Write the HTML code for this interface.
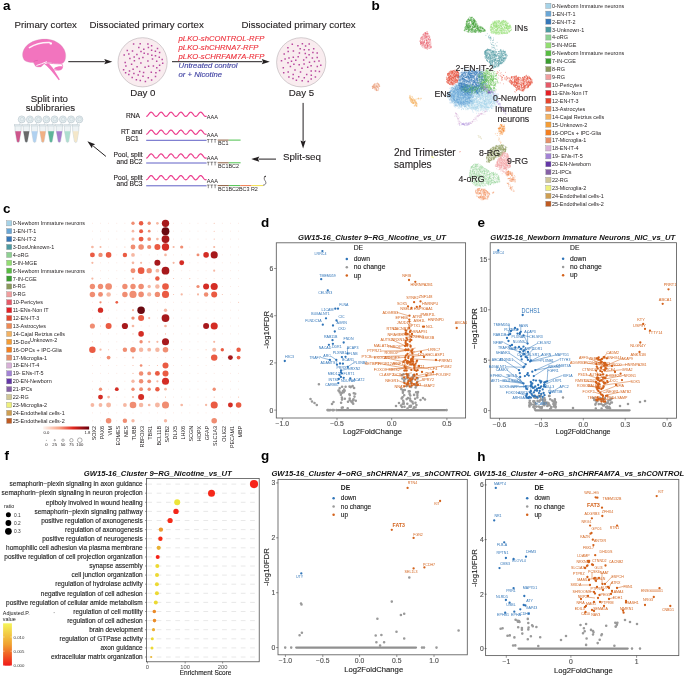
<!DOCTYPE html>
<html><head><meta charset="utf-8"><style>
html,body{margin:0;padding:0;background:#fff;}
svg{display:block;font-family:"Liberation Sans", sans-serif;will-change:transform;}
</style></head><body>
<svg width="685" height="677" viewBox="0 0 685 677" fill="#231f20">
<text x="3.1" y="10.3" font-size="13.5" font-weight="bold" fill="#000">a</text>
<text x="371.4" y="10.4" font-size="13.5" font-weight="bold" fill="#000">b</text>
<text x="3.0" y="212.5" font-size="13.5" font-weight="bold" fill="#000">c</text>
<text x="261.0" y="226.8" font-size="13.5" font-weight="bold" fill="#000">d</text>
<text x="477.6" y="226.8" font-size="13.5" font-weight="bold" fill="#000">e</text>
<text x="4.5" y="460.4" font-size="13.5" font-weight="bold" fill="#000">f</text>
<text x="261.1" y="459.9" font-size="13.5" font-weight="bold" fill="#000">g</text>
<text x="477.3" y="460.7" font-size="13.5" font-weight="bold" fill="#000">h</text>
<text x="14.5" y="28.4" font-size="9.7" stroke="#231f20" stroke-width="0.12">Primary cortex</text>
<text x="89.6" y="28.2" font-size="9.7" stroke="#231f20" stroke-width="0.12">Dissociated primary cortex</text>
<text x="241.5" y="28.2" font-size="9.7" stroke="#231f20" stroke-width="0.12">Dissociated primary cortex</text>
<path d="M24.1 60 C21.6 56 22 50.5 26.8 45.6 C31 41.4 38 39.1 44.6 39.1 C51.2 39.1 58 41.4 62.4 46.8 C65.8 51 66.6 56.5 64.8 60.8 C63.6 63 61.8 64 60 64.1 L47.2 62.3 C44.2 63.2 42.4 66 40.8 66.9 C38.6 67.3 36.2 66.9 35.3 65.9 C34.6 64.7 34.1 63.4 33.2 62.6 C29.6 62.6 26.2 61.9 24.1 60 Z" fill="#f274be" stroke="#c9a0b8" stroke-width="0.3"/>
<path d="M46.9 62.9 C51 63.5 56 63.9 61.6 63.8 C63.2 65.5 62.9 68 61 69.6 C58 70.6 54 70.1 51 69 C49 68 47.5 66 46.9 62.9Z" fill="#fff" stroke="#f274be" stroke-width="0.8"/>
<path d="M54 68.2 C56.5 66.6 59.5 66 62.4 66.4 C62.6 68 62 69.2 61 69.8 C58.6 70.6 56 70.2 54 68.2Z" fill="#f274be"/>
<path d="M44.4 64.3 C46.8 65.8 49 68 51 70.5 C53.5 73.6 56.4 77 58.8 80.2 L59.8 79.6 C58 76.4 55.8 72.6 53.8 69.6 C52.4 67.2 50.4 65.2 48.6 63.6 Z" fill="#f274be"/>
<path d="M36.4 65.5 C39.5 64.6 43.5 63 46.9 61.6" stroke="#fff" stroke-width="0.9" fill="none"/>
<path d="M29.4 47.6 C35 44.2 42 42.4 49.6 42.6" stroke="#fff" stroke-width="1.5" fill="none" stroke-linecap="round" stroke-opacity="0.9"/>
<circle cx="50.8" cy="43.4" r="1.2" fill="#fff"/>
<path d="M33.6 61.5 C34.8 60.7 36.4 60.4 37.8 60.4" stroke="#d0559c" stroke-width="0.5" fill="none"/>
<line x1="68.3" y1="61.7" x2="104.8" y2="61.7" stroke="#231f20" stroke-width="1.0"/>
<path d="M112.3 61.7L104.3 64.3L105.5 61.7L104.3 59.1Z" fill="#231f20"/>
<circle cx="142.6" cy="62.3" r="24.6" fill="#f9ecef" stroke="#a8a0a4" stroke-width="0.5"/>
<path d="M131.6 64.2h0M137.1 66.7h0M147.9 44.1h0M132.5 51.1h0M156.7 61.3h0M148.4 47.6h0M148.3 77.8h0M143.6 72.4h0M153.4 66.1h0M151.6 80.0h0M138.2 74.9h0M140.3 80.6h0M127.3 50.4h0M162.2 59.6h0M147.9 53.9h0M142.9 57.5h0M159.6 65.2h0M151.6 50.2h0M133.6 44.0h0M138.8 47.6h0M133.9 73.6h0M151.8 55.2h0M129.9 58.4h0M159.3 57.2h0M140.9 63.1h0M148.6 66.3h0M145.1 67.3h0M139.7 71.6h0M162.7 63.2h0M147.9 60.9h0M151.3 72.3h0M136.9 54.4h0M134.2 57.1h0M155.4 51.3h0M157.5 48.4h0M143.8 49.3h0M155.5 76.5h0M155.5 55.8h0M139.2 58.5h0M159.6 70.4h0M128.8 53.9h0M132.2 77.5h0M128.8 74.6h0M125.2 62.4h0M141.0 51.6h0M125.9 66.0h0M151.6 45.8h0M124.2 54.9h0M125.6 72.7h0M129.5 70.9h0M133.1 69.2h0M155.9 72.7h0M145.4 81.6h0M134.4 60.8h0M152.5 59.1h0M143.0 76.2h0M156.8 67.8h0M136.4 79.7h0M144.2 53.3h0M140.2 43.7h0M123.6 69.7h0M159.6 52.5h0" stroke="#b8479e" stroke-width="1.5" stroke-linecap="square" fill="none"/>
<circle cx="301.2" cy="62.3" r="24.6" fill="#f9ecef" stroke="#a8a0a4" stroke-width="0.5"/>
<path d="M299.2 64.8h0M319.0 60.9h0M288.0 62.8h0M306.7 74.6h0M284.2 54.0h0M307.7 67.2h0M302.4 43.8h0M288.2 51.5h0M281.5 60.8h0M298.7 76.7h0M302.0 68.2h0M299.4 53.0h0M315.5 71.0h0M293.4 50.9h0M292.3 44.2h0M312.4 58.1h0M283.3 67.7h0M312.9 52.6h0M313.7 48.8h0M303.7 60.1h0M288.2 72.0h0M285.1 59.0h0M293.0 78.5h0M289.0 57.9h0M290.4 66.6h0M295.8 60.3h0M304.3 77.7h0M287.9 47.8h0M317.3 66.6h0M297.9 45.7h0M305.3 53.6h0M300.5 72.0h0M311.2 79.1h0M311.2 70.9h0M295.0 70.1h0M306.4 57.4h0M311.1 65.7h0M283.7 72.8h0M309.5 62.2h0M317.2 57.4h0M315.4 76.9h0M293.2 74.5h0M308.9 49.7h0M300.2 48.8h0M319.4 71.6h0M293.3 57.3h0M288.9 77.0h0M304.3 49.7h0M309.2 44.1h0M291.5 61.2h0M309.1 54.8h0M311.3 75.3h0M320.8 65.2h0M302.2 80.7h0M305.6 46.1h0M293.9 64.3h0M298.2 56.8h0M317.2 53.1h0M314.5 61.4h0M296.4 80.3h0M304.1 64.1h0M308.2 81.4h0" stroke="#b8479e" stroke-width="1.5" stroke-linecap="square" fill="none"/>
<text x="130.2" y="96.3" font-size="9.7" stroke="#231f20" stroke-width="0.12">Day 0</text>
<text x="288.8" y="96.3" font-size="9.7" stroke="#231f20" stroke-width="0.12">Day 5</text>
<line x1="172.0" y1="61.7" x2="262.3" y2="61.7" stroke="#231f20" stroke-width="1.0"/>
<path d="M269.8 61.7L261.8 64.3L263.0 61.7L261.8 59.1Z" fill="#231f20"/>
<text x="178.6" y="40.5" font-size="7.7" font-style="italic" fill="#ed2f3a" stroke="#ed2f3a" stroke-width="0.12">pLKO-shCONTROL-RFP</text>
<text x="178.6" y="49.6" font-size="7.7" font-style="italic" fill="#ed2f3a" stroke="#ed2f3a" stroke-width="0.12">pLKO-shCHRNA7-RFP</text>
<text x="178.6" y="58.7" font-size="7.7" font-style="italic" fill="#ed2f3a" stroke="#ed2f3a" stroke-width="0.12">pLKO-sCHRFAM7A-RFP</text>
<text x="178.6" y="68.2" font-size="7.7" font-style="italic" fill="#3b3da0" stroke="#3b3da0" stroke-width="0.12">Untreated control</text>
<text x="178.6" y="77.2" font-size="7.7" font-style="italic" fill="#3b3da0" stroke="#3b3da0" stroke-width="0.12">or + Nicotine</text>
<line x1="303.1" y1="102.9" x2="303.1" y2="140.9" stroke="#231f20" stroke-width="1.0"/>
<path d="M303.1 148.4L300.5 140.4L303.1 141.6L305.7 140.4Z" fill="#231f20"/>
<text x="282.9" y="160.2" font-size="9.8" stroke="#231f20" stroke-width="0.12">Split-seq</text>
<line x1="276.0" y1="159.1" x2="258.8" y2="159.1" stroke="#231f20" stroke-width="1.0"/>
<path d="M251.3 159.1L259.3 156.5L258.1 159.1L259.3 161.7Z" fill="#231f20"/>
<line x1="105.9" y1="156.4" x2="93.2" y2="146.0" stroke="#231f20" stroke-width="1.0"/>
<path d="M87.4 141.2L95.2 144.3L92.7 145.5L91.9 148.3Z" fill="#231f20"/>
<text x="49.4" y="102.1" font-size="9.7" text-anchor="middle" stroke="#231f20" stroke-width="0.12">Split into</text>
<text x="50.4" y="111.0" font-size="9.7" text-anchor="middle" stroke="#231f20" stroke-width="0.12">sublibraries</text>
<circle cx="21.7" cy="119.4" r="3.5" fill="#e6eef1" stroke="#a4b4bb" stroke-width="0.45"/>
<circle cx="22.0" cy="119.2" r="1.8" fill="none" stroke="#b4c4cb" stroke-width="0.4"/>
<path d="M20.3 122.6 L19.3 125" stroke="#a4b4bb" stroke-width="0.4"/>
<path d="M14.9 125.2 L21.3 125.2 L21.1 131 L19.3 141.8 Q18.1 143.4 16.9 141.8 L15.1 131Z" fill="#eef3f5" stroke="#a9b8bf" stroke-width="0.4"/>
<path d="M15.2 131.2 L21.1 131.2 L19.2 141.6 Q18.1 143 17.0 141.6Z" fill="#c9457f" fill-opacity="0.9"/>
<rect x="14.5" y="124.6" width="7.2" height="1.4" fill="#e4ecef" stroke="#a9b8bf" stroke-width="0.3"/>
<circle cx="29.9" cy="119.4" r="3.5" fill="#e6eef1" stroke="#a4b4bb" stroke-width="0.45"/>
<circle cx="30.2" cy="119.2" r="1.8" fill="none" stroke="#b4c4cb" stroke-width="0.4"/>
<path d="M28.5 122.6 L27.5 125" stroke="#a4b4bb" stroke-width="0.4"/>
<path d="M23.1 125.2 L29.5 125.2 L29.3 131 L27.5 141.8 Q26.3 143.4 25.1 141.8 L23.3 131Z" fill="#eef3f5" stroke="#a9b8bf" stroke-width="0.4"/>
<path d="M23.4 131.2 L29.3 131.2 L27.4 141.6 Q26.3 143 25.2 141.6Z" fill="#5a5a5a" fill-opacity="0.9"/>
<rect x="22.7" y="124.6" width="7.2" height="1.4" fill="#e4ecef" stroke="#a9b8bf" stroke-width="0.3"/>
<circle cx="38.2" cy="119.4" r="3.5" fill="#e6eef1" stroke="#a4b4bb" stroke-width="0.45"/>
<circle cx="38.5" cy="119.2" r="1.8" fill="none" stroke="#b4c4cb" stroke-width="0.4"/>
<path d="M36.8 122.6 L35.8 125" stroke="#a4b4bb" stroke-width="0.4"/>
<path d="M31.4 125.2 L37.8 125.2 L37.6 131 L35.8 141.8 Q34.6 143.4 33.4 141.8 L31.6 131Z" fill="#eef3f5" stroke="#a9b8bf" stroke-width="0.4"/>
<path d="M31.6 131.2 L37.5 131.2 L35.7 141.6 Q34.6 143 33.5 141.6Z" fill="#a9cdef" fill-opacity="0.9"/>
<rect x="31.0" y="124.6" width="7.2" height="1.4" fill="#e4ecef" stroke="#a9b8bf" stroke-width="0.3"/>
<circle cx="46.4" cy="119.4" r="3.5" fill="#e6eef1" stroke="#a4b4bb" stroke-width="0.45"/>
<circle cx="46.7" cy="119.2" r="1.8" fill="none" stroke="#b4c4cb" stroke-width="0.4"/>
<path d="M45.0 122.6 L44.0 125" stroke="#a4b4bb" stroke-width="0.4"/>
<path d="M39.6 125.2 L46.0 125.2 L45.8 131 L44.0 141.8 Q42.8 143.4 41.6 141.8 L39.8 131Z" fill="#eef3f5" stroke="#a9b8bf" stroke-width="0.4"/>
<path d="M39.8 131.2 L45.7 131.2 L43.9 141.6 Q42.8 143 41.7 141.6Z" fill="#f0a878" fill-opacity="0.9"/>
<rect x="39.2" y="124.6" width="7.2" height="1.4" fill="#e4ecef" stroke="#a9b8bf" stroke-width="0.3"/>
<circle cx="54.6" cy="119.4" r="3.5" fill="#e6eef1" stroke="#a4b4bb" stroke-width="0.45"/>
<circle cx="54.9" cy="119.2" r="1.8" fill="none" stroke="#b4c4cb" stroke-width="0.4"/>
<path d="M53.2 122.6 L52.2 125" stroke="#a4b4bb" stroke-width="0.4"/>
<path d="M47.8 125.2 L54.2 125.2 L54.0 131 L52.2 141.8 Q51.0 143.4 49.8 141.8 L48.0 131Z" fill="#eef3f5" stroke="#a9b8bf" stroke-width="0.4"/>
<path d="M48.1 131.2 L54.0 131.2 L52.1 141.6 Q51.0 143 49.9 141.6Z" fill="#4fae8f" fill-opacity="0.9"/>
<rect x="47.4" y="124.6" width="7.2" height="1.4" fill="#e4ecef" stroke="#a9b8bf" stroke-width="0.3"/>
<circle cx="62.9" cy="119.4" r="3.5" fill="#e6eef1" stroke="#a4b4bb" stroke-width="0.45"/>
<circle cx="63.2" cy="119.2" r="1.8" fill="none" stroke="#b4c4cb" stroke-width="0.4"/>
<path d="M61.5 122.6 L60.5 125" stroke="#a4b4bb" stroke-width="0.4"/>
<path d="M56.1 125.2 L62.5 125.2 L62.3 131 L60.5 141.8 Q59.3 143.4 58.1 141.8 L56.3 131Z" fill="#eef3f5" stroke="#a9b8bf" stroke-width="0.4"/>
<path d="M56.3 131.2 L62.2 131.2 L60.4 141.6 Q59.3 143 58.2 141.6Z" fill="#a070c8" fill-opacity="0.9"/>
<rect x="55.7" y="124.6" width="7.2" height="1.4" fill="#e4ecef" stroke="#a9b8bf" stroke-width="0.3"/>
<circle cx="71.1" cy="119.4" r="3.5" fill="#e6eef1" stroke="#a4b4bb" stroke-width="0.45"/>
<circle cx="71.4" cy="119.2" r="1.8" fill="none" stroke="#b4c4cb" stroke-width="0.4"/>
<path d="M69.7 122.6 L68.7 125" stroke="#a4b4bb" stroke-width="0.4"/>
<path d="M64.3 125.2 L70.7 125.2 L70.5 131 L68.7 141.8 Q67.5 143.4 66.3 141.8 L64.5 131Z" fill="#eef3f5" stroke="#a9b8bf" stroke-width="0.4"/>
<path d="M64.5 131.2 L70.4 131.2 L68.6 141.6 Q67.5 143 66.4 141.6Z" fill="#a6dccb" fill-opacity="0.9"/>
<rect x="63.9" y="124.6" width="7.2" height="1.4" fill="#e4ecef" stroke="#a9b8bf" stroke-width="0.3"/>
<circle cx="79.3" cy="119.4" r="3.5" fill="#e6eef1" stroke="#a4b4bb" stroke-width="0.45"/>
<circle cx="79.6" cy="119.2" r="1.8" fill="none" stroke="#b4c4cb" stroke-width="0.4"/>
<path d="M77.9 122.6 L76.9 125" stroke="#a4b4bb" stroke-width="0.4"/>
<path d="M72.5 125.2 L78.9 125.2 L78.7 131 L76.9 141.8 Q75.7 143.4 74.5 141.8 L72.7 131Z" fill="#eef3f5" stroke="#a9b8bf" stroke-width="0.4"/>
<path d="M72.8 131.2 L78.7 131.2 L76.8 141.6 Q75.7 143 74.6 141.6Z" fill="#f4e6c4" fill-opacity="0.9"/>
<rect x="72.1" y="124.6" width="7.2" height="1.4" fill="#e4ecef" stroke="#a9b8bf" stroke-width="0.3"/>
<path d="M146.2 116.4L146.45 116.37L146.70 116.29L146.95 116.17L147.20 115.99L147.45 115.77L147.70 115.51L147.95 115.23L148.20 114.92L148.46 114.59L148.71 114.26L148.96 113.93L149.21 113.60L149.46 113.30L149.71 113.02L149.96 112.77L150.21 112.56L150.46 112.40L150.71 112.28L150.96 112.21L151.21 112.20L151.46 112.24L151.71 112.33L151.96 112.47L152.21 112.66L152.47 112.89L152.72 113.15L152.97 113.45L153.22 113.76L153.47 114.09L153.72 114.42L153.97 114.76L154.22 115.07L154.47 115.37L154.72 115.65L154.97 115.88L155.22 116.08L155.47 116.24L155.72 116.34L155.97 116.39L156.22 116.39L156.48 116.34L156.73 116.24L156.98 116.08L157.23 115.88L157.48 115.65L157.73 115.37L157.98 115.08L158.23 114.76L158.48 114.43L158.73 114.09L158.98 113.76L159.23 113.45L159.48 113.16L159.73 112.89L159.98 112.66L160.23 112.47L160.49 112.33L160.74 112.24L160.99 112.20L161.24 112.21L161.49 112.28L161.74 112.40L161.99 112.56L162.24 112.77L162.49 113.02L162.74 113.30L162.99 113.60L163.24 113.93L163.49 114.26L163.74 114.59L163.99 114.92L164.24 115.23L164.50 115.51L164.75 115.77L165.00 115.99L165.25 116.16L165.50 116.29L165.75 116.37L166.00 116.40L166.25 116.37L166.50 116.29L166.75 116.17L167.00 115.99L167.25 115.77L167.50 115.51L167.75 115.23L168.00 114.92L168.25 114.59L168.51 114.26L168.76 113.93L169.01 113.60L169.26 113.30L169.51 113.02L169.76 112.77L170.01 112.56L170.26 112.40L170.51 112.28L170.76 112.22L171.01 112.20L171.26 112.24L171.51 112.33L171.76 112.47L172.01 112.66L172.26 112.89L172.52 113.15L172.77 113.45L173.02 113.76L173.27 114.09L173.52 114.42L173.77 114.75L174.02 115.07L174.27 115.37L174.52 115.65L174.77 115.88L175.02 116.08L175.27 116.24L175.52 116.34L175.77 116.39L176.02 116.39L176.27 116.34L176.53 116.24L176.78 116.08L177.03 115.89L177.28 115.65L177.53 115.38L177.78 115.08L178.03 114.76L178.28 114.43L178.53 114.09L178.78 113.76L179.03 113.45L179.28 113.16L179.53 112.89L179.78 112.66L180.03 112.48L180.28 112.33L180.54 112.24L180.79 112.20L181.04 112.21L181.29 112.28L181.54 112.40L181.79 112.56L182.04 112.77L182.29 113.02L182.54 113.30L182.79 113.60L183.04 113.92L183.29 114.26L183.54 114.59L183.79 114.92L184.04 115.23L184.29 115.51L184.55 115.77L184.80 115.99L185.05 116.16L185.30 116.29L185.55 116.37L185.80 116.40L186.05 116.37L186.30 116.30L186.55 116.17L186.80 115.99L187.05 115.77L187.30 115.52L187.55 115.23L187.80 114.92L188.05 114.59L188.30 114.26L188.56 113.93L188.81 113.61L189.06 113.30L189.31 113.02L189.56 112.77L189.81 112.56L190.06 112.40L190.31 112.28L190.56 112.22L190.81 112.20L191.06 112.24L191.31 112.33L191.56 112.47L191.81 112.66L192.06 112.89L192.31 113.15L192.57 113.45L192.82 113.76L193.07 114.09L193.32 114.42L193.57 114.75L193.82 115.07L194.07 115.37L194.32 115.64L194.57 115.88L194.82 116.08L195.07 116.24L195.32 116.34L195.57 116.39L195.82 116.39L196.07 116.34L196.32 116.24L196.58 116.08L196.83 115.89L197.08 115.65L197.33 115.38L197.58 115.08L197.83 114.76L198.08 114.43L198.33 114.09L198.58 113.77L198.83 113.45L199.08 113.16L199.33 112.89L199.58 112.66L199.83 112.48L200.08 112.33L200.33 112.24L200.59 112.20L200.84 112.21L201.09 112.28L201.34 112.40L201.59 112.56L201.84 112.77L202.09 113.02L202.34 113.30L202.59 113.60L202.84 113.92L203.09 114.26L203.34 114.59L203.59 114.91L203.84 115.22L204.09 115.51L204.34 115.77L204.60 115.99L204.85 116.16L205.10 116.29L205.35 116.37L205.60 116.40L205.85 116.37L206.10 116.30L206.35 116.17L206.60 115.99" stroke="#ec3d8d" stroke-width="1.2" fill="none"/>
<text x="140.0" y="117.9" font-size="6.7" text-anchor="end" stroke="#231f20" stroke-width="0.12">RNA</text>
<text x="206.8" y="118.9" font-size="5.6">AAA</text>
<path d="M146.2 134.3L146.45 134.27L146.70 134.19L146.95 134.07L147.20 133.89L147.45 133.67L147.70 133.41L147.95 133.13L148.20 132.82L148.46 132.49L148.71 132.16L148.96 131.83L149.21 131.50L149.46 131.20L149.71 130.92L149.96 130.67L150.21 130.46L150.46 130.30L150.71 130.18L150.96 130.11L151.21 130.10L151.46 130.14L151.71 130.23L151.96 130.37L152.21 130.56L152.47 130.79L152.72 131.05L152.97 131.35L153.22 131.66L153.47 131.99L153.72 132.32L153.97 132.66L154.22 132.97L154.47 133.27L154.72 133.55L154.97 133.78L155.22 133.98L155.47 134.14L155.72 134.24L155.97 134.29L156.22 134.29L156.48 134.24L156.73 134.14L156.98 133.98L157.23 133.78L157.48 133.55L157.73 133.27L157.98 132.98L158.23 132.66L158.48 132.33L158.73 131.99L158.98 131.66L159.23 131.35L159.48 131.06L159.73 130.79L159.98 130.56L160.23 130.37L160.49 130.23L160.74 130.14L160.99 130.10L161.24 130.11L161.49 130.18L161.74 130.30L161.99 130.46L162.24 130.67L162.49 130.92L162.74 131.20L162.99 131.50L163.24 131.83L163.49 132.16L163.74 132.49L163.99 132.82L164.24 133.13L164.50 133.41L164.75 133.67L165.00 133.89L165.25 134.06L165.50 134.19L165.75 134.27L166.00 134.30L166.25 134.27L166.50 134.19L166.75 134.07L167.00 133.89L167.25 133.67L167.50 133.41L167.75 133.13L168.00 132.82L168.25 132.49L168.51 132.16L168.76 131.83L169.01 131.50L169.26 131.20L169.51 130.92L169.76 130.67L170.01 130.46L170.26 130.30L170.51 130.18L170.76 130.12L171.01 130.10L171.26 130.14L171.51 130.23L171.76 130.37L172.01 130.56L172.26 130.79L172.52 131.05L172.77 131.35L173.02 131.66L173.27 131.99L173.52 132.32L173.77 132.65L174.02 132.97L174.27 133.27L174.52 133.55L174.77 133.78L175.02 133.98L175.27 134.14L175.52 134.24L175.77 134.29L176.02 134.29L176.27 134.24L176.53 134.14L176.78 133.98L177.03 133.79L177.28 133.55L177.53 133.28L177.78 132.98L178.03 132.66L178.28 132.33L178.53 131.99L178.78 131.66L179.03 131.35L179.28 131.06L179.53 130.79L179.78 130.56L180.03 130.38L180.28 130.23L180.54 130.14L180.79 130.10L181.04 130.11L181.29 130.18L181.54 130.30L181.79 130.46L182.04 130.67L182.29 130.92L182.54 131.20L182.79 131.50L183.04 131.82L183.29 132.16L183.54 132.49L183.79 132.82L184.04 133.13L184.29 133.41L184.55 133.67L184.80 133.89L185.05 134.06L185.30 134.19L185.55 134.27L185.80 134.30L186.05 134.27L186.30 134.20L186.55 134.07L186.80 133.89L187.05 133.67L187.30 133.42L187.55 133.13L187.80 132.82L188.05 132.49L188.30 132.16L188.56 131.83L188.81 131.51L189.06 131.20L189.31 130.92L189.56 130.67L189.81 130.46L190.06 130.30L190.31 130.18L190.56 130.12L190.81 130.10L191.06 130.14L191.31 130.23L191.56 130.37L191.81 130.56L192.06 130.79L192.31 131.05L192.57 131.35L192.82 131.66L193.07 131.99L193.32 132.32L193.57 132.65L193.82 132.97L194.07 133.27L194.32 133.54L194.57 133.78L194.82 133.98L195.07 134.14L195.32 134.24L195.57 134.29L195.82 134.29L196.07 134.24L196.32 134.14L196.58 133.98L196.83 133.79L197.08 133.55L197.33 133.28L197.58 132.98L197.83 132.66L198.08 132.33L198.33 131.99L198.58 131.67L198.83 131.35L199.08 131.06L199.33 130.79L199.58 130.56L199.83 130.38L200.08 130.23L200.33 130.14L200.59 130.10L200.84 130.11L201.09 130.18L201.34 130.30L201.59 130.46L201.84 130.67L202.09 130.92L202.34 131.20L202.59 131.50L202.84 131.82L203.09 132.16L203.34 132.49L203.59 132.81L203.84 133.12L204.09 133.41L204.34 133.67L204.60 133.89L204.85 134.06L205.10 134.19L205.35 134.27L205.60 134.30L205.85 134.27L206.10 134.20L206.35 134.07L206.60 133.89" stroke="#ec3d8d" stroke-width="1.2" fill="none"/>
<text x="142.6" y="134.3" font-size="6.7" text-anchor="end" stroke="#231f20" stroke-width="0.12">RT and</text>
<text x="138.8" y="141.2" font-size="6.7" text-anchor="end" stroke="#231f20" stroke-width="0.12">BC1</text>
<line x1="146.2" y1="140.3" x2="206.6" y2="140.3" stroke="#4f4fc0" stroke-width="0.9"/>
<text x="206.8" y="137.0" font-size="5.6">AAA</text>
<path d="M207.0 139.5h2.6M208.3 139.5v3.2" stroke="#231f20" stroke-width="0.5"/>
<path d="M210.4 139.5h2.6M211.7 139.5v3.2" stroke="#231f20" stroke-width="0.5"/>
<path d="M213.8 139.5h2.6M215.1 139.5v3.2" stroke="#231f20" stroke-width="0.5"/>
<line x1="217.7" y1="140.1" x2="228.7" y2="140.1" stroke="#8b5a3c" stroke-width="1.0"/>
<line x1="228.7" y1="140.1" x2="240.6" y2="140.1" stroke="#4cc04c" stroke-width="1.0"/>
<text x="218.0" y="145.3" font-size="5.4">BC1</text>
<path d="M146.2 158.1L146.45 158.07L146.70 157.99L146.95 157.87L147.20 157.69L147.45 157.47L147.70 157.21L147.95 156.93L148.20 156.62L148.46 156.29L148.71 155.96L148.96 155.63L149.21 155.30L149.46 155.00L149.71 154.72L149.96 154.47L150.21 154.26L150.46 154.10L150.71 153.98L150.96 153.91L151.21 153.90L151.46 153.94L151.71 154.03L151.96 154.17L152.21 154.36L152.47 154.59L152.72 154.85L152.97 155.15L153.22 155.46L153.47 155.79L153.72 156.12L153.97 156.46L154.22 156.77L154.47 157.07L154.72 157.35L154.97 157.58L155.22 157.78L155.47 157.94L155.72 158.04L155.97 158.09L156.22 158.09L156.48 158.04L156.73 157.94L156.98 157.78L157.23 157.58L157.48 157.35L157.73 157.07L157.98 156.78L158.23 156.46L158.48 156.13L158.73 155.79L158.98 155.46L159.23 155.15L159.48 154.86L159.73 154.59L159.98 154.36L160.23 154.17L160.49 154.03L160.74 153.94L160.99 153.90L161.24 153.91L161.49 153.98L161.74 154.10L161.99 154.26L162.24 154.47L162.49 154.72L162.74 155.00L162.99 155.30L163.24 155.63L163.49 155.96L163.74 156.29L163.99 156.62L164.24 156.93L164.50 157.21L164.75 157.47L165.00 157.69L165.25 157.86L165.50 157.99L165.75 158.07L166.00 158.10L166.25 158.07L166.50 157.99L166.75 157.87L167.00 157.69L167.25 157.47L167.50 157.21L167.75 156.93L168.00 156.62L168.25 156.29L168.51 155.96L168.76 155.63L169.01 155.30L169.26 155.00L169.51 154.72L169.76 154.47L170.01 154.26L170.26 154.10L170.51 153.98L170.76 153.92L171.01 153.90L171.26 153.94L171.51 154.03L171.76 154.17L172.01 154.36L172.26 154.59L172.52 154.85L172.77 155.15L173.02 155.46L173.27 155.79L173.52 156.12L173.77 156.45L174.02 156.77L174.27 157.07L174.52 157.35L174.77 157.58L175.02 157.78L175.27 157.94L175.52 158.04L175.77 158.09L176.02 158.09L176.27 158.04L176.53 157.94L176.78 157.78L177.03 157.59L177.28 157.35L177.53 157.08L177.78 156.78L178.03 156.46L178.28 156.13L178.53 155.79L178.78 155.46L179.03 155.15L179.28 154.86L179.53 154.59L179.78 154.36L180.03 154.18L180.28 154.03L180.54 153.94L180.79 153.90L181.04 153.91L181.29 153.98L181.54 154.10L181.79 154.26L182.04 154.47L182.29 154.72L182.54 155.00L182.79 155.30L183.04 155.62L183.29 155.96L183.54 156.29L183.79 156.62L184.04 156.93L184.29 157.21L184.55 157.47L184.80 157.69L185.05 157.86L185.30 157.99L185.55 158.07L185.80 158.10L186.05 158.07L186.30 158.00L186.55 157.87L186.80 157.69L187.05 157.47L187.30 157.22L187.55 156.93L187.80 156.62L188.05 156.29L188.30 155.96L188.56 155.63L188.81 155.31L189.06 155.00L189.31 154.72L189.56 154.47L189.81 154.26L190.06 154.10L190.31 153.98L190.56 153.92L190.81 153.90L191.06 153.94L191.31 154.03L191.56 154.17L191.81 154.36L192.06 154.59L192.31 154.85L192.57 155.15L192.82 155.46L193.07 155.79L193.32 156.12L193.57 156.45L193.82 156.77L194.07 157.07L194.32 157.34L194.57 157.58L194.82 157.78L195.07 157.94L195.32 158.04L195.57 158.09L195.82 158.09L196.07 158.04L196.32 157.94L196.58 157.78L196.83 157.59L197.08 157.35L197.33 157.08L197.58 156.78L197.83 156.46L198.08 156.13L198.33 155.79L198.58 155.47L198.83 155.15L199.08 154.86L199.33 154.59L199.58 154.36L199.83 154.18L200.08 154.03L200.33 153.94L200.59 153.90L200.84 153.91L201.09 153.98L201.34 154.10L201.59 154.26L201.84 154.47L202.09 154.72L202.34 155.00L202.59 155.30L202.84 155.62L203.09 155.96L203.34 156.29L203.59 156.61L203.84 156.92L204.09 157.21L204.34 157.47L204.60 157.69L204.85 157.86L205.10 157.99L205.35 158.07L205.60 158.10L205.85 158.07L206.10 158.00L206.35 157.87L206.60 157.69" stroke="#ec3d8d" stroke-width="1.2" fill="none"/>
<text x="142.6" y="157.4" font-size="6.7" text-anchor="end" stroke="#231f20" stroke-width="0.12">Pool, split</text>
<text x="142.6" y="164.3" font-size="6.7" text-anchor="end" stroke="#231f20" stroke-width="0.12">and BC2</text>
<line x1="146.2" y1="163.0" x2="206.6" y2="163.0" stroke="#4f4fc0" stroke-width="0.9"/>
<text x="206.8" y="159.7" font-size="5.6">AAA</text>
<path d="M207.0 162.2h2.6M208.3 162.2v3.2" stroke="#231f20" stroke-width="0.5"/>
<path d="M210.4 162.2h2.6M211.7 162.2v3.2" stroke="#231f20" stroke-width="0.5"/>
<path d="M213.8 162.2h2.6M215.1 162.2v3.2" stroke="#231f20" stroke-width="0.5"/>
<line x1="217.7" y1="162.8" x2="228.7" y2="162.8" stroke="#8b5a3c" stroke-width="1.0"/>
<line x1="228.7" y1="162.8" x2="240.6" y2="162.8" stroke="#4cc04c" stroke-width="1.0"/>
<text x="218.0" y="168.0" font-size="5.4">BC1BC2</text>
<path d="M146.2 179.8L146.45 179.77L146.70 179.69L146.95 179.57L147.20 179.39L147.45 179.17L147.70 178.91L147.95 178.63L148.20 178.32L148.46 177.99L148.71 177.66L148.96 177.33L149.21 177.00L149.46 176.70L149.71 176.42L149.96 176.17L150.21 175.96L150.46 175.80L150.71 175.68L150.96 175.61L151.21 175.60L151.46 175.64L151.71 175.73L151.96 175.87L152.21 176.06L152.47 176.29L152.72 176.55L152.97 176.85L153.22 177.16L153.47 177.49L153.72 177.82L153.97 178.16L154.22 178.47L154.47 178.77L154.72 179.05L154.97 179.28L155.22 179.48L155.47 179.64L155.72 179.74L155.97 179.79L156.22 179.79L156.48 179.74L156.73 179.64L156.98 179.48L157.23 179.28L157.48 179.05L157.73 178.77L157.98 178.48L158.23 178.16L158.48 177.83L158.73 177.49L158.98 177.16L159.23 176.85L159.48 176.56L159.73 176.29L159.98 176.06L160.23 175.87L160.49 175.73L160.74 175.64L160.99 175.60L161.24 175.61L161.49 175.68L161.74 175.80L161.99 175.96L162.24 176.17L162.49 176.42L162.74 176.70L162.99 177.00L163.24 177.33L163.49 177.66L163.74 177.99L163.99 178.32L164.24 178.63L164.50 178.91L164.75 179.17L165.00 179.39L165.25 179.56L165.50 179.69L165.75 179.77L166.00 179.80L166.25 179.77L166.50 179.69L166.75 179.57L167.00 179.39L167.25 179.17L167.50 178.91L167.75 178.63L168.00 178.32L168.25 177.99L168.51 177.66L168.76 177.33L169.01 177.00L169.26 176.70L169.51 176.42L169.76 176.17L170.01 175.96L170.26 175.80L170.51 175.68L170.76 175.62L171.01 175.60L171.26 175.64L171.51 175.73L171.76 175.87L172.01 176.06L172.26 176.29L172.52 176.55L172.77 176.85L173.02 177.16L173.27 177.49L173.52 177.82L173.77 178.15L174.02 178.47L174.27 178.77L174.52 179.05L174.77 179.28L175.02 179.48L175.27 179.64L175.52 179.74L175.77 179.79L176.02 179.79L176.27 179.74L176.53 179.64L176.78 179.48L177.03 179.29L177.28 179.05L177.53 178.78L177.78 178.48L178.03 178.16L178.28 177.83L178.53 177.49L178.78 177.16L179.03 176.85L179.28 176.56L179.53 176.29L179.78 176.06L180.03 175.88L180.28 175.73L180.54 175.64L180.79 175.60L181.04 175.61L181.29 175.68L181.54 175.80L181.79 175.96L182.04 176.17L182.29 176.42L182.54 176.70L182.79 177.00L183.04 177.32L183.29 177.66L183.54 177.99L183.79 178.32L184.04 178.63L184.29 178.91L184.55 179.17L184.80 179.39L185.05 179.56L185.30 179.69L185.55 179.77L185.80 179.80L186.05 179.77L186.30 179.70L186.55 179.57L186.80 179.39L187.05 179.17L187.30 178.92L187.55 178.63L187.80 178.32L188.05 177.99L188.30 177.66L188.56 177.33L188.81 177.01L189.06 176.70L189.31 176.42L189.56 176.17L189.81 175.96L190.06 175.80L190.31 175.68L190.56 175.62L190.81 175.60L191.06 175.64L191.31 175.73L191.56 175.87L191.81 176.06L192.06 176.29L192.31 176.55L192.57 176.85L192.82 177.16L193.07 177.49L193.32 177.82L193.57 178.15L193.82 178.47L194.07 178.77L194.32 179.04L194.57 179.28L194.82 179.48L195.07 179.64L195.32 179.74L195.57 179.79L195.82 179.79L196.07 179.74L196.32 179.64L196.58 179.48L196.83 179.29L197.08 179.05L197.33 178.78L197.58 178.48L197.83 178.16L198.08 177.83L198.33 177.49L198.58 177.17L198.83 176.85L199.08 176.56L199.33 176.29L199.58 176.06L199.83 175.88L200.08 175.73L200.33 175.64L200.59 175.60L200.84 175.61L201.09 175.68L201.34 175.80L201.59 175.96L201.84 176.17L202.09 176.42L202.34 176.70L202.59 177.00L202.84 177.32L203.09 177.66L203.34 177.99L203.59 178.31L203.84 178.62L204.09 178.91L204.34 179.17L204.60 179.39L204.85 179.56L205.10 179.69L205.35 179.77L205.60 179.80L205.85 179.77L206.10 179.70L206.35 179.57L206.60 179.39" stroke="#ec3d8d" stroke-width="1.2" fill="none"/>
<text x="142.6" y="179.5" font-size="6.7" text-anchor="end" stroke="#231f20" stroke-width="0.12">Pool, split</text>
<text x="142.6" y="186.4" font-size="6.7" text-anchor="end" stroke="#231f20" stroke-width="0.12">and BC3</text>
<line x1="146.2" y1="185.8" x2="206.6" y2="185.8" stroke="#4f4fc0" stroke-width="0.9"/>
<text x="206.8" y="182.5" font-size="5.6">AAA</text>
<path d="M207.0 185.0h2.6M208.3 185.0v3.2" stroke="#231f20" stroke-width="0.5"/>
<path d="M210.4 185.0h2.6M211.7 185.0v3.2" stroke="#231f20" stroke-width="0.5"/>
<path d="M213.8 185.0h2.6M215.1 185.0v3.2" stroke="#231f20" stroke-width="0.5"/>
<line x1="217.7" y1="185.6" x2="228.9" y2="185.6" stroke="#8b5a3c" stroke-width="1.0"/>
<line x1="228.9" y1="185.6" x2="240.2" y2="185.6" stroke="#4cc04c" stroke-width="1.0"/>
<line x1="240.2" y1="185.6" x2="251.5" y2="185.6" stroke="#f07a4a" stroke-width="1.0"/>
<line x1="251.5" y1="185.6" x2="263" y2="185.6" stroke="#f2e04a" stroke-width="1.0"/>
<text x="218.0" y="190.8" font-size="5.4">BC1BC2BC3 R2</text>
<path d="M263 185.2 C266 185 266.6 182.6 265 180.6 C263.6 178.8 264.2 177 265.2 176" stroke="#231f20" stroke-width="0.6" fill="none"/>
<path d="M264.2 176.6 L265.6 175.4 L266 177.2Z" fill="#231f20"/>
<path d="M482.4 28.3h0M477.3 26.2h0M473.5 22.8h0M479.9 32.4h0M473.8 20.8h0M474.2 21.6h0M472.4 30.8h0M475.6 25.5h0M471.2 18.7h0M475.2 32.5h0M483.7 29.2h0M480.2 31.0h0M480.8 29.1h0M471.8 32.2h0M480.6 27.9h0M474.2 25.0h0M474.8 31.3h0M475.0 29.8h0M471.8 30.6h0M476.5 31.2h0M468.9 21.7h0M475.1 24.8h0M478.3 25.9h0M470.9 19.8h0M475.3 31.4h0M482.0 28.1h0M469.0 30.5h0M466.3 24.9h0M468.6 30.6h0M473.3 28.0h0M467.8 27.3h0M468.0 27.6h0M472.5 17.2h0M477.5 28.4h0M466.5 21.9h0M480.9 28.3h0M483.8 28.6h0M483.0 27.8h0M474.4 20.1h0M466.2 23.7h0M466.1 26.7h0M475.2 32.2h0M469.1 23.6h0M469.5 26.0h0M477.7 29.3h0M473.3 24.9h0M473.0 18.3h0M469.1 20.0h0M475.5 23.9h0M470.8 26.8h0M468.7 31.0h0M473.5 24.7h0M473.2 24.9h0M475.4 31.2h0M482.5 27.3h0M473.0 24.3h0M468.6 25.9h0M472.2 31.5h0M465.7 28.6h0M468.2 25.6h0M472.6 23.9h0M465.8 30.1h0M478.1 31.9h0M478.5 28.9h0M471.9 23.8h0M475.6 24.1h0M484.5 29.9h0M470.5 20.2h0M474.8 20.7h0M473.4 27.4h0M471.8 32.5h0M467.2 23.2h0M470.5 20.2h0M478.8 27.4h0M473.7 24.9h0M466.5 25.2h0M466.1 24.8h0M477.1 30.6h0M468.0 24.7h0M474.6 23.0h0M479.6 31.5h0M480.4 27.0h0M480.8 30.1h0M468.9 26.4h0M472.9 27.2h0M479.7 30.6h0M478.3 29.6h0M480.0 26.2h0M483.9 30.7h0M466.2 29.5h0M468.2 29.4h0M467.0 26.3h0M473.6 20.6h0M476.5 24.0h0M468.5 32.0h0M474.7 29.9h0M478.5 28.6h0M474.7 27.3h0M471.4 20.8h0M465.8 28.6h0M467.8 28.5h0M478.8 29.1h0M467.6 22.6h0M474.2 21.2h0M475.8 22.6h0M473.7 30.4h0M470.8 26.9h0M474.6 25.1h0M478.2 29.2h0M475.7 30.1h0M470.8 20.2h0M474.1 20.2h0M470.1 31.8h0M466.5 29.6h0M472.3 22.3h0M471.0 17.7h0M474.1 19.2h0M473.7 21.2h0M483.7 31.2h0M473.7 26.7h0M468.2 27.4h0M472.2 22.2h0M472.8 29.7h0M471.5 30.6h0M479.2 31.7h0M480.3 28.5h0M483.1 31.5h0M480.6 32.2h0M470.4 26.5h0M472.7 19.3h0M474.5 30.8h0M468.1 31.9h0M471.7 22.2h0M484.2 30.6h0M470.3 26.7h0M467.3 21.6h0M469.5 23.2h0M469.5 22.0h0M469.4 20.3h0M472.2 28.8h0M475.5 30.0h0M471.4 28.8h0M474.4 26.4h0M471.0 29.9h0M477.1 25.9h0M475.8 32.3h0M474.0 23.1h0M466.8 31.5h0M479.0 31.1h0M466.3 22.1h0M465.1 30.9h0M469.3 24.2h0M468.4 31.2h0M479.0 30.5h0M467.1 24.4h0M472.3 26.5h0M482.9 31.0h0M466.3 29.6h0M472.3 21.3h0M473.5 23.3h0M472.8 29.3h0M474.4 21.1h0M480.8 32.3h0M469.0 27.7h0M479.4 27.0h0M468.4 19.6h0M476.8 26.8h0M477.8 28.4h0M465.1 28.9h0M482.1 29.9h0M468.3 18.2h0M478.0 25.2h0M468.1 31.8h0M485.5 30.9h0M474.2 21.2h0M468.6 29.7h0M473.1 23.1h0M471.3 25.1h0M472.6 24.9h0M481.0 27.6h0M474.0 22.0h0M474.4 20.6h0M468.2 24.1h0M468.2 24.0h0M467.7 26.2h0M477.5 27.0h0M470.8 19.8h0M464.3 30.4h0M468.4 21.5h0M471.0 20.6h0M473.7 23.2h0M467.3 26.2h0M472.3 17.5h0M476.9 31.1h0M481.6 31.2h0M467.3 21.3h0M468.5 27.8h0M469.2 19.9h0M465.4 27.2h0M467.0 26.4h0M472.6 23.5h0M474.4 22.6h0M468.7 20.1h0M475.7 29.6h0M475.2 24.8h0M479.5 28.3h0M467.1 21.6h0M475.8 26.4h0M478.2 31.6h0M466.2 25.4h0M465.9 27.2h0M473.6 18.7h0M470.8 27.1h0M474.4 31.6h0M471.8 21.9h0M466.4 29.0h0M472.0 31.7h0M478.0 29.4h0M471.5 29.9h0M475.9 26.3h0M473.6 23.2h0M469.4 29.1h0M469.1 19.5h0M475.0 21.0h0M475.4 24.9h0M472.9 31.1h0M466.8 23.3h0M474.1 22.5h0M475.4 23.5h0M473.6 31.7h0M481.6 26.9h0M467.6 26.0h0M466.8 22.1h0M473.7 23.9h0M473.3 20.8h0M468.8 28.5h0M485.0 29.6h0M470.6 29.9h0M476.5 27.5h0M469.4 27.9h0M472.0 30.1h0M474.2 27.1h0M476.2 25.1h0M474.1 31.7h0M475.1 30.9h0M480.4 26.9h0M477.2 26.5h0M474.0 31.9h0M477.6 28.8h0M467.2 27.1h0M475.0 32.3h0M472.9 26.8h0M481.2 30.8h0M478.7 27.2h0M477.3 28.2h0M467.9 29.8h0M471.2 17.8h0M471.3 24.2h0M470.7 29.8h0M476.5 28.1h0M474.2 21.0h0M475.1 25.7h0M469.3 30.0h0M469.3 29.5h0M472.9 24.1h0M472.0 19.4h0M468.4 27.7h0M484.3 30.0h0M477.5 29.2h0M465.8 29.0h0M468.3 19.5h0M472.7 29.9h0M464.2 30.5h0M470.7 25.6h0M481.7 30.6h0M474.0 31.9h0M464.6 30.7h0M468.6 23.2h0M466.8 25.9h0M474.2 19.7h0M469.0 26.4h0M478.0 29.4h0M478.2 30.1h0M467.4 31.3h0M466.3 28.9h0M475.1 31.2h0M468.3 25.4h0M478.1 28.0h0M482.9 28.6h0M467.0 28.3h0M474.6 21.2h0M465.4 26.5h0M482.1 30.9h0M471.7 30.0h0M467.4 21.3h0M476.5 30.6h0M471.4 17.9h0M468.1 23.5h0M473.0 27.0h0M471.6 19.5h0M464.9 27.5h0M472.3 23.2h0M469.9 25.1h0M482.3 28.0h0M467.9 27.1h0M477.7 27.9h0M475.8 21.5h0M475.1 20.3h0M474.0 23.0h0M471.6 22.8h0M476.4 28.4h0M469.7 25.4h0M471.4 20.1h0M484.5 29.8h0M473.3 27.5h0M472.4 21.5h0M467.4 20.8h0M469.9 20.6h0M469.1 24.8h0M473.2 24.2h0M482.5 28.8h0M476.7 24.9h0M484.4 30.7h0M474.3 26.7h0M467.5 20.0h0M481.9 28.3h0M485.4 30.7h0M475.2 30.8h0M475.3 28.3h0M476.4 30.9h0M481.4 30.8h0M469.6 21.0h0M469.8 16.9h0M471.1 21.2h0M474.3 19.4h0M478.9 30.6h0M473.2 20.1h0M472.4 27.4h0M467.0 27.6h0M470.5 27.0h0M467.8 29.1h0M473.2 29.8h0M484.7 31.0h0M477.5 25.9h0M468.5 28.0h0M482.6 28.8h0M484.5 30.9h0M466.3 27.1h0M478.8 27.0h0M473.1 20.3h0M483.5 31.0h0M469.3 20.4h0M468.8 27.2h0M479.2 30.5h0M468.5 18.6h0M466.3 24.4h0M468.1 19.9h0M470.2 17.9h0M481.1 31.9h0M470.8 17.9h0M474.4 27.0h0M475.8 26.8h0M469.1 26.5h0M466.9 23.9h0M477.4 24.2h0M472.2 26.9h0M473.5 19.7h0M471.4 21.4h0M467.0 25.9h0M474.4 21.7h0M470.5 29.1h0M468.5 29.9h0M466.5 25.5h0M477.1 26.5h0M484.0 31.2h0M481.0 29.4h0M478.4 32.2h0M474.3 26.8h0M476.9 30.0h0M471.3 17.7h0M480.7 30.3h0M467.7 19.6h0M473.3 30.0h0M470.0 26.5h0M474.7 27.0h0M471.0 29.5h0M474.1 23.4h0M480.0 27.2h0M479.6 30.5h0M478.2 30.3h0M465.2 27.0h0M475.6 23.0h0M466.6 21.1h0M480.5 30.6h0M483.4 29.7h0M467.6 27.5h0M483.1 28.5h0M470.1 27.7h0M472.6 23.4h0M480.1 27.3h0M467.0 26.8h0M482.1 31.1h0M469.6 28.7h0M468.0 24.5h0M471.7 17.8h0M473.5 25.3h0M468.6 20.8h0M482.0 31.5h0M468.7 24.2h0M475.5 24.4h0M475.6 26.9h0M475.7 29.6h0M466.2 23.9h0M467.8 26.4h0M467.2 25.2h0M471.4 29.0h0M477.4 26.2h0M469.5 25.9h0M465.2 29.4h0M468.7 26.0h0M477.3 27.8h0M471.1 25.0h0M469.4 20.7h0M479.9 27.4h0M474.2 29.1h0M482.7 28.5h0M480.2 31.2h0M473.0 23.3h0M477.5 30.5h0M470.2 28.6h0M466.4 27.3h0M470.6 31.5h0M474.8 25.3h0M476.5 24.8h0M476.9 25.4h0M473.5 22.7h0M472.7 32.4h0M472.7 28.8h0M473.1 23.7h0M484.2 29.5h0M475.7 26.6h0M464.6 29.5h0M469.5 27.1h0M472.3 20.8h0M469.8 30.4h0M468.0 29.1h0M476.5 28.6h0M479.3 30.7h0M466.3 23.1h0M466.6 21.5h0M470.0 32.2h0M473.3 23.1h0M467.2 25.0h0M479.5 29.5h0M469.2 30.7h0M475.0 20.9h0M479.0 30.3h0M469.8 20.5h0M470.6 20.0h0M468.1 32.0h0M471.5 29.4h0M468.9 19.6h0M475.0 25.0h0M471.4 28.6h0M470.6 24.3h0M474.6 26.6h0M475.4 21.1h0M466.9 20.9h0M478.1 27.4h0M481.1 27.6h0M476.8 23.4h0M475.9 29.3h0M478.9 28.9h0M470.8 26.1h0M469.2 25.7h0M480.0 31.1h0M474.7 30.5h0M476.2 22.0h0M472.7 26.1h0M480.6 30.3h0M471.1 25.8h0M477.9 27.5h0M476.8 23.9h0M468.0 27.2h0M474.0 22.0h0M469.9 18.0h0M472.4 23.2h0M479.5 29.6h0M467.0 25.5h0M472.1 28.1h0M468.8 27.5h0M471.9 21.0h0M468.0 28.6h0M475.1 25.2h0M476.0 21.8h0M469.4 29.8h0M469.3 23.1h0M473.5 18.7h0M475.0 26.5h0M471.3 31.9h0M475.7 27.4h0M473.0 24.4h0M472.5 28.7h0M474.2 27.6h0M481.3 27.1h0M472.7 29.9h0M477.5 26.1h0M477.1 28.5h0M480.3 31.1h0M473.2 22.9h0M472.3 28.8h0M467.3 28.8h0M470.6 18.8h0M464.9 28.2h0M471.3 17.1h0M476.1 32.3h0M469.3 27.5h0M473.6 25.0h0M472.9 27.7h0M471.7 24.2h0" stroke="#3b9e31" stroke-width="0.90" stroke-linecap="round" fill="none" stroke-opacity="0.5"/>
<path d="M494.9 27.9h0M497.8 28.8h0M503.6 21.0h0M495.3 23.4h0M508.3 26.9h0M503.9 22.2h0M503.8 32.6h0M501.3 30.7h0M504.6 20.9h0M506.6 28.6h0M509.0 26.9h0M505.7 32.7h0M505.6 33.4h0M498.4 31.6h0M499.5 33.6h0M492.6 23.1h0M503.6 24.4h0M500.9 25.6h0M497.4 28.5h0M502.6 33.1h0M504.8 33.5h0M504.6 22.4h0M509.9 28.3h0M505.6 23.1h0M508.2 28.3h0M495.9 20.9h0M491.5 31.6h0M498.7 22.2h0M496.1 31.1h0M503.3 20.7h0M505.7 24.8h0M496.5 21.1h0M503.0 20.5h0M493.9 25.9h0M503.2 22.3h0M496.6 33.9h0M509.7 25.5h0M499.9 27.5h0M504.0 28.6h0M502.1 29.0h0M510.7 27.4h0M499.2 30.4h0M494.8 24.4h0M498.8 28.4h0M490.0 28.9h0M503.7 20.9h0M503.6 26.8h0M504.8 25.1h0M505.4 30.7h0M495.2 26.6h0M502.8 24.6h0M497.7 24.5h0M497.8 28.6h0M496.3 25.5h0M502.3 30.7h0M496.5 23.2h0M507.6 23.5h0M493.7 26.3h0M505.2 21.5h0M496.7 24.8h0M508.3 26.4h0M497.1 29.4h0M509.4 26.5h0M494.6 21.8h0M501.4 22.8h0M507.7 32.2h0M493.6 24.0h0M507.7 29.3h0M507.6 25.0h0M492.4 24.2h0M507.4 23.9h0M497.3 26.0h0M498.9 25.9h0M499.3 33.8h0M506.3 32.1h0M504.4 27.5h0M496.0 24.9h0M502.7 24.2h0M509.8 30.1h0M509.7 28.4h0M493.4 24.3h0M504.4 27.6h0M498.8 33.6h0M503.3 24.9h0M495.2 32.5h0M500.2 31.3h0M497.4 22.9h0M501.5 31.8h0M493.4 31.5h0M503.6 32.5h0M495.5 27.6h0M499.0 26.9h0M491.4 27.3h0M496.6 24.6h0M497.4 29.4h0M502.7 25.2h0M493.8 24.8h0M492.3 28.1h0M505.6 25.5h0M497.9 28.8h0M507.1 25.5h0M507.5 29.0h0M499.2 25.4h0M500.7 30.2h0M499.0 30.1h0M499.9 23.6h0M501.6 30.1h0M491.1 26.2h0M499.1 32.8h0M509.7 31.5h0M495.4 26.7h0M492.3 31.8h0M504.4 32.9h0M507.3 29.7h0M506.0 28.2h0M491.8 28.5h0M492.2 32.2h0M504.7 32.1h0M510.9 28.4h0M506.8 27.4h0M505.6 21.5h0M506.4 33.6h0M490.9 24.7h0M502.2 32.0h0M494.9 22.6h0M495.1 28.9h0M506.5 25.7h0M497.8 25.8h0M497.4 26.1h0M491.4 27.3h0M506.3 22.3h0M505.0 31.0h0M504.7 27.5h0M500.4 29.3h0M491.7 30.8h0M510.1 27.5h0M499.5 30.4h0M493.7 23.9h0M494.0 28.5h0M496.6 23.4h0M496.2 30.2h0M498.8 32.4h0M502.7 23.9h0M500.3 25.5h0M493.4 25.2h0M496.7 31.2h0M500.3 28.7h0M500.0 32.1h0M508.0 28.1h0M500.3 30.5h0M508.8 25.8h0M500.0 23.3h0M494.8 30.4h0M508.7 23.5h0M493.8 23.8h0M493.7 30.2h0M495.2 32.5h0M496.6 26.1h0M505.9 21.2h0M491.6 32.1h0M496.1 25.2h0M502.6 29.8h0M499.3 27.0h0M494.2 28.5h0M501.7 21.7h0M495.7 29.6h0M492.0 32.9h0M506.9 31.0h0M496.1 29.8h0M504.2 31.7h0M495.5 30.9h0M511.1 29.8h0M501.6 21.6h0M500.6 25.1h0M505.7 29.8h0M502.2 22.6h0M504.0 29.1h0M493.5 32.9h0M504.2 21.8h0M497.0 30.4h0M502.9 28.0h0M504.1 26.6h0M496.5 22.6h0M491.0 30.4h0M506.5 27.9h0M506.1 25.2h0M495.5 25.6h0M500.9 23.6h0M506.8 25.1h0M497.0 25.8h0M501.7 31.2h0M497.4 32.3h0M492.0 23.9h0M507.0 30.5h0M493.7 22.7h0M498.9 30.8h0M507.9 30.9h0M502.8 22.1h0M498.5 22.8h0M501.4 28.2h0M494.0 23.6h0M507.6 32.9h0M501.9 28.5h0M504.9 24.3h0M508.9 27.0h0M503.0 30.5h0M504.4 27.1h0M501.3 26.7h0M493.9 27.7h0M490.3 27.3h0M504.0 26.4h0M502.2 33.9h0M507.3 29.0h0M494.8 21.1h0M501.6 33.5h0M496.8 32.6h0M505.1 21.9h0M508.8 28.7h0M510.4 30.4h0M506.1 25.0h0M507.7 33.5h0M508.9 26.3h0M506.5 27.0h0M493.1 27.2h0M505.2 27.8h0M499.0 29.4h0M496.4 26.7h0M506.5 25.8h0M493.6 33.0h0M505.7 25.3h0M497.8 27.7h0M502.9 23.2h0M507.1 22.1h0M499.8 22.8h0M494.2 22.5h0M498.6 22.4h0M493.3 27.1h0M499.6 25.9h0M505.3 20.7h0M498.6 25.8h0M494.4 21.4h0M500.2 22.4h0M503.5 25.0h0M505.9 24.0h0M507.2 26.7h0M495.1 23.9h0M507.8 29.1h0M497.3 21.4h0M490.7 29.5h0M507.6 33.3h0M496.4 28.8h0M496.1 32.3h0M492.1 25.7h0M497.0 29.9h0M506.1 30.6h0M508.3 28.0h0M510.3 25.3h0M498.8 23.3h0M507.0 27.0h0M495.6 22.5h0M505.7 28.8h0M505.5 25.6h0M500.5 22.2h0M500.0 31.0h0M504.7 21.4h0M494.8 32.2h0M504.0 32.7h0M509.1 26.5h0M509.7 30.6h0M497.0 25.4h0M491.1 25.8h0M502.3 21.6h0M491.3 29.4h0M492.9 29.3h0M494.5 28.2h0M498.9 31.3h0M503.1 31.4h0M501.5 22.7h0M494.0 33.0h0M491.4 26.7h0M494.5 32.0h0M503.3 29.3h0M506.6 32.6h0M497.3 28.7h0M499.5 21.6h0M508.3 28.6h0M507.8 23.0h0M501.6 26.7h0M505.9 21.1h0M497.3 27.0h0M491.1 28.0h0M506.0 26.1h0M504.1 28.8h0M494.3 25.1h0M499.2 21.2h0M494.4 22.4h0M510.4 30.5h0M503.3 33.5h0M501.6 26.1h0M510.9 27.0h0M506.9 25.9h0M496.1 33.5h0M505.8 24.3h0M501.2 29.3h0M490.4 30.8h0M495.7 26.3h0M497.3 30.8h0M506.3 24.2h0M491.8 24.3h0M498.7 21.1h0M492.9 31.1h0M497.9 22.3h0M496.5 26.7h0M501.3 27.9h0M497.6 32.4h0M495.9 26.7h0M509.5 31.7h0M496.2 23.5h0M492.5 27.7h0M501.6 22.4h0M506.8 26.8h0M499.2 24.9h0M490.7 27.9h0M491.6 24.5h0M495.1 31.6h0M498.9 23.8h0M490.5 26.2h0M503.6 29.8h0M495.1 22.0h0M506.6 31.4h0M500.9 32.0h0M501.9 24.1h0M504.0 33.0h0M509.9 26.8h0M504.5 33.5h0M507.8 28.7h0M498.8 27.5h0M493.3 22.7h0M501.8 25.9h0M497.4 26.6h0M507.6 26.6h0M496.6 27.6h0M498.8 32.3h0M503.3 20.4h0M502.4 28.0h0M500.5 24.1h0M505.5 33.2h0M491.8 29.7h0M497.9 27.5h0M504.0 22.8h0M498.1 32.0h0M496.6 23.9h0M496.6 25.7h0M495.8 21.9h0M501.3 30.8h0M508.4 29.2h0M495.8 33.9h0M500.4 23.9h0M501.8 20.7h0M492.7 33.1h0M504.7 29.4h0M506.6 22.6h0M493.8 31.9h0M511.1 27.8h0M498.1 21.6h0M498.3 34.3h0M495.8 21.9h0M492.8 21.8h0M497.4 33.3h0M497.5 33.8h0M500.4 30.2h0M497.3 30.8h0M507.1 28.2h0M499.9 27.8h0M499.5 27.7h0M508.2 22.9h0M502.9 33.5h0M493.3 23.9h0M504.9 27.6h0M501.7 26.4h0M492.8 28.7h0M496.8 27.3h0M497.9 24.6h0M497.6 28.7h0M508.9 32.1h0M495.6 21.8h0M500.8 30.6h0M497.2 29.4h0M495.9 34.0h0M499.7 26.9h0M501.5 32.7h0M499.4 29.0h0M491.1 26.2h0M508.6 31.3h0M490.8 32.4h0M498.1 34.2h0M497.7 23.1h0M501.8 32.8h0M499.2 32.6h0M505.5 25.2h0M496.3 27.3h0M498.5 25.4h0M504.2 32.7h0M502.6 22.1h0M494.4 25.4h0M503.3 22.0h0M491.3 24.6h0M501.6 33.4h0M501.5 30.7h0M508.1 32.1h0M510.0 26.4h0M504.9 21.8h0M509.3 25.5h0M500.2 32.9h0M496.0 22.8h0M508.0 28.7h0M495.7 25.6h0M501.0 26.3h0M503.6 29.6h0M499.3 21.4h0M511.5 30.0h0M491.4 26.4h0M500.3 26.1h0M509.6 32.0h0M497.0 26.1h0M502.6 32.8h0M494.0 25.7h0M491.5 29.3h0M501.3 28.3h0M500.0 32.4h0M501.6 24.1h0M511.6 29.6h0M501.4 22.9h0M496.2 33.0h0M492.5 27.7h0M503.4 25.1h0M506.8 33.2h0M508.8 30.7h0M499.2 24.5h0M493.9 32.6h0M494.4 31.9h0M510.1 25.8h0M494.3 22.7h0M490.3 27.2h0M498.1 32.3h0M498.5 25.6h0M493.5 23.6h0M495.4 30.1h0M497.2 21.6h0M494.5 26.4h0M502.2 23.6h0M505.2 23.1h0M504.6 28.8h0M493.5 30.9h0M498.4 27.8h0M502.9 29.1h0M499.5 20.8h0M507.2 32.5h0M500.5 28.4h0M495.5 33.0h0M504.9 23.2h0M500.4 22.6h0M505.6 24.9h0M506.0 28.5h0M491.9 27.7h0M508.6 26.9h0M501.6 32.5h0M499.5 27.1h0M502.6 31.9h0M494.1 21.4h0M506.6 28.0h0M496.3 32.9h0M509.4 27.9h0M506.3 24.2h0M506.0 25.1h0M500.3 28.2h0M495.1 30.1h0M502.2 25.6h0M492.0 28.0h0M496.7 30.5h0M493.4 25.7h0M493.9 25.9h0M502.5 21.6h0M490.7 27.0h0M494.0 27.3h0M501.6 33.4h0M509.0 27.5h0M498.4 21.0h0M495.7 24.6h0M510.8 26.9h0M499.3 23.8h0M502.4 27.4h0M494.0 23.2h0M506.0 33.1h0M491.7 30.2h0M506.4 23.3h0M499.8 34.1h0M496.9 31.1h0M493.2 29.7h0M495.6 27.4h0M497.9 32.6h0M506.3 27.3h0M505.0 26.2h0M507.6 23.7h0M501.7 28.5h0M498.2 20.7h0M493.3 29.3h0M494.3 31.0h0M500.9 33.8h0M508.6 30.5h0M497.9 20.6h0M502.0 30.8h0M506.1 27.0h0M506.1 22.2h0M501.7 29.7h0M503.1 22.3h0M492.6 29.1h0M507.2 25.7h0M503.3 23.8h0M495.8 30.1h0M501.2 24.8h0M507.5 25.6h0M507.6 26.5h0M504.5 24.7h0M494.6 26.6h0M507.5 25.0h0M494.7 26.0h0M491.7 24.6h0M502.4 27.9h0M502.9 24.2h0M497.1 22.8h0M502.3 23.8h0M506.6 28.7h0M504.4 30.7h0M501.2 26.2h0M496.4 20.9h0M507.4 27.3h0M502.6 29.0h0M499.4 21.8h0M492.2 27.2h0M500.3 23.6h0M510.3 26.0h0M490.6 29.8h0M496.4 26.9h0M496.3 24.4h0M492.5 29.1h0M506.3 27.7h0M506.8 27.4h0M503.7 21.2h0M504.7 27.4h0M491.0 29.8h0M510.3 26.1h0M505.5 28.1h0M498.3 26.7h0M503.0 20.4h0M496.4 30.7h0M495.3 26.9h0M495.3 25.2h0M504.1 30.8h0M494.1 24.9h0M502.7 28.9h0M494.9 22.6h0M500.8 23.7h0M509.4 28.2h0M497.2 26.3h0M490.4 30.6h0M506.4 25.3h0M505.8 24.0h0M494.4 23.3h0M493.9 28.8h0M503.9 30.6h0M491.8 31.1h0M500.3 25.5h0M500.8 26.3h0M494.0 25.7h0M504.0 30.4h0M509.5 31.6h0M492.6 31.3h0M502.9 33.7h0M496.1 32.4h0M509.9 26.3h0M492.8 23.1h0M508.2 26.1h0M496.6 26.4h0M496.6 25.6h0M491.4 32.9h0M495.0 23.2h0M509.8 24.8h0M496.3 23.1h0M501.7 28.1h0M498.5 27.4h0M496.2 32.1h0M510.5 30.9h0M495.1 23.0h0M502.1 21.7h0M499.1 20.8h0M496.0 33.7h0M494.0 33.4h0M496.5 29.6h0M491.9 33.0h0" stroke="#93de72" stroke-width="0.90" stroke-linecap="round" fill="none" stroke-opacity="0.5"/>
<path d="M491.3 38.9h0M490.9 37.2h0M496.3 45.8h0M488.4 37.2h0M490.4 37.5h0M497.0 46.0h0M494.9 48.3h0M492.6 40.5h0M497.1 49.4h0M492.2 44.7h0M495.3 43.8h0M493.5 47.4h0M491.9 46.9h0M492.9 47.5h0M491.8 44.0h0M490.6 38.4h0M487.3 33.7h0M490.7 42.9h0M496.6 51.7h0M488.6 36.2h0M490.8 38.1h0M493.2 42.5h0M488.9 38.0h0M493.1 45.5h0M488.9 37.0h0M497.1 42.4h0M494.2 45.7h0M493.4 38.0h0M493.6 39.7h0M494.2 48.2h0M492.7 42.4h0M495.6 49.6h0M489.9 37.5h0M490.7 40.6h0M494.8 50.3h0M489.5 35.3h0M493.7 45.2h0M492.0 48.1h0M485.9 35.4h0M493.3 40.4h0M489.5 38.1h0M491.4 44.5h0M494.2 47.3h0M490.1 39.3h0M490.5 37.0h0" stroke="#4d9aa1" stroke-width="0.90" stroke-linecap="round" fill="none" stroke-opacity="0.5"/>
<path d="M498.6 63.5h0M505.2 51.2h0M495.0 53.8h0M496.8 60.2h0M484.3 53.2h0M502.0 52.1h0M502.7 51.7h0M498.5 51.5h0M488.9 53.2h0M496.7 62.2h0M505.0 54.8h0M492.5 52.2h0M487.4 50.3h0M491.1 60.8h0M491.9 55.0h0M503.2 58.4h0M491.4 58.4h0M500.6 50.1h0M492.6 60.3h0M492.1 55.9h0M496.3 64.1h0M486.1 55.6h0M492.0 67.0h0M496.8 55.1h0M491.4 52.5h0M485.8 51.9h0M487.8 49.9h0M493.5 53.6h0M498.0 65.1h0M494.7 57.2h0M503.7 51.5h0M498.8 64.4h0M486.5 57.5h0M490.9 57.8h0M495.5 63.2h0M495.3 54.7h0M493.5 51.9h0M492.9 68.3h0M495.7 55.6h0M486.1 54.3h0M492.5 64.3h0M502.2 62.5h0M499.6 63.8h0M492.5 62.7h0M490.6 58.5h0M502.1 62.5h0M499.3 60.3h0M489.9 62.1h0M494.9 64.9h0M499.2 64.6h0M492.2 61.6h0M492.2 65.4h0M496.2 59.3h0M506.0 58.3h0M500.2 63.0h0M501.2 52.4h0M502.3 60.3h0M499.6 57.2h0M498.7 64.1h0M499.0 63.0h0M484.6 52.1h0M494.4 61.7h0M489.1 62.4h0M495.1 53.4h0M485.3 51.6h0M491.5 52.5h0M488.5 49.7h0M494.9 56.4h0M498.4 60.5h0M490.5 57.0h0M496.8 55.6h0M503.2 57.2h0M503.1 61.5h0M492.7 51.8h0M498.0 60.0h0M498.3 55.8h0M486.5 60.0h0M498.5 51.7h0M492.8 57.4h0M489.3 54.7h0M506.9 56.4h0M498.0 54.1h0M493.8 55.2h0M490.7 58.3h0M494.4 54.7h0M502.4 53.8h0M490.3 52.0h0M498.3 58.3h0M499.2 60.8h0M501.5 51.3h0M501.9 54.9h0M496.5 55.6h0M491.0 59.3h0M494.9 56.0h0M501.5 60.5h0M484.9 53.9h0M494.7 66.9h0M504.9 59.6h0M494.1 60.2h0M500.6 61.3h0M495.3 66.8h0M493.1 56.6h0M504.0 52.8h0M491.0 65.2h0M500.3 57.4h0M490.7 64.2h0M505.4 51.8h0M495.2 59.7h0M495.7 55.4h0M487.6 60.4h0M503.1 50.3h0M502.6 61.9h0M500.5 50.0h0M503.8 53.3h0M500.7 51.6h0M487.5 60.9h0M493.7 52.1h0M486.5 56.4h0M497.5 63.5h0M504.6 51.6h0M494.1 55.1h0M498.1 58.5h0M506.1 56.3h0M487.6 61.3h0M495.9 66.8h0M497.0 61.1h0M490.2 59.8h0M490.0 63.6h0M496.1 51.6h0M489.5 56.2h0M501.3 52.5h0M500.8 61.8h0M486.1 51.4h0M498.0 53.7h0M504.6 58.4h0M491.6 64.5h0M485.3 51.9h0M489.2 51.3h0M503.3 51.7h0M498.7 55.9h0M489.5 55.5h0M498.4 55.8h0M493.1 51.7h0M503.5 61.6h0M502.9 57.5h0M504.0 59.1h0M497.9 60.2h0M501.4 56.7h0M488.8 49.8h0M504.9 58.4h0M495.0 66.4h0M498.6 57.4h0M487.6 52.1h0M492.8 56.5h0M504.7 52.0h0M490.0 54.4h0M487.8 54.6h0M489.5 58.4h0M492.7 67.3h0M500.2 62.1h0M495.1 67.4h0M490.8 62.2h0M501.1 52.2h0M488.7 49.5h0M489.4 50.5h0M493.4 68.0h0M492.6 55.1h0M495.0 54.5h0M501.2 63.0h0M487.8 53.7h0M499.2 57.4h0M496.2 55.8h0M486.2 50.4h0M505.1 58.6h0M489.7 50.0h0M493.3 50.2h0M490.0 56.9h0M491.2 50.0h0M488.2 58.9h0M493.5 59.4h0M486.0 55.1h0M486.5 59.6h0M504.1 53.2h0M495.4 60.1h0M492.9 61.2h0M491.2 57.8h0M503.4 53.4h0M486.7 55.1h0M503.3 55.1h0M487.1 50.6h0M489.8 50.6h0M494.1 60.3h0M489.8 50.2h0M500.5 49.9h0M488.7 54.6h0M492.8 50.9h0M493.9 55.1h0M501.7 59.8h0M501.9 60.2h0M494.4 64.9h0M501.1 62.7h0M490.3 64.8h0M493.0 51.5h0M485.5 52.3h0M490.2 62.2h0M490.7 50.2h0M501.9 59.9h0M487.1 56.0h0M498.4 53.5h0M494.1 56.1h0M497.7 65.1h0M501.1 50.9h0M496.5 52.3h0M500.7 57.7h0M486.8 55.2h0M505.5 58.0h0M494.2 57.6h0M503.1 57.2h0M495.3 66.2h0M493.2 53.2h0M490.5 52.9h0M497.2 56.0h0M501.7 53.7h0M492.3 53.8h0M504.0 61.1h0M493.4 51.8h0M503.5 58.6h0M484.9 52.3h0M505.2 52.9h0M502.7 55.3h0M498.6 64.6h0M496.0 60.4h0M488.3 56.6h0M491.3 56.5h0M495.2 62.7h0M493.4 68.2h0M500.3 62.1h0M496.6 64.6h0M492.5 60.6h0M500.0 59.2h0M490.7 50.5h0M486.1 55.9h0M497.6 63.8h0M500.8 55.0h0M505.8 54.4h0M500.8 50.4h0M501.7 62.1h0M501.4 60.9h0M488.9 59.1h0M505.1 53.7h0M493.2 52.5h0M493.1 51.1h0M500.2 59.8h0M500.8 56.3h0M504.8 53.1h0M491.2 54.2h0M487.9 61.3h0M502.0 53.4h0M501.1 57.1h0M494.0 59.3h0M505.3 54.9h0M490.6 60.8h0M497.2 60.8h0M488.3 52.7h0M498.0 61.6h0M500.2 63.2h0M485.4 58.5h0M491.5 65.6h0M489.4 62.6h0M503.8 58.3h0M486.4 52.8h0M487.7 50.8h0M487.6 61.0h0M502.9 62.9h0M486.4 51.0h0M485.5 53.0h0M492.8 57.9h0M500.0 63.5h0M486.0 56.9h0M496.8 56.3h0M486.8 60.6h0M492.8 62.3h0M501.9 63.1h0M491.0 51.3h0M495.3 55.9h0M493.0 54.7h0M495.7 62.6h0M502.5 60.2h0M491.0 55.6h0M503.9 59.1h0M485.2 57.2h0M489.6 62.0h0M485.7 54.3h0M486.3 58.3h0M493.1 67.2h0M486.2 55.9h0M502.0 56.0h0M484.4 53.9h0M494.8 56.5h0M494.4 58.2h0M486.0 54.4h0M493.2 64.2h0M494.2 60.6h0M493.7 66.0h0M493.9 68.0h0M493.9 54.3h0M495.0 54.6h0M499.7 51.4h0M488.0 57.9h0M485.7 56.4h0M488.6 49.4h0M498.1 51.7h0M488.3 57.4h0M490.3 63.7h0M492.8 64.1h0M487.6 59.1h0M486.1 51.2h0M499.1 56.3h0M492.7 58.3h0M489.7 60.1h0M490.2 59.6h0M501.2 51.6h0M495.3 62.8h0M493.8 58.8h0M498.3 64.5h0M484.9 56.5h0M491.0 57.8h0M492.7 59.3h0M491.1 52.2h0M494.5 63.4h0M496.4 56.6h0M505.7 54.8h0M497.0 65.2h0M487.2 55.8h0M495.6 60.0h0M488.9 57.9h0M485.4 50.7h0M492.0 51.8h0M506.7 54.1h0M490.5 64.3h0M501.4 54.1h0M503.5 61.2h0M493.1 61.3h0M489.8 54.1h0M504.6 57.6h0M505.1 52.5h0M487.2 50.0h0M501.4 59.9h0M503.4 58.6h0M500.9 60.9h0M498.4 53.3h0M486.2 50.3h0M494.8 61.7h0M503.8 51.4h0M501.7 54.0h0M501.8 59.1h0M505.2 58.1h0M487.7 53.2h0M488.8 50.7h0M492.3 50.5h0M494.0 61.1h0M499.3 52.4h0M487.3 58.6h0M500.1 57.7h0M497.5 66.8h0M487.4 54.2h0M495.6 59.5h0M505.2 59.8h0M499.6 57.2h0M490.9 51.1h0M490.1 56.0h0M504.9 54.2h0M498.8 61.5h0M502.1 55.6h0M503.8 60.4h0M493.0 61.4h0M501.0 54.1h0M493.6 55.4h0M486.3 50.3h0M500.8 57.0h0M491.1 52.5h0M505.1 58.9h0M486.4 57.1h0M489.3 49.5h0M497.3 54.7h0M486.5 59.0h0M495.0 51.0h0M502.1 51.2h0M494.3 54.3h0M494.1 53.1h0M496.1 66.9h0M493.0 61.4h0M505.6 55.4h0M503.1 59.3h0M487.3 50.0h0M506.1 58.1h0M494.4 66.9h0M497.5 58.8h0M490.7 63.5h0M490.0 58.2h0M501.8 60.8h0M487.2 53.0h0M500.3 63.2h0M487.1 52.3h0M486.1 57.7h0M498.6 65.7h0M489.9 55.9h0M491.9 60.5h0M499.0 58.5h0M490.6 55.5h0M504.6 51.6h0M493.9 57.1h0M499.4 63.8h0M506.2 55.1h0M504.0 61.9h0M493.9 65.3h0M499.9 55.6h0M501.2 58.9h0M500.7 61.0h0M502.7 52.1h0M496.6 58.3h0M486.8 53.0h0M499.3 56.5h0M499.2 53.5h0M499.4 60.3h0M501.5 58.8h0M494.2 55.0h0M501.3 56.3h0M498.0 63.8h0M494.4 62.4h0M485.4 54.1h0M503.8 51.9h0M502.0 51.1h0M494.8 57.5h0M502.9 58.3h0M498.7 65.3h0M498.4 63.0h0M504.0 61.0h0M485.6 55.6h0M486.4 56.2h0M486.1 53.3h0M491.1 63.2h0M493.1 52.2h0M500.2 53.2h0M493.5 57.8h0M494.7 64.0h0M500.0 63.9h0M502.6 57.1h0M499.5 61.8h0M494.4 52.7h0M491.7 53.9h0M500.0 64.0h0M488.5 59.4h0M503.7 56.1h0M492.5 51.8h0M487.5 57.3h0M503.6 55.4h0M487.5 49.1h0M501.8 58.3h0M502.9 57.8h0M496.6 52.3h0M494.0 57.6h0M503.3 53.5h0M490.9 64.9h0M489.2 62.0h0M501.2 56.9h0M491.5 65.7h0M502.3 55.0h0M499.9 51.4h0M496.1 58.2h0M494.4 51.9h0M490.5 57.8h0M489.7 54.7h0M486.1 54.9h0M505.9 54.7h0M486.3 55.7h0M492.0 53.1h0M500.0 58.0h0M491.7 62.4h0M494.6 66.0h0M485.4 53.4h0M490.7 54.2h0M503.3 58.8h0M492.1 58.9h0M503.9 60.1h0M494.6 61.8h0M498.5 56.9h0M494.0 51.6h0M494.3 66.1h0M491.2 56.1h0M498.2 60.5h0M488.1 57.7h0M501.2 49.8h0M490.7 61.8h0M487.8 55.5h0M500.3 58.9h0M498.6 65.5h0M488.2 58.3h0M491.5 61.2h0M492.7 64.3h0M493.2 65.7h0M501.6 63.2h0M494.8 54.4h0M488.1 57.0h0M505.9 56.8h0M490.0 61.1h0M494.3 61.0h0M494.7 54.6h0M499.5 53.8h0M495.7 60.3h0M495.8 66.6h0M502.3 55.0h0M492.0 60.9h0M490.4 59.3h0M485.1 53.4h0M489.2 57.9h0M484.8 51.4h0M491.3 53.8h0M485.5 51.1h0M502.4 54.0h0M488.0 54.3h0M485.5 52.4h0M500.9 58.6h0M501.1 63.3h0M493.0 60.2h0M490.6 49.7h0M490.1 57.9h0M486.8 50.6h0M489.8 56.2h0M497.9 55.3h0M493.2 55.2h0M498.9 65.7h0M502.6 54.8h0M487.5 49.2h0M497.7 53.4h0M489.4 53.0h0M499.6 60.4h0M490.6 63.2h0M486.8 60.5h0M500.6 63.3h0M495.4 66.0h0M498.8 62.5h0M485.9 52.6h0M494.9 59.6h0M492.1 58.3h0M496.3 65.4h0M491.1 59.9h0M498.2 61.8h0M491.3 54.4h0M495.1 60.7h0M499.1 51.6h0M494.5 59.9h0M488.6 51.0h0M495.7 54.7h0M484.7 54.3h0M487.8 56.8h0M492.3 62.6h0M489.4 54.5h0M505.0 57.6h0M490.1 58.4h0M495.4 51.9h0M499.7 63.1h0M495.2 59.5h0M495.9 61.9h0M491.8 62.3h0M492.6 61.0h0M498.4 62.1h0M500.7 62.7h0M489.4 61.0h0M501.7 53.4h0M495.6 59.2h0M501.0 63.9h0M495.0 67.3h0M494.4 60.0h0M499.3 59.5h0M487.4 58.5h0M498.5 62.6h0M503.5 50.3h0M494.0 66.8h0M491.8 64.0h0M496.5 62.0h0M499.0 65.9h0M495.6 58.6h0M499.4 60.0h0M491.5 58.7h0M485.0 52.7h0M505.8 54.4h0M491.0 64.8h0M489.7 62.0h0M497.4 66.5h0M495.2 55.4h0M490.1 56.1h0M487.5 55.1h0M492.3 53.9h0M490.9 61.3h0M495.2 51.3h0M496.3 54.2h0M486.5 57.6h0M502.0 59.6h0M504.5 55.2h0M505.0 57.3h0M494.9 66.7h0M505.3 51.9h0M491.2 50.6h0M494.0 59.2h0M494.7 55.1h0M491.2 64.2h0M489.7 57.2h0M486.4 53.6h0M496.3 62.1h0M499.8 59.2h0M492.6 51.9h0M484.7 51.4h0M499.9 55.6h0M489.5 55.1h0M495.6 53.1h0M504.0 58.4h0M485.6 50.7h0M504.9 60.3h0M490.8 62.9h0M485.2 57.3h0M503.7 60.6h0M488.9 53.6h0M488.3 57.7h0M495.6 64.3h0M504.3 58.4h0M504.8 54.8h0M507.0 55.3h0M485.7 54.5h0M492.2 55.7h0M488.0 53.4h0M496.1 56.3h0M490.3 57.0h0M486.2 52.8h0M501.4 63.7h0M498.4 58.3h0M501.0 57.3h0M488.6 53.3h0M486.6 49.7h0M492.2 57.0h0M490.6 64.2h0M495.6 52.3h0M485.1 58.0h0M489.2 61.5h0M492.4 54.8h0M491.1 60.8h0M495.8 58.5h0M500.0 58.2h0M506.3 57.6h0M498.6 60.5h0M502.6 62.9h0M488.5 57.1h0M487.7 49.4h0M500.2 55.4h0M490.0 49.5h0M492.4 57.5h0M500.5 53.3h0M497.6 61.6h0M498.3 62.8h0M490.8 61.1h0M501.3 55.3h0M490.2 55.4h0M495.1 60.0h0M499.4 54.1h0M485.8 51.1h0M497.7 60.7h0M495.7 57.2h0M495.1 56.2h0M501.9 60.2h0M496.4 63.6h0M496.9 60.5h0M492.2 51.5h0M502.0 56.5h0M489.1 62.0h0M500.4 54.3h0M502.6 60.5h0M501.2 57.5h0M497.6 54.9h0M489.4 59.7h0M498.3 66.7h0M498.2 58.7h0M499.3 61.2h0M493.6 54.2h0M500.0 56.5h0M484.9 52.3h0M492.4 62.4h0M499.4 58.6h0M503.2 55.4h0M492.2 63.6h0M500.0 57.3h0M496.6 65.7h0M504.7 52.8h0M503.0 59.4h0M506.0 55.4h0M499.6 61.5h0M507.3 55.6h0M493.2 51.4h0M500.1 50.4h0M504.0 51.8h0M495.7 63.7h0" stroke="#4d9aa1" stroke-width="0.90" stroke-linecap="round" fill="none" stroke-opacity="0.5"/>
<path d="M429.0 46.3h0M425.3 36.2h0M425.1 45.2h0M424.0 45.4h0M422.8 45.9h0M428.3 39.0h0M426.0 43.8h0M421.8 41.5h0M429.2 36.3h0M429.1 43.8h0M429.6 37.5h0M429.2 39.5h0M427.1 36.7h0M430.9 42.1h0M421.9 43.3h0M430.4 40.8h0M427.2 44.1h0M426.7 37.0h0M426.6 33.1h0M430.1 41.0h0M420.9 43.4h0M423.2 35.0h0M425.3 34.0h0M426.9 37.0h0M424.0 38.5h0M428.5 38.7h0M431.3 47.6h0M427.5 47.5h0M424.9 46.5h0M429.1 40.8h0M425.2 44.2h0M424.4 33.0h0M428.5 36.3h0M425.4 45.6h0M421.0 42.1h0M423.8 36.1h0M424.9 48.2h0M422.6 38.9h0M430.1 42.5h0M422.7 40.0h0M425.2 34.1h0M424.0 37.0h0M429.2 37.3h0M427.4 49.0h0M426.7 37.3h0M424.3 40.3h0M429.0 48.4h0M420.8 44.4h0M426.9 39.1h0M428.9 46.1h0M425.4 39.9h0M420.7 38.0h0M421.2 42.8h0M426.8 34.1h0M427.0 33.3h0M420.8 43.1h0M425.1 47.7h0M427.1 44.1h0M420.5 42.6h0M430.4 47.8h0M430.2 39.6h0M427.8 45.7h0M430.4 39.4h0M428.8 39.5h0M422.8 44.3h0M429.8 36.5h0M427.2 41.1h0M430.9 44.1h0M428.3 33.6h0M426.1 39.9h0M425.4 32.9h0M420.4 40.9h0M419.9 41.0h0M421.3 41.7h0M424.2 35.5h0M422.2 41.7h0M430.4 39.0h0M421.5 37.2h0M422.4 41.8h0M428.9 41.7h0M421.8 37.4h0M424.1 39.4h0M426.1 43.4h0M428.1 43.1h0M429.2 38.2h0M427.5 49.0h0M421.5 42.8h0M420.9 44.3h0M420.7 38.1h0M419.9 41.3h0M428.9 35.6h0M426.3 48.1h0M423.0 40.0h0M428.2 47.1h0M421.5 43.4h0M430.5 45.0h0M427.6 44.6h0M427.3 36.7h0M424.8 35.1h0M429.8 45.5h0M429.0 35.4h0M426.6 36.1h0M429.0 44.9h0M427.7 45.5h0M420.6 42.2h0M426.6 36.4h0M421.1 39.0h0M424.1 42.2h0M426.3 42.8h0M425.3 36.4h0M421.8 39.6h0M429.2 41.9h0M430.9 46.1h0M425.7 33.7h0M426.6 40.0h0M429.8 41.1h0M427.8 46.1h0M425.1 46.7h0M430.5 47.2h0M429.8 37.6h0M424.0 46.9h0M427.0 45.3h0M424.1 33.8h0M430.4 46.6h0M425.7 45.5h0M425.4 38.1h0M426.6 47.1h0M427.3 45.9h0M420.8 42.4h0M428.1 34.3h0M425.6 33.5h0M427.8 45.5h0M427.5 33.7h0M423.7 34.3h0M428.2 48.0h0M427.0 47.0h0M428.4 39.7h0M420.8 42.6h0M425.0 46.0h0M426.4 44.7h0M425.0 32.6h0M422.8 44.5h0M424.1 42.7h0M424.0 46.5h0M421.3 43.5h0M425.1 38.8h0M427.6 40.1h0M428.0 45.8h0M431.4 47.0h0M424.8 36.1h0M426.0 37.7h0M426.0 47.4h0M428.5 43.4h0M427.0 31.6h0M430.0 40.4h0M425.9 34.6h0M422.0 37.0h0M428.2 44.1h0M428.2 42.2h0M423.8 34.8h0M422.1 38.4h0M426.1 38.0h0M427.4 33.1h0M424.7 42.0h0M426.9 42.5h0M422.7 43.0h0M427.2 46.6h0M422.5 36.3h0M424.6 38.2h0M422.8 43.2h0M423.3 43.4h0M425.6 32.9h0M420.8 39.4h0M425.9 34.7h0M422.7 37.1h0M424.2 42.2h0M429.7 44.4h0M428.4 36.6h0M425.4 44.6h0M425.7 47.2h0M421.3 45.6h0M427.2 47.0h0M420.9 38.7h0M425.4 32.8h0M422.8 34.7h0M423.4 39.1h0M427.8 42.5h0M425.4 37.3h0M426.9 35.0h0M427.5 34.0h0M422.2 37.8h0M426.3 43.2h0M426.6 42.2h0M428.3 38.8h0M424.3 41.9h0M420.9 43.1h0M425.5 36.1h0M423.8 44.3h0M424.0 47.8h0M424.4 42.1h0M423.2 42.1h0M425.2 33.4h0M426.4 43.7h0M425.1 37.4h0M426.8 40.2h0M427.2 43.0h0M425.7 37.8h0M425.3 32.8h0M426.5 33.6h0M423.7 43.2h0M426.9 41.2h0M429.5 42.5h0M431.1 46.1h0M422.7 45.6h0M426.9 39.0h0M427.2 41.6h0M425.3 48.3h0M425.1 35.2h0M423.8 38.2h0M423.9 45.1h0M427.2 36.5h0M421.8 46.2h0M426.2 40.5h0M425.8 48.0h0M427.6 43.0h0M420.5 43.7h0M427.5 35.0h0M426.3 40.2h0M423.5 43.5h0M424.8 45.3h0M423.4 41.3h0M423.1 42.3h0M425.6 35.4h0M422.0 38.9h0M426.6 43.3h0M426.7 40.5h0M424.7 47.1h0M429.9 47.7h0M430.8 43.6h0M421.9 44.1h0M422.9 36.9h0M424.8 35.0h0M422.3 39.3h0M428.6 43.2h0M423.3 44.5h0M424.4 37.9h0M424.4 36.6h0M426.7 43.3h0M426.8 40.5h0M427.1 31.6h0M420.3 41.1h0M422.0 37.0h0M431.1 46.6h0M423.7 34.0h0M427.1 33.1h0M427.2 42.3h0M427.0 35.3h0M423.3 35.1h0M429.8 45.1h0M424.1 41.6h0M427.4 46.8h0M426.8 40.9h0M421.6 37.9h0M422.9 45.5h0M429.1 39.6h0M424.4 40.8h0M426.5 37.4h0M427.2 38.4h0M426.2 42.2h0M422.5 47.2h0M424.6 40.7h0M420.8 40.7h0M423.5 42.5h0M427.7 33.3h0M422.0 43.7h0M428.3 45.6h0M427.8 44.2h0M428.7 42.5h0M427.1 45.3h0M424.3 44.9h0M426.3 36.4h0M426.0 33.4h0M422.6 42.9h0M423.9 37.0h0M424.3 43.0h0M421.9 42.0h0M422.3 40.7h0M429.7 46.8h0M429.8 44.3h0M429.7 48.5h0M422.1 43.0h0M427.8 37.3h0M427.4 46.7h0M430.9 47.8h0M426.3 48.0h0M428.9 39.9h0M427.2 45.4h0M426.6 48.8h0M429.1 38.2h0M420.9 44.5h0" stroke="#e65a68" stroke-width="0.90" stroke-linecap="round" fill="none" stroke-opacity="0.5"/>
<path d="M374.6 83.9h0M377.2 83.2h0M376.3 85.8h0M372.5 87.1h0M372.3 86.4h0M375.4 89.9h0M376.6 86.1h0M378.9 85.1h0M373.4 87.7h0M377.1 85.9h0M377.4 86.3h0M374.5 87.8h0M375.6 85.2h0M378.4 88.8h0M374.0 87.7h0M376.2 90.4h0M377.8 85.1h0M375.3 89.3h0M373.2 86.9h0M378.1 87.7h0M379.0 85.3h0M377.6 87.8h0M376.6 86.6h0M375.8 88.5h0M378.6 85.1h0M375.1 88.5h0M372.2 86.7h0M372.6 86.5h0M376.4 90.5h0M374.2 86.2h0M373.9 86.9h0M376.7 84.9h0M375.0 87.6h0M376.1 88.1h0M377.4 83.0h0M375.1 86.1h0M372.8 88.2h0M372.8 85.8h0M376.9 83.8h0M374.0 85.6h0M374.9 83.6h0M375.7 86.9h0M374.7 84.9h0M378.6 84.0h0M376.2 83.8h0M378.9 88.8h0M374.1 85.8h0M376.3 89.5h0M374.6 84.5h0M378.5 89.2h0M373.8 87.2h0M374.1 88.7h0M379.7 86.5h0M379.6 85.8h0M373.8 84.5h0M377.0 90.6h0M378.7 86.8h0M377.2 89.7h0M372.7 88.4h0M378.0 86.8h0M374.7 89.7h0M379.8 86.1h0M377.8 84.0h0M374.8 87.4h0M378.6 84.4h0M374.0 85.1h0M373.9 87.8h0M374.1 86.3h0M374.8 86.6h0M376.7 90.6h0M376.0 87.3h0M375.5 84.1h0M373.4 86.8h0M377.8 87.5h0M374.6 87.2h0M376.4 89.6h0M372.8 87.5h0M374.0 85.0h0M378.2 87.1h0M376.5 89.3h0M379.3 86.5h0M376.9 87.0h0M376.1 88.7h0M375.6 87.3h0M377.6 90.4h0M379.5 84.8h0M378.7 83.7h0M373.0 86.5h0M372.6 88.5h0M378.3 90.6h0M377.3 83.8h0M375.2 86.9h0M373.3 86.4h0M376.1 85.6h0M373.6 85.4h0M376.4 86.5h0M377.0 87.1h0M378.6 84.8h0M376.6 88.8h0M377.5 86.3h0" stroke="#e69068" stroke-width="0.90" stroke-linecap="round" fill="none" stroke-opacity="0.5"/>
<path d="M409.3 97.8h0M414.3 100.3h0M412.6 100.7h0M409.3 97.7h0M411.9 96.3h0M411.9 102.6h0M413.0 102.5h0M409.8 95.7h0M413.7 103.4h0M414.8 105.9h0M410.3 96.7h0M413.3 100.9h0M413.1 103.1h0M410.5 97.8h0M410.9 99.9h0M412.1 96.9h0M410.0 100.0h0M410.6 99.7h0M412.5 99.8h0M409.4 96.0h0M413.0 103.1h0M412.0 101.6h0M413.9 100.7h0M412.5 103.3h0M414.9 100.4h0M412.0 99.1h0M410.5 97.3h0M415.0 103.1h0M411.8 100.0h0M415.3 100.8h0M410.6 101.0h0M415.2 102.4h0M416.7 103.5h0M416.8 106.3h0M410.5 98.4h0M414.1 106.0h0M411.1 102.0h0M416.1 102.9h0M416.9 103.4h0M415.9 102.0h0M411.8 99.9h0M412.9 101.1h0M410.9 99.8h0M411.0 98.4h0M412.2 99.2h0M417.2 104.1h0M415.8 101.9h0M415.5 104.1h0M412.0 102.5h0M416.8 104.0h0M416.6 105.6h0M416.3 102.5h0M416.8 104.9h0M416.0 104.4h0M415.0 101.9h0M411.4 98.4h0M411.7 98.8h0M409.9 97.9h0M412.0 100.0h0M410.5 98.4h0M413.5 103.5h0M415.9 101.4h0M415.1 100.5h0M409.7 98.8h0M412.2 96.9h0M414.0 99.8h0M416.6 105.6h0M412.9 99.2h0M410.5 101.1h0M415.4 104.5h0M412.3 102.2h0M413.9 102.5h0M410.6 99.2h0M411.6 99.3h0M411.7 99.2h0M413.6 98.5h0M414.3 104.0h0M415.5 103.5h0M414.2 100.7h0M413.7 103.5h0M411.8 101.9h0M412.6 100.4h0M412.0 101.3h0M415.1 103.5h0M413.7 102.4h0M409.8 96.7h0M414.9 105.9h0M413.9 102.6h0M410.3 95.3h0M412.1 103.0h0M410.9 101.0h0M413.9 99.7h0M415.8 102.5h0M416.3 104.0h0M412.9 103.2h0M411.3 102.5h0M414.7 105.5h0M416.3 106.2h0M414.1 102.1h0M412.7 97.5h0M415.7 102.0h0M410.0 97.8h0M414.7 101.5h0M410.9 100.1h0M416.1 105.6h0M416.2 102.6h0M412.5 101.9h0M412.9 101.3h0M416.5 106.2h0M413.0 99.3h0M412.9 101.7h0M411.5 99.4h0M411.3 100.6h0M415.7 102.2h0M417.2 105.9h0M412.8 100.4h0M415.4 105.1h0M413.4 102.7h0M414.7 100.9h0M413.1 99.6h0M412.5 100.5h0M413.1 103.0h0M416.7 103.5h0M414.1 100.1h0M410.1 96.8h0M415.6 105.3h0M411.7 101.1h0M414.6 102.0h0M413.5 103.2h0M414.7 100.0h0" stroke="#f3b262" stroke-width="0.90" stroke-linecap="round" fill="none" stroke-opacity="0.5"/>
<path d="M416.9 98.8h0M421.0 98.2h0M421.2 98.6h0M419.1 98.6h0M417.7 98.7h0M415.1 99.2h0M418.5 98.0h0M418.4 99.1h0M414.4 100.1h0M418.8 98.4h0M416.0 99.4h0M420.2 99.8h0M420.9 98.4h0M418.3 98.6h0" stroke="#f3b262" stroke-width="0.90" stroke-linecap="round" fill="none" stroke-opacity="0.5"/>
<path d="M475.5 94.9h0M487.5 105.0h0M474.0 96.6h0M489.3 100.9h0M480.5 93.9h0M465.8 109.7h0M467.3 84.2h0M456.1 90.2h0M471.8 104.0h0M475.6 93.5h0M493.5 96.1h0M462.5 101.1h0M469.1 86.0h0M485.3 98.1h0M466.4 93.3h0M478.6 92.6h0M462.2 96.9h0M471.1 97.2h0M476.1 98.3h0M456.1 95.9h0M469.3 95.6h0M483.3 106.2h0M480.8 109.1h0M477.4 100.5h0M490.3 92.9h0M469.2 103.5h0M487.1 109.3h0M478.2 85.7h0M459.1 93.8h0M462.3 86.5h0M470.6 101.9h0M468.1 101.2h0M465.7 99.8h0M479.9 105.5h0M452.8 95.5h0M461.4 93.9h0M460.7 102.3h0M460.3 97.9h0M470.4 96.1h0M482.6 101.5h0M499.5 104.3h0M464.6 90.3h0M462.9 89.6h0M487.4 111.4h0M479.6 95.1h0M486.8 98.8h0M485.4 109.7h0M474.4 108.1h0M454.7 86.2h0M492.3 98.9h0M478.7 95.8h0M482.1 95.6h0M486.8 92.5h0M460.5 98.5h0M454.1 99.0h0M486.7 93.9h0M452.0 92.1h0M456.8 101.6h0M477.1 96.2h0M456.8 93.0h0M487.8 110.2h0M473.6 94.9h0M468.6 86.3h0M461.9 89.0h0M464.0 106.5h0M456.3 101.3h0M478.1 95.8h0M460.5 93.2h0M493.0 99.4h0M480.6 90.2h0M456.5 92.3h0M459.3 89.1h0M469.3 98.6h0M456.7 94.4h0M482.4 99.4h0M450.1 94.3h0M472.1 103.3h0M460.8 88.9h0M453.2 98.5h0M455.8 100.0h0M476.7 99.1h0M472.0 101.3h0M480.3 99.5h0M483.2 93.9h0M480.2 90.0h0M459.6 101.0h0M471.9 105.4h0M466.3 103.3h0M467.5 97.5h0M470.3 99.8h0M474.8 86.9h0M472.9 101.5h0M468.1 101.1h0M487.3 87.2h0M471.7 98.4h0M450.9 94.1h0M483.0 105.7h0M458.2 90.3h0M478.4 100.7h0M476.0 102.2h0M452.2 102.3h0M456.8 89.3h0M466.1 101.1h0M481.9 94.1h0M473.3 109.2h0M466.4 87.2h0M452.7 94.1h0M485.6 97.1h0M485.8 105.1h0M478.9 101.6h0M480.8 97.8h0M471.4 88.5h0M475.7 99.5h0M461.7 96.3h0M465.5 104.7h0M468.7 94.5h0M463.7 88.7h0M476.7 89.9h0M470.5 105.9h0M485.3 101.7h0M451.5 95.3h0M485.8 97.4h0M476.8 96.9h0M479.6 103.9h0M455.5 97.8h0M489.9 88.3h0M469.2 106.1h0M487.2 101.4h0M461.5 102.6h0M481.7 89.6h0M468.0 87.2h0M472.2 100.0h0M487.3 98.8h0M475.1 107.5h0M476.8 96.1h0M489.5 100.4h0M466.3 105.4h0M486.0 91.6h0M469.7 98.0h0M483.3 93.6h0M485.9 96.8h0M493.4 98.5h0M482.7 106.7h0M454.4 94.5h0M477.0 94.9h0M462.3 87.7h0M484.6 104.4h0M452.7 94.4h0M473.4 103.0h0M477.1 96.8h0M463.8 93.1h0M459.5 94.3h0M461.3 87.7h0M486.3 92.9h0M492.0 101.6h0M483.6 88.0h0M454.3 90.5h0M486.0 104.4h0M459.9 102.8h0M463.6 102.4h0M480.1 92.7h0M466.0 95.3h0M495.3 92.6h0M472.9 86.3h0M467.4 94.0h0M469.5 87.8h0M475.0 101.8h0M491.8 98.8h0M458.4 83.4h0M472.7 108.0h0M480.4 104.9h0M476.0 107.2h0M468.7 98.8h0M491.7 108.5h0M459.7 88.9h0M467.6 95.1h0M477.1 106.8h0M455.7 90.1h0M473.3 102.1h0M479.4 101.8h0M475.3 99.2h0M486.7 100.3h0M471.9 106.0h0M451.5 93.7h0M491.9 98.0h0M488.5 88.8h0M470.3 84.7h0M487.6 92.6h0M478.3 93.4h0M461.1 83.7h0M490.3 102.1h0M490.9 97.2h0M464.0 89.7h0M483.9 112.2h0M477.7 107.5h0M471.5 99.2h0M464.4 100.6h0M469.2 106.3h0M491.9 105.5h0M464.6 91.8h0M498.4 94.3h0M459.2 97.0h0M477.8 95.7h0M469.5 106.0h0M467.8 90.2h0M491.7 102.4h0M490.3 90.9h0M490.4 87.0h0M485.6 94.6h0M478.1 93.7h0M454.6 102.7h0M468.6 96.0h0M482.8 106.7h0M489.3 90.1h0M480.9 97.4h0M484.1 92.6h0M488.4 86.6h0M450.4 93.1h0M457.2 89.3h0M468.0 90.3h0M493.5 101.0h0M478.2 110.3h0M459.3 102.4h0M481.5 97.4h0M459.7 96.3h0M489.1 107.6h0M473.7 87.5h0M461.2 97.6h0M482.0 103.0h0M484.3 96.9h0M486.7 101.0h0M470.4 85.7h0M485.5 101.2h0M481.0 102.8h0M471.9 87.1h0M484.3 107.8h0M495.1 96.3h0M451.9 84.2h0M483.7 109.3h0M459.1 98.0h0M469.1 96.0h0M452.6 101.1h0M461.5 109.5h0M488.1 95.5h0M482.5 102.3h0M469.2 100.4h0M462.9 92.4h0M462.8 95.6h0M495.3 97.8h0M488.2 103.2h0M490.7 92.2h0M485.1 104.9h0M488.7 95.3h0M470.9 98.6h0M455.2 107.5h0M490.4 98.8h0M470.3 96.4h0M477.2 87.4h0M489.0 99.4h0M470.9 91.4h0M455.9 91.8h0M477.6 104.4h0M482.3 96.2h0M488.2 107.4h0M459.5 105.7h0M470.8 92.8h0M484.5 89.4h0M488.5 100.3h0M465.9 101.3h0M479.8 94.7h0M451.9 94.1h0M480.5 98.2h0M487.7 99.3h0M477.6 96.8h0M468.9 87.6h0M483.7 102.4h0M473.7 102.8h0M490.0 103.3h0M475.7 89.1h0M499.8 99.4h0M450.5 94.4h0M487.9 93.9h0M465.0 102.6h0M469.7 94.5h0M470.3 91.1h0M462.4 86.7h0M465.2 93.9h0M486.4 107.2h0M480.7 90.9h0M487.4 100.3h0M496.3 95.4h0M469.2 95.6h0M468.2 102.3h0M486.5 96.1h0M466.1 94.5h0M468.9 98.4h0M463.5 89.4h0M459.0 102.8h0M487.0 91.2h0M485.5 108.6h0M495.9 98.8h0M468.2 88.0h0M483.9 94.9h0M478.8 111.7h0M471.0 104.3h0M484.3 100.5h0M489.8 95.2h0M465.2 106.4h0M459.0 108.2h0M484.5 104.0h0M477.0 96.9h0M472.2 91.2h0M488.1 86.5h0M475.9 90.0h0M486.1 99.4h0M485.3 99.9h0M488.7 90.7h0M488.2 106.1h0M462.1 90.7h0M453.8 96.6h0M474.4 86.6h0M458.1 106.2h0M489.1 91.4h0M469.3 90.8h0M489.6 108.1h0M492.7 99.0h0M491.1 102.6h0M471.6 89.3h0M466.7 93.9h0M476.0 96.8h0M475.0 101.7h0M487.9 93.6h0M473.5 103.3h0M458.9 91.9h0M469.6 104.3h0M464.4 93.4h0M459.6 90.1h0M462.1 83.0h0M466.0 92.2h0M463.1 96.0h0M478.0 103.2h0M480.3 104.6h0M494.6 99.6h0M486.8 93.9h0M466.4 96.0h0M485.8 90.7h0M467.9 109.8h0M496.8 105.3h0M458.0 99.9h0M478.2 106.1h0M465.3 96.6h0M489.3 98.7h0M465.2 104.9h0M470.0 103.2h0M488.0 100.0h0M471.4 105.7h0M456.5 95.8h0M476.0 85.9h0M463.9 83.6h0M468.5 97.3h0M492.4 93.3h0M455.9 95.9h0M459.7 102.9h0M478.1 110.8h0M476.2 98.6h0M486.6 99.9h0M468.0 101.6h0M486.6 98.9h0M494.8 94.6h0M481.2 88.0h0M468.8 87.9h0M456.1 96.8h0M478.8 105.5h0M456.7 92.2h0M464.2 96.0h0M485.5 89.9h0M480.5 91.0h0M471.8 104.5h0M466.9 91.0h0M471.1 107.6h0M458.6 94.8h0M487.7 89.2h0M474.3 108.0h0M485.2 95.5h0M458.0 90.2h0M486.2 99.9h0M465.5 94.3h0M480.9 102.5h0M487.9 97.3h0M450.6 98.1h0M496.2 95.5h0M460.7 82.3h0M464.4 107.7h0M461.1 83.4h0M453.8 89.6h0M471.6 107.6h0M475.2 109.6h0M478.2 95.2h0M467.6 101.8h0M481.7 87.5h0M458.5 105.9h0M469.7 93.7h0M469.5 108.2h0M473.2 90.2h0M492.4 101.1h0M473.7 101.0h0M478.9 86.0h0M457.9 95.5h0M479.9 87.8h0M495.2 105.6h0M455.9 98.6h0M466.5 92.1h0M464.5 90.5h0M465.0 103.1h0M470.9 107.3h0M492.6 97.1h0M472.1 99.1h0M450.3 91.0h0M481.8 109.1h0M479.5 95.1h0M491.5 101.7h0M485.6 106.1h0M471.9 97.4h0M461.1 101.8h0M467.7 98.5h0M468.0 98.4h0M456.8 86.3h0M474.0 106.9h0M471.5 96.8h0M479.7 94.3h0M457.6 91.4h0M461.1 100.4h0M455.7 97.2h0M462.9 99.5h0M464.7 99.8h0M480.6 107.5h0M479.7 102.6h0M491.6 104.8h0M477.5 88.0h0M464.6 87.4h0M462.1 91.9h0M483.9 98.9h0M492.2 104.5h0M466.1 90.3h0M497.3 96.1h0M457.7 93.8h0M494.7 95.3h0M477.8 93.6h0M486.2 105.5h0M494.1 99.5h0M454.9 92.0h0M492.6 105.6h0M474.9 91.5h0M464.5 103.5h0M468.1 95.0h0M481.9 99.1h0M466.1 99.2h0M483.8 92.1h0M456.0 96.3h0M472.0 107.4h0M454.8 88.1h0M478.9 104.5h0M492.9 99.5h0M461.4 95.6h0M483.3 107.4h0M462.4 98.7h0M481.9 105.8h0M477.6 101.3h0M451.9 97.9h0M459.8 104.2h0M476.6 93.4h0M471.5 85.7h0M472.1 90.2h0M490.0 97.7h0M459.8 87.2h0M489.1 93.9h0M473.6 107.3h0M460.5 96.5h0M469.1 96.6h0M497.5 102.2h0M462.7 88.3h0M467.7 93.6h0M486.2 96.5h0M477.1 88.2h0M460.4 90.1h0M455.1 91.5h0M472.9 103.0h0M463.5 90.0h0M458.9 103.9h0M457.4 101.0h0M467.5 100.2h0M464.7 100.6h0M467.6 86.8h0M458.1 88.1h0M461.8 94.1h0M478.8 105.0h0M479.2 102.2h0M456.6 96.0h0M477.7 92.1h0M475.2 91.7h0M457.4 101.9h0M497.2 97.4h0M465.4 94.9h0M468.5 106.3h0M481.6 103.1h0M487.9 109.3h0M467.4 100.9h0M481.2 107.7h0M488.6 91.7h0M488.5 107.6h0M487.3 104.4h0M448.7 96.6h0M478.1 91.8h0M498.6 96.9h0M468.0 97.7h0M476.6 106.7h0M471.2 88.5h0M464.1 96.8h0M470.3 93.6h0M492.3 91.5h0M475.8 105.1h0M455.5 93.7h0M489.2 102.8h0M455.1 103.1h0M478.1 92.8h0M494.6 104.3h0M476.4 109.2h0M484.3 104.1h0M477.9 91.0h0M471.0 96.2h0M461.4 102.1h0M469.9 93.2h0M455.8 96.6h0M478.6 94.0h0M466.6 94.4h0M472.2 97.8h0M457.4 94.4h0M488.6 101.9h0M459.5 92.5h0M486.9 102.7h0M468.3 105.0h0M475.4 92.8h0M457.1 86.1h0M453.6 101.9h0M469.6 99.0h0M461.0 100.5h0M463.3 95.1h0M454.5 105.7h0M493.1 97.5h0M467.1 88.0h0M460.5 91.0h0M465.4 101.2h0M463.8 97.1h0M477.1 98.5h0M484.3 107.4h0M459.1 92.9h0M471.3 88.2h0M467.2 86.5h0M478.2 95.3h0M452.5 94.1h0M471.2 100.9h0M474.6 104.7h0M469.6 96.9h0M464.2 87.6h0M489.3 100.1h0M473.6 96.2h0M463.3 91.6h0M487.9 97.1h0M483.9 103.5h0M495.3 102.4h0M484.8 101.1h0M470.8 100.2h0M495.2 100.9h0M475.1 104.6h0M455.7 98.5h0M484.3 100.3h0M482.5 95.2h0M468.3 87.1h0M481.8 89.8h0M451.1 93.0h0M459.1 95.0h0M480.2 98.0h0M451.0 99.8h0M477.5 90.8h0M477.0 97.6h0M485.4 98.1h0M476.2 88.8h0M481.2 94.1h0M490.9 99.5h0M494.6 103.0h0M457.2 91.6h0M465.7 83.0h0M470.9 108.4h0M460.3 103.0h0M476.9 106.7h0M482.1 88.5h0M490.0 103.3h0M489.8 93.6h0M460.3 100.8h0M464.3 91.3h0M453.8 88.7h0M481.6 106.5h0M463.2 99.6h0M487.0 87.6h0M484.9 111.5h0M469.5 93.3h0M458.1 91.7h0M486.3 93.0h0M494.4 98.6h0M475.6 91.2h0M470.2 100.8h0M470.4 102.4h0M461.3 98.8h0M462.9 86.1h0M481.7 105.9h0M495.7 91.1h0M464.1 103.1h0M473.5 90.7h0M465.5 99.3h0M464.8 107.0h0M493.7 101.3h0M462.0 94.0h0M482.4 97.9h0M470.5 95.2h0M480.0 91.6h0M475.7 96.1h0M486.5 100.0h0M459.8 87.7h0M468.1 96.9h0M481.0 90.0h0M484.9 97.3h0M465.1 88.6h0M482.9 103.3h0M460.7 85.7h0M487.3 87.9h0M476.8 94.8h0M476.2 98.9h0M472.1 92.9h0M476.3 96.3h0M459.3 105.2h0M492.0 95.1h0M454.8 93.4h0M482.4 94.4h0M482.9 108.7h0M463.4 82.2h0M475.6 108.0h0M483.4 103.6h0M464.0 92.5h0M469.0 93.2h0M494.0 99.6h0M474.6 90.5h0M462.7 86.9h0M485.3 106.1h0M467.3 108.5h0M463.4 89.2h0M494.0 103.9h0M452.6 98.6h0M477.1 90.4h0M466.5 107.5h0M475.8 110.7h0M470.3 93.7h0M457.8 102.8h0M491.6 107.4h0M484.5 102.8h0M466.3 102.0h0M471.9 90.3h0M477.4 94.2h0M472.7 91.3h0M486.0 90.2h0M490.5 92.0h0M451.4 98.0h0M461.8 88.7h0M456.0 87.5h0M483.4 96.2h0M489.7 91.8h0M470.4 106.6h0M479.8 96.0h0M466.6 95.2h0M466.1 93.0h0M451.4 90.9h0M494.1 98.9h0M470.7 97.3h0M466.5 92.0h0M468.2 102.3h0M478.6 97.5h0M486.0 87.9h0M458.8 104.8h0M488.4 100.0h0M481.4 93.1h0M466.4 98.0h0M468.0 96.6h0M464.9 100.7h0M458.9 95.7h0M461.4 87.0h0M455.0 93.0h0M453.2 101.9h0M459.5 94.4h0M477.3 96.5h0M479.0 93.1h0M482.2 89.2h0M481.5 109.2h0M448.9 94.2h0M477.6 91.5h0M462.8 108.1h0M489.1 104.8h0M491.5 98.9h0M454.6 100.3h0M468.1 99.4h0M472.0 102.7h0M459.7 99.8h0M482.7 95.2h0M463.3 101.5h0M462.3 90.9h0M472.8 98.7h0M479.0 90.4h0M473.0 100.1h0M461.6 84.4h0M477.4 88.4h0M490.4 96.8h0M479.5 97.4h0M465.6 96.7h0M465.4 100.2h0M458.3 92.5h0M457.2 94.0h0M481.3 103.1h0M493.3 97.0h0M463.5 88.8h0M472.2 103.9h0M493.9 96.9h0M480.7 88.6h0M471.1 96.9h0M457.5 105.7h0M493.1 90.7h0M480.2 104.3h0M474.1 87.3h0M482.9 87.0h0M478.4 93.8h0M467.6 92.3h0M480.9 91.1h0M486.6 101.7h0M484.1 91.8h0M485.6 99.4h0M470.0 87.0h0M477.5 93.7h0M474.5 100.2h0M486.8 105.4h0M483.9 100.6h0M455.9 106.1h0M471.7 105.5h0M494.1 106.5h0M491.5 89.6h0M462.5 94.5h0M473.8 93.2h0M461.2 88.4h0M456.6 96.5h0M453.5 91.6h0M484.4 101.2h0M462.6 85.1h0M480.1 98.1h0M452.9 89.5h0M491.9 92.5h0M489.8 107.0h0M486.1 106.4h0M493.0 95.3h0M474.7 106.6h0M476.3 102.2h0M475.4 96.1h0M469.1 94.4h0M470.4 103.3h0M455.1 87.5h0M490.8 101.7h0M490.6 98.2h0M481.9 100.6h0M471.6 92.9h0M461.9 93.6h0M457.2 86.2h0M484.2 89.9h0M471.5 91.6h0M477.7 88.1h0M475.2 88.8h0M486.0 104.7h0M449.7 92.5h0M490.9 101.4h0M491.2 102.6h0M455.3 97.3h0M470.8 91.3h0M482.3 90.5h0M455.9 88.8h0M483.6 99.2h0M468.7 91.5h0M493.7 102.3h0M471.8 103.3h0M474.0 92.9h0M465.4 92.6h0M492.8 92.9h0M463.0 94.9h0M454.4 91.8h0M463.8 86.7h0M460.6 89.0h0M458.9 89.6h0M485.0 102.1h0M454.3 89.6h0M468.6 93.4h0M473.8 98.5h0M463.6 90.7h0M463.3 89.5h0M461.7 87.4h0M464.9 104.2h0M464.7 86.2h0M492.2 94.6h0M461.5 98.8h0M460.6 84.8h0M486.1 86.7h0M478.7 99.5h0M469.1 90.3h0M478.7 90.2h0M462.8 96.2h0M478.1 108.0h0M483.1 99.7h0M485.6 108.2h0M467.6 89.7h0M467.2 103.0h0M462.2 82.3h0M487.7 94.9h0M473.8 99.8h0M479.2 95.1h0M462.8 88.0h0M466.3 85.9h0M456.3 86.8h0M477.3 87.0h0M476.2 104.7h0M479.8 99.2h0M466.4 95.2h0M471.3 86.0h0M460.8 96.8h0M484.3 104.2h0M455.3 97.9h0M479.8 96.4h0M480.3 90.4h0M459.7 107.1h0M458.6 93.4h0M459.2 101.0h0M487.1 97.0h0M467.6 103.2h0M454.4 98.1h0M458.4 96.4h0M469.6 100.8h0M485.8 103.2h0M464.9 101.8h0M485.7 92.2h0M487.6 103.5h0M465.9 102.9h0M482.3 107.0h0M453.7 91.5h0M478.5 108.6h0M476.3 102.2h0M472.1 95.8h0M482.2 102.8h0M472.1 94.8h0M488.0 95.0h0M469.2 107.6h0M470.3 97.7h0M465.8 95.6h0M459.9 106.0h0M452.5 87.1h0M491.2 101.8h0M486.3 108.7h0M473.4 112.2h0M469.0 106.1h0M474.0 102.1h0M464.8 88.1h0M476.1 101.1h0M474.5 98.0h0M462.0 87.3h0M482.1 95.9h0M475.4 108.3h0M475.1 95.9h0M477.1 109.8h0M485.6 93.3h0M467.8 104.5h0M492.1 97.0h0M482.5 97.5h0M471.6 89.7h0M461.7 109.7h0M490.8 88.7h0M452.9 92.3h0M454.4 100.5h0M458.4 98.5h0M459.3 90.7h0M459.4 98.4h0M463.1 94.1h0M496.2 96.7h0M463.0 97.5h0M458.7 94.8h0M484.1 89.1h0M495.1 97.8h0M481.5 93.6h0M490.3 92.8h0M476.4 108.6h0M465.6 89.0h0M451.5 93.5h0M482.2 106.0h0M450.3 103.0h0M464.7 90.9h0M465.3 89.2h0M475.1 109.3h0M457.6 87.3h0M479.4 103.6h0M472.2 97.5h0M477.8 101.4h0M494.6 96.2h0M458.0 87.7h0M461.5 100.0h0M458.0 98.3h0M454.6 97.2h0M463.9 97.0h0M463.8 83.3h0M460.7 103.6h0M466.0 90.6h0M456.1 103.1h0M491.4 95.3h0M472.8 97.2h0M476.9 106.6h0M469.4 106.3h0M453.8 92.4h0M488.7 101.1h0M460.1 100.2h0M472.3 106.9h0M454.9 90.5h0M461.0 90.6h0M481.9 105.0h0M465.5 89.4h0M483.6 96.6h0M469.5 102.9h0M467.5 102.8h0M459.4 91.1h0M459.1 96.8h0M491.9 94.6h0M456.0 101.1h0M486.7 93.3h0M470.3 102.1h0M474.8 96.6h0M461.0 94.1h0M472.2 103.4h0M476.1 104.4h0M467.1 95.4h0M477.5 101.0h0M457.9 92.1h0M459.3 93.2h0M489.9 89.1h0M478.8 105.7h0M472.1 89.2h0M463.8 96.2h0M487.2 90.2h0M470.7 91.5h0M455.5 93.9h0M488.7 86.1h0M457.2 95.2h0M476.0 107.4h0M471.1 92.8h0M474.2 102.4h0M478.8 106.1h0M484.7 94.1h0M482.2 96.2h0M457.3 96.6h0M472.5 106.0h0M477.5 104.5h0M459.4 89.0h0M483.7 96.7h0M462.6 103.2h0M490.2 93.7h0M485.7 90.5h0M493.9 95.9h0M473.2 106.2h0M454.3 102.4h0M457.1 94.1h0M471.5 91.2h0M479.0 100.4h0M490.4 102.9h0M475.9 99.9h0M486.3 96.0h0M471.2 95.3h0M465.7 106.3h0M493.5 93.6h0M479.6 87.7h0M492.9 108.7h0M457.9 89.8h0M475.4 107.5h0M454.0 93.1h0M469.7 98.1h0M467.0 100.0h0M476.4 94.2h0M480.2 98.4h0M484.0 104.4h0M464.3 94.8h0M478.5 93.9h0M480.2 98.8h0M478.3 100.9h0M485.2 95.4h0M494.9 96.6h0M489.3 92.9h0M479.6 91.1h0M463.9 101.2h0M485.4 101.6h0M465.0 100.2h0M462.5 92.7h0M470.7 91.8h0M490.9 87.9h0M491.7 89.6h0M476.6 98.6h0M473.6 91.8h0M484.9 89.8h0M473.5 90.9h0M474.3 89.9h0M457.0 100.5h0M480.0 105.7h0M476.5 100.7h0M466.2 109.6h0M478.8 96.8h0M457.3 99.9h0M471.4 91.6h0M465.0 90.0h0M469.6 103.5h0M474.5 90.6h0M490.2 92.2h0M451.9 100.5h0M459.6 100.8h0M471.5 108.2h0M499.4 102.9h0M477.6 110.5h0M464.5 100.7h0M494.0 100.0h0M495.5 99.7h0M483.5 101.3h0M493.8 95.6h0M487.7 92.2h0M478.5 88.0h0M474.5 106.1h0M489.0 104.4h0M475.4 107.7h0M487.7 107.2h0M488.3 94.8h0M478.4 89.7h0M471.3 94.0h0M466.4 106.8h0M491.3 94.1h0M450.3 99.3h0M475.3 106.7h0M462.7 85.8h0M481.9 90.1h0M479.9 92.8h0M483.3 93.2h0M483.6 92.3h0M493.5 93.0h0M456.7 92.2h0M492.9 103.0h0M473.1 89.1h0M480.3 86.8h0M453.1 96.0h0M489.7 99.4h0M460.9 94.6h0M453.5 99.8h0M464.1 92.3h0M490.7 99.2h0M473.0 106.2h0M486.2 102.0h0M481.2 106.0h0M490.9 106.7h0M459.5 101.5h0M462.8 93.3h0M485.7 105.0h0M458.8 91.5h0M489.2 93.2h0M459.3 92.3h0M473.5 91.5h0M478.5 94.2h0M488.9 96.9h0M469.1 99.4h0M461.8 100.0h0M484.8 108.0h0M476.8 91.3h0M460.1 102.2h0M472.6 90.6h0M493.0 93.9h0M461.7 102.2h0M481.1 88.5h0M475.4 96.4h0M472.6 111.8h0M480.7 102.6h0M463.6 109.1h0M456.0 96.7h0M486.4 103.9h0M458.0 90.4h0M476.2 104.6h0M466.6 101.5h0M454.6 91.9h0M487.7 107.6h0M488.1 107.1h0M451.6 97.7h0M483.9 91.0h0M484.5 91.4h0M476.5 107.7h0M465.6 107.8h0M459.2 95.7h0M464.6 87.7h0M490.7 92.6h0M478.0 108.7h0M480.6 105.4h0M452.7 91.9h0M480.8 97.8h0M485.1 99.9h0M480.7 102.7h0M473.5 105.1h0M478.5 88.4h0M477.4 96.9h0M489.8 90.8h0M454.1 91.1h0M472.2 101.6h0M484.3 92.6h0M476.5 108.2h0M475.4 102.9h0M470.0 97.4h0M483.6 103.1h0M484.5 103.1h0M470.8 95.8h0M473.2 100.4h0M466.5 106.7h0M466.0 90.5h0M458.1 88.0h0M451.6 96.3h0M471.6 87.3h0M469.3 97.8h0M488.7 94.6h0M486.8 107.2h0M467.8 89.5h0M477.4 85.4h0M474.7 100.5h0M457.5 92.4h0M457.5 102.5h0M487.0 87.2h0M473.4 89.1h0M453.3 89.7h0M469.2 106.2h0M476.9 92.3h0M477.5 92.6h0M472.9 103.5h0M495.2 98.5h0M467.3 109.1h0M486.6 87.3h0M472.4 90.0h0M470.7 86.4h0M456.3 86.1h0M492.7 92.9h0M459.9 97.7h0M469.3 93.9h0M489.0 102.8h0M483.7 95.9h0M473.5 95.6h0M458.0 97.0h0M479.3 87.2h0M464.8 83.8h0M470.8 91.6h0M473.6 102.9h0M491.7 100.9h0M465.6 106.0h0M481.7 93.4h0M483.4 98.6h0M486.3 106.8h0M468.9 101.7h0M487.2 92.7h0M453.1 101.1h0M468.5 97.0h0M468.8 98.3h0M472.2 92.2h0M490.6 107.4h0M491.6 94.8h0M466.1 90.6h0M480.7 101.5h0M496.6 98.5h0M487.7 99.3h0M473.4 107.3h0M475.3 91.0h0M461.8 89.6h0M484.4 103.3h0M468.8 89.4h0M475.6 106.6h0M490.0 94.0h0M479.2 106.9h0M488.0 94.0h0M476.2 105.2h0M481.5 93.6h0M494.6 100.7h0M458.2 89.9h0M460.2 88.4h0M479.5 91.2h0M472.7 91.6h0M474.5 89.5h0M471.9 92.4h0M452.5 90.5h0M474.3 100.3h0M470.1 90.8h0M476.2 86.3h0M478.2 101.6h0M453.8 99.8h0M482.6 91.3h0M470.4 92.4h0M484.4 107.7h0M458.3 103.8h0M466.9 103.1h0M469.6 99.5h0M471.3 99.5h0M484.1 92.3h0M468.3 99.0h0M457.2 89.1h0M488.0 92.1h0M468.1 105.6h0M490.4 98.1h0M465.0 98.6h0M449.4 97.1h0M478.6 90.9h0M462.9 99.2h0M457.1 91.9h0M461.6 95.2h0M455.5 86.7h0M454.9 89.2h0M453.8 101.1h0M456.7 99.6h0M466.6 87.1h0M489.7 99.5h0M478.8 96.8h0M478.9 89.8h0M481.7 94.9h0M472.1 87.2h0M478.1 92.4h0M457.2 97.6h0M491.9 99.1h0M471.6 99.4h0M474.0 100.7h0M467.6 96.1h0M495.4 98.0h0M463.6 108.8h0M459.8 94.5h0M459.7 96.6h0M481.1 107.5h0M494.8 101.7h0M470.6 107.4h0M468.0 87.7h0M479.4 94.8h0M477.5 102.2h0M460.7 97.0h0M463.8 96.7h0M487.0 89.3h0M464.9 105.8h0M488.6 102.8h0M491.5 101.3h0M472.7 88.2h0M489.0 105.4h0M469.7 86.5h0M489.1 101.7h0M479.4 88.4h0M486.2 96.0h0M483.4 97.6h0M458.6 107.5h0M474.5 94.1h0M498.1 103.1h0M484.1 105.0h0M486.6 102.9h0M469.1 88.9h0M470.9 102.6h0M483.3 95.2h0M490.1 105.3h0M458.3 89.6h0M476.6 98.3h0M466.6 86.5h0M463.6 88.3h0M491.7 100.5h0M485.1 97.2h0M461.7 89.0h0M467.2 94.7h0M476.2 97.4h0M492.9 91.9h0M485.0 107.4h0M475.7 102.2h0M481.2 110.2h0M489.4 91.1h0M483.7 89.8h0M465.3 101.2h0M471.7 101.0h0M453.0 97.3h0M476.5 103.0h0M485.8 92.2h0M474.1 99.8h0M469.8 105.5h0M489.0 92.8h0M488.8 101.7h0M463.4 109.3h0M471.5 99.8h0M479.3 103.6h0M479.1 93.8h0M452.7 95.5h0M488.8 95.3h0M455.0 91.2h0M480.2 94.3h0M457.4 101.2h0M462.8 101.1h0M454.1 93.8h0M468.9 95.3h0M471.4 105.7h0M472.6 96.6h0M482.3 85.5h0M484.1 103.2h0M461.3 97.7h0M453.6 98.9h0M468.9 88.2h0M481.1 95.0h0M462.4 99.1h0M469.0 98.7h0M465.3 102.0h0M484.2 95.2h0M483.4 110.5h0M479.7 94.9h0M481.5 108.3h0M465.7 93.4h0M469.5 104.5h0M487.6 97.4h0M484.4 109.1h0M468.9 106.7h0M459.8 101.1h0M497.0 97.0h0M459.8 91.9h0M467.4 101.6h0M495.2 105.3h0M464.1 87.1h0M477.0 111.7h0M460.5 101.9h0M499.1 99.7h0M462.0 100.5h0M478.2 86.9h0M477.3 106.1h0M487.1 98.3h0M490.4 103.3h0M456.1 91.8h0M459.9 92.0h0M457.7 88.9h0M471.9 109.4h0M467.9 95.5h0M455.3 90.9h0M486.0 89.4h0M489.8 95.8h0M494.0 103.2h0M452.5 93.5h0M490.5 88.8h0M459.5 91.2h0M452.6 91.2h0M489.0 100.0h0M493.0 102.3h0M466.8 91.2h0M464.4 96.1h0M461.3 105.6h0M487.7 95.3h0M473.7 92.2h0M454.2 96.5h0M483.6 100.8h0M460.4 84.2h0M462.5 92.6h0M454.3 100.1h0M473.6 97.2h0M463.7 105.0h0M460.2 97.6h0M490.6 106.1h0M468.3 105.9h0M471.3 109.1h0M477.9 96.3h0M461.0 102.2h0M466.5 100.0h0M472.6 97.7h0M490.0 93.9h0M465.9 87.7h0M469.4 90.4h0M478.9 102.3h0M486.9 106.7h0M473.4 103.8h0M476.6 108.4h0M492.3 103.5h0M474.5 99.9h0M451.5 96.2h0M462.3 100.6h0M496.3 97.8h0M494.9 93.9h0M473.4 91.8h0M480.7 106.7h0M476.9 107.0h0M448.4 97.2h0M477.4 85.7h0M454.8 96.7h0M480.8 110.6h0M452.6 87.4h0M491.0 101.5h0M475.8 86.3h0M471.4 108.0h0M484.5 107.7h0M494.4 93.9h0M482.3 95.5h0M487.0 103.5h0M474.8 91.6h0M467.1 92.8h0M494.3 93.5h0M487.4 96.1h0M480.7 99.7h0M490.8 102.9h0M471.9 108.1h0M477.4 87.0h0M494.4 101.6h0M475.5 93.1h0M473.2 101.6h0M485.6 107.0h0M490.5 94.2h0M471.7 100.0h0M483.5 98.9h0M475.3 108.1h0M489.5 111.0h0M479.6 101.9h0M458.8 102.7h0M478.8 97.2h0M480.3 103.7h0M481.0 98.4h0M491.0 88.6h0M453.6 97.4h0M462.0 89.6h0M464.9 94.5h0M461.9 90.6h0M482.0 104.7h0M468.6 93.8h0M474.8 95.5h0M466.7 100.1h0M467.8 89.8h0M464.3 85.0h0M497.0 94.0h0M469.6 97.5h0M480.6 105.4h0M478.6 99.6h0M489.8 107.5h0M492.0 108.2h0M484.6 101.0h0M477.9 107.2h0M463.9 92.8h0M462.9 92.7h0M463.6 101.4h0M483.7 104.9h0M495.2 99.3h0M489.2 90.6h0M457.9 85.0h0M459.3 98.7h0M460.4 99.1h0M490.9 89.0h0M458.5 95.7h0M454.6 103.7h0M470.1 96.7h0M456.0 92.8h0M465.6 91.9h0M448.7 96.2h0M485.6 100.0h0M472.0 101.0h0M485.9 94.3h0M481.1 90.7h0M486.6 96.7h0M473.9 107.7h0M493.4 96.1h0M478.5 103.7h0M482.7 92.3h0M489.1 99.0h0M458.6 98.2h0M451.3 90.2h0M472.6 101.2h0M469.4 97.6h0M481.9 105.9h0M455.1 93.8h0M461.7 94.0h0M488.7 109.1h0M485.4 104.2h0M473.7 109.2h0M492.0 92.3h0M454.1 96.0h0M481.8 105.6h0M471.0 87.3h0M465.7 84.9h0M476.6 91.9h0M472.2 101.9h0M473.4 86.5h0M480.7 106.2h0M463.5 94.4h0M456.9 101.0h0M467.5 83.2h0M477.0 96.9h0M465.8 94.9h0M470.2 86.8h0M480.0 96.6h0M451.5 95.9h0M475.9 99.3h0M490.4 102.4h0M476.8 86.7h0M495.6 96.8h0M466.4 107.8h0M464.1 94.1h0M487.8 93.1h0M458.1 102.8h0M480.6 99.8h0M489.9 102.8h0M477.0 86.0h0M456.2 95.2h0M457.3 96.0h0M454.9 92.7h0M468.3 105.0h0M450.8 97.4h0M465.3 85.7h0M472.9 103.6h0M458.4 101.9h0M467.8 87.2h0M482.2 102.2h0M489.9 96.0h0M482.4 96.3h0M490.9 93.8h0M464.8 87.9h0M458.2 95.7h0M473.2 99.7h0M472.9 99.9h0M453.5 99.5h0M465.8 101.0h0M459.8 105.1h0M484.0 101.1h0M480.5 108.9h0M452.1 93.4h0M479.3 93.7h0M496.9 102.8h0M486.6 96.2h0M481.6 98.9h0M487.9 100.2h0M469.1 95.3h0M494.3 98.2h0M468.1 95.5h0M466.6 96.2h0M467.5 102.1h0M470.8 97.9h0M484.7 89.3h0M476.4 93.7h0M456.8 102.3h0M486.7 92.9h0M479.0 88.0h0M476.7 100.8h0M468.8 86.6h0M477.6 102.7h0M461.2 99.4h0M468.6 99.9h0M466.4 84.4h0M456.4 90.6h0M474.5 98.5h0M474.5 94.9h0M461.9 90.7h0M461.2 97.6h0M487.3 91.1h0M477.4 108.1h0M463.1 105.4h0M458.7 92.3h0M486.8 89.2h0M459.7 100.1h0M478.4 97.4h0M479.9 99.8h0M468.4 87.3h0M457.8 103.3h0M483.2 98.7h0M476.6 103.1h0M455.3 105.2h0M472.3 108.9h0M485.7 93.8h0M461.4 100.6h0M464.3 96.4h0M461.8 88.0h0M490.1 90.1h0M480.4 98.0h0M484.1 105.9h0M467.7 90.0h0M476.3 107.6h0M483.9 108.0h0M475.1 108.3h0M474.6 105.7h0M477.5 104.7h0M453.7 103.1h0M458.9 99.4h0M474.4 98.6h0M471.1 86.4h0M458.7 104.6h0M485.3 92.6h0M465.4 91.4h0M451.1 102.3h0M473.1 105.1h0M468.6 101.9h0M471.3 102.1h0M491.5 106.8h0M458.0 108.3h0M461.1 94.9h0M496.0 94.7h0M489.5 96.3h0M461.8 90.6h0M468.8 89.1h0M480.1 109.8h0M470.1 95.4h0M484.7 92.7h0M461.5 104.2h0M468.1 101.3h0M489.4 101.4h0M471.1 100.7h0M469.0 100.1h0M466.6 97.3h0M485.6 107.7h0M456.1 100.5h0M474.7 96.0h0M487.7 103.7h0M477.0 102.3h0M479.9 104.2h0M485.3 98.6h0M467.7 93.7h0M476.4 87.3h0M466.1 88.9h0M479.1 106.2h0M451.9 100.1h0M484.3 110.2h0M463.2 102.0h0M459.8 89.6h0M488.8 97.4h0M463.3 100.8h0M472.5 110.5h0M480.7 104.6h0M464.9 98.5h0M455.2 100.3h0M477.0 92.4h0M489.5 95.5h0M466.8 93.8h0M492.9 106.4h0M454.5 87.2h0M484.3 107.1h0M481.1 95.2h0M491.4 108.5h0M461.4 107.6h0M459.8 93.7h0M458.1 94.6h0M471.9 94.0h0M494.5 103.6h0M453.6 100.2h0M489.8 104.8h0M479.8 95.5h0M455.0 101.0h0M464.7 99.9h0M487.3 90.7h0M494.9 97.1h0M462.9 94.8h0M467.8 95.5h0M456.4 88.3h0M481.3 88.1h0M479.2 89.3h0M472.9 100.3h0M454.0 98.1h0M472.0 102.1h0M474.1 88.3h0M468.9 88.8h0M496.4 97.4h0M466.4 89.3h0M481.0 97.2h0M485.5 88.2h0M465.4 97.2h0M467.8 84.8h0M458.5 93.5h0M492.6 103.5h0M479.6 86.7h0M451.6 93.3h0M482.8 104.9h0M479.4 107.3h0M468.9 86.4h0M488.0 106.0h0M452.3 87.8h0M474.2 107.8h0M460.3 103.8h0M460.7 93.1h0M455.0 91.9h0M468.3 92.9h0M450.5 96.3h0M472.9 86.7h0M484.9 100.8h0M483.9 100.4h0M479.6 92.8h0M465.4 86.7h0M491.6 95.6h0M489.5 97.0h0M469.9 96.4h0M466.8 98.2h0M495.3 101.3h0M477.9 100.7h0M468.9 96.7h0M488.9 98.5h0M470.9 85.0h0M463.4 92.4h0M483.7 88.7h0M490.0 103.0h0M480.5 89.6h0M475.5 99.1h0M484.2 101.7h0M494.5 99.7h0M490.5 95.8h0M481.1 99.8h0M478.4 109.7h0M481.5 95.8h0M462.0 98.9h0M472.8 94.9h0M452.5 90.2h0M454.3 91.6h0M475.0 103.2h0M477.9 93.7h0M497.5 99.5h0M486.5 109.2h0M482.0 103.7h0M476.9 101.7h0M467.9 108.3h0M487.9 102.6h0M461.3 97.8h0M490.5 89.2h0M468.8 100.8h0M450.7 94.0h0M484.3 93.4h0M474.0 99.6h0M477.9 96.3h0M482.7 88.2h0M492.9 107.7h0M484.5 96.6h0M489.2 94.5h0M451.7 96.1h0M462.4 92.0h0M490.5 96.5h0M484.7 104.6h0M477.4 106.5h0M483.0 97.4h0M463.9 106.4h0M496.3 96.9h0M484.5 94.7h0M489.0 89.4h0M487.3 96.1h0M488.2 108.2h0M483.4 106.2h0M463.7 97.4h0M456.2 98.8h0M471.9 100.7h0M489.5 97.9h0M462.4 90.9h0M469.9 90.0h0M477.7 104.8h0M475.8 100.1h0M457.8 99.3h0M469.7 85.7h0M459.2 98.4h0M453.2 97.5h0M451.2 94.5h0M460.0 89.9h0M471.4 99.8h0M462.9 100.2h0M475.8 88.5h0M480.4 95.6h0M491.7 93.4h0M463.1 98.3h0M471.7 92.7h0M478.0 102.2h0M493.1 93.4h0M476.7 94.6h0M464.2 92.8h0M457.8 94.1h0M498.1 94.0h0M474.5 94.7h0M477.9 96.9h0M456.5 95.0h0M452.2 89.1h0M481.6 102.0h0M492.1 103.1h0M465.9 91.3h0M452.0 93.2h0M471.0 83.7h0M474.8 104.9h0M468.9 98.8h0M466.0 89.5h0M468.1 109.2h0M468.6 97.3h0M470.4 89.7h0M450.1 95.8h0M456.3 99.3h0M491.1 97.8h0M476.5 97.6h0M478.1 108.3h0M477.2 99.5h0M459.2 88.9h0M460.2 89.1h0M476.7 99.2h0M457.6 94.8h0M453.8 87.9h0M481.4 106.7h0M466.7 95.7h0M485.0 101.0h0M480.7 96.0h0M488.6 103.1h0M483.9 106.1h0M455.9 90.3h0M486.5 106.2h0M495.0 97.3h0M491.4 104.3h0M488.2 104.1h0M475.2 109.8h0M490.5 100.2h0M488.6 100.8h0M458.2 92.0h0M494.7 97.4h0M476.1 92.4h0M475.0 95.2h0M484.7 102.1h0M475.1 98.6h0M492.4 106.1h0M460.2 88.5h0M463.1 105.9h0M470.5 108.3h0M472.3 88.5h0M493.7 98.4h0M454.6 102.7h0M455.5 87.0h0M461.7 95.4h0M486.0 89.7h0M479.9 98.9h0M471.6 106.7h0M458.5 86.0h0M493.1 101.2h0M468.0 105.7h0M473.2 104.6h0M473.8 93.3h0M492.8 90.8h0M471.0 86.1h0M458.0 98.5h0M492.8 91.3h0M453.3 94.3h0M498.4 101.7h0M467.0 95.6h0M495.3 104.0h0M480.5 102.4h0M469.8 101.7h0M465.6 95.3h0M472.1 97.0h0M458.4 89.7h0M462.4 99.9h0M478.9 95.7h0M452.0 91.7h0M461.6 95.9h0M459.4 99.7h0M477.0 88.3h0M468.4 103.2h0M471.2 98.4h0M450.4 95.8h0M452.1 97.8h0M465.2 100.8h0M496.3 107.5h0M485.0 96.1h0M480.8 94.3h0M484.1 87.2h0M456.6 89.4h0M482.2 107.7h0M451.0 97.8h0M450.0 97.0h0M491.4 107.9h0M482.8 101.8h0M486.9 91.7h0M490.7 96.2h0M470.9 103.9h0M482.0 95.6h0M464.9 97.6h0M463.7 87.3h0M483.3 89.6h0M475.8 84.9h0M467.7 101.8h0M497.4 95.5h0M469.5 91.3h0M479.7 99.0h0M484.4 106.8h0M482.4 88.7h0M487.5 102.4h0M455.5 92.1h0M486.0 97.1h0M478.7 103.5h0M486.6 89.7h0M489.8 93.2h0M453.8 96.8h0M477.6 107.8h0M459.8 93.1h0M487.8 99.4h0M453.0 88.0h0M466.8 89.2h0M481.7 93.0h0M492.1 97.7h0M494.5 101.9h0M466.9 92.7h0M493.3 101.1h0M468.2 106.7h0M473.1 86.4h0M474.6 100.8h0M452.8 94.6h0M465.9 95.1h0M482.9 87.3h0M457.3 104.4h0M463.3 92.4h0M484.6 100.6h0M474.3 105.3h0M475.0 109.2h0M463.6 90.5h0M476.4 113.3h0M485.8 104.3h0M457.1 91.5h0M473.4 97.6h0M480.2 96.6h0M479.8 89.0h0M455.3 93.9h0M481.7 107.3h0M488.2 99.7h0M482.0 95.7h0M485.3 95.0h0M492.4 97.0h0M461.4 101.6h0M497.9 96.4h0M463.2 90.9h0M486.1 90.1h0M458.1 95.4h0M470.2 93.9h0M461.5 86.9h0M473.0 104.0h0M477.2 88.8h0M490.5 95.6h0M472.9 93.8h0M481.7 102.5h0M491.9 101.5h0M457.1 96.5h0M475.7 93.9h0M487.7 107.6h0M486.5 104.2h0M474.0 87.9h0M480.6 100.1h0M464.5 102.6h0M453.1 96.8h0M460.5 100.8h0M477.1 97.9h0M472.9 102.3h0M469.2 100.9h0M460.3 90.0h0M488.2 107.4h0M483.4 108.8h0M497.6 97.5h0M480.7 92.0h0M491.8 105.0h0M467.4 107.2h0M464.3 96.8h0M461.1 100.6h0M486.4 103.7h0M472.1 87.7h0M487.5 95.0h0M449.2 96.0h0M457.1 86.8h0M462.2 89.4h0M471.7 96.9h0M488.3 93.5h0M491.4 95.7h0M462.6 95.9h0M469.7 105.2h0M476.1 110.1h0M452.8 92.2h0M458.0 94.8h0M478.6 104.2h0M487.6 96.3h0M469.2 108.2h0M467.2 98.3h0M490.0 91.4h0M482.5 109.2h0M470.5 88.9h0M490.4 102.7h0M461.2 89.2h0M463.6 84.3h0M474.0 108.5h0M451.5 101.0h0M475.8 94.8h0M458.4 95.4h0M476.2 98.8h0M468.9 85.2h0M453.2 88.7h0M489.8 92.6h0M473.4 89.2h0M485.1 106.4h0M466.9 86.7h0M472.8 103.1h0M493.5 102.9h0M451.1 94.6h0M461.6 81.9h0M457.3 101.7h0M483.4 92.9h0M485.1 89.8h0M489.0 103.0h0M474.3 101.4h0M459.2 92.9h0M448.7 98.9h0M463.2 101.5h0M492.4 91.0h0M460.1 97.2h0M462.5 89.7h0M449.8 96.9h0M475.7 105.8h0M491.8 92.0h0M466.8 89.8h0M455.5 98.4h0M492.0 92.4h0M471.0 102.1h0M477.9 102.6h0M472.3 103.5h0M454.2 100.1h0M497.5 100.2h0M452.0 92.0h0M471.4 88.0h0M473.7 92.8h0M468.1 105.7h0M482.9 103.3h0M460.1 94.1h0M454.3 92.5h0M487.0 104.5h0M486.0 107.7h0M465.6 98.6h0M487.9 98.7h0M486.8 110.5h0M472.8 108.8h0M486.5 89.6h0M468.5 103.1h0M479.0 89.6h0M482.9 89.2h0M466.5 88.8h0M455.8 100.6h0M477.1 98.2h0M481.3 98.3h0M481.2 98.5h0M462.3 92.3h0M488.8 96.3h0M463.0 100.4h0M469.4 98.2h0M486.5 103.8h0M489.7 104.0h0M477.0 102.2h0M478.0 92.5h0M473.1 101.4h0M464.6 105.8h0M493.7 106.2h0M473.6 84.6h0M477.5 93.5h0M474.1 89.6h0M477.3 105.8h0M465.6 103.9h0M455.3 97.8h0M476.6 87.3h0M468.5 108.4h0M472.6 105.6h0M479.6 96.9h0M466.0 105.7h0M478.1 93.9h0M458.0 87.2h0M450.8 96.4h0M472.8 99.4h0M473.2 95.3h0M468.9 103.4h0M466.3 99.9h0M478.1 94.6h0M481.1 107.8h0M473.5 108.1h0M451.8 96.5h0M470.9 95.6h0M477.0 90.1h0M477.2 96.0h0M475.5 88.8h0M473.3 100.8h0M458.2 97.0h0M485.6 94.5h0M451.8 93.4h0M467.1 100.1h0M478.9 96.1h0M461.5 92.1h0M490.7 95.5h0M477.7 88.6h0M482.3 105.5h0M480.2 95.1h0M462.0 105.0h0M453.5 88.3h0M490.8 100.3h0M486.3 104.0h0M487.1 106.9h0M472.8 90.1h0M483.6 92.3h0M484.9 106.4h0M464.2 87.7h0M487.9 107.3h0M466.9 101.7h0M485.3 98.0h0M483.2 95.0h0M457.7 100.9h0M452.9 91.8h0M461.8 102.0h0M462.9 100.9h0M470.8 95.6h0M494.9 96.3h0M481.1 91.6h0M475.0 93.3h0M470.4 97.7h0M458.7 104.0h0M495.8 108.0h0M461.8 93.3h0M480.7 93.2h0M472.4 97.4h0M454.9 95.2h0M491.8 96.6h0M463.0 90.0h0M460.8 84.6h0M481.2 105.0h0M486.2 102.1h0M452.0 97.7h0M463.8 85.9h0M491.7 99.0h0M460.0 92.1h0M459.5 102.8h0M453.1 95.9h0M480.2 88.3h0M466.6 82.3h0M459.5 94.4h0M478.5 95.5h0M472.9 107.0h0M481.0 89.7h0M475.3 96.7h0M472.4 107.3h0M470.0 101.4h0M469.1 86.4h0M463.1 98.1h0M463.2 92.8h0M493.3 100.3h0M471.0 97.8h0M453.2 97.8h0M460.6 98.1h0M476.9 106.1h0M475.1 109.3h0M463.4 102.5h0M495.6 94.1h0M472.5 107.6h0M482.2 107.6h0M493.4 96.1h0M486.6 94.1h0M458.5 101.6h0M448.6 94.4h0M472.1 109.7h0M473.1 89.8h0M491.2 96.1h0M456.7 88.4h0M456.0 92.7h0M455.6 94.0h0M478.8 97.3h0M482.3 94.7h0M462.2 93.6h0M459.4 97.8h0M484.1 86.3h0M475.5 87.9h0M488.4 97.6h0M470.9 101.5h0M468.7 88.6h0M454.2 89.7h0M485.3 88.5h0M469.7 103.5h0M471.8 86.6h0M479.1 96.8h0M456.8 84.5h0M475.5 93.9h0M466.6 88.3h0M461.0 91.0h0M466.6 105.5h0M474.3 101.8h0M457.0 86.5h0M485.8 108.0h0M450.1 95.4h0M486.8 103.0h0M494.2 101.9h0M458.4 91.4h0M460.4 103.1h0M472.6 100.2h0M465.1 95.1h0M473.5 96.0h0M493.0 97.3h0M487.7 107.2h0M468.1 103.7h0M491.9 97.7h0M463.3 101.8h0M486.4 107.6h0M452.9 99.1h0M464.7 103.0h0M466.9 89.0h0M487.1 88.5h0M489.2 88.5h0M482.9 100.4h0M464.8 106.0h0M481.2 96.0h0M472.6 101.4h0M496.2 100.2h0M460.8 86.7h0M469.0 89.4h0M458.0 98.1h0M453.3 92.6h0M456.0 90.9h0M491.0 106.3h0M481.3 86.0h0M454.4 103.1h0M464.8 85.6h0M486.9 98.5h0M465.8 104.9h0M485.5 101.3h0M467.2 102.8h0M474.8 102.9h0M490.8 104.1h0M477.3 103.7h0M483.2 96.2h0M479.3 88.6h0M466.4 98.5h0M449.5 94.1h0M493.7 95.1h0M476.1 97.0h0M472.9 100.7h0M473.6 89.8h0M474.5 100.1h0M472.5 90.5h0M488.5 94.0h0M486.1 90.1h0M465.7 92.0h0M467.5 95.2h0M462.4 100.0h0M481.0 106.5h0M489.1 87.5h0M482.9 88.0h0M480.8 107.4h0M467.5 95.4h0M490.0 91.1h0M452.3 87.5h0M454.6 94.2h0M466.2 82.8h0M460.8 104.0h0M482.9 110.4h0M487.7 107.6h0M461.3 83.2h0M473.3 89.0h0M484.6 93.7h0M451.6 93.5h0M471.2 105.2h0M479.2 108.2h0M482.1 95.5h0M454.7 90.6h0M482.3 97.5h0M482.3 105.6h0M476.2 95.7h0M460.7 92.0h0M491.8 100.3h0M451.6 88.2h0M456.9 100.4h0M459.0 87.0h0M452.2 86.1h0M473.5 97.1h0M459.2 92.3h0M466.2 93.2h0M464.7 105.1h0M481.9 92.8h0M486.5 87.5h0M466.9 96.7h0M476.5 101.6h0M459.0 90.6h0M466.1 90.2h0M460.0 91.6h0M482.1 89.9h0M490.7 102.3h0M464.5 87.5h0M473.3 101.7h0M455.3 104.2h0M462.7 99.8h0M457.4 102.7h0M465.3 100.0h0M477.9 107.1h0M495.2 102.3h0M483.1 88.1h0M464.6 97.1h0M461.4 102.3h0M485.0 101.5h0M474.4 102.6h0M479.4 101.6h0M470.4 108.7h0M478.6 87.8h0M476.1 108.1h0M453.2 89.4h0M469.9 98.0h0M458.8 93.5h0M464.2 89.7h0M451.8 93.9h0M467.2 98.9h0M473.2 100.2h0M473.7 102.9h0M473.6 99.8h0M451.0 95.7h0M476.4 102.1h0M470.6 104.6h0M490.5 97.9h0M460.5 88.6h0M480.0 93.1h0M490.8 91.3h0M489.6 91.0h0M468.5 95.9h0M491.7 96.4h0M480.0 91.9h0M496.5 101.4h0M484.3 102.7h0M486.2 109.7h0M481.0 106.2h0M456.1 88.4h0M484.4 103.6h0M453.8 88.7h0M485.9 103.6h0M455.1 102.1h0M461.3 105.2h0M465.4 101.7h0M487.2 101.1h0M483.0 93.9h0M460.9 89.3h0M457.3 101.3h0M475.8 99.9h0M452.9 97.2h0M476.2 109.8h0M470.3 95.5h0M481.6 102.1h0M464.2 85.9h0M461.0 104.1h0M481.3 104.9h0M479.7 91.4h0M455.1 93.0h0M462.6 97.4h0M490.3 89.2h0M480.2 110.8h0M455.9 93.6h0M487.1 105.9h0M488.6 96.6h0M489.1 101.4h0M485.4 98.4h0M488.0 94.8h0M489.4 101.4h0M479.3 91.7h0M484.9 104.0h0M490.6 91.2h0M461.3 94.9h0M457.9 103.9h0M469.2 91.9h0M456.6 90.8h0M467.1 88.7h0M487.4 96.0h0M466.3 88.4h0M465.6 99.2h0M491.2 105.6h0M485.1 91.5h0M460.0 102.4h0M481.9 103.9h0M470.2 87.7h0M483.8 98.8h0M493.6 105.1h0M463.7 98.5h0M472.2 100.2h0M460.6 105.8h0M473.0 99.6h0M488.6 107.7h0M459.7 89.4h0M466.9 104.2h0M464.4 86.6h0M475.8 107.4h0M470.4 89.3h0M448.1 92.3h0M477.6 93.2h0M468.0 88.9h0M493.6 96.7h0M481.0 104.9h0M448.9 91.2h0M489.1 107.4h0M461.9 100.6h0M471.3 104.6h0M478.7 91.7h0M468.0 93.6h0M458.0 89.0h0M468.0 102.4h0M460.0 97.8h0M487.4 107.2h0M484.0 89.3h0M492.2 91.3h0M495.9 104.2h0M466.2 101.6h0M468.3 96.9h0M485.4 104.6h0M465.6 108.4h0M490.7 103.1h0M472.8 96.6h0M479.4 96.4h0M472.5 92.3h0M463.2 99.9h0M452.2 93.6h0M453.5 97.0h0M490.2 94.4h0M482.1 96.1h0M474.2 100.9h0M464.0 96.5h0M474.4 105.9h0M487.6 94.0h0M465.5 85.9h0M469.0 89.3h0M489.6 103.3h0M494.5 97.4h0M462.4 90.8h0M455.9 86.1h0M498.0 96.5h0M478.3 90.0h0M478.9 88.0h0M485.2 99.9h0M480.6 89.7h0M457.5 87.7h0M462.7 90.0h0M490.2 106.4h0M459.6 89.4h0M485.1 104.4h0M485.9 96.9h0M455.5 98.4h0M476.6 93.1h0M456.6 97.6h0M454.6 98.0h0M468.0 108.8h0M457.9 93.5h0M453.9 91.1h0M490.8 88.6h0M456.9 93.7h0M481.4 92.6h0M485.8 96.3h0M469.2 90.9h0M464.3 86.0h0M494.5 103.3h0M471.9 104.8h0M485.6 103.6h0M483.7 106.6h0M474.6 102.0h0M455.2 99.9h0M471.7 105.2h0M484.9 102.3h0M461.6 87.3h0M484.5 101.6h0M463.9 90.0h0M488.7 102.9h0M473.9 108.2h0M478.0 85.5h0M488.3 94.2h0M460.6 93.5h0M460.9 98.7h0M466.9 97.9h0M469.5 99.2h0M460.6 96.1h0M491.3 105.5h0M471.0 87.6h0M485.7 93.7h0M457.6 94.1h0M468.9 103.1h0M454.7 86.8h0M476.8 93.5h0M457.1 87.7h0M462.7 100.7h0M457.2 104.1h0M486.3 105.8h0M468.3 103.1h0M477.6 95.0h0M471.1 101.4h0M468.6 91.9h0M455.0 97.0h0M473.7 107.7h0M455.4 96.1h0M464.5 99.8h0M472.1 94.2h0M485.3 90.9h0M490.7 99.0h0M481.4 91.1h0M470.5 101.6h0M463.5 97.4h0M476.6 93.0h0M463.6 89.4h0M461.5 105.0h0M468.3 98.7h0M469.6 107.6h0M493.7 101.5h0M464.0 95.8h0M463.3 95.0h0M468.8 85.4h0M456.5 98.4h0M485.8 105.0h0M492.6 98.8h0M479.4 103.3h0M488.8 107.0h0M494.0 100.5h0M474.9 109.2h0M477.6 103.2h0M465.1 95.1h0M462.8 95.9h0M479.3 103.1h0M486.1 95.1h0M456.4 96.9h0M459.6 108.1h0M486.7 89.5h0M473.6 91.2h0M482.4 99.9h0M474.2 92.1h0M473.1 108.5h0M487.6 88.7h0M468.6 95.3h0M485.4 96.4h0M469.5 105.3h0M456.4 92.3h0M497.2 103.8h0M472.5 92.3h0M466.9 86.5h0M457.1 94.8h0M464.4 87.1h0M460.8 106.0h0M454.2 85.5h0M474.1 93.6h0M452.2 90.0h0M479.8 101.7h0M458.4 105.7h0M489.2 92.5h0M496.2 101.4h0M473.4 102.8h0M464.6 90.1h0M485.2 100.0h0M458.8 84.7h0M480.1 85.8h0M493.3 103.3h0M466.1 97.4h0M483.9 100.5h0M478.4 105.5h0M471.9 93.6h0M475.7 91.5h0M471.2 98.4h0M452.3 96.2h0M464.0 93.1h0M463.0 105.8h0M454.9 90.9h0M457.3 90.4h0M463.6 85.5h0M468.4 87.1h0M467.3 108.5h0M484.9 94.9h0M464.8 89.5h0M468.3 86.9h0M474.2 100.6h0M492.2 106.7h0M466.0 104.2h0M459.6 86.9h0M468.9 90.6h0M477.8 104.3h0M452.4 99.1h0M489.9 99.4h0M464.8 105.2h0M486.2 103.8h0M472.6 104.5h0M482.5 95.2h0M472.1 88.9h0M488.7 90.5h0M486.7 89.3h0M473.9 90.9h0M467.9 91.1h0M494.9 90.7h0M476.0 100.7h0M482.3 98.8h0M473.9 107.8h0M481.6 94.5h0M466.6 105.9h0M460.2 90.1h0M487.7 101.9h0M478.6 91.7h0M467.8 96.8h0M477.9 89.3h0M457.1 88.2h0M461.8 85.5h0M465.6 83.9h0M477.4 93.9h0M487.8 108.9h0M487.6 96.9h0M477.4 106.5h0M463.5 98.8h0M455.8 102.1h0M471.2 89.8h0M477.5 108.2h0M491.5 102.3h0M456.6 90.3h0" stroke="#a6d3e8" stroke-width="0.90" stroke-linecap="round" fill="none" stroke-opacity="0.5"/>
<path d="M461.0 95.5h0M461.4 98.7h0M464.6 102.2h0M464.2 97.8h0M461.6 86.4h0M446.8 95.3h0M458.6 98.1h0M464.8 90.0h0M467.9 100.6h0M467.5 91.5h0M471.5 94.1h0M450.9 96.6h0M453.6 90.7h0M452.2 89.8h0M465.7 87.3h0M454.9 101.8h0M452.0 94.5h0M456.4 105.0h0M472.5 101.0h0M454.1 88.3h0M457.6 86.7h0M453.4 98.5h0M468.2 93.2h0M469.9 103.0h0M468.6 97.6h0M454.4 102.5h0M463.9 92.7h0M460.9 101.9h0M459.9 86.7h0M460.0 89.5h0M465.2 97.2h0M457.5 105.6h0M450.5 92.6h0M466.9 96.1h0M459.7 97.2h0M460.0 99.8h0M461.5 91.3h0M454.1 97.9h0M465.6 90.4h0M461.4 103.8h0M459.5 87.3h0M463.1 104.5h0M456.2 99.9h0M466.7 99.7h0M457.1 100.3h0M468.0 91.8h0M453.8 92.3h0M454.1 88.1h0M452.6 91.8h0M458.0 102.3h0M464.3 99.2h0M460.0 83.5h0M461.9 92.1h0M463.8 88.5h0M449.0 93.4h0M454.6 89.8h0M460.9 102.4h0M471.7 101.2h0M461.9 105.5h0M470.9 100.9h0M463.5 85.6h0M464.5 103.1h0M459.8 104.6h0M470.2 92.5h0M461.3 100.9h0M466.0 90.2h0M462.2 97.9h0M471.4 94.6h0M453.4 98.1h0M464.8 93.8h0M458.1 89.5h0M455.7 102.3h0M460.3 88.0h0M469.0 97.0h0M461.7 94.3h0M464.9 92.1h0M456.4 95.6h0M466.4 104.0h0M454.2 97.2h0M452.9 87.7h0M459.2 99.2h0M451.8 96.3h0M460.0 94.8h0M461.8 89.7h0M465.0 93.9h0M468.5 86.2h0M468.3 94.3h0M454.5 100.7h0M468.3 92.5h0M459.3 99.2h0M465.5 103.9h0M458.2 100.6h0M460.9 94.9h0M455.9 84.4h0M458.8 102.4h0M460.6 93.3h0M465.9 104.2h0M466.3 93.8h0M468.7 98.6h0M461.9 91.8h0M466.8 99.6h0M465.1 99.3h0M464.6 87.1h0M464.1 101.6h0M463.2 89.7h0M463.6 92.6h0M465.5 100.7h0M463.1 101.9h0M457.6 89.6h0M463.7 94.7h0M466.3 101.7h0M453.6 96.0h0M464.6 84.7h0M460.2 98.1h0M463.5 98.8h0M450.0 102.8h0M460.1 94.3h0M460.7 102.8h0M461.6 85.3h0M458.9 87.6h0M458.0 88.9h0M470.8 95.6h0M468.4 91.5h0M466.2 98.7h0M462.9 95.2h0M466.4 92.6h0M454.7 92.8h0M463.5 86.8h0M460.4 99.2h0M453.7 88.5h0M467.7 96.6h0M459.3 88.2h0M456.4 92.5h0M461.5 94.0h0M461.4 93.4h0M455.1 99.2h0M465.5 100.1h0M456.7 100.6h0M468.6 94.7h0M470.5 92.3h0M459.4 91.4h0M453.7 93.1h0M458.8 94.5h0M468.4 94.1h0M454.0 99.8h0M447.5 94.8h0M462.1 101.7h0M467.9 104.9h0M451.6 99.4h0M451.4 100.5h0M460.4 91.0h0M459.9 93.4h0M471.1 90.9h0M470.3 98.8h0M468.5 97.7h0M466.7 93.7h0M458.1 89.3h0M451.8 97.3h0M447.4 92.3h0M453.5 91.3h0M463.2 90.1h0M452.2 102.5h0M467.6 97.9h0M466.2 90.3h0M463.8 90.1h0M465.5 92.1h0M465.9 89.4h0M457.0 99.4h0M457.7 88.3h0M456.7 98.0h0M469.6 102.7h0M463.7 86.4h0M471.8 95.8h0M467.8 92.8h0M466.1 88.1h0M457.4 91.5h0M458.2 101.6h0M447.4 93.7h0M469.6 98.5h0M463.7 88.5h0M466.4 87.7h0M457.2 97.3h0M458.0 99.7h0M467.8 90.6h0M466.0 90.7h0M465.3 101.1h0M469.2 97.7h0M459.8 84.8h0M461.1 95.3h0M457.6 91.4h0M461.0 99.1h0M465.6 97.6h0M458.1 99.3h0M461.7 99.4h0M454.3 99.7h0M458.7 97.0h0M471.0 92.4h0M464.5 89.0h0M460.5 102.6h0M460.4 97.2h0M460.3 95.9h0M469.9 99.3h0M455.8 105.8h0M467.5 87.9h0M462.9 88.5h0M457.9 96.7h0M454.6 95.5h0M460.9 87.7h0M461.8 91.0h0M466.5 86.6h0M458.1 91.3h0M461.3 101.0h0M466.8 103.7h0M460.1 103.6h0M458.7 104.4h0M465.4 101.7h0M465.8 90.4h0M450.3 93.8h0M460.5 90.8h0M461.8 104.4h0M450.9 99.0h0M451.9 95.8h0M454.3 91.1h0M468.4 102.8h0M465.8 85.7h0M460.1 93.2h0M458.9 92.0h0M467.3 92.0h0M454.8 101.0h0M468.3 89.0h0M464.1 83.4h0M459.5 87.1h0M465.8 89.4h0M462.6 103.1h0M469.5 98.3h0M469.9 100.9h0M458.6 95.5h0M462.8 93.1h0M451.0 89.1h0M456.7 99.2h0M456.9 103.0h0M458.3 87.2h0M457.7 96.6h0M459.9 100.8h0M466.0 86.9h0M459.8 98.2h0M454.8 96.8h0M458.4 83.3h0M462.6 104.0h0M447.8 95.6h0M458.2 103.1h0M462.4 94.8h0M453.7 91.2h0M463.1 97.7h0M454.3 91.7h0M469.6 101.9h0M457.8 88.7h0M461.2 100.7h0M460.6 100.7h0M457.5 90.8h0M466.7 101.4h0M458.1 90.2h0M459.6 91.2h0M449.6 92.4h0M458.3 97.7h0M467.0 96.1h0M458.1 102.6h0M453.8 97.0h0M453.3 95.9h0M468.4 88.9h0M464.9 92.3h0M450.3 92.0h0M464.9 90.6h0M470.8 89.4h0M459.3 94.1h0M455.9 100.9h0M458.9 89.5h0M455.4 93.1h0M464.9 87.4h0M451.9 91.0h0M459.1 91.6h0M455.8 92.0h0M463.3 101.6h0M464.9 106.6h0M465.1 104.2h0M462.1 86.7h0M449.5 94.1h0M453.9 88.5h0M452.9 99.3h0M458.1 95.0h0M465.0 95.8h0M459.5 92.6h0M448.7 94.0h0M457.9 89.8h0M469.3 98.8h0M450.3 91.7h0M459.9 95.7h0M462.0 98.5h0M456.5 101.2h0M451.6 96.6h0M452.9 88.0h0M455.7 89.4h0M458.8 96.6h0M456.0 105.8h0M467.9 98.4h0M450.6 97.8h0M457.5 88.3h0M454.0 90.4h0M461.4 87.0h0M452.7 100.6h0M468.4 97.3h0M455.3 93.6h0M465.2 88.1h0M458.3 98.2h0M461.5 91.1h0M469.2 102.7h0M464.5 89.3h0M463.3 104.5h0M463.7 92.0h0M456.4 100.1h0M460.5 95.6h0M467.1 104.0h0M464.8 100.6h0M465.2 95.2h0M460.1 86.9h0M461.1 86.3h0M453.4 95.5h0M470.4 91.3h0M452.0 103.2h0M469.5 93.4h0M463.5 101.4h0M459.0 101.4h0M456.5 102.4h0M461.8 99.3h0M459.5 99.3h0M470.5 91.7h0M461.1 90.0h0M462.6 103.6h0M458.3 89.4h0M451.1 90.3h0M465.7 95.1h0M458.9 93.6h0M454.4 90.2h0M460.1 103.6h0M453.8 92.0h0M456.6 98.4h0M454.1 91.8h0M462.9 91.4h0M464.6 101.8h0M462.9 98.5h0M464.0 92.5h0M456.2 87.8h0M459.6 83.5h0M463.5 96.7h0M465.6 86.1h0M461.6 106.6h0M461.5 87.2h0M467.9 95.2h0M469.0 102.6h0M460.1 95.0h0M457.3 99.1h0M467.3 97.7h0M465.4 99.9h0M466.8 87.9h0M469.6 103.0h0M455.4 100.4h0M455.6 96.0h0M453.3 98.8h0M455.9 90.0h0M463.2 100.0h0M465.5 94.8h0M470.0 98.2h0M465.3 93.5h0M449.7 99.2h0M454.6 93.9h0M457.2 101.6h0M454.8 106.3h0M466.0 93.4h0M465.5 97.4h0M454.9 91.6h0M455.2 98.2h0M459.4 86.2h0M460.0 88.7h0M465.4 98.0h0M449.2 93.8h0M467.5 89.2h0M458.4 92.3h0M468.7 96.5h0M466.4 93.0h0M448.6 95.5h0M454.8 93.4h0M467.2 87.8h0M463.3 103.2h0M467.1 102.3h0M463.5 97.6h0M457.4 96.6h0M461.0 89.3h0M458.9 86.9h0M462.3 93.5h0M470.5 87.0h0M461.1 94.4h0M460.2 86.7h0M467.0 101.3h0M465.4 103.1h0M453.5 92.1h0M454.7 92.0h0M467.3 96.5h0M458.0 89.4h0M456.0 93.7h0M461.8 94.8h0M448.9 95.1h0M456.4 91.0h0M467.9 94.8h0M461.2 106.8h0M455.8 89.3h0M453.6 94.7h0M455.3 88.3h0M468.2 95.2h0M466.9 93.9h0M469.7 99.1h0M461.5 104.1h0M470.3 100.5h0M464.0 89.1h0M467.0 92.1h0M460.3 94.6h0M464.9 96.6h0M462.3 105.9h0M463.7 104.7h0M458.4 85.3h0M462.1 104.5h0M460.0 102.7h0M453.3 98.3h0M451.1 90.6h0M458.8 95.4h0M463.8 94.4h0M464.9 91.7h0M465.0 90.8h0M455.7 100.7h0M463.4 104.5h0M460.2 88.3h0M458.5 103.2h0M461.6 96.9h0M467.8 85.1h0M453.0 95.3h0M469.5 94.7h0M467.3 91.2h0M455.5 101.6h0M461.0 90.8h0M451.8 96.0h0M456.0 94.5h0M467.2 101.5h0M464.0 92.7h0M470.4 91.0h0M457.5 103.1h0M459.3 99.4h0M462.5 95.6h0M464.7 85.1h0M463.4 86.5h0M466.4 85.9h0M468.0 101.2h0M459.6 87.8h0M460.0 86.7h0M458.1 85.9h0M472.3 97.4h0M460.8 97.8h0M447.4 93.5h0M463.7 97.2h0M461.7 105.3h0M466.0 98.9h0M467.0 101.8h0M467.4 94.2h0M453.6 96.6h0M464.8 97.3h0M455.1 93.1h0M454.4 100.3h0M455.3 104.4h0M455.6 88.9h0M469.6 97.2h0M450.5 91.3h0M461.7 89.3h0M458.6 84.3h0M455.8 102.3h0M459.7 100.8h0M448.9 95.4h0M453.2 99.4h0M454.0 97.2h0M470.3 94.6h0M456.6 86.0h0M449.8 95.1h0M467.2 95.4h0M457.8 99.9h0M451.5 90.7h0M460.6 95.8h0M467.4 93.1h0M453.1 100.5h0M451.7 101.6h0M461.1 88.1h0M461.0 92.5h0M457.9 90.4h0M457.2 96.2h0M455.4 86.6h0M463.7 87.0h0M450.1 100.8h0M458.9 104.2h0M448.8 97.0h0M465.1 95.2h0M461.4 97.9h0M459.5 84.7h0M468.0 105.0h0M457.0 92.1h0M459.5 97.6h0M460.9 92.6h0M471.7 101.2h0M464.1 98.7h0M468.0 86.6h0M448.0 97.6h0M465.1 103.1h0M470.0 93.1h0M463.2 86.2h0M469.7 97.7h0M460.9 103.3h0M458.8 91.9h0M465.7 86.8h0M464.5 96.5h0M451.8 94.7h0M473.6 97.0h0M454.8 89.9h0M461.3 93.2h0M453.7 98.2h0M459.3 94.9h0M458.7 94.8h0M459.1 97.1h0M464.7 103.9h0M461.2 87.6h0M452.1 98.7h0M466.0 88.7h0M464.5 94.4h0M460.3 104.7h0M466.1 94.8h0M460.3 101.7h0M467.1 98.3h0M449.9 92.8h0M458.4 101.1h0M452.3 93.8h0M458.0 95.0h0M454.5 99.7h0M456.1 94.0h0M462.4 95.6h0M460.7 93.2h0M460.4 103.3h0M458.2 97.4h0M461.9 99.6h0M449.9 99.9h0M458.5 99.8h0M465.8 89.0h0M451.7 94.1h0M457.4 94.4h0M466.1 99.2h0M462.8 95.9h0M466.4 87.3h0M453.5 96.1h0M454.7 96.3h0M454.9 102.2h0M458.1 93.2h0M460.5 107.1h0M449.9 88.3h0M467.8 93.9h0M458.4 99.6h0M455.2 88.4h0M467.1 102.1h0M468.4 105.3h0M465.9 90.6h0M457.2 91.9h0M463.2 97.3h0M456.5 101.0h0M454.1 94.9h0M470.8 100.2h0M467.7 86.6h0M454.5 94.5h0M461.9 97.1h0M463.5 103.3h0M451.8 87.9h0M455.9 96.3h0M457.2 93.3h0M456.0 97.8h0M467.1 94.2h0M467.7 99.0h0M463.6 95.8h0M458.7 94.0h0M467.2 104.0h0M467.1 98.7h0M468.0 100.2h0M464.5 95.2h0M471.2 102.9h0M470.0 95.8h0M469.5 95.3h0M451.9 92.0h0M459.4 105.7h0M463.4 98.4h0M470.1 100.5h0M459.5 90.3h0M466.5 89.9h0M461.0 85.3h0M467.8 99.4h0M453.2 88.6h0M459.4 106.2h0M466.6 86.4h0M462.5 91.3h0M461.2 88.2h0M456.6 88.9h0M455.8 88.3h0M463.1 90.6h0M448.9 96.1h0M453.6 85.3h0M450.4 95.0h0M462.9 91.6h0M457.8 100.8h0M469.3 100.8h0M469.6 92.6h0M468.8 97.0h0M451.9 91.0h0M454.1 98.9h0M462.5 93.9h0M460.2 92.6h0M463.0 88.4h0M467.9 98.2h0M456.1 101.4h0M455.5 87.6h0M465.7 105.8h0M472.0 103.7h0M464.6 104.7h0M465.3 103.6h0M465.1 106.4h0M462.1 86.3h0M462.5 92.1h0M456.3 90.2h0M454.7 91.1h0M467.2 87.9h0M463.4 84.3h0M462.4 97.0h0M457.6 91.8h0M465.7 93.3h0M453.9 97.9h0M458.3 86.0h0M450.9 91.9h0M461.1 103.4h0M458.9 85.0h0M455.7 84.4h0M466.6 94.6h0M454.4 99.7h0M449.1 96.6h0M461.5 95.5h0M465.8 98.8h0M452.8 93.9h0M456.5 104.4h0M460.5 91.9h0M457.8 84.9h0M450.3 91.7h0M457.0 93.0h0M470.0 95.3h0M471.7 101.4h0M453.5 93.5h0M452.7 101.4h0M466.3 92.7h0M461.8 97.7h0M457.0 99.8h0M469.7 99.9h0M471.6 102.0h0M455.3 95.0h0M454.3 97.0h0M465.2 102.1h0M464.2 100.2h0M467.1 93.7h0M459.6 87.5h0M450.2 98.2h0M469.7 94.4h0M457.2 99.4h0M456.5 99.4h0M467.1 98.8h0M457.9 99.5h0M459.1 88.4h0M455.4 103.9h0M457.5 95.7h0M458.7 89.7h0M463.2 102.6h0M469.0 97.4h0M464.4 91.4h0M458.7 102.8h0M451.7 96.7h0M460.5 87.3h0M463.7 98.7h0M462.8 87.2h0M460.1 97.8h0M467.9 102.6h0M457.9 93.7h0M468.5 88.9h0M465.9 95.6h0M459.8 88.8h0M465.2 87.2h0M466.0 96.9h0M469.8 94.9h0M467.4 101.6h0M471.0 95.5h0M454.0 95.5h0M457.5 94.4h0M459.1 97.7h0M463.6 87.6h0M458.7 85.5h0M458.9 92.5h0M468.6 93.1h0M454.5 99.3h0M453.7 88.3h0M454.9 95.4h0M468.6 86.4h0M463.7 104.7h0M466.9 88.3h0M469.3 102.3h0M470.2 95.6h0M457.7 92.5h0M454.0 101.1h0M456.8 97.2h0M463.0 91.5h0M456.1 90.8h0M461.2 83.4h0M459.9 95.7h0M465.6 96.3h0M467.1 92.1h0M468.7 98.4h0M458.3 96.3h0M463.4 95.5h0M447.4 97.2h0M454.4 98.5h0M459.1 103.3h0M466.1 102.1h0M472.3 96.0h0M459.6 83.8h0M451.5 96.2h0M450.0 92.3h0M462.5 95.8h0M470.0 103.4h0M458.4 97.2h0M454.1 99.7h0M455.2 86.0h0M459.2 85.4h0M465.4 91.7h0M458.4 89.6h0M459.0 101.5h0M457.7 88.0h0M467.9 101.8h0M466.1 102.0h0M462.0 103.6h0M464.0 97.2h0M465.8 84.0h0M467.9 95.9h0M464.8 96.1h0M458.3 90.5h0M460.6 98.0h0M461.9 99.1h0M456.5 85.1h0M463.6 102.1h0M457.9 82.8h0M468.7 97.6h0M470.2 97.5h0M470.4 100.9h0M471.1 92.8h0M457.8 89.4h0M457.6 94.2h0M456.4 105.4h0M453.5 95.9h0M455.5 105.5h0M460.5 89.7h0M458.1 87.7h0M466.9 95.1h0M469.0 102.3h0M451.1 94.9h0M462.3 89.7h0M454.3 90.9h0M460.4 95.9h0M456.6 103.3h0M468.3 95.6h0M467.5 95.0h0M460.8 103.6h0M464.3 101.9h0M461.0 92.9h0M454.0 105.8h0M461.6 88.2h0M462.8 85.8h0M464.4 97.3h0M454.6 89.2h0M457.7 96.1h0M455.5 102.0h0M464.0 86.3h0M468.1 92.9h0M459.1 87.7h0M453.7 91.4h0M456.5 86.7h0M458.6 97.0h0M458.6 86.3h0M455.1 103.7h0M460.9 92.0h0M465.6 90.7h0M457.6 97.5h0M461.3 87.7h0M465.0 106.3h0M453.9 99.6h0M464.7 96.0h0M463.6 95.3h0M453.3 92.2h0M461.2 102.0h0M468.6 101.2h0M457.1 83.4h0M461.6 102.5h0M457.5 98.5h0M472.2 96.8h0M452.0 95.0h0M468.9 98.9h0M459.7 83.2h0M457.8 87.3h0M459.8 85.1h0M469.6 97.3h0M466.9 95.1h0M460.9 101.8h0M462.8 92.5h0M456.9 96.1h0M454.8 100.0h0M453.5 100.1h0M461.6 88.6h0M465.3 91.0h0M452.0 102.1h0M461.4 103.1h0M455.4 91.8h0M463.6 101.9h0M457.1 102.1h0M462.0 94.3h0M462.9 90.4h0M454.0 96.4h0M454.1 101.9h0M455.6 89.1h0M459.7 86.1h0M462.3 93.7h0M460.2 101.7h0M461.0 104.1h0M465.5 91.6h0M467.5 103.5h0M473.8 94.8h0M460.0 86.1h0M465.9 95.9h0M464.7 95.8h0M466.4 97.6h0M467.0 93.1h0M452.2 96.0h0M460.0 87.2h0M468.7 92.5h0M449.8 93.0h0M449.6 96.2h0M465.5 100.8h0M459.7 89.0h0M460.8 91.3h0M458.0 92.5h0M464.1 91.6h0M461.5 93.9h0M458.9 102.2h0M453.6 103.8h0M460.3 94.9h0M468.8 90.2h0M461.3 102.7h0M458.5 94.3h0M470.7 95.7h0M453.8 92.3h0M470.8 96.4h0M466.9 89.6h0M452.1 88.0h0M451.9 97.8h0M462.7 89.1h0M451.4 97.1h0M468.1 95.7h0M458.3 92.9h0M467.2 88.7h0M452.8 97.0h0M460.6 101.3h0M466.0 95.3h0M463.6 103.0h0M458.9 93.6h0M448.3 94.5h0M464.8 90.3h0M462.1 91.9h0M468.5 97.3h0M456.6 90.0h0M465.4 86.8h0M457.5 87.3h0M454.5 100.0h0M459.1 100.4h0M451.9 94.5h0M462.6 95.1h0M471.8 92.5h0M467.3 99.1h0M462.7 88.1h0M463.1 94.8h0M464.4 104.7h0M457.5 91.5h0M466.0 97.6h0M458.5 92.7h0M466.3 92.5h0M456.2 94.2h0M470.5 90.5h0M452.8 89.7h0M468.8 104.0h0M448.2 92.4h0M456.4 99.6h0M448.2 95.5h0M458.3 102.6h0M452.5 93.8h0M471.5 96.9h0M462.3 102.4h0M458.6 95.9h0M452.7 89.8h0M458.3 102.2h0M462.2 101.8h0M457.1 106.5h0M464.6 87.0h0M457.1 93.6h0M455.1 94.4h0M453.2 101.6h0M471.1 96.5h0M469.9 92.8h0M457.2 91.1h0M460.0 92.8h0M452.6 100.9h0M457.8 93.7h0M454.7 88.8h0M454.1 100.0h0M465.5 86.3h0M455.8 88.8h0M449.6 94.6h0M460.7 88.7h0M464.0 92.7h0M459.3 103.2h0M464.8 89.1h0M460.1 99.0h0M450.7 99.0h0M460.4 88.4h0M456.2 92.6h0M471.1 95.3h0M462.7 87.2h0M457.1 100.3h0M452.0 95.6h0M460.4 88.4h0M463.6 96.0h0M457.9 92.3h0M457.3 89.1h0M468.6 94.5h0M462.8 103.2h0M461.2 94.0h0M469.4 95.9h0M469.8 101.9h0M452.3 95.4h0M455.4 88.5h0M463.8 102.6h0M460.8 93.0h0M459.6 99.1h0M468.2 99.0h0M451.4 100.0h0M450.6 91.3h0M451.2 91.3h0M467.9 101.5h0M453.4 90.9h0M452.8 98.9h0M461.9 83.6h0M463.7 100.6h0M457.8 91.7h0M462.1 108.1h0M471.3 92.0h0M460.9 104.2h0M465.6 86.2h0M452.3 92.0h0M464.3 92.0h0M466.5 101.8h0M454.6 97.0h0M461.5 85.5h0M464.8 96.8h0M461.2 91.6h0M458.1 90.8h0M455.2 100.0h0M453.4 94.2h0M464.0 103.8h0M456.7 89.3h0M466.5 91.1h0M461.0 92.0h0M467.5 93.8h0M463.4 98.8h0M457.4 99.2h0M461.5 84.1h0M466.1 97.6h0M459.4 90.2h0M469.3 88.8h0M452.7 96.3h0M456.5 85.6h0M464.3 102.8h0M463.0 88.4h0M462.1 87.0h0M460.2 88.0h0M469.0 95.0h0M464.4 85.5h0M454.5 86.7h0M451.1 87.3h0M451.3 88.1h0M469.7 100.9h0M454.5 95.7h0M461.8 89.8h0M453.1 98.5h0M472.8 97.8h0M458.4 91.3h0M448.2 94.0h0M458.9 103.8h0M466.8 90.3h0M454.9 94.9h0M455.6 92.9h0M469.0 97.5h0M462.9 102.9h0M462.9 95.3h0M452.4 97.4h0M451.9 99.1h0M458.2 82.4h0M449.4 96.1h0M463.9 94.9h0M457.6 99.4h0M455.4 85.8h0M456.2 93.0h0M463.1 103.3h0M462.8 101.9h0M470.5 101.3h0M465.9 99.6h0M456.0 87.3h0M462.5 91.6h0M466.1 103.3h0M464.5 102.3h0M465.8 101.7h0M451.8 97.8h0M453.8 92.1h0M453.5 96.2h0M449.8 91.7h0M461.5 102.3h0M449.9 99.9h0M466.2 95.5h0M453.9 94.7h0M454.0 99.5h0M457.8 96.4h0M464.9 86.0h0M460.9 87.8h0M462.8 97.7h0M456.9 87.1h0M451.2 89.7h0M457.0 102.3h0M454.8 92.3h0M459.1 91.0h0M454.7 97.0h0M456.3 85.9h0M450.3 90.7h0M468.6 103.0h0M458.2 93.5h0M455.3 93.8h0M451.8 94.9h0M470.0 91.2h0M465.5 89.6h0M463.1 103.0h0M467.1 100.0h0M464.8 96.0h0M467.7 104.3h0M452.8 92.1h0M461.1 83.5h0M459.8 88.1h0M453.9 87.0h0M449.4 91.4h0M458.0 102.2h0M462.8 84.8h0M465.7 99.2h0M457.0 98.2h0M450.3 95.5h0M466.1 101.2h0M467.3 83.6h0M457.4 102.5h0M453.0 94.8h0M472.5 102.4h0M464.4 87.0h0M459.3 90.3h0M463.9 93.9h0M462.9 97.5h0M459.5 104.3h0M466.4 92.4h0M457.5 101.9h0M465.2 90.1h0M462.5 88.1h0M465.0 94.7h0M469.5 92.1h0M452.7 95.9h0M463.3 102.2h0M469.7 97.0h0M451.4 93.5h0M464.1 97.8h0M454.7 104.7h0" stroke="#6aa7d6" stroke-width="0.90" stroke-linecap="round" fill="none" stroke-opacity="0.5"/>
<path d="M470.8 85.0h0M457.9 81.9h0M475.1 83.6h0M463.9 83.5h0M459.2 87.9h0M476.1 71.9h0M462.1 81.2h0M475.2 73.4h0M461.4 90.6h0M474.4 81.7h0M467.1 76.5h0M459.9 77.1h0M483.6 82.5h0M470.3 84.1h0M470.5 89.7h0M464.2 87.0h0M469.3 85.9h0M459.9 77.4h0M473.3 96.1h0M468.2 71.0h0M458.4 75.0h0M464.9 84.3h0M470.9 73.1h0M481.5 87.3h0M471.1 88.9h0M482.2 77.0h0M463.3 92.4h0M477.5 76.3h0M479.4 89.1h0M465.7 77.6h0M477.3 83.0h0M476.4 78.2h0M479.2 85.2h0M481.1 83.8h0M486.1 87.0h0M472.4 89.4h0M470.1 76.5h0M474.6 86.3h0M477.7 81.1h0M467.5 87.0h0M466.9 84.4h0M486.0 79.1h0M469.7 73.0h0M464.9 77.8h0M468.6 78.3h0M473.0 88.3h0M475.0 92.0h0M482.2 91.9h0M478.2 77.4h0M484.6 81.9h0M477.0 77.7h0M466.9 75.2h0M465.5 69.9h0M481.7 86.5h0M484.7 79.3h0M481.9 83.0h0M474.0 77.2h0M469.1 78.7h0M465.7 75.8h0M480.8 91.7h0M468.6 71.0h0M465.3 91.3h0M462.3 88.2h0M464.6 75.8h0M459.2 86.0h0M473.4 83.8h0M474.7 80.0h0M469.3 81.1h0M485.4 79.9h0M467.9 78.1h0M482.2 73.4h0M460.1 77.6h0M477.8 92.5h0M471.4 73.3h0M473.2 78.3h0M477.7 92.6h0M483.1 82.2h0M476.0 86.1h0M472.7 85.2h0M470.6 75.5h0M470.2 73.3h0M466.5 77.0h0M464.1 82.2h0M467.2 81.6h0M473.6 73.5h0M473.6 80.5h0M472.8 82.5h0M462.7 78.8h0M483.1 79.2h0M468.7 81.9h0M476.8 75.3h0M462.2 83.5h0M463.1 73.0h0M476.2 81.0h0M482.8 79.7h0M478.2 90.0h0M477.2 80.2h0M477.9 78.9h0M479.7 91.6h0M484.1 72.2h0M466.4 76.5h0M468.8 75.9h0M465.6 79.6h0M464.3 72.8h0M483.4 83.4h0M480.8 87.5h0M465.9 82.4h0M476.9 71.8h0M477.9 80.7h0M471.2 81.3h0M474.5 80.6h0M474.3 81.8h0M476.8 79.3h0M465.0 77.3h0M471.3 85.8h0M476.1 79.4h0M476.8 72.8h0M465.8 86.4h0M463.6 78.6h0M474.0 83.8h0M479.1 75.1h0M477.0 79.6h0M467.8 77.0h0M484.3 76.2h0M465.6 90.2h0M464.3 72.8h0M463.9 78.2h0M470.0 92.3h0M476.8 82.6h0M473.2 90.7h0M477.3 78.8h0M477.9 85.7h0M471.0 75.3h0M460.7 89.2h0M475.7 83.0h0M483.1 84.9h0M472.2 75.9h0M462.5 73.8h0M486.1 75.8h0M474.2 86.3h0M486.1 81.4h0M465.8 86.3h0M466.0 73.0h0M479.7 81.0h0M458.6 76.1h0M478.2 74.4h0M471.4 90.4h0M459.7 76.9h0M467.7 93.6h0M465.2 93.9h0M462.4 87.7h0M474.5 92.9h0M474.3 89.8h0M459.9 73.4h0M465.0 88.5h0M478.4 89.9h0M477.2 85.0h0M480.6 74.6h0M478.3 91.1h0M479.3 70.1h0M468.8 76.5h0M461.8 84.9h0M470.4 79.9h0M461.0 80.7h0M480.9 88.5h0M478.8 71.5h0M462.6 74.6h0M478.2 78.6h0M462.1 82.4h0M462.6 81.1h0M471.0 68.5h0M478.6 94.3h0M469.9 71.4h0M478.7 82.4h0M480.3 83.4h0M478.2 83.1h0M467.4 89.1h0M473.5 87.8h0M464.1 86.7h0M483.0 82.4h0M470.6 82.7h0M476.0 84.3h0M479.6 74.1h0M468.4 85.7h0M477.2 85.4h0M474.3 76.7h0M461.2 78.9h0M469.8 89.8h0M460.1 85.1h0M473.9 87.6h0M482.1 75.1h0M480.0 88.3h0M471.6 71.4h0M480.3 80.1h0M481.0 81.4h0M463.4 76.5h0M485.7 78.0h0M472.3 84.2h0M472.1 86.4h0M481.5 79.6h0M477.3 71.4h0M475.8 83.1h0M461.5 91.0h0M459.7 83.8h0M469.6 90.2h0M480.4 87.2h0M460.7 90.8h0M462.3 89.4h0M478.2 88.0h0M478.3 70.7h0M464.5 79.5h0M469.1 78.4h0M464.2 84.6h0M482.3 79.5h0M467.2 75.7h0M481.0 73.7h0M471.9 87.9h0M461.6 79.5h0M479.8 81.9h0M467.2 88.1h0M476.9 79.3h0M472.7 76.0h0M474.2 82.8h0M475.0 82.3h0M462.0 84.1h0M477.1 78.8h0M463.9 90.3h0M469.7 74.1h0M483.9 80.0h0M466.5 77.5h0M462.2 71.2h0M474.8 72.5h0M474.4 92.6h0M470.0 86.5h0M463.2 86.9h0M479.9 89.1h0M474.9 88.6h0M478.1 92.5h0M459.1 79.2h0M479.5 71.1h0M481.8 89.5h0M468.5 83.6h0M472.0 77.2h0M467.3 85.7h0M468.3 91.9h0M470.6 87.4h0M472.4 92.0h0M481.6 81.6h0M480.9 84.1h0M472.5 71.2h0M473.7 76.2h0M474.6 73.2h0M467.5 86.0h0M470.8 75.0h0M473.9 89.2h0M474.9 73.2h0M474.7 85.4h0M475.3 83.9h0M471.9 88.4h0M478.1 93.5h0M473.5 78.8h0M480.7 77.6h0M474.0 81.4h0M467.8 89.5h0M482.0 79.3h0M467.2 91.0h0M479.9 74.3h0M476.4 73.3h0M458.7 76.5h0M479.1 77.5h0M482.7 71.9h0M477.8 80.2h0M463.0 74.0h0M464.2 68.5h0M460.0 81.8h0M467.3 80.6h0M468.7 71.0h0M465.0 81.7h0M458.4 84.6h0M469.8 77.1h0M472.3 88.5h0M467.5 86.0h0M479.2 85.5h0M464.8 89.8h0M479.2 76.7h0M477.4 89.6h0M464.3 72.7h0M459.8 85.2h0M464.0 82.0h0M469.5 80.1h0M468.3 84.9h0M470.0 75.1h0M468.2 76.1h0M480.2 85.9h0M473.1 69.8h0M467.9 77.1h0M473.1 80.8h0M467.7 89.2h0M473.9 77.1h0M477.9 86.1h0M466.2 87.1h0M468.9 87.8h0M480.9 76.2h0M471.9 83.2h0M473.3 76.9h0M467.9 73.7h0M474.5 76.2h0M474.4 79.0h0M459.0 83.7h0M472.3 94.6h0M480.5 88.7h0M469.6 72.4h0M472.1 78.2h0M475.1 84.4h0M463.1 89.5h0M473.9 80.7h0M483.8 89.4h0M474.6 79.1h0M465.7 84.8h0M461.1 76.4h0M470.8 73.2h0M459.7 80.8h0M473.5 86.9h0M463.6 76.8h0M469.9 83.6h0M473.3 73.9h0M480.2 86.3h0M462.3 83.9h0M470.6 77.4h0M466.3 90.0h0M476.1 76.8h0M470.8 88.9h0M482.4 76.1h0M476.7 71.6h0M464.6 80.0h0M485.1 75.3h0M476.5 88.6h0M469.8 75.0h0M477.3 68.6h0M483.1 79.1h0M463.9 79.6h0M473.9 82.5h0M467.0 72.5h0M475.8 71.2h0M466.3 77.4h0M464.3 89.5h0M459.2 80.0h0M483.8 86.2h0M481.4 91.6h0M479.4 77.4h0M459.2 80.1h0M477.2 92.2h0M476.4 94.0h0M465.8 83.2h0M477.8 75.8h0M478.0 75.1h0M478.5 77.0h0M462.9 83.4h0M463.8 76.4h0M462.8 78.3h0M471.6 86.9h0M475.0 87.2h0M477.6 90.7h0M469.4 74.4h0M478.1 84.7h0M483.3 79.9h0M466.8 86.2h0M482.2 73.7h0M462.1 85.1h0M468.9 85.0h0M465.5 74.8h0M461.4 84.4h0M469.4 70.5h0M461.3 75.1h0M485.9 80.9h0M461.5 74.0h0M470.9 82.7h0M467.9 89.4h0M481.8 76.6h0M467.3 91.2h0M457.1 89.2h0M468.5 75.9h0M473.9 89.7h0M480.0 83.2h0M483.0 84.0h0M483.1 74.4h0M473.3 81.9h0M476.4 77.4h0M479.3 90.5h0M471.6 70.9h0M468.3 76.6h0M462.0 72.7h0M463.6 84.9h0M463.2 89.2h0M473.7 88.7h0M485.7 84.1h0M481.0 75.2h0M475.1 79.7h0M459.9 76.8h0M467.8 72.6h0M479.5 73.5h0M471.9 80.4h0M479.5 90.3h0M465.9 71.8h0M467.0 85.6h0M481.2 71.7h0M481.0 84.3h0M463.6 87.4h0M465.6 80.0h0M475.8 87.2h0M464.0 80.7h0M481.5 72.2h0M464.8 85.4h0M463.3 83.6h0M486.3 79.9h0M464.3 83.5h0M468.6 73.8h0M467.2 76.7h0M470.6 90.8h0M474.1 72.5h0M464.7 79.5h0M461.3 77.0h0M480.6 85.0h0M474.5 85.9h0M460.7 79.8h0M473.1 83.3h0M482.5 88.3h0M481.3 86.3h0M469.9 89.2h0M468.9 73.4h0M476.9 79.1h0M470.1 89.7h0M459.7 75.8h0M471.8 91.5h0M480.8 79.3h0M473.8 76.2h0M464.8 83.9h0M479.6 76.1h0M478.9 84.6h0M469.1 73.5h0M472.7 87.6h0M464.8 75.3h0M465.0 87.3h0M477.0 86.3h0M464.2 73.0h0M482.6 93.3h0M470.1 77.7h0M473.2 93.3h0M461.0 76.4h0M471.5 73.7h0M477.2 80.5h0M460.6 87.5h0M474.1 89.1h0M465.6 84.7h0M468.4 90.6h0M478.6 73.8h0M468.3 77.4h0M468.6 79.7h0M465.0 80.4h0M461.2 73.0h0M474.8 82.1h0M459.2 83.8h0M482.0 83.4h0M463.9 89.7h0M485.2 83.0h0M465.7 91.4h0M469.9 71.8h0M471.6 78.9h0M472.6 71.3h0M469.9 74.0h0M461.4 88.8h0M471.5 89.0h0M468.4 86.7h0M476.4 91.7h0M462.4 75.6h0M465.7 84.7h0M461.7 87.0h0M459.8 82.3h0M463.7 75.3h0M475.0 73.9h0M484.3 86.8h0M477.5 83.1h0M465.0 88.6h0M467.3 85.0h0M472.2 76.6h0M478.5 72.0h0M483.3 77.9h0M477.4 77.9h0M479.2 86.8h0M471.3 78.8h0M476.1 82.1h0M470.8 86.2h0M478.7 75.7h0M468.0 76.3h0M483.8 89.2h0M483.0 76.6h0M464.7 93.6h0M465.8 94.5h0M466.5 87.1h0M477.5 92.1h0M468.2 72.6h0M460.2 79.0h0M479.6 72.5h0M466.1 80.9h0M458.0 85.5h0M479.8 77.3h0M485.7 87.6h0M471.3 73.7h0M475.7 82.7h0M470.9 77.2h0M462.2 78.7h0M466.1 87.3h0M480.3 83.3h0M484.3 81.7h0M468.5 72.5h0M471.2 93.1h0M476.7 92.1h0M473.1 88.0h0M486.1 79.2h0M480.5 74.2h0M464.1 73.2h0M476.9 89.0h0M470.4 69.9h0M480.7 76.7h0M473.5 80.4h0M462.4 84.6h0M459.9 84.1h0M473.7 70.6h0M481.0 88.4h0M482.2 85.9h0M485.8 75.7h0M483.5 72.2h0M475.7 85.7h0M480.1 85.4h0M481.1 78.2h0M484.7 79.7h0M474.7 81.4h0M465.5 74.1h0M465.6 77.5h0M479.0 80.0h0M479.7 84.8h0M463.6 84.0h0M464.9 90.4h0M475.2 74.8h0M473.1 71.4h0M470.5 78.6h0M484.8 75.3h0M475.2 80.5h0M476.1 77.8h0M473.7 77.6h0M475.5 87.4h0M486.8 83.3h0M477.9 80.8h0M480.2 88.9h0M459.5 88.4h0M472.0 79.6h0M482.9 85.1h0M470.5 75.1h0M481.6 80.6h0M470.9 80.4h0M486.6 78.3h0M478.7 86.0h0M464.1 81.9h0M464.4 91.1h0M476.3 78.3h0M476.3 85.1h0M464.1 89.6h0M461.8 85.4h0M464.4 74.7h0M466.0 87.7h0M485.3 80.4h0M466.0 70.2h0M466.1 74.9h0M479.7 71.1h0M472.9 71.1h0M477.3 85.8h0M480.0 81.9h0M482.2 71.9h0M475.3 81.3h0M478.2 88.2h0M484.5 77.5h0M466.9 84.4h0M466.4 85.4h0M475.6 91.6h0M479.6 72.2h0M467.7 81.4h0M481.1 83.4h0M465.6 89.5h0M479.0 72.7h0M484.9 83.9h0M481.2 84.7h0M477.1 72.9h0M479.9 76.8h0M474.0 80.5h0M467.0 92.0h0M461.6 89.6h0M476.2 91.0h0M482.0 91.3h0M481.1 80.3h0M473.9 72.0h0M476.5 73.1h0M465.8 77.4h0M474.6 71.0h0M470.9 76.5h0M475.9 84.4h0M474.4 75.8h0M482.7 87.8h0M470.5 85.6h0M464.0 88.6h0M482.5 86.9h0M472.5 84.4h0M468.7 77.4h0M469.1 92.2h0M467.7 70.3h0M462.2 77.0h0M471.3 77.6h0M482.4 77.1h0M477.3 89.0h0M466.7 77.7h0M470.5 92.1h0M476.3 73.7h0M478.3 87.7h0M479.1 73.3h0M478.2 86.5h0M455.5 90.1h0M472.8 75.0h0M482.2 76.2h0M482.4 77.6h0M469.5 74.5h0M460.1 85.0h0M483.5 85.9h0M482.0 88.4h0M475.3 79.0h0M463.8 81.2h0M472.3 71.9h0M484.0 89.8h0M462.9 79.0h0M462.3 78.4h0M468.6 94.6h0M473.5 88.4h0M477.5 89.3h0M466.6 80.5h0M475.1 87.3h0M466.7 72.6h0M476.9 82.5h0M475.0 87.6h0M461.2 84.4h0M484.7 83.5h0M469.6 78.1h0M478.0 89.1h0M480.1 92.5h0M477.7 78.5h0M474.0 85.5h0M468.3 74.4h0M477.9 73.6h0M476.3 91.1h0M467.3 86.0h0M475.9 74.8h0M470.2 88.1h0M462.7 75.3h0M483.1 80.4h0M460.2 81.4h0M473.9 87.6h0M463.4 83.9h0M480.2 73.1h0M472.5 71.5h0M484.9 88.8h0M487.9 82.4h0M464.8 71.9h0M464.4 78.2h0M480.4 84.1h0M471.2 73.6h0M477.5 82.2h0M468.2 74.3h0M464.0 79.8h0M470.8 73.6h0M457.4 77.1h0M474.0 91.0h0M466.8 76.9h0M471.1 88.0h0M461.6 75.2h0M463.9 73.4h0M472.7 73.1h0M464.5 87.7h0M464.1 82.3h0M464.2 89.6h0M467.3 82.2h0M472.0 75.7h0M465.2 93.2h0M476.8 88.0h0M467.4 70.5h0M472.2 84.2h0M472.2 91.3h0M474.6 70.9h0M464.3 91.6h0M487.6 84.5h0M461.8 90.6h0M461.3 75.8h0M479.7 86.7h0M465.8 73.0h0M471.8 93.0h0M481.2 77.0h0M474.4 78.2h0M469.8 70.2h0M476.3 84.6h0M474.2 75.5h0M465.8 87.2h0M476.0 86.6h0M462.4 81.4h0M466.8 85.1h0M473.5 85.9h0M477.0 83.5h0M486.0 79.9h0M458.5 80.9h0M477.3 78.7h0M470.4 88.8h0M471.7 75.9h0M460.1 76.1h0M475.6 74.7h0M484.7 81.1h0M468.4 77.2h0M478.1 82.0h0M467.9 91.3h0M458.9 85.2h0M482.7 76.2h0M463.6 78.4h0M461.5 86.8h0M479.8 71.4h0M479.4 83.0h0M481.5 88.7h0M480.6 82.9h0M469.5 86.5h0M472.1 74.9h0M483.4 90.5h0M470.1 88.0h0M480.0 72.7h0M465.6 90.7h0M468.8 80.9h0M486.3 84.7h0M481.0 71.7h0M477.1 70.7h0M487.5 80.9h0M475.0 90.2h0M471.5 71.0h0M472.0 95.2h0M471.0 88.2h0M478.8 91.1h0M473.6 82.4h0M467.3 81.6h0M459.1 78.8h0M482.7 88.8h0M468.7 77.5h0M472.9 84.6h0M470.8 77.8h0M458.4 76.3h0M469.0 82.9h0M462.4 82.4h0M464.2 81.4h0M480.6 84.1h0M485.2 82.0h0M464.9 79.7h0M461.1 75.0h0M467.8 84.1h0M477.0 93.6h0M459.5 85.6h0M461.6 90.0h0M480.8 78.5h0M462.4 85.1h0M463.3 74.9h0M475.9 71.4h0M473.1 81.4h0M460.6 85.5h0M486.0 74.8h0M475.6 89.3h0M471.3 77.5h0M457.5 76.4h0M472.0 77.9h0M475.0 88.5h0M480.2 73.0h0M475.6 92.7h0M480.4 81.9h0M460.4 80.4h0M479.2 85.5h0M469.0 70.6h0M474.2 86.8h0M469.8 76.1h0M486.7 72.6h0M464.7 88.6h0M478.5 83.1h0M468.9 79.0h0M460.6 87.8h0M471.9 73.7h0M466.4 86.5h0M458.8 80.3h0M476.1 80.8h0M467.9 92.1h0M464.0 79.2h0M473.2 90.5h0M462.2 93.9h0M471.4 76.2h0M458.6 76.7h0M472.1 81.4h0M480.0 88.8h0M469.3 81.1h0M469.6 89.4h0M476.7 74.9h0M481.2 83.9h0M475.5 71.7h0M479.5 81.0h0M463.1 68.1h0M462.7 86.6h0M471.6 79.6h0M460.0 82.9h0M470.7 73.7h0M470.7 80.0h0M483.9 88.2h0M482.5 73.7h0M482.7 86.7h0M484.1 92.0h0M479.2 91.4h0M477.0 89.7h0M464.3 79.7h0M486.5 76.8h0M482.4 88.0h0M477.7 90.3h0M465.9 74.4h0M479.5 86.4h0M479.7 79.8h0M469.2 92.2h0M481.4 85.1h0M476.6 85.9h0M463.2 75.9h0M478.7 73.7h0M469.0 73.4h0M469.4 79.5h0M465.0 80.8h0M470.0 77.7h0M469.6 86.2h0M472.3 85.2h0M469.6 74.9h0M475.7 87.7h0M471.0 89.1h0M464.4 79.6h0M475.3 89.5h0M475.7 72.8h0M478.2 86.6h0M472.3 73.0h0M462.4 87.4h0M464.9 73.4h0M477.6 72.5h0M485.0 83.7h0M477.5 79.8h0M467.0 76.0h0M478.8 82.7h0M475.1 82.5h0M461.6 83.4h0M473.9 87.8h0M469.2 91.1h0M459.5 76.7h0M469.2 71.5h0M470.3 92.6h0M482.3 73.7h0M472.3 89.4h0M467.0 76.8h0M482.4 84.1h0M462.6 86.4h0M470.4 82.1h0M484.0 79.3h0M483.6 80.6h0M474.1 89.5h0M475.6 72.7h0M470.0 84.7h0M460.3 83.2h0M477.2 80.5h0M483.4 84.2h0M471.6 87.0h0M460.6 78.9h0M470.4 72.7h0M473.8 81.9h0M475.9 71.4h0M480.3 72.8h0M467.1 81.4h0M473.1 70.9h0M474.2 74.6h0M463.9 78.3h0M479.6 78.1h0M469.3 80.1h0M480.3 76.9h0M478.9 75.9h0M481.8 91.9h0M469.1 94.6h0M481.9 84.7h0M462.4 74.6h0M472.6 88.4h0M475.9 80.4h0M465.7 77.4h0M466.4 84.4h0M482.2 85.8h0M466.6 89.9h0M470.5 77.5h0M461.0 72.5h0M470.3 79.9h0M481.0 84.3h0M471.0 73.1h0M471.9 90.2h0M473.1 89.2h0M476.5 83.7h0M477.1 70.0h0M461.5 86.5h0M463.3 75.1h0M468.8 73.6h0M479.5 91.2h0M472.5 92.6h0M466.9 90.7h0M478.7 76.7h0M472.1 76.9h0M483.4 82.8h0M472.0 70.4h0M472.6 90.8h0M462.3 74.6h0M475.7 74.7h0M468.9 85.9h0M464.7 86.7h0M469.9 75.5h0M468.8 81.6h0M460.5 84.1h0M469.3 78.9h0M478.8 87.3h0M474.2 78.1h0M470.8 94.2h0M478.0 85.2h0M482.2 87.3h0M462.1 74.9h0M477.0 90.7h0M463.3 87.5h0M475.6 71.9h0M485.4 88.3h0M457.1 85.8h0M470.4 87.3h0M462.8 90.4h0M473.5 72.5h0M466.4 87.9h0M463.7 88.9h0M476.6 86.4h0M474.0 72.4h0M478.5 76.9h0M475.8 83.2h0M484.1 90.1h0M481.0 74.5h0M477.0 72.5h0M458.4 82.9h0M479.5 79.2h0M466.0 77.7h0M464.8 76.9h0M479.3 79.8h0M463.4 78.8h0M471.0 73.4h0M460.5 76.9h0M477.7 81.6h0M455.8 87.6h0M465.8 92.8h0M480.0 76.6h0M472.2 72.4h0M468.3 88.0h0M465.9 85.2h0M482.7 76.4h0M464.2 87.1h0M470.0 90.3h0M463.2 80.2h0M472.4 73.1h0M484.8 77.0h0M468.1 88.5h0M462.3 86.9h0M484.5 77.9h0M466.2 77.5h0M467.0 78.4h0M464.6 81.8h0M486.0 88.9h0M477.0 87.3h0M472.8 83.1h0M460.0 85.9h0M479.4 89.7h0M470.3 73.1h0M478.9 74.2h0M480.1 73.1h0M482.5 80.1h0M480.9 90.8h0M472.5 87.5h0M471.8 73.7h0M461.8 87.0h0M472.3 90.6h0M473.9 88.2h0M467.7 86.6h0M471.8 77.0h0M470.8 84.5h0M463.8 80.9h0M462.6 83.0h0M476.6 79.9h0M473.4 75.9h0M477.1 74.6h0M465.0 72.6h0M470.6 76.2h0M466.0 81.1h0M473.9 77.1h0M473.4 85.1h0M468.5 72.4h0M459.9 82.2h0M473.3 88.1h0M472.6 88.4h0M485.3 75.5h0M476.5 70.4h0M472.7 81.4h0M476.3 87.4h0M469.9 82.1h0M464.9 84.6h0M476.6 78.3h0M465.6 70.5h0M479.7 74.8h0M474.3 81.8h0M483.6 76.3h0M481.3 73.8h0M483.5 86.9h0M465.4 90.7h0M470.6 77.1h0M472.1 79.7h0M467.2 79.8h0M481.0 79.1h0M474.3 73.2h0M469.1 85.6h0M474.9 86.2h0M482.1 78.5h0M463.1 86.5h0M467.1 71.4h0M460.1 89.4h0M473.8 77.4h0M474.7 73.4h0M471.1 89.8h0M480.0 75.6h0M468.5 81.2h0M482.3 88.0h0M470.0 75.4h0M476.9 88.1h0M461.0 77.9h0M475.3 88.9h0M480.4 87.5h0M481.4 78.3h0M466.1 69.1h0M460.1 86.0h0M467.6 93.0h0M469.7 78.5h0M483.7 86.9h0M472.2 89.7h0M477.1 76.3h0M469.3 74.3h0M483.7 87.5h0M467.8 78.4h0M463.2 92.3h0M474.8 71.5h0M472.4 77.7h0M466.9 84.4h0M472.1 85.1h0M460.6 83.6h0M474.8 79.6h0M470.9 88.7h0M481.4 87.4h0M462.2 77.1h0M464.0 78.1h0M481.8 88.2h0M469.3 85.3h0M465.8 90.3h0M470.9 80.7h0M470.4 76.5h0M465.2 81.6h0M472.0 75.4h0M477.3 72.4h0M471.0 71.2h0M483.7 75.8h0M471.6 79.4h0M466.1 90.7h0M471.9 84.5h0M479.8 78.4h0M469.2 74.7h0M464.7 85.4h0M462.1 89.6h0M469.8 87.4h0M483.9 81.0h0M469.3 81.9h0M458.0 77.8h0M477.6 72.9h0M477.5 75.6h0M476.3 74.9h0M473.1 84.4h0M467.6 88.2h0M477.2 85.4h0M473.7 84.4h0M459.5 79.2h0M472.0 73.3h0M462.8 72.9h0M471.9 80.5h0M467.1 80.9h0M480.4 81.7h0M466.8 89.0h0M461.8 85.6h0M476.1 86.9h0M466.5 89.9h0M474.1 78.6h0M482.1 77.6h0M465.6 87.4h0M465.0 94.4h0M483.1 86.5h0M467.6 89.9h0M465.7 85.5h0M461.1 82.9h0M478.2 85.9h0M460.6 80.0h0M472.1 77.2h0M464.4 87.2h0M464.2 89.2h0M459.0 74.4h0M461.7 83.4h0M485.1 87.0h0M470.3 97.4h0M477.8 86.1h0M464.7 84.1h0M466.2 84.4h0M475.6 75.2h0M467.6 87.7h0M475.0 91.2h0M482.4 84.2h0M473.5 87.7h0M480.5 72.0h0M458.3 77.7h0M482.3 93.3h0M465.6 80.4h0M464.5 71.1h0M481.3 89.1h0M463.2 76.7h0M465.7 91.8h0M467.0 82.0h0M470.5 83.6h0M468.7 93.2h0M478.6 85.8h0M473.0 86.6h0M470.3 88.4h0M477.1 73.5h0M475.5 74.7h0M471.4 75.8h0M469.2 83.1h0M472.2 89.0h0M468.2 73.8h0M476.2 79.3h0M475.2 87.4h0M466.6 82.2h0M471.2 81.2h0M479.9 82.3h0M467.7 92.4h0M483.6 84.1h0M475.2 78.2h0M471.6 71.4h0M468.3 88.9h0M464.0 75.8h0M482.4 79.1h0M478.3 87.7h0M474.5 82.3h0M471.4 89.9h0M481.4 77.2h0M476.7 84.7h0M466.0 81.9h0M478.2 83.4h0M459.9 83.5h0M462.4 78.4h0M486.8 83.6h0M475.2 71.5h0M471.8 75.9h0M481.5 81.4h0M472.5 77.3h0M485.1 85.1h0M465.8 86.0h0M481.6 84.4h0M467.3 73.8h0M467.5 77.0h0M469.6 87.5h0M468.1 87.3h0M469.1 78.6h0M463.9 84.7h0M469.9 93.7h0M462.4 87.8h0M472.5 87.5h0M484.8 90.9h0M479.3 88.9h0M483.0 86.8h0M482.1 77.4h0M459.7 80.3h0M460.8 88.5h0M461.4 74.5h0M472.1 86.9h0M465.1 84.9h0M462.4 76.0h0M482.0 75.1h0M475.8 84.3h0M483.6 80.5h0M473.0 76.0h0M458.3 73.0h0M461.4 76.3h0M481.3 90.3h0M475.1 91.8h0M473.5 76.4h0M463.0 88.8h0M476.2 84.4h0M462.7 72.9h0M464.4 83.5h0M472.3 93.3h0M474.8 87.4h0M467.5 80.2h0M476.9 82.2h0M481.7 78.6h0M483.5 90.6h0M480.7 87.9h0M470.4 87.9h0M482.2 87.5h0M474.9 86.3h0M462.6 78.1h0M473.0 80.3h0M467.5 74.1h0M473.0 84.9h0M477.5 88.4h0M468.5 79.0h0M482.6 75.9h0M477.7 88.5h0M461.4 86.9h0M471.8 77.1h0M468.5 82.4h0M461.9 79.6h0M476.3 90.8h0M481.8 67.3h0M470.8 74.9h0M481.6 73.6h0M468.4 76.2h0M472.4 85.1h0M483.3 84.1h0M480.1 86.5h0M463.2 87.4h0M471.8 74.3h0M481.1 76.9h0M483.5 80.3h0M463.2 79.4h0M476.0 91.5h0M472.3 86.1h0M466.2 88.9h0M473.0 76.0h0M475.7 90.3h0M485.2 86.1h0M477.5 93.6h0M478.2 74.8h0M468.4 82.0h0M469.0 90.4h0M479.7 79.8h0M469.2 85.1h0M461.1 83.7h0M472.5 75.7h0M466.2 70.2h0M476.6 73.0h0M466.7 79.9h0M474.7 74.5h0M481.8 80.9h0M462.6 70.2h0M468.3 72.9h0M476.5 87.5h0M463.5 76.6h0M472.6 70.0h0M471.1 71.4h0M463.4 81.0h0M468.2 74.6h0M467.4 93.4h0M480.0 71.8h0M471.7 79.1h0M478.3 84.2h0M462.2 78.2h0M469.6 77.4h0M477.9 91.7h0M462.8 78.3h0M468.4 77.1h0M460.3 86.5h0M476.4 85.3h0M466.2 80.6h0M461.4 78.6h0M479.4 95.1h0M469.1 92.2h0M468.3 88.6h0M476.4 91.2h0M468.9 90.5h0M471.9 73.4h0M465.2 87.8h0M461.3 86.3h0M476.7 90.4h0M483.0 84.7h0M481.4 79.6h0M474.1 75.9h0M481.8 85.4h0M465.6 91.5h0M470.2 81.7h0M467.5 85.8h0M481.3 88.3h0M485.7 79.0h0M476.2 84.3h0M474.2 71.4h0M482.9 85.3h0M469.6 80.8h0M464.5 90.5h0M479.4 72.8h0M476.6 90.2h0M472.1 71.1h0M476.6 76.4h0M480.1 83.4h0M464.3 92.6h0M481.5 83.2h0M464.0 79.9h0M479.4 76.8h0M481.8 93.9h0M473.9 82.6h0M469.0 73.1h0M479.7 75.2h0M472.6 84.8h0M468.3 77.1h0M461.9 77.9h0M475.8 72.1h0M474.8 79.8h0M482.9 78.8h0M479.3 76.1h0M476.6 73.8h0M462.6 79.8h0M465.8 80.0h0M474.8 73.8h0M466.7 92.3h0M475.3 89.6h0M482.4 85.1h0M473.8 71.8h0M461.8 85.7h0M475.9 72.3h0M467.0 81.3h0M476.5 92.4h0M477.4 76.4h0M473.6 82.3h0M476.7 90.8h0M474.7 82.0h0M479.2 76.6h0M462.9 86.8h0M476.0 92.6h0M463.8 72.0h0M465.3 86.5h0M477.8 89.3h0M483.7 74.8h0M468.5 81.4h0M467.4 75.5h0M476.9 86.3h0M480.1 88.7h0M471.4 87.0h0M463.5 73.1h0M474.9 81.7h0M472.7 89.8h0M478.0 83.8h0M464.9 85.5h0M461.1 80.6h0M456.1 77.0h0M461.3 82.6h0M472.5 83.2h0M459.0 88.3h0M471.0 94.8h0M466.2 72.7h0M469.7 86.3h0M462.5 77.5h0M462.8 89.4h0M468.3 91.0h0M469.1 84.7h0M466.7 82.5h0M485.3 74.9h0M461.9 84.0h0M476.8 68.8h0M460.6 82.9h0M482.2 71.7h0M462.8 79.2h0M471.3 85.2h0M468.7 71.3h0M472.6 90.9h0M481.9 74.6h0M461.7 72.3h0M465.1 74.8h0M479.0 75.9h0M463.7 86.6h0M478.0 74.8h0M464.0 80.8h0M465.6 72.9h0M468.1 70.3h0M465.0 71.5h0M461.3 83.4h0M460.4 79.2h0M478.9 86.3h0M469.4 81.8h0M469.4 82.6h0M466.5 90.2h0M456.7 90.0h0M478.8 77.5h0M473.0 87.5h0M461.7 86.9h0M470.1 74.6h0M466.0 85.1h0M465.4 90.3h0M481.4 69.8h0M481.0 79.6h0M471.8 79.9h0M460.5 86.8h0M459.3 80.3h0M477.4 93.2h0M476.2 82.2h0M466.3 90.2h0M465.2 70.9h0M469.9 80.3h0M478.8 80.7h0M474.1 73.4h0M482.7 91.8h0M469.8 74.7h0M471.3 81.7h0M477.8 82.1h0M469.6 72.0h0M478.6 83.7h0M469.4 92.4h0M471.8 89.9h0M468.5 72.8h0M476.2 85.4h0M464.6 72.3h0M465.7 73.5h0M469.2 86.5h0M460.8 75.5h0M472.1 78.3h0M481.4 89.6h0M476.6 72.8h0M465.3 75.7h0M481.6 86.9h0M470.5 89.0h0M461.9 86.6h0M464.1 87.2h0M481.9 73.5h0M482.1 83.0h0M465.2 76.0h0M466.9 71.9h0M488.1 77.8h0M463.3 73.0h0M461.9 84.5h0M482.8 80.1h0M462.1 86.4h0M462.9 89.0h0M462.7 79.3h0M481.5 77.2h0M469.5 89.4h0M467.1 90.3h0M479.3 84.8h0M462.7 74.2h0M482.3 69.9h0M470.8 75.7h0M477.9 92.8h0M464.2 77.0h0M471.0 80.0h0M468.2 76.4h0M483.1 88.9h0M481.1 83.5h0M473.3 74.0h0M462.4 79.7h0M484.3 80.6h0M461.9 84.8h0M462.1 87.4h0M459.1 83.8h0M475.7 83.2h0M463.9 85.8h0M475.7 86.4h0M467.5 74.9h0M475.9 81.0h0M480.4 88.3h0M475.8 89.8h0M475.9 89.4h0M470.6 90.0h0M476.6 90.8h0M468.9 69.1h0M469.8 77.5h0M475.1 86.6h0M463.4 84.7h0M472.9 80.8h0M479.4 77.4h0M479.8 85.6h0M485.3 76.2h0M469.1 89.2h0M476.8 79.0h0M467.5 84.9h0M469.6 72.2h0M477.5 92.0h0M475.1 74.7h0M479.6 84.3h0M474.6 86.3h0M464.0 82.2h0M463.8 89.4h0M470.8 75.7h0" stroke="#3677b8" stroke-width="0.90" stroke-linecap="round" fill="none" stroke-opacity="0.5"/>
<path d="M483.2 82.5h0M483.8 76.8h0M491.4 73.5h0M486.2 78.2h0M482.2 79.4h0M495.0 85.6h0M481.7 89.1h0M488.5 81.3h0M486.5 70.9h0M491.0 88.5h0M488.1 76.6h0M483.0 79.7h0M482.3 82.5h0M485.4 79.7h0M495.5 75.5h0M493.1 87.9h0M489.2 87.3h0M481.7 90.7h0M490.8 88.3h0M488.2 85.4h0M487.0 79.3h0M484.0 76.7h0M491.1 82.8h0M491.5 73.1h0M481.8 79.5h0M479.3 83.1h0M486.6 91.2h0M493.2 77.6h0M495.3 88.9h0M493.2 75.6h0M484.6 78.5h0M483.0 80.7h0M491.1 75.2h0M484.9 77.4h0M493.5 77.1h0M489.6 76.9h0M482.7 84.3h0M484.7 89.5h0M486.5 81.2h0M481.8 82.8h0M486.9 91.1h0M491.2 88.2h0M483.1 80.4h0M485.4 73.0h0M491.7 70.1h0M488.5 81.9h0M486.0 87.9h0M484.4 87.5h0M478.6 79.7h0M485.2 87.5h0M484.9 77.3h0M487.8 76.4h0M486.1 83.7h0M481.9 72.4h0M492.0 81.0h0M482.6 85.3h0M496.1 74.9h0M493.6 76.6h0M485.9 82.2h0M493.0 78.6h0M494.2 78.6h0M493.7 83.0h0M491.8 78.3h0M488.8 70.5h0M489.8 86.2h0M492.4 80.8h0M497.3 79.9h0M490.8 88.7h0M478.8 82.6h0M485.2 78.6h0M482.2 76.6h0M485.7 75.2h0M483.4 74.3h0M486.1 74.6h0M477.8 74.5h0M490.3 83.2h0M496.6 75.0h0M489.0 81.0h0M490.9 80.5h0M481.5 82.0h0M486.7 87.4h0M483.9 88.7h0M493.5 76.3h0M486.9 71.2h0M487.3 87.3h0M486.7 70.6h0M482.4 86.2h0M489.1 73.9h0M484.4 74.0h0M486.1 86.0h0M490.0 80.0h0M493.8 81.7h0M488.2 87.1h0M485.3 82.0h0M485.1 87.4h0M490.7 79.6h0M493.9 85.3h0M489.5 76.7h0M489.9 90.3h0M493.1 79.9h0M492.6 79.8h0M486.7 85.8h0M486.6 70.2h0M489.6 85.7h0M491.7 79.6h0M489.3 70.1h0M480.8 75.2h0M497.7 81.4h0M479.3 86.4h0M482.5 87.4h0M488.2 73.3h0M490.4 80.6h0M487.8 72.9h0M488.5 74.6h0M489.9 84.9h0M481.8 83.5h0M479.6 75.6h0M494.3 84.2h0M487.8 73.7h0M485.3 79.7h0M486.1 73.3h0M483.4 86.4h0M485.4 80.3h0M490.0 81.6h0M493.9 79.2h0M488.1 72.0h0M484.4 81.1h0M484.3 81.7h0M491.3 76.9h0M483.9 89.2h0M494.5 87.5h0M487.6 71.3h0M483.9 88.6h0M482.9 83.5h0M487.5 85.6h0M492.0 77.0h0M483.6 75.4h0M493.4 79.6h0M482.9 84.4h0M483.1 89.1h0M478.9 78.3h0M494.0 88.5h0M496.6 73.6h0M481.2 87.1h0M494.3 82.3h0M479.2 77.3h0M481.3 76.2h0M480.7 85.4h0M487.0 69.9h0M486.7 80.8h0M486.3 77.1h0M490.0 74.9h0M484.3 86.9h0M484.4 84.2h0M493.1 72.3h0M488.9 83.9h0M493.2 81.0h0M485.4 73.4h0M484.7 79.8h0M484.2 75.5h0M480.4 72.9h0M484.1 77.0h0M480.1 83.4h0M487.0 72.4h0M484.2 72.2h0M487.8 77.2h0M485.0 82.6h0M484.9 85.5h0M489.2 75.9h0M482.2 90.3h0M487.8 87.3h0M487.3 85.4h0M493.6 82.8h0M486.4 73.3h0M478.8 76.7h0M494.1 88.6h0M495.8 78.7h0M491.6 79.4h0M495.3 75.4h0M480.0 79.5h0M484.6 89.4h0M495.2 82.9h0M490.2 84.0h0M484.2 76.7h0M489.7 86.1h0M481.7 71.9h0M490.2 71.5h0M490.1 84.9h0M490.4 78.3h0M489.9 77.5h0M492.4 84.9h0M492.1 85.3h0M489.0 77.8h0M485.0 78.7h0M478.9 75.5h0M493.8 73.5h0M483.8 72.3h0M487.2 90.8h0M483.5 81.3h0M489.4 72.2h0M489.5 86.8h0M483.1 82.7h0M490.0 89.9h0M483.7 86.6h0M494.3 90.5h0M488.0 87.7h0M491.0 76.7h0M488.3 83.0h0M490.3 83.5h0M487.5 71.9h0M490.7 87.7h0M487.1 78.2h0M485.7 75.7h0M492.4 81.2h0M477.2 82.6h0M485.7 71.5h0M487.7 80.3h0M484.2 75.6h0M484.9 72.9h0M489.7 90.7h0M490.6 87.2h0M488.9 83.1h0M486.7 87.4h0M489.2 89.9h0M483.9 77.1h0M484.8 84.4h0M487.0 93.4h0M485.8 86.3h0M488.9 90.8h0M480.3 77.6h0M494.7 85.4h0M496.8 77.0h0M490.5 89.3h0M479.8 80.2h0M489.8 73.2h0M488.3 87.1h0M493.8 78.8h0M490.1 82.6h0M494.2 78.2h0M485.1 83.1h0M489.2 74.7h0M489.1 76.4h0M485.5 88.8h0M484.9 82.8h0M483.7 77.1h0M488.1 71.9h0M490.3 73.7h0M483.9 90.3h0M492.2 78.7h0M493.7 72.8h0M490.5 89.2h0M479.2 74.0h0M491.9 85.4h0M484.0 85.5h0M484.7 73.0h0M485.0 79.2h0M485.4 82.1h0M491.8 91.9h0M484.6 73.5h0M492.0 74.3h0M487.7 87.3h0M478.8 76.4h0M489.8 91.5h0M490.6 75.6h0M490.9 82.9h0M486.0 69.5h0M492.1 75.4h0M481.9 75.1h0M486.6 74.3h0M491.8 79.8h0M483.1 85.4h0M495.1 73.5h0M483.8 82.4h0M480.8 87.7h0M485.1 76.3h0M496.4 79.3h0M498.2 82.7h0M491.3 74.9h0M486.5 75.2h0M487.3 73.5h0M487.9 79.4h0M482.7 84.7h0M488.1 89.9h0M494.0 87.6h0M488.6 88.6h0M485.4 80.1h0M488.6 76.8h0M480.8 83.9h0M492.4 80.6h0M479.8 81.0h0M486.4 88.0h0M481.4 82.5h0M486.0 77.5h0M486.6 91.3h0M489.6 87.8h0M484.2 78.9h0M491.8 79.3h0M487.9 74.8h0M493.1 80.4h0M483.7 80.1h0M485.3 70.5h0M492.2 80.7h0M485.1 87.0h0M493.3 79.0h0M487.5 77.4h0M493.9 88.7h0M487.8 70.0h0M485.0 91.4h0M482.1 88.0h0M486.6 81.8h0M484.9 89.5h0M489.1 79.8h0M493.6 86.8h0M485.8 84.9h0M488.4 80.8h0M485.8 80.4h0M488.5 84.2h0M491.7 77.1h0M491.2 75.7h0M488.0 86.9h0M490.5 79.5h0M490.5 78.5h0M481.0 83.4h0M497.9 83.1h0M494.4 74.9h0M485.2 87.6h0M493.8 91.0h0M481.1 85.6h0M494.3 76.6h0M484.2 81.2h0M495.5 78.5h0M486.2 76.4h0M482.6 87.1h0M489.0 69.5h0M482.3 81.8h0M486.7 85.2h0M481.9 85.6h0M486.1 90.1h0M484.7 87.1h0M489.3 90.5h0M486.2 79.3h0M490.6 76.2h0M483.7 87.6h0M485.3 76.8h0M487.5 77.3h0M488.4 78.3h0M483.4 73.6h0M481.2 72.4h0M493.3 77.6h0M488.4 85.1h0M488.3 82.9h0M484.9 77.8h0M496.6 75.6h0M488.6 90.0h0M489.4 88.9h0M493.6 74.3h0M486.6 79.4h0M487.3 82.6h0M488.5 78.1h0M482.9 74.4h0M490.8 75.5h0M492.5 92.5h0M486.6 80.8h0M481.0 81.1h0M491.6 77.5h0M493.0 75.5h0M489.7 80.4h0M489.8 72.2h0M487.3 86.8h0M491.3 78.3h0M494.3 84.9h0M484.7 74.3h0M486.9 92.2h0M490.5 78.7h0M495.8 86.2h0M483.8 82.4h0M490.8 81.4h0M490.4 84.8h0M491.5 84.8h0M496.0 83.4h0M490.7 87.6h0M483.6 72.2h0M487.7 92.3h0M496.2 89.8h0M489.6 78.0h0M481.1 84.6h0M492.1 71.7h0M485.8 74.3h0M496.4 75.2h0M486.3 87.1h0M492.1 76.7h0M481.7 89.3h0M488.7 88.9h0M489.8 85.8h0M493.7 85.0h0M494.6 87.8h0M488.4 78.2h0M488.8 87.6h0M494.0 88.8h0M485.0 82.1h0M488.3 93.1h0M489.3 87.7h0M485.6 76.7h0M491.4 79.8h0M486.0 88.7h0M492.4 80.2h0M491.6 84.7h0M482.8 83.3h0M497.2 80.9h0M487.4 92.0h0M493.8 78.9h0M495.8 81.6h0M491.8 76.7h0M482.2 74.1h0M485.7 75.4h0M485.6 73.0h0M484.6 82.6h0M486.3 81.2h0M496.1 82.1h0M481.9 75.6h0M481.6 78.9h0M485.7 88.3h0M488.8 80.1h0M493.8 83.4h0M493.3 87.7h0M489.0 86.8h0M492.0 89.6h0M488.6 72.1h0M495.8 79.4h0M481.9 80.3h0M489.4 82.4h0M488.3 81.1h0M491.7 76.2h0M482.8 81.6h0M487.8 74.2h0M484.1 88.7h0M493.4 85.5h0M497.6 82.1h0M483.8 86.1h0M482.2 74.2h0M481.8 83.5h0M481.6 86.5h0M485.2 76.4h0M494.9 71.7h0M495.6 84.7h0M484.1 86.0h0M493.4 81.8h0M492.1 83.8h0M483.7 90.8h0M483.0 88.0h0M491.4 88.6h0M493.4 79.5h0M494.6 85.8h0M481.6 76.3h0M491.7 91.0h0M484.1 73.3h0M487.7 81.2h0M486.8 78.9h0M484.3 75.8h0M489.4 79.3h0M488.8 91.7h0M495.7 84.1h0M490.6 79.2h0M487.4 79.0h0M492.1 82.7h0M490.7 81.5h0M491.9 90.0h0M485.7 85.2h0M485.7 77.5h0M489.4 85.4h0M487.7 89.4h0M487.6 79.0h0M487.6 80.1h0M486.0 81.0h0M487.7 73.5h0M486.2 85.2h0M486.5 80.1h0M491.0 84.7h0M486.1 88.0h0M491.3 89.7h0M485.7 84.6h0M495.5 76.5h0M483.6 89.8h0M490.0 73.9h0M492.8 79.3h0M481.9 87.7h0M493.9 89.1h0M491.8 76.3h0M487.9 76.5h0M491.0 83.7h0M489.4 85.8h0M495.6 83.4h0M494.7 84.8h0M487.2 80.1h0M488.2 80.8h0M493.2 90.6h0M481.6 88.0h0M487.6 75.9h0M491.7 82.4h0M494.1 71.5h0M489.3 74.8h0M495.4 79.1h0M492.7 80.8h0M491.0 92.4h0M492.0 80.1h0M486.1 71.6h0M496.6 79.3h0M487.3 86.7h0M485.2 75.2h0M487.0 71.2h0M488.2 89.9h0M484.6 81.7h0M495.6 84.8h0M484.9 82.1h0M492.3 78.2h0M484.6 78.8h0M491.4 81.8h0M486.2 85.9h0M486.4 81.4h0M488.7 85.0h0" stroke="#58bd42" stroke-width="0.90" stroke-linecap="round" fill="none" stroke-opacity="0.5"/>
<path d="M478.6 91.6h0M471.5 91.1h0M471.2 85.1h0M469.3 92.9h0M464.5 91.8h0M474.8 90.3h0M476.1 87.5h0M471.4 93.9h0M469.9 87.9h0M464.4 87.7h0M476.0 92.4h0M475.5 90.7h0M475.2 89.9h0M477.4 88.6h0M477.8 88.8h0M463.4 85.6h0M471.0 87.8h0M465.5 87.0h0M473.0 90.1h0M476.6 86.7h0M474.0 91.8h0M473.9 93.7h0M469.5 89.0h0M473.0 87.9h0M471.8 89.6h0M471.8 87.7h0M469.6 88.8h0M463.8 89.5h0M466.2 88.4h0M466.2 89.3h0M470.0 88.3h0M468.1 89.3h0M474.7 89.6h0M470.0 85.6h0M480.4 89.5h0M477.3 88.0h0M468.0 91.9h0M475.9 88.2h0M470.9 90.7h0M467.8 86.8h0M471.8 91.7h0M476.6 89.5h0M479.1 88.6h0M469.4 90.6h0M475.0 89.3h0M473.2 90.9h0M475.0 87.5h0M472.1 92.7h0M475.9 87.9h0M472.4 86.4h0M465.3 87.6h0M480.5 87.4h0M461.7 88.7h0M468.4 91.0h0M478.6 88.2h0M472.7 86.7h0M478.4 87.1h0M467.2 89.5h0M471.8 90.3h0M474.5 92.9h0M474.7 90.6h0M465.6 90.1h0M465.1 92.2h0M471.8 91.6h0M469.5 89.6h0M472.5 90.5h0M471.5 87.5h0M470.1 87.3h0M467.2 85.9h0M468.2 86.1h0M477.3 89.8h0M471.4 92.0h0M481.9 86.8h0M479.5 90.5h0M478.2 87.6h0M480.9 92.1h0M479.2 85.4h0M473.8 88.6h0M473.3 86.8h0M475.5 91.0h0M471.5 88.9h0M463.0 90.5h0M465.4 89.1h0M472.1 93.1h0M471.9 88.9h0M476.0 89.0h0M480.6 85.9h0M467.3 90.8h0M474.9 89.3h0M481.4 87.7h0M461.9 88.2h0M461.1 91.0h0M477.3 90.2h0M463.5 86.8h0M464.8 90.9h0M477.5 88.4h0M472.4 89.6h0M476.0 86.7h0M467.0 91.1h0M474.8 90.3h0M472.4 91.1h0M474.6 87.4h0M481.1 91.9h0M470.8 88.8h0M468.3 85.3h0M466.5 85.2h0M468.6 89.9h0M471.7 85.2h0M471.0 87.4h0M466.2 92.0h0M466.5 91.4h0M463.1 89.8h0M468.3 91.6h0M474.2 86.9h0M475.5 92.4h0M479.1 93.0h0M470.2 94.8h0M468.9 88.7h0M463.9 88.5h0M464.4 89.3h0" stroke="#58bd42" stroke-width="0.90" stroke-linecap="round" fill="none" stroke-opacity="0.4"/>
<path d="M455.6 72.4h0M457.4 80.6h0M449.1 75.2h0M455.2 74.3h0M449.4 73.5h0M456.4 73.5h0M458.0 77.9h0M449.0 77.1h0M451.5 71.2h0M453.3 75.6h0M453.4 84.4h0M454.4 76.3h0M452.4 84.6h0M455.0 81.1h0M449.7 77.7h0M457.5 71.5h0M452.1 83.0h0M453.2 76.2h0M452.5 72.8h0M458.3 75.5h0M449.1 74.8h0M456.7 74.9h0M457.8 75.2h0M451.7 71.2h0M452.2 71.8h0M452.4 75.8h0M455.6 74.5h0M458.3 72.5h0M452.5 77.5h0M453.4 77.2h0M456.1 79.2h0M455.0 74.0h0M450.3 80.1h0M450.9 75.4h0M454.0 80.9h0M453.7 74.8h0M456.7 82.4h0M450.5 76.0h0M452.7 72.2h0M450.3 84.2h0M454.9 74.9h0M450.1 79.4h0M455.1 75.3h0M457.2 81.3h0M447.4 82.9h0M453.5 75.2h0M457.6 72.0h0M447.3 75.3h0M455.6 78.5h0M452.3 84.1h0M451.1 82.2h0M448.0 80.2h0M456.9 80.2h0M453.5 78.5h0M455.8 75.7h0M449.0 78.6h0M452.8 71.8h0M452.9 77.2h0M448.0 81.0h0M456.1 75.3h0M454.6 76.3h0M449.5 72.0h0M455.1 82.2h0M447.3 80.0h0M448.7 80.5h0M456.3 81.2h0M453.0 83.7h0M449.0 72.4h0M451.4 76.5h0M457.4 75.8h0M453.4 77.8h0M452.2 77.3h0M452.1 79.2h0M451.6 76.6h0M457.7 72.6h0M454.0 77.1h0M446.4 77.0h0M452.0 82.2h0M451.1 82.5h0M451.3 79.8h0M455.9 72.6h0M458.4 77.0h0M452.2 85.1h0M453.4 78.1h0M448.8 73.4h0M455.9 77.8h0M454.6 80.8h0M454.9 75.0h0M457.2 77.0h0M448.3 83.4h0M457.7 71.9h0M457.5 80.7h0M449.5 78.9h0M458.0 72.4h0M454.6 73.7h0M456.3 76.1h0M451.6 79.5h0M456.6 80.9h0M452.1 79.7h0M451.2 82.6h0M457.3 82.0h0M450.2 75.9h0M458.7 75.9h0M454.6 71.5h0M447.7 73.5h0M454.7 73.5h0M454.5 71.1h0M455.0 80.9h0M449.3 73.7h0M449.3 77.7h0M448.4 73.6h0M448.1 78.1h0M453.3 78.2h0M456.0 82.2h0M455.3 79.6h0M456.5 70.7h0M456.0 73.4h0M450.6 76.1h0M452.8 79.1h0M453.6 74.9h0M450.7 80.2h0M458.1 75.9h0M454.3 76.5h0M451.7 71.9h0M454.1 70.7h0M451.1 79.4h0M456.4 75.6h0M448.5 75.3h0M456.7 71.4h0M447.8 75.4h0M452.5 72.3h0M453.6 82.3h0M452.3 80.7h0M454.9 77.9h0M451.1 73.7h0M457.0 80.2h0M452.4 71.9h0M456.4 72.8h0M449.7 84.1h0M455.8 82.6h0M447.4 74.2h0M449.2 76.9h0M455.8 76.2h0M454.2 79.7h0M450.9 84.4h0M454.7 81.5h0M455.5 79.6h0M450.8 72.9h0M447.7 79.0h0M451.6 72.1h0M452.3 80.8h0M447.8 80.0h0M454.6 82.9h0M450.9 71.3h0M450.3 72.6h0M457.1 75.7h0M453.3 81.3h0M454.6 79.2h0M448.2 73.7h0M455.0 76.8h0M453.5 83.6h0M454.8 83.0h0M450.8 71.1h0M449.6 84.0h0M455.5 80.7h0M451.5 81.2h0M454.3 81.7h0M458.8 77.4h0M450.2 78.0h0M455.2 77.2h0M453.1 84.8h0M455.2 76.0h0M446.3 77.6h0M449.9 74.7h0M450.8 83.0h0M453.9 73.8h0M450.9 78.4h0M452.5 76.6h0M452.9 74.8h0M458.4 73.4h0M450.8 80.2h0M456.9 76.3h0M454.2 73.9h0M446.9 81.8h0M452.7 83.9h0M456.4 74.6h0M447.7 80.4h0M454.0 83.6h0M457.0 81.9h0M457.0 71.3h0M457.6 72.3h0M452.7 83.8h0M458.6 79.5h0M447.4 74.0h0M457.4 81.1h0M451.5 84.2h0M452.7 72.3h0M452.6 83.9h0M447.1 81.7h0M453.0 72.0h0M448.7 81.1h0M451.1 83.6h0M446.7 78.9h0M457.1 73.7h0M449.6 79.0h0M448.3 80.0h0M458.0 75.0h0M448.2 83.6h0M451.5 82.4h0M450.9 84.9h0M454.5 79.2h0M447.0 79.0h0M449.1 81.0h0M450.1 73.6h0M447.8 73.9h0M447.6 74.3h0M453.0 83.3h0M456.1 75.6h0M458.0 75.4h0M451.5 78.5h0M453.8 77.6h0M454.6 73.1h0M448.8 75.2h0M451.7 73.9h0M453.4 71.1h0M451.5 77.1h0M453.9 72.2h0M454.5 77.2h0M458.0 72.1h0M451.2 82.1h0M457.6 76.8h0M448.9 74.0h0M454.3 80.3h0M451.5 73.0h0M457.4 75.0h0M449.1 82.9h0M456.1 80.4h0M456.3 79.6h0M454.1 76.1h0M447.4 82.0h0M450.1 81.6h0M449.0 74.1h0M448.1 83.2h0M449.4 79.7h0M456.6 71.1h0M452.0 82.9h0M455.6 77.1h0M452.4 80.5h0M456.5 74.3h0M458.5 74.6h0M457.3 71.2h0M446.5 79.3h0M455.7 79.9h0M455.2 70.1h0M451.8 72.9h0M449.0 77.4h0M457.1 80.0h0M458.7 75.5h0M447.2 82.4h0M457.5 77.8h0M449.0 79.9h0M449.3 76.2h0M453.7 81.2h0M455.6 71.5h0M451.2 77.9h0M449.4 76.8h0M448.7 78.8h0M449.7 76.6h0M457.0 74.8h0M451.2 83.6h0M452.0 79.6h0M454.9 70.2h0M458.0 77.6h0M456.0 72.7h0M447.9 77.2h0M452.9 80.7h0M448.5 82.9h0M453.8 70.8h0M448.7 76.6h0M446.7 81.4h0M451.5 72.0h0M448.8 80.6h0M451.6 78.1h0M448.6 74.3h0M449.1 76.9h0M449.8 78.3h0M452.7 71.2h0M450.4 76.6h0M453.1 78.4h0M450.7 78.0h0M447.5 80.9h0M453.7 72.9h0M451.9 77.8h0M452.4 73.5h0M452.3 78.7h0M456.0 75.5h0M452.7 75.0h0M453.8 82.2h0M455.9 82.1h0M452.0 73.5h0M450.9 78.1h0M452.2 77.7h0M450.9 75.1h0M457.0 76.1h0M456.1 71.6h0M452.9 70.7h0M452.6 82.3h0M449.5 80.0h0M455.6 76.3h0M448.3 81.0h0M450.7 81.7h0M456.3 76.9h0M457.6 72.0h0M455.7 80.9h0M454.8 71.3h0M450.0 84.1h0M455.6 76.0h0M451.8 74.3h0M455.7 78.7h0M454.1 73.6h0M458.1 74.0h0M453.0 81.1h0M451.9 74.2h0M448.9 75.5h0M454.5 78.4h0M457.0 74.2h0M450.5 76.0h0M450.3 71.2h0M448.5 82.1h0M450.1 74.0h0M450.2 72.8h0M450.7 72.1h0M455.1 74.2h0M454.8 72.1h0M457.1 71.8h0M456.2 72.4h0M451.7 79.4h0M447.2 78.4h0M454.2 76.5h0M455.6 78.3h0M458.7 72.3h0M448.2 79.1h0M454.2 77.0h0M448.3 77.6h0M450.5 78.2h0M458.1 76.8h0M448.7 77.7h0M453.2 70.7h0M455.9 80.9h0M456.9 75.1h0M458.8 73.5h0M455.8 82.4h0M448.6 82.5h0M448.7 73.4h0M447.1 82.5h0M455.8 76.8h0M456.6 80.2h0M449.6 84.3h0M453.2 70.6h0M458.8 75.2h0M452.0 83.9h0M458.1 74.1h0M457.6 74.1h0M448.1 78.9h0M449.5 83.0h0M451.0 71.1h0M452.4 71.4h0M449.4 71.9h0M451.6 80.4h0M451.1 78.5h0M449.4 79.7h0M452.1 72.8h0M450.6 75.9h0M457.8 80.4h0M452.3 77.5h0M455.5 81.0h0M457.9 77.8h0M457.8 72.4h0M458.6 78.5h0M457.1 82.4h0M453.6 74.1h0M453.4 79.4h0M457.0 79.6h0M451.5 81.5h0M452.2 73.6h0M453.8 82.3h0M453.2 77.1h0M446.7 79.7h0M449.6 79.4h0M457.7 80.9h0M455.5 71.5h0M454.5 84.1h0M452.9 80.5h0M449.8 80.8h0M449.3 78.1h0M456.0 78.1h0M454.1 72.8h0M453.4 80.0h0M455.0 73.0h0M452.9 78.1h0M453.2 72.8h0M457.0 79.3h0M454.0 75.0h0M451.3 75.5h0M449.1 72.3h0M454.9 75.6h0M450.8 76.0h0M449.4 80.6h0M452.3 82.6h0M448.8 81.2h0M449.3 81.2h0M450.0 83.9h0M447.6 75.0h0M448.7 77.6h0M455.2 83.1h0M458.5 76.9h0M450.7 79.1h0M451.1 82.2h0M449.3 74.3h0M450.5 82.6h0" stroke="#e5452e" stroke-width="0.90" stroke-linecap="round" fill="none" stroke-opacity="0.5"/>
<path d="M517.7 82.9h0M519.0 82.4h0M518.8 85.9h0M515.2 85.5h0M517.0 77.3h0M526.8 80.1h0M528.4 86.0h0M524.0 79.9h0M514.4 80.1h0M517.3 82.0h0M516.0 75.7h0M528.0 83.6h0M514.6 77.5h0M516.3 82.6h0M526.5 75.2h0M529.2 83.1h0M531.1 82.8h0M528.1 82.5h0M523.7 83.2h0M514.6 81.7h0M517.9 83.9h0M524.8 81.6h0M516.7 83.4h0M524.7 88.5h0M514.5 76.7h0M511.2 77.0h0M527.4 77.5h0M524.3 79.2h0M521.6 90.2h0M511.5 77.4h0M520.1 87.0h0M514.2 81.9h0M511.6 76.9h0M519.4 88.9h0M530.0 82.1h0M514.4 78.0h0M525.0 88.6h0M529.7 78.4h0M516.3 79.9h0M521.0 83.8h0M520.3 84.7h0M521.1 83.1h0M525.1 86.9h0M516.5 82.6h0M528.4 87.0h0M510.3 80.5h0M518.7 81.5h0M514.4 82.5h0M526.2 85.4h0M514.3 81.5h0M524.0 77.4h0M514.3 83.3h0M524.9 85.5h0M521.3 85.2h0M528.2 83.4h0M514.2 84.6h0M517.4 86.8h0M513.5 85.1h0M527.2 76.9h0M513.9 82.2h0M513.4 76.5h0M527.7 87.7h0M519.0 87.4h0M518.8 77.0h0M518.2 78.2h0M526.8 81.2h0M518.9 87.9h0M523.2 81.8h0M526.6 84.1h0M517.4 85.8h0M510.0 81.6h0M529.4 82.4h0M530.2 78.2h0M523.0 85.1h0M532.3 81.8h0M530.6 83.6h0M521.9 91.0h0M516.5 85.1h0M523.1 80.0h0M512.5 82.1h0M515.8 85.1h0M523.8 79.9h0M519.7 87.0h0M530.4 79.3h0M516.4 85.7h0M530.3 81.6h0M531.9 82.4h0M529.0 78.6h0M532.1 82.8h0M511.0 81.9h0M531.3 81.7h0M527.5 87.3h0M516.6 77.8h0M519.0 79.8h0M527.1 77.6h0M515.5 76.8h0M520.9 80.9h0M515.1 81.9h0M511.8 81.9h0M520.6 90.3h0M523.6 80.0h0M514.3 78.0h0M524.5 87.6h0M524.2 76.5h0M517.1 87.9h0M527.9 81.5h0M517.0 82.6h0M518.8 81.8h0M523.1 83.7h0M525.7 83.8h0M515.3 81.0h0M516.6 81.9h0M524.2 86.9h0M514.9 81.8h0M513.9 85.3h0M519.4 77.5h0M523.6 84.8h0M512.3 84.7h0M530.4 78.3h0M515.6 82.6h0M516.5 80.5h0M514.9 79.4h0M521.5 87.1h0M517.5 86.0h0M517.1 82.1h0M523.7 89.8h0M524.5 76.5h0M522.3 87.2h0M522.4 89.8h0M513.8 77.6h0M523.3 83.8h0M513.9 82.0h0M515.9 76.6h0M528.0 81.2h0M525.1 77.6h0M519.5 80.0h0M522.5 78.0h0M525.8 85.3h0M523.2 84.0h0M514.7 80.0h0M526.2 80.7h0M511.6 81.9h0M528.5 82.2h0M527.2 85.6h0M513.7 84.1h0M521.4 79.0h0M528.4 76.1h0M523.3 84.1h0M531.0 79.7h0M511.3 81.1h0M517.2 88.9h0M530.2 84.9h0M527.3 82.2h0M515.6 82.2h0M525.3 80.3h0M528.9 82.5h0M514.8 83.4h0M529.8 81.0h0M516.6 83.4h0M526.3 79.1h0M523.7 86.1h0M516.2 83.7h0M525.1 85.7h0M517.2 85.1h0M517.9 83.7h0M528.9 79.9h0M522.5 90.5h0M524.6 85.6h0M512.3 82.2h0M526.1 80.1h0M517.9 83.2h0M532.1 80.2h0M527.8 86.9h0M524.4 81.3h0M522.7 80.0h0M524.1 87.9h0M518.1 79.4h0M517.0 78.6h0M516.4 76.7h0M521.0 87.5h0M516.0 87.5h0M518.0 78.3h0M528.4 86.8h0M518.3 86.6h0M516.4 87.6h0M524.7 84.3h0M516.3 85.4h0M522.5 87.5h0M517.0 78.2h0M518.1 85.0h0M527.5 76.9h0M525.0 77.1h0M525.9 80.8h0M517.4 87.0h0M529.5 76.9h0M527.6 78.6h0M522.7 77.8h0M512.8 76.7h0M518.3 77.2h0M511.5 84.1h0M512.0 84.1h0M524.8 78.6h0M523.1 88.0h0M516.1 79.5h0M526.3 75.9h0M523.7 78.5h0M528.5 85.9h0M524.1 79.0h0M521.2 86.0h0M527.3 79.7h0M525.9 77.9h0M521.7 80.3h0M525.1 86.1h0M529.5 84.3h0M512.2 83.6h0M511.6 82.7h0M519.0 81.0h0M515.0 77.7h0M515.4 85.8h0M513.0 82.9h0M527.1 83.5h0M522.9 82.9h0M530.2 82.3h0M530.4 79.7h0M530.4 83.1h0M511.4 83.3h0M531.3 81.0h0M524.5 89.8h0M521.9 80.7h0M523.1 79.7h0M528.9 78.6h0M527.4 83.7h0M516.2 82.7h0M516.4 75.7h0M520.9 90.1h0M514.9 85.4h0M521.4 86.1h0M522.7 89.2h0M513.6 78.6h0M522.5 87.8h0M519.5 90.0h0M521.2 87.0h0M528.1 86.3h0M517.4 87.0h0M523.6 84.5h0M520.3 80.7h0M523.1 89.9h0M518.0 80.9h0M523.9 88.2h0M530.3 82.9h0M524.8 79.8h0M528.7 77.5h0M522.0 90.0h0M526.8 76.1h0M531.5 79.0h0M524.6 77.3h0M523.7 79.6h0M522.8 77.4h0M517.6 86.6h0M516.4 76.5h0M523.7 81.9h0M521.9 87.2h0M515.3 82.3h0M516.8 82.2h0M524.1 82.0h0M527.8 86.1h0M525.4 81.4h0M516.0 84.4h0M524.3 83.1h0M515.5 87.2h0M518.3 80.0h0M526.7 87.3h0M523.7 83.6h0M511.0 82.9h0M517.3 87.3h0M528.8 81.3h0M519.1 85.8h0M513.4 82.7h0M510.3 80.8h0M515.0 84.4h0M531.0 79.5h0M524.5 87.9h0M519.5 85.7h0M518.1 79.9h0M516.2 81.9h0M521.6 82.7h0M525.9 75.5h0M527.8 77.7h0M521.7 87.3h0M524.6 82.1h0M521.3 84.6h0M511.2 80.9h0M522.2 83.2h0M509.8 81.9h0M524.7 86.3h0M512.2 78.4h0M517.5 78.7h0M524.6 86.6h0M528.5 84.8h0M523.4 83.3h0M525.7 86.9h0M516.1 78.7h0M511.1 83.7h0M530.0 78.3h0M523.0 78.9h0M528.1 79.4h0M517.9 79.1h0M522.1 90.4h0M515.0 83.9h0M519.2 83.9h0M517.7 78.0h0M522.9 83.2h0M512.1 83.1h0M509.9 82.2h0M517.6 83.3h0M524.2 77.6h0M511.7 77.3h0M515.7 86.0h0M512.8 82.2h0M529.1 76.6h0M519.7 79.7h0M517.8 84.3h0M510.6 78.2h0M509.4 80.6h0M519.8 86.7h0M514.8 76.1h0M526.9 84.4h0M518.6 83.8h0M513.0 81.1h0M518.1 88.5h0M513.5 84.7h0M522.7 90.6h0M527.9 87.7h0M527.2 82.5h0M518.2 83.5h0M514.8 79.7h0M528.3 81.5h0M516.0 85.7h0M523.3 89.4h0M527.4 79.0h0M515.2 76.6h0M530.1 81.9h0M529.9 85.2h0M525.2 77.8h0M521.0 84.2h0M517.5 80.1h0M523.4 80.5h0M526.5 82.3h0M523.7 82.8h0M521.2 84.7h0M528.7 85.7h0M526.9 88.0h0M520.1 89.3h0M517.7 80.5h0M520.4 84.8h0M512.7 83.0h0M516.9 79.2h0M518.8 82.6h0M525.6 85.6h0M532.0 82.0h0M531.2 81.8h0M513.6 84.7h0M518.2 78.9h0M526.1 79.6h0M530.6 84.3h0M519.7 88.1h0M524.0 88.6h0M521.5 85.6h0M529.8 78.3h0M516.7 79.8h0M516.5 84.3h0M521.6 84.9h0M522.1 79.4h0M518.9 78.3h0M526.4 78.6h0M519.4 83.5h0M523.9 86.5h0M527.9 86.1h0M518.5 79.9h0M528.0 85.6h0M527.0 85.7h0M524.3 86.8h0M529.9 83.9h0M510.5 82.5h0M516.6 83.5h0M517.3 81.8h0M517.8 79.1h0M530.7 83.8h0M516.5 88.5h0M526.6 82.6h0M517.1 83.9h0M522.9 85.3h0M511.6 76.9h0M523.0 83.5h0M524.4 88.1h0M510.8 80.2h0M524.8 83.2h0M520.0 88.4h0M528.4 82.2h0M527.1 76.8h0M529.5 77.9h0M518.3 89.3h0M518.3 81.8h0M514.7 76.9h0M517.9 83.9h0M531.2 81.7h0M511.0 83.5h0M514.5 81.6h0M522.1 79.1h0M529.8 84.3h0M518.6 78.4h0M515.5 77.9h0M530.9 82.6h0M527.8 78.0h0M514.5 80.6h0M515.4 85.0h0M530.1 77.9h0M516.2 79.0h0M515.5 81.4h0M525.7 87.0h0M513.8 85.3h0M527.5 77.3h0M525.1 85.5h0M523.5 89.5h0M518.2 77.5h0M531.2 80.4h0M529.6 85.6h0M516.5 80.5h0M527.7 82.7h0M523.0 81.1h0M521.7 83.1h0M526.6 84.7h0M529.6 83.1h0M520.1 84.7h0M529.2 82.8h0M523.3 90.6h0M523.4 89.8h0M529.8 85.5h0M518.5 86.8h0M518.4 79.3h0M514.3 86.2h0M523.3 81.0h0M530.5 79.3h0M526.6 84.6h0M518.3 86.3h0M520.4 78.2h0M530.3 80.2h0M523.7 78.0h0M520.3 78.1h0M512.0 76.7h0M520.2 79.5h0M530.2 78.5h0M522.2 81.9h0M512.5 79.7h0M524.1 86.6h0M519.4 86.6h0M523.4 78.3h0M528.5 77.8h0M525.9 87.1h0M530.7 83.4h0M511.4 81.0h0M514.3 78.3h0M526.5 81.2h0M527.9 86.4h0M514.4 86.5h0M519.9 77.8h0M521.6 88.7h0M514.0 86.1h0M516.6 79.5h0M517.2 77.5h0M526.5 78.5h0M514.0 76.9h0M517.8 82.0h0M527.9 84.5h0M528.7 86.8h0M531.0 84.2h0M520.4 82.1h0M511.4 78.2h0M522.2 88.8h0M527.6 78.5h0M520.8 82.8h0M529.5 77.4h0M528.9 80.5h0M527.7 78.2h0M526.9 76.3h0M510.4 79.8h0M523.9 85.3h0M516.2 84.7h0M524.2 79.9h0M528.9 84.3h0M529.7 82.3h0M528.7 86.0h0M529.8 84.9h0M519.6 86.8h0M519.7 88.7h0M509.4 81.2h0M511.4 84.2h0M529.8 82.2h0M518.6 77.7h0M525.5 88.0h0M530.2 84.4h0M527.1 84.0h0M515.0 80.0h0M521.6 85.9h0M523.1 91.4h0M519.5 83.9h0M530.0 78.7h0M525.9 79.4h0M528.5 81.3h0M527.6 84.4h0M515.2 80.1h0M518.8 88.4h0M527.6 79.2h0M521.3 86.0h0M521.1 81.0h0M532.0 79.9h0M525.6 76.5h0M520.1 89.6h0M514.7 82.9h0M511.5 78.1h0M518.6 88.2h0M524.9 84.7h0M523.9 81.3h0M515.3 86.9h0M514.3 80.7h0M525.1 82.7h0M526.1 82.1h0M522.9 90.9h0M524.4 76.6h0M515.6 81.3h0M519.2 89.4h0M524.2 89.8h0M515.1 79.4h0M528.7 85.0h0M516.8 83.2h0M515.8 80.2h0M522.6 80.5h0M514.7 85.1h0M523.4 87.5h0M522.7 77.4h0M522.4 84.9h0M511.1 80.5h0M511.9 77.5h0M515.6 78.3h0M511.8 81.9h0M520.4 77.8h0M512.9 79.7h0M517.9 86.0h0M515.0 86.3h0M529.6 83.8h0M532.3 82.8h0M514.8 85.1h0M531.8 83.2h0M522.3 77.8h0M521.9 88.6h0M518.2 79.9h0M512.2 77.0h0M516.0 87.8h0M523.7 87.5h0M523.6 86.3h0" stroke="#e5452e" stroke-width="0.90" stroke-linecap="round" fill="none" stroke-opacity="0.5"/>
<path d="M505.6 72.4h0M501.1 72.6h0M506.0 78.3h0M502.0 74.8h0M501.9 80.5h0M503.4 83.8h0M499.4 70.6h0M498.3 72.4h0M510.0 82.1h0M507.4 78.0h0M500.2 73.7h0M512.3 82.8h0M507.9 78.7h0M505.0 77.3h0M503.5 75.6h0M508.1 77.6h0M506.6 76.7h0M501.3 79.7h0M497.5 73.6h0M506.2 79.5h0M508.2 81.1h0M507.4 78.7h0M497.2 72.2h0M502.7 79.6h0M506.2 79.1h0M510.2 79.7h0M503.5 75.5h0M509.1 77.7h0M502.6 77.8h0M500.0 75.8h0M504.4 78.2h0M509.2 78.9h0M511.9 81.4h0M506.8 77.3h0M500.4 75.9h0M498.6 75.1h0M498.2 78.1h0M501.5 78.4h0M502.0 77.1h0M509.6 78.4h0M501.9 77.7h0M497.3 71.6h0M503.9 75.4h0M506.8 76.4h0M500.2 82.9h0M506.2 80.3h0M502.3 77.3h0M496.7 73.7h0M504.9 79.3h0M501.3 76.5h0" stroke="#e5452e" stroke-width="0.90" stroke-linecap="round" fill="none" stroke-opacity="0.5"/>
<path d="M484.4 87.3h0M483.7 88.5h0M487.3 90.6h0M485.4 87.7h0M491.0 89.2h0M493.5 94.6h0M490.3 91.7h0M492.2 90.0h0M485.3 88.7h0M494.1 95.9h0M487.6 89.9h0M491.2 92.1h0M481.3 88.2h0M483.9 86.3h0M485.3 90.0h0M486.6 90.9h0M483.6 86.0h0M487.6 92.7h0M491.5 92.6h0M484.9 88.5h0M489.3 91.3h0M491.4 91.7h0M491.3 91.3h0M495.2 95.4h0M490.4 93.5h0M484.1 88.8h0M487.2 89.1h0M487.3 88.5h0M486.0 87.8h0M482.5 86.8h0M484.7 86.3h0M486.0 89.8h0M489.8 91.5h0M490.3 93.0h0M488.4 91.5h0M493.3 92.7h0M485.6 85.0h0M490.9 92.5h0M494.1 91.9h0M492.7 91.9h0M493.2 94.0h0M491.5 90.7h0M483.9 89.6h0M482.9 89.0h0M493.1 92.3h0M485.4 89.7h0M496.9 94.2h0M492.8 92.9h0M486.2 89.7h0M483.9 86.7h0M485.5 85.7h0M486.9 86.8h0M490.6 91.8h0M495.0 91.0h0M485.4 88.0h0M485.2 89.1h0M490.7 89.5h0M491.8 91.7h0M481.4 84.7h0M485.3 88.3h0M487.4 87.7h0M489.2 92.0h0M484.4 87.8h0M484.1 86.5h0M480.6 88.5h0M488.5 91.3h0M488.5 91.5h0M481.9 86.0h0M487.7 89.8h0M493.2 96.8h0" stroke="#a383d6" stroke-width="0.90" stroke-linecap="round" fill="none" stroke-opacity="0.5"/>
<path d="M488.3 90.6h0M487.9 91.9h0M488.9 92.5h0M489.0 92.7h0M488.7 92.6h0M489.6 92.5h0M488.6 93.1h0M489.1 92.3h0M489.3 93.1h0M487.9 92.9h0M489.3 91.1h0M490.2 92.8h0" stroke="#6437a8" stroke-width="0.90" stroke-linecap="round" fill="none" stroke-opacity="0.5"/>
<path d="M501.2 108.4h0M499.9 106.7h0M498.9 103.9h0M505.8 113.4h0M504.9 111.1h0M496.9 101.8h0M498.6 104.1h0M504.3 110.9h0M501.7 107.6h0M502.6 109.0h0M500.6 104.4h0M501.8 106.6h0M500.4 106.3h0M500.2 103.6h0M502.6 110.4h0M498.8 103.8h0M505.6 113.1h0M502.8 110.0h0M497.7 101.1h0M504.1 110.5h0M503.6 111.0h0M499.3 104.8h0M504.0 112.9h0M501.8 108.5h0M498.2 100.6h0M499.7 103.4h0M501.7 108.7h0M503.0 109.4h0M505.8 114.4h0M503.6 109.9h0M500.0 106.1h0M496.9 101.7h0M504.4 110.7h0M497.8 101.3h0M498.2 104.3h0M505.1 110.8h0M502.4 109.6h0M496.8 102.0h0M501.9 107.5h0M497.5 102.4h0" stroke="#a383d6" stroke-width="0.90" stroke-linecap="round" fill="none" stroke-opacity="0.5"/>
<path d="M514.4 91.7h0M515.4 92.0h0M516.7 90.8h0M518.2 89.6h0M517.9 89.7h0M518.1 89.1h0M515.9 89.7h0M517.0 89.9h0M516.9 89.3h0M516.6 90.0h0M516.6 90.5h0M518.2 88.5h0" stroke="#e5452e" stroke-width="0.90" stroke-linecap="round" fill="none" stroke-opacity="0.5"/>
<path d="M459.1 121.7h0M459.5 124.1h0M460.3 122.2h0M454.5 116.2h0M455.6 115.9h0M458.0 118.6h0M459.2 123.7h0M458.8 119.0h0M456.1 113.8h0M456.8 115.2h0M457.0 115.7h0M457.7 114.5h0M459.5 123.0h0M455.6 112.6h0M455.9 113.6h0M458.4 118.9h0M457.8 119.3h0M460.5 122.3h0M459.3 123.6h0M455.7 113.7h0M459.3 117.7h0M456.5 114.2h0M458.1 121.4h0M458.5 123.2h0M456.0 113.3h0M457.7 118.3h0M459.5 121.6h0M456.0 113.4h0M456.7 113.6h0M458.2 118.6h0M458.2 120.3h0M457.7 116.9h0M457.7 117.8h0M456.6 116.5h0M459.0 122.0h0M456.4 114.1h0M458.6 116.0h0M456.7 116.8h0M459.2 120.8h0M458.0 124.2h0" stroke="#d8b1d8" stroke-width="0.90" stroke-linecap="round" fill="none" stroke-opacity="0.5"/>
<path d="M461.2 122.9h0M465.1 125.4h0M467.1 123.9h0M463.1 124.0h0M467.1 124.6h0M462.3 124.2h0M469.9 122.4h0M466.9 124.2h0M466.4 125.3h0M464.5 125.2h0M462.0 123.6h0M465.0 124.8h0M463.4 124.4h0M462.5 123.5h0M470.7 123.2h0M466.5 123.4h0M459.7 124.2h0M463.5 123.2h0M463.5 124.7h0M464.6 124.0h0M461.3 124.7h0M469.0 124.0h0M465.5 123.4h0M465.0 123.6h0M462.2 124.6h0M468.7 124.9h0M463.3 124.2h0M468.3 123.2h0M466.1 122.5h0M467.6 125.3h0M468.2 123.1h0M464.5 124.4h0M468.9 124.3h0M468.2 123.1h0M469.0 124.2h0M462.5 124.2h0M459.8 125.5h0M469.8 123.1h0M463.5 123.8h0M467.8 124.1h0" stroke="#a383d6" stroke-width="0.90" stroke-linecap="round" fill="none" stroke-opacity="0.5"/>
<path d="M478.7 115.5h0M479.2 115.4h0M474.9 119.5h0M472.8 121.7h0M476.5 118.1h0M478.2 115.4h0M477.3 115.7h0M472.3 121.4h0M478.7 113.5h0M474.7 117.9h0M473.0 121.5h0M478.1 116.6h0M471.8 121.7h0M472.6 122.6h0M471.1 123.3h0M473.7 120.0h0M478.0 116.5h0M474.9 119.8h0M473.8 119.6h0M477.0 120.7h0M472.5 121.1h0M479.3 115.4h0M475.0 121.4h0M470.8 122.2h0M472.6 121.5h0M468.9 123.4h0M476.2 119.4h0M469.2 124.3h0M476.8 116.1h0M473.4 119.4h0M478.9 114.2h0M476.1 116.9h0M477.5 116.0h0M479.4 115.6h0M475.4 118.7h0M475.6 118.0h0M471.1 123.5h0M471.2 123.5h0M478.1 116.8h0M470.3 123.2h0" stroke="#d8b1d8" stroke-width="0.90" stroke-linecap="round" fill="none" stroke-opacity="0.5"/>
<path d="M485.8 111.3h0M486.2 111.4h0M482.6 113.8h0M481.3 113.9h0M484.3 112.1h0M485.4 111.1h0M484.6 111.1h0M481.0 113.4h0M485.9 109.2h0M482.6 111.7h0M481.5 113.8h0M485.6 111.5h0M480.5 113.4h0M481.2 114.6h0M480.1 114.4h0M481.6 113.6h0M485.1 112.1h0M482.8 113.7h0M481.7 113.3h0M485.0 114.3h0M480.8 113.9h0M486.4 111.0h0M483.2 114.4h0M479.5 114.1h0M481.0 114.1h0" stroke="#d8b1d8" stroke-width="0.90" stroke-linecap="round" fill="none" stroke-opacity="0.5"/>
<path d="M504.2 124.9h0M502.1 128.7h0M501.7 125.4h0M499.3 128.9h0M499.5 129.0h0M503.0 128.6h0M501.6 132.1h0M503.5 130.5h0M502.6 130.8h0M504.8 128.0h0M503.3 128.1h0M502.0 131.3h0M501.3 131.9h0M502.1 128.9h0M502.5 126.0h0M499.2 127.6h0M503.7 126.2h0M502.0 133.0h0M500.3 128.1h0M500.0 127.4h0M503.4 130.0h0M503.5 131.8h0M503.8 126.6h0M501.8 134.1h0M502.1 134.4h0M498.4 128.6h0M503.2 127.8h0M504.8 128.1h0M501.3 126.2h0M501.7 125.9h0M501.8 132.9h0M499.8 128.6h0M504.3 128.9h0M500.4 133.8h0M502.8 128.5h0M502.9 133.1h0M502.5 126.6h0M500.1 128.5h0M503.4 130.1h0M501.8 133.1h0M498.8 130.9h0M500.3 130.2h0M503.8 126.7h0M501.9 130.0h0M499.6 130.2h0M501.3 128.9h0M500.6 132.6h0M499.4 131.5h0M499.2 128.9h0M501.0 124.9h0M502.9 129.3h0M502.8 129.9h0M501.9 129.8h0M504.0 129.5h0M503.4 131.4h0M502.2 127.2h0M500.2 127.8h0M500.4 128.3h0M500.9 133.0h0M501.3 130.1h0M499.8 127.1h0M499.8 133.4h0M501.5 125.2h0M501.2 125.3h0M502.0 128.9h0M504.0 126.9h0M504.0 126.7h0M504.9 131.0h0M499.9 128.0h0M500.8 131.5h0M504.4 131.2h0M504.4 126.0h0M499.0 132.1h0M501.3 131.8h0M502.0 132.5h0M503.8 130.6h0M502.1 127.6h0M504.0 126.3h0M501.0 127.5h0M502.3 129.9h0M504.0 128.8h0M500.5 131.2h0M500.2 133.8h0M498.9 128.2h0M498.3 128.3h0M503.1 132.3h0M501.7 126.3h0M500.8 124.6h0M500.2 128.7h0M503.8 130.5h0M500.9 126.7h0M500.2 131.4h0M501.1 125.9h0M503.8 130.3h0M504.8 129.9h0M502.4 128.7h0M502.3 134.1h0M501.0 124.7h0M503.9 128.3h0M500.7 124.6h0M498.2 128.3h0M503.0 131.4h0M499.9 125.9h0M502.2 124.7h0M502.1 129.7h0M501.8 125.3h0M498.5 129.2h0M499.0 131.1h0M500.2 130.8h0M503.3 130.7h0" stroke="#f47f1f" stroke-width="0.90" stroke-linecap="round" fill="none" stroke-opacity="0.5"/>
<path d="M499.4 139.0h0M500.4 143.1h0M497.3 133.4h0M498.9 138.0h0M499.9 135.2h0M495.3 133.8h0M498.6 139.9h0M501.0 142.3h0M499.9 141.2h0M497.2 135.5h0" stroke="#f47f1f" stroke-width="0.90" stroke-linecap="round" fill="none" stroke-opacity="0.5"/>
<path d="M480.4 136.7h0M479.3 136.1h0M478.5 136.0h0M478.6 137.2h0M478.1 135.5h0M480.2 136.9h0M481.5 138.9h0M480.9 138.2h0M481.1 138.3h0M479.8 137.5h0" stroke="#d0c796" stroke-width="0.90" stroke-linecap="round" fill="none" stroke-opacity="0.5"/>
<path d="M501.7 148.5h0M490.3 156.2h0M487.2 159.6h0M502.1 145.3h0M500.4 154.3h0M505.7 148.8h0M488.7 156.2h0M492.2 155.1h0M503.9 152.8h0M503.8 148.4h0M504.5 149.4h0M495.0 154.6h0M493.8 159.7h0M497.4 146.5h0M493.3 153.7h0M486.9 155.6h0M496.0 155.8h0M503.1 145.2h0M492.1 152.8h0M488.1 156.4h0M500.3 152.8h0M499.6 155.2h0M500.7 154.5h0M495.1 148.8h0M501.9 147.3h0M501.4 145.2h0M487.1 153.9h0M488.4 159.0h0M491.5 148.3h0M501.1 150.8h0M491.4 159.7h0M491.8 157.1h0M498.7 150.5h0M498.6 149.0h0M490.6 149.4h0M486.6 158.3h0M502.0 153.6h0M503.0 145.9h0M494.0 157.0h0M500.5 146.8h0M499.5 148.2h0M493.7 153.6h0M491.6 158.0h0M492.3 155.3h0M493.4 147.2h0M496.4 145.4h0M502.2 153.6h0M495.4 150.3h0M500.7 153.2h0M495.3 148.5h0M490.9 158.9h0M499.9 148.3h0M500.3 149.3h0M495.7 146.8h0M496.7 149.9h0M497.6 150.3h0M499.5 145.8h0M505.3 151.6h0M501.1 155.5h0M501.6 152.6h0M486.6 161.2h0M493.6 158.9h0M493.3 151.7h0M498.4 154.5h0M493.4 155.3h0M502.1 152.2h0M498.4 154.1h0M494.4 148.5h0M495.5 147.6h0M499.3 147.4h0M496.4 146.5h0M502.1 151.0h0M494.2 149.9h0M503.5 150.7h0M492.0 156.8h0M505.5 150.0h0M495.9 151.4h0M490.9 148.7h0M500.3 145.8h0M491.3 159.3h0M496.8 152.8h0M489.4 160.6h0M500.0 145.2h0M493.2 148.2h0M494.2 156.4h0M498.0 146.0h0M496.7 149.7h0M497.4 149.6h0M493.6 153.2h0M493.0 149.6h0M489.3 160.8h0M499.1 146.6h0M487.3 158.4h0M494.0 154.2h0M505.1 148.8h0M498.2 155.1h0M490.9 150.2h0M488.1 160.8h0M489.1 157.8h0M498.6 151.1h0M497.5 148.9h0M496.9 155.4h0M489.9 157.6h0M488.3 155.5h0M493.3 149.6h0M502.5 150.2h0M498.2 147.4h0M498.8 154.9h0M495.9 153.3h0M488.7 159.6h0M499.5 149.6h0M493.6 157.1h0M500.3 154.5h0M493.7 152.9h0M499.5 147.1h0M499.5 147.3h0M505.5 149.7h0M498.9 156.5h0M505.4 151.0h0M493.2 147.2h0M494.2 158.7h0M496.7 145.8h0M503.7 149.9h0M504.7 146.0h0M495.4 148.9h0M500.2 149.9h0M492.4 155.8h0M494.1 150.5h0M502.6 146.3h0M498.9 147.1h0M504.9 151.7h0M496.0 156.9h0M501.5 145.5h0M493.2 153.8h0M491.6 150.1h0M488.8 155.0h0M500.3 155.8h0M496.1 145.7h0M502.5 149.0h0M488.5 161.8h0M496.2 151.3h0M502.4 154.4h0M491.0 158.3h0M497.4 154.8h0M489.6 153.5h0M500.4 148.0h0M500.0 145.2h0M488.4 158.9h0M497.7 149.0h0M495.4 156.7h0M496.6 147.2h0M494.0 153.3h0M489.0 155.7h0M499.5 152.1h0M495.4 150.9h0M487.9 153.0h0M494.1 157.6h0M498.6 150.4h0M501.7 150.6h0M490.2 151.5h0M495.7 156.6h0M498.0 152.2h0M495.2 156.8h0M492.1 151.6h0M505.1 148.5h0M500.8 148.8h0M504.0 151.4h0M505.8 148.1h0M504.2 150.0h0M505.0 150.8h0M499.1 147.5h0M497.9 153.4h0M487.8 160.8h0M488.5 162.1h0M495.3 148.3h0M495.4 157.4h0M493.6 151.9h0M490.1 158.2h0M501.4 149.4h0M502.6 152.2h0M506.9 147.5h0M501.8 145.1h0M502.1 147.0h0M505.6 150.8h0M486.7 159.0h0M497.4 152.4h0M491.8 159.0h0M488.7 151.7h0M492.3 155.4h0M493.9 155.0h0M501.9 153.7h0M502.4 149.6h0M499.6 154.7h0M502.9 146.9h0M501.2 148.9h0M504.2 149.3h0M498.6 155.0h0M488.8 155.0h0M498.1 147.6h0M496.9 145.6h0M501.4 144.9h0M490.5 152.1h0M499.1 151.8h0M502.2 153.2h0M496.5 153.8h0M495.8 147.7h0M498.6 147.9h0M495.9 146.7h0M495.1 147.1h0M490.7 160.5h0M495.2 153.7h0M497.3 155.6h0M491.1 160.1h0M498.0 149.2h0M491.8 159.7h0M495.6 147.9h0M503.6 153.1h0M489.6 150.6h0M489.4 155.5h0M505.5 149.8h0M488.4 161.1h0M500.5 147.6h0M505.6 147.0h0M492.1 152.2h0M493.5 159.6h0M490.4 154.5h0M505.4 150.8h0M502.6 151.2h0M499.6 148.9h0M496.3 148.6h0M492.4 153.6h0M488.4 160.8h0M489.0 157.9h0M505.0 149.7h0M502.8 152.2h0M493.7 149.0h0M490.6 151.4h0M495.3 156.9h0M503.7 149.6h0M497.2 157.2h0M500.8 146.8h0M494.4 151.2h0M499.0 152.8h0M494.8 158.2h0M494.6 149.8h0M502.4 148.0h0M504.1 152.8h0M491.8 152.6h0M499.6 153.9h0M492.6 149.9h0M492.0 152.3h0M489.7 159.9h0M489.2 159.2h0M498.6 156.6h0M494.9 147.4h0M489.6 159.4h0M496.7 155.7h0M491.8 157.8h0M489.7 156.8h0M493.3 148.6h0M499.0 146.0h0M487.6 162.1h0M489.9 153.1h0M491.8 154.4h0M486.8 157.2h0M496.0 156.4h0M496.6 148.0h0M495.3 150.1h0M490.6 153.3h0M490.9 159.2h0M486.9 162.0h0M488.4 159.2h0M498.5 148.7h0M497.6 152.0h0M498.0 153.9h0M493.0 151.4h0M492.4 149.1h0M491.8 155.6h0M498.2 145.4h0M488.3 157.8h0M499.5 148.7h0M496.9 146.5h0M488.4 159.6h0M497.8 153.5h0M490.0 152.7h0M488.9 154.5h0M487.9 155.5h0M490.6 149.0h0M503.1 147.7h0M502.5 149.7h0M488.3 160.8h0M497.4 154.5h0M492.7 152.8h0M494.6 154.8h0M500.8 155.1h0M490.4 155.4h0M503.5 149.3h0M499.6 155.9h0M503.2 148.9h0M493.6 152.0h0M490.4 153.2h0M495.0 154.4h0M500.0 147.2h0M489.1 161.8h0M492.7 153.8h0M488.1 154.6h0M493.6 153.7h0M501.6 149.1h0M501.6 153.8h0M488.3 159.3h0M500.4 153.1h0M493.5 148.1h0M490.1 160.4h0M493.3 150.0h0M493.2 147.2h0M497.2 156.4h0M497.2 154.0h0M489.8 149.9h0M502.1 144.7h0M490.3 149.7h0M490.9 155.9h0M505.7 149.3h0M488.3 154.9h0M500.4 149.1h0M500.7 149.9h0M498.5 148.4h0M499.2 153.8h0M502.7 145.7h0M494.6 159.3h0M503.5 147.6h0M491.2 154.2h0M494.0 154.3h0M493.7 147.7h0M492.8 147.4h0M500.5 148.4h0M493.7 151.8h0M497.0 152.9h0M497.6 154.5h0M496.6 153.0h0M503.1 148.1h0M495.6 151.1h0M492.3 157.4h0M490.8 149.8h0M495.5 148.7h0M498.7 152.2h0M502.8 145.9h0M501.0 146.7h0M494.1 158.6h0M500.6 147.8h0M496.4 151.3h0M494.4 154.8h0M504.8 149.0h0M494.7 147.2h0M499.9 145.6h0M493.8 157.4h0M500.3 152.7h0M494.3 157.6h0M505.9 146.9h0M491.6 151.3h0M490.2 160.8h0M490.7 160.2h0M489.6 162.2h0M503.8 149.5h0M505.3 151.1h0M497.5 154.9h0M491.1 154.3h0M489.0 155.1h0M488.8 161.2h0M489.5 157.6h0M492.4 149.7h0M497.1 153.7h0M490.5 160.8h0M491.5 152.9h0M489.1 157.0h0M488.6 158.8h0M495.2 153.4h0M505.6 149.4h0M497.6 155.2h0M503.8 149.4h0M502.3 146.6h0M494.0 157.4h0M501.5 155.2h0M501.7 146.9h0M498.7 146.4h0M501.4 152.4h0M494.9 154.3h0M490.8 155.7h0M504.5 149.5h0M504.4 151.0h0M489.1 160.8h0M491.6 149.2h0M487.5 157.1h0M500.1 150.6h0M493.5 149.4h0M492.7 149.3h0M494.1 155.9h0M494.6 150.2h0M490.7 155.6h0M502.7 147.0h0M494.6 154.0h0M490.9 151.2h0M493.7 158.3h0M506.0 149.3h0M495.4 148.4h0M492.9 158.1h0M503.5 145.1h0M498.7 156.7h0M492.2 148.0h0M502.9 152.4h0M494.1 158.0h0M501.8 147.9h0M490.4 154.6h0M490.7 149.9h0M494.3 158.0h0M486.7 157.7h0M486.7 156.6h0M491.4 155.7h0M488.4 151.7h0M492.0 157.2h0M501.6 148.2h0M501.7 145.6h0M487.9 153.2h0M494.4 154.8h0M488.3 156.9h0M495.4 148.5h0M503.6 149.1h0M488.3 155.7h0M502.3 154.4h0M503.6 150.9h0M492.3 150.8h0M486.4 161.7h0M505.3 151.7h0M496.5 150.7h0M490.7 157.9h0M496.9 148.2h0M494.0 156.7h0M500.9 152.5h0M496.5 152.0h0M491.0 151.2h0M495.6 154.1h0M505.9 148.0h0M498.4 153.0h0M499.7 151.1h0M491.6 160.1h0M495.3 149.1h0M500.5 146.0h0M492.4 159.8h0M500.7 149.9h0M492.7 158.2h0M491.4 151.4h0M491.0 160.3h0M505.8 147.2h0M499.0 153.6h0M501.8 151.7h0M498.0 149.8h0M495.6 152.2h0M489.3 162.3h0M491.8 158.9h0M494.0 154.5h0M497.7 146.4h0M502.6 149.7h0M503.7 150.6h0M490.8 158.1h0M489.6 160.5h0M498.9 148.4h0M491.9 150.8h0M505.9 150.0h0M486.6 157.4h0M493.5 158.7h0M501.3 149.3h0M494.3 150.1h0M499.8 156.2h0M489.3 151.9h0M495.5 145.9h0M491.1 152.3h0M498.8 156.1h0M495.6 148.6h0M490.9 155.2h0M496.4 148.6h0M490.2 149.6h0M497.4 153.6h0M497.1 146.9h0M500.1 149.1h0M498.2 153.8h0M487.3 157.2h0M503.6 148.9h0M496.1 157.7h0M498.7 154.0h0M499.8 149.2h0M504.6 151.9h0M499.3 148.1h0M491.8 152.4h0M501.0 149.6h0M494.8 148.0h0M489.9 155.6h0M491.6 159.2h0M495.4 156.1h0M499.2 154.3h0M500.0 156.1h0M493.4 158.9h0M488.0 154.9h0M486.9 158.1h0M493.6 148.5h0M503.3 145.9h0M492.5 147.6h0M489.3 161.7h0M490.2 153.5h0M501.5 154.7h0M495.5 150.1h0M502.9 152.8h0M490.1 160.5h0M489.3 154.5h0M502.2 147.7h0M505.7 147.0h0M488.4 160.0h0M502.0 145.9h0M503.8 148.5h0M500.6 155.8h0M498.7 155.4h0M499.6 155.4h0" stroke="#8b995b" stroke-width="0.90" stroke-linecap="round" fill="none" stroke-opacity="0.5"/>
<path d="M505.1 164.3h0M500.2 158.1h0M507.6 154.5h0M509.1 160.3h0M503.9 152.5h0M508.0 165.7h0M506.5 163.5h0M510.1 163.2h0M498.9 162.6h0M500.2 163.4h0M505.9 161.0h0M499.7 165.2h0M509.4 165.7h0M503.2 154.2h0M506.0 156.0h0M507.1 157.6h0M503.9 158.9h0M499.8 159.3h0M507.6 157.7h0M500.6 165.8h0M503.0 160.8h0M497.6 165.5h0M502.6 152.7h0M498.9 161.6h0M505.7 156.7h0M502.2 160.8h0M504.1 168.2h0M498.4 165.7h0M503.6 168.0h0M495.9 166.1h0M499.6 162.7h0M501.4 159.8h0M508.1 165.1h0M504.6 155.3h0M498.0 166.9h0M500.1 158.3h0M508.6 157.6h0M508.2 156.6h0M504.2 167.3h0M499.8 159.9h0M507.9 159.3h0M507.7 153.9h0M506.1 169.9h0M505.7 168.1h0M496.9 162.6h0M504.4 152.5h0M501.7 156.8h0M497.6 161.4h0M504.0 160.9h0M508.2 162.4h0M498.1 161.6h0M503.5 165.6h0M500.7 163.1h0M498.2 164.2h0M503.1 164.8h0M504.2 162.1h0M503.4 159.5h0M505.2 153.6h0M505.2 167.1h0M509.5 164.3h0M506.1 169.3h0M500.9 157.4h0M500.4 165.1h0M509.6 166.2h0M497.9 166.2h0M498.4 161.0h0M499.8 156.6h0M507.2 168.7h0M496.7 165.8h0M499.6 166.0h0M503.8 159.2h0M504.6 155.9h0M503.3 167.0h0M505.0 165.3h0M507.0 169.2h0M503.4 157.4h0M504.9 153.1h0M506.7 165.1h0M502.7 164.9h0M504.5 167.8h0M497.7 161.6h0M502.5 163.3h0M504.1 160.4h0M510.0 165.0h0M502.1 153.6h0M501.1 163.1h0M500.3 159.3h0M497.2 164.1h0M507.1 165.7h0M509.1 164.7h0M501.0 165.2h0M509.1 167.4h0M502.7 159.0h0M509.2 161.6h0M505.0 155.8h0M506.1 168.5h0M507.6 160.2h0M505.8 161.2h0M503.7 157.2h0M504.3 163.6h0M501.9 159.0h0M507.1 160.6h0M495.9 164.7h0M503.7 154.6h0M502.8 168.0h0M498.0 165.4h0M506.6 164.7h0M509.4 162.9h0M501.5 160.3h0M501.8 163.6h0M499.4 161.1h0M504.7 164.2h0M509.2 166.9h0M500.7 158.8h0M503.7 168.7h0M499.8 164.5h0M504.9 159.3h0M502.7 163.9h0M506.9 160.4h0M509.3 164.1h0M507.1 160.2h0M507.0 155.8h0M497.6 162.2h0M502.7 161.3h0M507.5 161.4h0M505.5 164.0h0M501.6 166.2h0M505.5 162.5h0M508.6 163.6h0M502.1 155.7h0M501.5 162.4h0M504.1 164.9h0M503.3 164.3h0M507.4 156.0h0M506.0 165.8h0M504.3 168.9h0M501.4 167.8h0M508.3 155.0h0M507.6 165.2h0M506.9 155.6h0M500.4 160.8h0M501.9 163.4h0M505.9 158.5h0M496.8 163.9h0M506.1 165.3h0M503.8 151.3h0M499.5 165.4h0M498.0 163.7h0M500.0 161.6h0M506.4 157.3h0M502.0 166.3h0M497.1 163.7h0M507.3 161.8h0M506.0 169.2h0M506.9 167.5h0M504.7 163.3h0M507.0 153.8h0M497.9 163.6h0M503.7 157.5h0M508.9 161.3h0M507.0 157.1h0M499.5 166.2h0M500.9 160.1h0M500.7 158.7h0M509.2 162.9h0M507.8 159.4h0M498.7 167.3h0M497.0 161.9h0M506.3 165.2h0M505.4 168.4h0M507.8 161.1h0M502.8 155.6h0M508.8 160.9h0M504.1 166.9h0M509.8 160.6h0M497.1 163.2h0M507.6 154.1h0M501.8 165.8h0M502.6 161.0h0M499.9 168.0h0M506.0 162.8h0M505.5 168.4h0M505.1 168.3h0M500.9 163.0h0M502.1 161.2h0M497.5 166.1h0M503.5 165.9h0M506.1 158.6h0M504.1 153.9h0M504.0 157.0h0M504.6 154.4h0M505.0 155.3h0M496.0 166.4h0M508.9 161.4h0M508.3 162.5h0M507.9 165.7h0M505.5 167.7h0M501.3 166.0h0M501.5 162.9h0M503.6 162.2h0M503.4 153.4h0M502.7 155.3h0M498.2 159.1h0M508.4 168.2h0M506.4 161.0h0M506.2 161.8h0M504.3 159.2h0M506.9 165.9h0M504.5 161.2h0M500.9 163.1h0M499.9 166.9h0M498.8 160.3h0M497.7 165.8h0M504.1 163.9h0M508.9 158.8h0M501.9 166.5h0M499.8 165.0h0M497.1 166.5h0M506.8 159.9h0M497.0 161.7h0M502.1 162.8h0M503.5 168.6h0M498.9 165.0h0M495.2 165.8h0M508.3 167.5h0M507.1 164.2h0M503.9 155.4h0M506.8 160.7h0M502.7 155.7h0M508.4 160.4h0M503.2 164.5h0M506.7 157.8h0M506.6 162.5h0M497.6 167.0h0M497.0 166.2h0M499.7 167.7h0M505.4 153.3h0M499.7 166.0h0M509.1 163.1h0M506.9 166.6h0M509.9 163.9h0M503.7 166.2h0M505.5 168.1h0M502.9 162.6h0M497.2 164.1h0M507.7 165.2h0M502.7 155.5h0M496.0 166.0h0M505.5 156.2h0M499.8 168.4h0M505.0 166.7h0M501.0 167.4h0M504.3 166.0h0M506.5 169.1h0M500.7 166.7h0M503.5 160.3h0M501.7 162.0h0M502.2 159.5h0M509.1 158.9h0M504.8 168.9h0M500.0 157.8h0M506.8 160.5h0M502.2 165.4h0M500.4 162.5h0M498.5 164.6h0M505.9 157.7h0M495.7 166.0h0M505.0 152.4h0M503.3 166.2h0M504.7 163.6h0M501.5 167.5h0M508.1 157.2h0M509.4 162.5h0M510.2 163.3h0M501.5 158.5h0M510.0 165.0h0M508.1 159.7h0M505.7 154.1h0M497.7 160.5h0M497.1 162.6h0M509.0 165.2h0M507.6 159.7h0M499.5 165.9h0M497.9 159.9h0M506.7 167.2h0M509.6 158.8h0M504.9 168.3h0M499.7 164.4h0M502.0 160.6h0M500.6 167.6h0M506.1 167.3h0M508.8 156.6h0M498.7 158.0h0M497.4 164.0h0M497.8 159.8h0M504.4 167.0h0M501.4 162.7h0M501.9 167.4h0M501.4 157.1h0M501.0 158.4h0M506.9 156.1h0M507.0 153.8h0M509.4 161.5h0M506.0 167.4h0M501.1 166.1h0M502.3 161.5h0M508.8 166.2h0M503.9 163.5h0M507.4 156.7h0M507.8 161.9h0M501.3 162.7h0M505.6 164.4h0M502.0 159.2h0M500.6 165.5h0M498.8 159.4h0M496.5 166.4h0M503.3 160.1h0M501.8 163.9h0M497.6 162.6h0M500.4 157.3h0M506.5 169.1h0M501.0 156.3h0M505.7 164.9h0M499.5 159.0h0M505.8 163.1h0M508.7 159.9h0M501.6 165.6h0M508.0 164.7h0M501.5 160.2h0M504.7 156.2h0M510.1 163.8h0M507.1 166.8h0M506.4 160.1h0M502.7 156.6h0M507.4 165.3h0M505.3 162.0h0M496.8 164.6h0M500.1 157.0h0M506.4 169.3h0M504.4 166.4h0M508.1 163.1h0M500.7 168.9h0M506.6 156.7h0M499.6 162.2h0M504.8 169.0h0M505.6 162.5h0M502.1 169.1h0M499.6 160.5h0M508.0 160.7h0M499.6 159.3h0M500.8 157.2h0M504.1 163.1h0M504.0 163.2h0M502.9 154.3h0M509.9 167.3h0M500.9 161.2h0M502.5 165.0h0M504.7 163.5h0M499.0 160.6h0M508.7 159.8h0M508.1 161.0h0M497.7 162.2h0M501.7 165.2h0M500.1 158.0h0M501.8 161.0h0M495.9 164.3h0M506.1 164.7h0M498.6 159.0h0M506.5 165.2h0M501.7 164.3h0M506.9 164.0h0M500.1 167.1h0M506.0 162.0h0M508.3 158.3h0M506.3 164.2h0M504.1 157.2h0M508.1 166.9h0M501.2 158.4h0M502.7 162.1h0M503.4 162.4h0M509.0 160.4h0M503.2 165.4h0M499.7 159.3h0M500.6 162.6h0M508.8 162.0h0M504.2 160.3h0M507.5 165.2h0M501.5 164.6h0M499.9 165.2h0M509.9 160.4h0M497.2 162.5h0M503.1 163.3h0M503.9 161.9h0M500.3 160.9h0M506.6 163.5h0M507.4 158.6h0M500.1 161.5h0M504.7 164.0h0M505.8 163.5h0M506.8 153.3h0M499.4 158.5h0M501.4 157.7h0M506.2 159.1h0M510.4 166.2h0M506.7 162.4h0M504.8 166.0h0M508.1 155.3h0M505.4 165.9h0M507.9 155.9h0M503.1 153.6h0M498.7 158.8h0M497.6 165.5h0M507.0 159.4h0M503.7 152.8h0M504.9 153.7h0M502.1 159.9h0M510.5 166.9h0M507.6 162.4h0M503.3 162.4h0M502.3 154.1h0M499.9 163.9h0M500.6 164.8h0M507.6 157.2h0M508.1 155.6h0M507.9 166.8h0M510.3 166.3h0M497.9 162.9h0M507.6 154.6h0M507.9 165.2h0M505.8 164.3h0M505.0 168.8h0M505.0 156.9h0M499.6 163.4h0M507.3 159.3h0M502.4 154.6h0M505.5 166.4h0M505.5 160.4h0M508.8 162.5h0M508.7 156.9h0M504.4 161.4h0M506.3 156.0h0M507.7 162.7h0M509.3 163.2h0M508.4 158.1h0M504.0 162.9h0M497.6 164.4h0M500.6 160.3h0M501.9 168.0h0M506.2 165.5h0M505.0 158.7h0M502.2 155.4h0M501.0 155.5h0M504.0 160.9h0M509.7 165.4h0M510.2 165.3h0M500.9 158.9h0M504.2 163.5h0M502.4 156.7h0M502.0 165.9h0M504.3 160.5h0M498.5 165.5h0M509.4 165.6h0M506.0 167.4h0M507.3 166.9h0M501.6 155.0h0M504.6 168.1h0M502.7 159.4h0M506.6 154.5h0M504.2 153.3h0M509.3 159.0h0M508.4 160.9h0M505.1 159.8h0M498.1 160.6h0M504.3 168.4h0M507.5 165.7h0M504.3 159.4h0M497.1 164.5h0M505.9 165.4h0M507.4 156.5h0M497.9 163.6h0M498.4 164.5h0M504.5 161.2h0M505.1 160.9h0M500.5 168.4h0M509.7 159.3h0M509.4 167.1h0M501.2 156.4h0M509.0 161.1h0M510.4 165.9h0M502.1 158.3h0M500.8 157.5h0M499.3 160.9h0M506.9 162.0h0M504.4 155.8h0M502.0 159.3h0M501.7 159.3h0M502.3 163.0h0M505.3 159.2h0M498.2 164.1h0M499.8 162.1h0" stroke="#f19e9f" stroke-width="0.90" stroke-linecap="round" fill="none" stroke-opacity="0.5"/>
<path d="M500.9 169.5h0M502.4 171.1h0M496.9 166.5h0M507.0 173.9h0M505.6 174.8h0M503.8 172.4h0M507.4 174.2h0M508.4 173.3h0M500.8 171.1h0M508.2 171.9h0M507.4 174.5h0M502.9 170.7h0M505.3 173.4h0M506.2 172.4h0M506.4 172.4h0M505.1 172.2h0M498.2 169.7h0M499.3 169.5h0M503.0 169.5h0M501.3 165.7h0M502.9 171.4h0M508.1 172.4h0M506.8 170.4h0M508.8 173.7h0M501.2 170.6h0M508.4 171.4h0M507.8 174.1h0M505.3 173.1h0M506.0 172.9h0M496.4 168.7h0M501.2 169.0h0M504.0 169.1h0M499.5 169.5h0M504.1 171.6h0M502.2 173.6h0M504.2 171.7h0M499.9 168.0h0M503.7 171.7h0M505.5 170.9h0M503.1 170.9h0" stroke="#f19e9f" stroke-width="0.90" stroke-linecap="round" fill="none" stroke-opacity="0.5"/>
<path d="M472.6 166.5h0M473.2 174.2h0M482.2 168.4h0M481.3 182.9h0M473.1 167.8h0M485.0 179.4h0M476.3 179.1h0M493.3 178.1h0M477.2 175.5h0M472.9 173.1h0M474.3 172.0h0M480.9 169.4h0M474.4 181.1h0M475.0 179.3h0M475.2 184.5h0M479.2 179.0h0M493.0 172.7h0M484.7 183.3h0M491.9 175.5h0M486.2 173.8h0M482.4 178.9h0M476.7 183.4h0M478.3 168.8h0M481.8 176.2h0M482.9 182.6h0M490.2 175.1h0M480.5 171.8h0M475.9 168.0h0M472.2 166.5h0M485.1 178.5h0M471.3 181.0h0M475.1 182.0h0M497.0 173.9h0M479.1 175.1h0M491.6 172.7h0M481.6 179.5h0M479.4 181.7h0M479.8 176.7h0M485.4 175.6h0M493.6 178.3h0M481.5 172.5h0M483.5 183.0h0M476.7 164.9h0M478.6 182.5h0M492.6 177.7h0M484.2 171.4h0M481.4 168.3h0M487.1 183.5h0M472.6 172.1h0M471.0 168.1h0M474.0 169.4h0M483.2 178.1h0M484.6 180.5h0M480.3 176.9h0M475.4 164.4h0M495.2 175.2h0M480.7 178.4h0M477.7 172.0h0M473.7 173.3h0M479.0 176.2h0M496.6 181.6h0M489.8 177.0h0M496.7 174.9h0M470.1 170.8h0M472.9 170.7h0M476.9 178.7h0M481.9 166.2h0M471.6 167.2h0M478.3 179.2h0M483.3 178.0h0M483.3 177.8h0M494.1 177.2h0M475.8 165.9h0M482.8 168.0h0M488.4 185.0h0M477.6 177.0h0M476.1 185.7h0M489.5 177.3h0M485.2 168.9h0M499.2 181.3h0M489.3 177.3h0M478.3 173.2h0M472.2 169.9h0M488.7 182.3h0M476.8 166.8h0M476.1 182.8h0M474.9 182.9h0M470.2 171.2h0M478.2 176.5h0M490.9 178.6h0M487.2 170.0h0M480.2 176.3h0M477.2 164.8h0M472.4 178.5h0M486.0 185.9h0M469.5 176.4h0M486.0 170.4h0M479.9 165.9h0M488.6 181.0h0M495.8 182.5h0M490.7 175.8h0M496.0 179.2h0M491.1 176.2h0M498.3 178.1h0M496.4 176.4h0M474.7 175.7h0M499.5 178.0h0M482.9 172.2h0M486.4 182.9h0M480.9 166.0h0M490.9 182.7h0M480.8 185.9h0M497.3 182.2h0M473.8 179.0h0M484.8 178.9h0M476.8 172.5h0M491.3 179.1h0M477.3 166.8h0M477.1 171.1h0M477.6 170.0h0M472.4 165.6h0M472.9 175.5h0M489.9 181.6h0M469.7 177.0h0M480.0 185.6h0M488.7 184.7h0M475.4 166.5h0M486.8 176.6h0M483.7 176.4h0M471.8 167.2h0M471.0 171.7h0M494.3 181.8h0M472.2 174.5h0M481.1 167.1h0M481.6 170.3h0M492.8 182.9h0M482.1 173.0h0M486.1 178.4h0M495.4 173.6h0M478.0 171.2h0M473.5 164.7h0M478.3 182.0h0M473.6 183.0h0M474.7 173.8h0M476.1 186.0h0M478.6 175.2h0M478.8 173.5h0M478.8 177.6h0M480.6 182.9h0M486.9 174.8h0M474.3 174.7h0M475.5 164.3h0M478.8 180.5h0M495.0 174.6h0M489.0 177.4h0M498.8 177.8h0M470.7 173.7h0M484.5 173.6h0M484.2 173.2h0M497.6 182.7h0M474.5 166.8h0M479.5 167.3h0M470.5 170.1h0M490.9 178.0h0M498.6 176.1h0M472.5 171.0h0M478.7 181.1h0M481.5 175.4h0M494.9 179.2h0M491.3 181.2h0M489.3 174.8h0M477.1 182.6h0M476.5 174.7h0M493.5 182.9h0M474.9 163.8h0M494.0 173.6h0M477.4 173.2h0M485.5 179.5h0M471.5 178.4h0M475.0 181.4h0M497.0 174.1h0M478.1 181.3h0M487.8 174.5h0M489.8 178.7h0M482.9 185.8h0M479.7 180.5h0M492.7 174.9h0M473.8 180.5h0M476.7 178.5h0M474.6 169.3h0M483.6 175.4h0M499.8 181.8h0M473.8 179.8h0M475.7 174.8h0M492.8 173.5h0M488.9 175.0h0M488.3 182.0h0M492.2 180.6h0M497.4 181.4h0M479.8 170.9h0M476.7 184.7h0M473.9 167.3h0M470.2 176.6h0M474.8 171.3h0M474.4 181.1h0M484.0 178.1h0M475.4 166.2h0M471.9 166.9h0M479.9 169.3h0M490.9 183.4h0M486.8 173.6h0M491.6 172.4h0M475.5 169.3h0M469.7 172.7h0M489.5 183.1h0M477.3 168.8h0M488.8 184.3h0M476.3 180.6h0M479.0 176.8h0M488.2 180.2h0M493.8 179.0h0M483.2 181.6h0M476.0 164.7h0M470.7 170.7h0M492.9 180.4h0M481.6 171.7h0M473.0 178.7h0M482.8 166.9h0M493.2 174.8h0M476.3 182.1h0M493.5 175.8h0M488.5 178.2h0M491.6 183.1h0M486.5 176.9h0M480.8 172.3h0M491.3 179.5h0M479.5 169.2h0M479.2 185.2h0M484.9 171.6h0M474.0 171.7h0M497.8 178.5h0M477.8 166.0h0M496.3 181.9h0M489.5 176.0h0M483.0 169.6h0M482.7 171.3h0M472.7 173.1h0M474.4 173.5h0M487.3 181.7h0M483.6 173.6h0M479.1 168.8h0M483.9 174.2h0M473.3 175.2h0M498.8 181.8h0M480.2 184.9h0M480.0 164.5h0M489.0 175.9h0M486.6 174.3h0M482.8 183.3h0M481.8 167.3h0M490.2 181.6h0M480.9 177.5h0M473.1 173.5h0M481.1 184.2h0M476.4 167.0h0M491.6 180.4h0M471.8 167.8h0M490.2 184.7h0M472.1 168.0h0M474.8 171.2h0M479.5 185.1h0M480.7 167.0h0M472.8 165.8h0M476.9 171.5h0M479.2 174.2h0M475.8 180.7h0M482.6 176.1h0M489.9 179.0h0M474.6 177.5h0M474.7 176.1h0M480.8 185.8h0M478.4 181.2h0M498.3 175.9h0M487.7 183.1h0M487.5 172.2h0M497.7 179.1h0M491.4 180.9h0M479.3 175.7h0M476.0 168.4h0M486.9 175.4h0M480.4 169.7h0M484.3 176.5h0M485.0 173.7h0M485.9 181.3h0M490.5 184.5h0M489.6 174.1h0M494.6 174.1h0M482.1 181.1h0M489.5 174.5h0M488.1 183.6h0M480.7 171.0h0M487.9 182.8h0M498.9 176.1h0M496.2 180.4h0M491.1 173.7h0M479.1 186.1h0M477.7 169.3h0M479.3 175.7h0M474.5 173.3h0M477.8 184.6h0M478.4 179.2h0M495.3 172.8h0M483.5 183.0h0M493.4 180.4h0M478.0 183.4h0M488.2 179.1h0M479.4 177.5h0M486.3 171.1h0M490.6 173.6h0M471.2 166.5h0M473.8 184.5h0M482.0 169.4h0M499.0 179.5h0M487.8 177.3h0M486.7 172.4h0M469.8 179.1h0M494.9 183.3h0M487.8 171.2h0M471.4 175.7h0M485.1 178.0h0M473.0 167.5h0M480.8 172.0h0M487.7 177.2h0M483.0 171.6h0M498.4 177.7h0M489.6 173.2h0M469.4 175.2h0M479.3 167.0h0M484.0 184.2h0M474.8 176.3h0M484.6 171.9h0M484.4 168.4h0M488.4 179.3h0M473.3 182.0h0M489.2 172.1h0M485.0 180.8h0M479.1 169.0h0M497.1 182.2h0M471.3 174.7h0M486.6 170.9h0M481.2 166.7h0M487.5 180.2h0M478.9 177.9h0M472.9 171.5h0M476.8 169.6h0M475.3 174.2h0M489.7 182.5h0M475.7 170.2h0M495.5 182.1h0M497.8 176.9h0M484.6 174.3h0M472.6 171.2h0M481.8 179.7h0M489.4 176.3h0M498.6 176.6h0M491.2 178.1h0M485.7 169.1h0M476.3 166.2h0M486.9 179.3h0M470.6 168.1h0M477.1 166.4h0M493.3 172.4h0M471.5 174.5h0M483.5 177.3h0M494.5 181.4h0M488.0 171.3h0M471.7 177.9h0M479.9 174.6h0M483.2 186.4h0M473.1 176.8h0M484.0 168.4h0M480.6 176.7h0M470.2 173.6h0M492.8 173.3h0M470.7 176.6h0M499.8 181.0h0M479.9 171.8h0M485.8 175.9h0M489.9 178.1h0M484.9 171.9h0M484.8 169.3h0M472.5 183.4h0M473.5 164.9h0M488.7 178.9h0M476.8 184.0h0M493.5 178.2h0M472.7 171.5h0M484.5 170.8h0M484.4 181.5h0M480.2 176.6h0M486.1 182.2h0M473.5 169.7h0M483.6 170.6h0M492.8 177.2h0M481.0 175.6h0M481.5 173.7h0M487.3 184.3h0M472.4 169.8h0M477.1 176.1h0M486.4 169.4h0M473.8 170.6h0M480.2 175.7h0M476.7 172.4h0M477.6 184.8h0M478.3 183.9h0M472.9 169.5h0M490.7 178.6h0M487.0 178.1h0M478.8 174.5h0M490.0 173.3h0M493.5 175.6h0M475.6 168.7h0M499.3 179.7h0M493.6 174.7h0M493.7 174.5h0M471.9 181.3h0M488.7 170.5h0M475.9 167.2h0M476.0 164.9h0M494.6 176.3h0M495.0 175.2h0M474.8 177.7h0M486.3 178.7h0M484.5 172.9h0M492.5 179.7h0M480.2 175.2h0M490.2 178.2h0M475.7 181.5h0M488.3 182.2h0M476.7 164.1h0M483.5 173.9h0M478.3 166.9h0M472.5 181.0h0M473.4 168.0h0M476.7 181.7h0M487.0 180.3h0M488.6 183.5h0M475.6 166.3h0M488.5 183.7h0M485.3 174.2h0M474.0 176.5h0M490.3 181.2h0M486.2 179.9h0M485.9 178.5h0M480.9 179.1h0M480.9 175.0h0M487.2 181.9h0M476.6 169.7h0M486.6 182.1h0M473.7 182.6h0M490.6 176.5h0M495.4 177.8h0M490.0 180.6h0M494.0 177.0h0M471.3 167.1h0M497.7 177.6h0M489.1 177.6h0M490.4 180.8h0M483.0 180.0h0M477.7 164.4h0M474.3 183.9h0M477.2 174.2h0M472.1 176.3h0M479.1 172.4h0M480.6 171.2h0M478.4 182.1h0M478.7 182.0h0M472.8 182.1h0M480.8 168.8h0M490.1 184.0h0M484.7 177.0h0M480.2 166.6h0M488.2 179.6h0M476.5 165.4h0M487.5 172.9h0M493.6 177.4h0M469.5 173.0h0M478.8 185.1h0M472.8 171.9h0M482.5 171.3h0M469.9 175.9h0M474.1 172.8h0M479.7 180.6h0M477.0 164.6h0M477.2 181.4h0M475.3 185.5h0M498.4 178.9h0M483.6 179.9h0M484.8 178.5h0M481.8 184.3h0M496.9 174.8h0M498.7 177.9h0M479.1 167.8h0M478.9 177.8h0M499.0 178.3h0M488.0 172.3h0M472.5 178.7h0M473.9 182.7h0M489.5 177.0h0M485.3 181.0h0M497.0 178.9h0M474.3 172.0h0M497.2 181.0h0M484.8 173.5h0M490.9 182.1h0M488.7 182.4h0M496.3 174.7h0M471.3 172.1h0M490.1 184.7h0M494.0 180.0h0M488.1 179.0h0M492.0 180.3h0M471.8 168.2h0M478.6 163.9h0M470.6 177.8h0M494.4 181.7h0M493.7 184.0h0M492.5 182.4h0M489.9 178.9h0M481.8 182.7h0M473.5 177.3h0M489.1 174.5h0M485.0 185.2h0M474.0 167.7h0M484.5 178.1h0M471.4 181.2h0M480.0 178.0h0M476.2 173.9h0M480.2 182.1h0M469.3 174.1h0M483.2 167.6h0M472.7 176.8h0M479.0 175.7h0M478.4 168.8h0M475.9 173.5h0M481.7 175.5h0M471.6 173.3h0M485.3 179.5h0M484.4 176.0h0M486.1 175.5h0M478.2 176.9h0M481.9 182.5h0M480.4 167.8h0M493.7 182.6h0M471.0 181.7h0M470.7 177.3h0M496.2 178.6h0M490.8 184.1h0M482.6 183.8h0M478.0 165.6h0M474.2 172.8h0M474.8 182.8h0M470.2 176.0h0M499.0 179.7h0M474.0 166.9h0M470.5 173.2h0M475.9 185.2h0M481.3 168.0h0M470.2 170.0h0M493.0 181.8h0M481.5 167.2h0M473.6 178.2h0M488.0 183.1h0M499.1 180.1h0M488.3 171.7h0M487.4 174.9h0M487.6 175.0h0M470.6 174.8h0M480.1 179.2h0M483.0 176.4h0M470.5 172.1h0M475.1 172.0h0M498.1 180.9h0M484.8 170.4h0M474.4 165.0h0M470.8 176.0h0M476.0 177.0h0M495.3 182.3h0M477.9 174.9h0M482.0 168.1h0M477.5 164.2h0M476.6 169.7h0M480.3 167.1h0M472.6 180.1h0M474.5 167.8h0M483.3 170.6h0M483.1 181.2h0M476.5 168.7h0M495.8 182.7h0M475.6 179.3h0M470.3 177.6h0M482.6 181.8h0M483.3 181.0h0M472.4 176.4h0M493.7 181.1h0M491.4 174.2h0M484.3 177.6h0M472.0 166.6h0M482.6 173.3h0M482.3 167.2h0M489.9 171.4h0M476.1 175.1h0M476.3 184.6h0M486.8 169.4h0M484.3 170.1h0M477.5 186.1h0M493.8 174.5h0M486.2 183.5h0M491.4 182.9h0M495.0 182.6h0M485.0 176.7h0M478.2 181.2h0M491.7 180.5h0M492.6 182.6h0M474.5 180.3h0M498.1 179.3h0M489.1 177.9h0M494.1 174.3h0M478.1 185.4h0M498.5 179.7h0M479.5 173.2h0M483.2 181.2h0M486.2 181.3h0M473.7 169.9h0M474.7 175.6h0M488.1 170.9h0M472.0 170.8h0M489.6 181.0h0M475.6 167.0h0M493.5 173.5h0M477.4 180.9h0M491.8 183.0h0M477.3 178.9h0M482.6 185.4h0M490.4 184.2h0M478.2 179.8h0M497.3 174.9h0M483.4 183.0h0M486.2 171.2h0M481.5 177.5h0M482.7 172.1h0M489.2 180.9h0M494.9 177.1h0M477.0 170.4h0M475.7 165.7h0M494.9 181.6h0M480.1 174.3h0M471.5 181.9h0M471.4 176.1h0M482.3 171.0h0M476.6 176.0h0M485.1 177.6h0M484.1 185.6h0M483.4 169.1h0M478.1 176.0h0M495.0 182.4h0M479.6 184.8h0M485.1 168.7h0M481.8 183.9h0M477.7 175.2h0M490.6 173.8h0M476.0 184.1h0M477.5 176.1h0M493.2 174.1h0M498.0 179.2h0M482.4 179.9h0M482.5 166.6h0M478.5 171.7h0M479.6 183.3h0M479.1 181.5h0M478.3 171.4h0M488.3 174.6h0M497.6 177.3h0M487.5 181.4h0M493.7 172.5h0M484.6 173.1h0M470.6 171.0h0M486.2 179.8h0M487.0 172.8h0M481.1 171.7h0M484.7 184.9h0M488.3 181.8h0M485.5 185.1h0M476.4 173.9h0M495.9 177.9h0M484.7 171.3h0M478.3 172.8h0M488.4 170.9h0M499.0 182.2h0M474.6 168.8h0M479.6 169.4h0M469.9 175.3h0M480.0 180.7h0M479.8 170.7h0M479.4 181.1h0M492.6 172.9h0M473.9 165.2h0M480.0 183.8h0M491.0 174.1h0M491.6 182.0h0M478.1 181.7h0M483.1 167.5h0M470.6 172.5h0M481.2 165.5h0M474.9 185.2h0M473.7 174.0h0M476.1 184.0h0M479.8 170.5h0M480.2 168.6h0M482.2 180.3h0M482.4 175.1h0M485.3 171.3h0M487.2 170.3h0M480.6 186.2h0M481.6 183.2h0M485.8 183.7h0M474.6 182.7h0M478.7 180.2h0M483.7 175.6h0M489.6 178.3h0M475.0 182.9h0M475.6 175.4h0M479.1 169.4h0M480.1 178.7h0M493.7 174.5h0M477.4 183.2h0M478.3 178.4h0M476.6 173.9h0M479.1 170.3h0M494.6 182.1h0" stroke="#8ed192" stroke-width="0.90" stroke-linecap="round" fill="none" stroke-opacity="0.5"/>
<path d="M510.8 174.5h0M510.4 174.5h0M507.4 174.5h0M511.4 175.5h0M512.7 175.8h0M506.8 175.6h0M510.9 172.6h0M512.1 173.9h0M510.4 172.9h0M509.3 180.2h0M510.4 179.8h0M512.9 177.6h0M511.8 175.2h0M511.5 180.1h0M508.9 171.8h0M506.6 174.4h0M509.4 178.5h0M511.9 174.2h0M514.2 179.1h0M515.2 179.5h0M515.1 181.3h0M512.6 179.9h0M511.6 181.5h0M515.0 176.7h0M509.7 173.0h0M510.2 171.6h0M506.2 172.2h0M511.7 181.4h0M507.6 174.3h0M514.3 179.9h0M511.5 180.3h0M511.0 174.1h0M512.2 180.2h0M508.0 178.8h0M509.6 174.9h0M511.9 175.1h0M506.6 174.5h0M509.9 178.4h0M514.9 181.8h0M509.7 172.9h0M511.9 172.2h0M508.3 171.4h0M508.2 174.2h0M511.3 179.3h0M506.1 173.3h0M507.4 172.9h0M511.7 173.3h0M508.5 175.1h0M508.1 178.6h0M512.7 179.9h0M513.4 179.9h0M507.3 171.7h0M512.9 174.8h0M511.9 179.6h0M508.0 171.4h0M513.5 179.2h0M513.5 179.7h0M508.8 178.5h0M505.2 173.0h0M515.1 180.0h0M512.4 172.7h0M507.2 175.8h0M510.6 178.0h0M508.3 173.9h0M513.7 179.3h0M510.0 174.0h0M513.1 178.8h0M514.4 175.5h0M506.5 173.5h0M512.8 179.1h0M511.8 175.2h0M508.1 172.2h0M513.2 181.5h0M508.3 172.0h0M509.8 171.5h0M510.3 172.1h0M512.1 179.2h0M513.1 180.2h0M511.4 178.6h0M508.3 171.3h0M512.6 179.6h0M512.7 178.4h0M510.6 181.3h0M508.5 174.7h0M508.4 173.7h0M507.5 172.8h0M509.0 172.3h0M507.7 171.6h0M511.1 179.1h0M507.5 175.8h0M514.9 180.5h0M507.4 172.6h0M510.3 173.7h0M508.3 175.3h0M510.7 177.0h0M506.5 171.7h0M508.7 173.2h0M514.8 177.9h0M512.8 173.4h0M510.4 172.9h0M513.0 177.0h0M507.7 174.0h0M508.6 178.4h0M510.1 180.3h0M507.1 175.0h0M512.2 175.8h0M510.2 180.8h0M508.4 174.5h0M512.5 178.0h0M510.1 181.0h0M508.9 173.1h0M508.2 174.7h0M510.0 178.8h0M509.0 174.8h0M508.5 174.9h0M512.2 181.5h0M510.8 173.6h0M512.3 179.6h0M510.3 173.5h0M515.2 182.0h0M509.7 178.3h0M509.9 173.4h0M513.8 178.0h0M508.5 171.8h0M512.0 176.0h0M513.1 180.0h0M508.7 171.6h0M513.7 177.4h0M508.4 170.8h0M512.0 174.1h0" stroke="#ef8a55" stroke-width="0.90" stroke-linecap="round" fill="none" stroke-opacity="0.5"/>
<path d="M510.7 187.6h0M511.7 189.1h0M508.3 184.1h0M512.7 186.5h0M509.1 184.6h0M511.4 189.4h0M513.2 190.9h0M508.9 182.9h0M511.8 187.7h0M510.6 187.4h0M507.1 183.1h0M513.2 189.9h0M507.6 183.5h0M511.3 190.4h0M508.6 184.9h0M509.9 188.3h0M513.3 191.4h0M514.4 191.1h0M511.0 186.6h0M508.4 183.4h0M512.3 188.0h0M510.0 186.7h0M508.4 186.2h0M510.6 188.1h0M510.3 189.2h0M511.2 187.7h0M510.3 185.2h0M510.2 188.4h0M507.7 183.4h0M510.9 188.3h0" stroke="#ef8a55" stroke-width="0.90" stroke-linecap="round" fill="none" stroke-opacity="0.5"/>
<path d="M480.9 196.5h0M477.1 189.4h0M478.5 197.5h0M484.9 189.7h0M483.0 193.6h0M489.1 193.0h0M478.0 192.1h0M478.2 190.7h0M483.8 194.8h0M480.3 190.5h0M488.0 196.1h0M485.9 190.4h0M484.6 190.7h0M480.0 193.0h0M484.7 198.5h0M479.6 190.2h0M484.4 194.8h0M485.1 189.2h0M484.0 196.7h0M476.4 193.0h0M488.7 196.1h0M481.8 198.0h0M481.7 197.9h0M483.4 189.5h0M476.8 190.4h0M480.0 196.9h0M487.8 193.9h0M482.5 197.9h0M479.2 192.7h0M484.2 196.0h0M486.5 191.2h0M480.2 188.1h0M480.6 191.5h0M478.1 190.4h0M487.3 191.7h0M477.8 193.7h0M485.4 194.6h0M487.9 193.0h0M482.9 197.0h0M481.9 197.0h0M482.0 189.7h0M485.4 195.2h0M476.8 193.3h0M477.1 192.8h0M479.6 193.3h0M485.7 194.8h0M478.6 197.7h0M486.0 198.3h0M480.5 193.0h0M487.3 192.8h0M478.0 190.7h0M480.2 196.7h0M480.5 197.6h0M476.0 191.1h0M484.4 194.0h0M482.5 199.7h0M479.2 190.3h0M479.5 193.9h0M480.7 197.5h0M483.7 193.0h0M486.7 190.9h0M484.1 198.6h0M483.1 192.0h0M477.8 192.7h0M483.1 199.8h0M485.1 194.5h0M487.9 191.9h0M480.8 196.5h0M483.3 190.8h0M481.2 198.3h0M478.6 196.8h0M485.3 192.0h0M475.9 191.1h0M479.7 188.6h0M481.1 194.7h0M481.6 189.8h0M481.6 194.0h0M482.2 196.6h0M485.9 192.2h0M477.5 189.1h0M483.5 199.4h0M479.8 192.9h0M481.3 199.8h0M485.3 198.5h0M481.8 193.0h0M487.2 197.2h0M488.7 197.2h0M488.7 193.4h0M483.3 197.8h0M481.8 189.7h0M483.8 198.9h0M480.7 190.9h0M481.3 191.9h0M479.1 193.5h0M485.0 192.3h0M477.8 190.8h0M479.0 197.7h0M481.5 189.0h0M483.1 194.1h0M480.3 196.6h0M482.2 188.8h0M484.0 191.9h0M487.7 194.9h0M485.6 195.6h0M487.8 199.1h0M483.3 195.4h0M486.5 191.3h0M483.2 197.8h0M483.9 194.8h0M478.9 188.9h0M484.2 189.9h0M489.5 193.9h0M483.0 198.2h0M481.8 190.3h0M481.9 189.7h0M488.2 192.4h0M480.8 199.2h0M487.4 192.2h0M482.5 196.3h0M477.8 189.7h0M485.6 197.2h0M483.9 192.3h0M487.9 197.8h0M484.5 191.6h0M477.5 189.2h0M487.2 198.6h0M480.2 190.2h0M476.1 193.2h0M479.5 188.6h0M479.5 198.3h0M476.0 193.0h0M482.7 190.0h0M487.9 196.8h0M484.1 199.5h0M480.4 193.2h0M485.8 199.0h0M477.5 191.3h0M488.9 195.1h0M477.2 196.6h0M484.7 189.3h0M488.7 196.2h0M482.4 192.3h0M477.4 193.8h0M480.5 190.9h0M484.7 196.3h0M482.0 197.0h0M480.6 193.4h0M480.0 198.1h0M489.3 193.9h0M483.8 196.5h0M486.6 193.8h0M483.2 197.6h0M475.4 191.0h0M481.8 190.0h0M484.0 192.9h0M476.9 196.2h0M484.0 191.4h0M485.4 195.8h0M481.0 193.8h0M483.3 193.6h0M489.3 193.8h0M485.2 197.7h0M484.1 192.7h0M478.8 188.9h0M485.1 194.1h0M479.6 193.5h0M478.8 196.9h0M486.4 192.8h0M483.5 189.9h0M476.8 195.0h0M477.0 192.7h0M487.5 191.6h0M475.7 190.1h0M483.1 199.0h0M478.4 193.9h0M485.3 190.8h0M482.8 198.3h0M487.2 196.7h0M484.1 191.1h0M478.3 188.7h0M488.8 195.1h0M484.0 198.9h0M485.4 192.9h0M483.8 189.0h0M478.8 192.3h0M486.9 196.3h0M484.1 192.9h0M480.3 192.8h0M475.8 192.5h0M478.7 194.2h0M486.2 190.5h0M480.3 195.3h0M485.0 193.0h0M485.7 190.6h0M479.8 189.2h0M484.4 193.3h0M479.8 196.8h0M478.8 189.8h0M486.9 199.1h0M487.1 195.0h0M485.8 198.8h0M475.6 191.7h0M480.3 197.2h0M480.0 197.5h0M481.5 195.4h0M484.4 198.3h0M483.5 190.6h0M481.6 195.0h0M485.8 192.9h0M479.6 193.1h0M485.6 193.9h0M484.2 197.3h0M487.4 197.3h0M478.4 189.0h0M477.9 189.1h0M482.3 191.5h0M483.2 191.0h0M488.7 193.2h0M489.8 194.4h0M478.8 190.3h0M479.9 197.1h0M487.6 193.0h0M482.7 197.0h0M484.6 192.5h0M478.0 191.6h0M484.6 197.7h0M481.6 197.1h0M483.4 198.6h0M483.3 196.4h0M484.0 190.5h0" stroke="#ef8a55" stroke-width="0.90" stroke-linecap="round" fill="none" stroke-opacity="0.5"/>
<path d="M493.3 192.6h0M492.7 193.4h0M492.3 192.5h0M493.4 192.8h0M493.3 192.0h0M493.9 192.2h0" stroke="#ef8a55" stroke-width="0.90" stroke-linecap="round" fill="none" stroke-opacity="0.5"/>
<path d="M432.4 156.7h0M431.8 156.3h0M433.4 157.7h0M432.2 157.0h0M432.1 157.1h0M432.7 157.2h0" stroke="#eef07c" stroke-width="0.90" stroke-linecap="round" fill="none" stroke-opacity="0.8"/>
<path d="M459.7 151.9h0M460.3 151.6h0" stroke="#e5452e" stroke-width="0.90" stroke-linecap="round" fill="none" stroke-opacity="0.5"/>
<text x="514.6" y="30.7" font-size="8.8" stroke="#231f20" stroke-width="0.12">INs</text>
<text x="455.6" y="71.3" font-size="8.8" stroke="#231f20" stroke-width="0.12">2-EN-IT-2</text>
<text x="434.4" y="97.3" font-size="8.8" stroke="#231f20" stroke-width="0.12">ENs</text>
<text x="493.0" y="101.4" font-size="8.8" stroke="#231f20" stroke-width="0.12">0-Newborn</text>
<text x="495.0" y="112.2" font-size="8.8" stroke="#231f20" stroke-width="0.12">Immature</text>
<text x="497.4" y="122.3" font-size="8.8" stroke="#231f20" stroke-width="0.12">neurons</text>
<text x="394.0" y="155.8" font-size="10.1" stroke="#231f20" stroke-width="0.12">2nd Trimester</text>
<text x="394.0" y="167.5" font-size="10.1" stroke="#231f20" stroke-width="0.12">samples</text>
<text x="479.0" y="155.7" font-size="8.8" stroke="#231f20" stroke-width="0.12">8-RG</text>
<text x="507.0" y="163.7" font-size="8.8" stroke="#231f20" stroke-width="0.12">9-RG</text>
<text x="458.6" y="181.8" font-size="8.8" stroke="#231f20" stroke-width="0.12">4-oRG</text>
<rect x="545.8" y="3.2" width="5.2" height="5.2" fill="#a6d3e8" stroke="#8a8a8a" stroke-width="0.35"/>
<text x="551.9" y="7.8" font-size="5.45">0-Newborn Immature neurons</text>
<rect x="545.8" y="11.1" width="5.2" height="5.2" fill="#6aa7d6" stroke="#8a8a8a" stroke-width="0.35"/>
<text x="551.9" y="15.7" font-size="5.45">1-EN-IT-1</text>
<rect x="545.8" y="19.0" width="5.2" height="5.2" fill="#3677b8" stroke="#8a8a8a" stroke-width="0.35"/>
<text x="551.9" y="23.6" font-size="5.45">2-EN-IT-2</text>
<rect x="545.8" y="27.0" width="5.2" height="5.2" fill="#4d9aa1" stroke="#8a8a8a" stroke-width="0.35"/>
<text x="551.9" y="31.5" font-size="5.45">3-Unknown-1</text>
<rect x="545.8" y="34.9" width="5.2" height="5.2" fill="#8ed192" stroke="#8a8a8a" stroke-width="0.35"/>
<text x="551.9" y="39.4" font-size="5.45">4-oRG</text>
<rect x="545.8" y="42.8" width="5.2" height="5.2" fill="#93de72" stroke="#8a8a8a" stroke-width="0.35"/>
<text x="551.9" y="47.4" font-size="5.45">5-IN-MGE</text>
<rect x="545.8" y="50.7" width="5.2" height="5.2" fill="#58bd42" stroke="#8a8a8a" stroke-width="0.35"/>
<text x="551.9" y="55.3" font-size="5.45">6-Newborn Immature neurons</text>
<rect x="545.8" y="58.6" width="5.2" height="5.2" fill="#3b9e31" stroke="#8a8a8a" stroke-width="0.35"/>
<text x="551.9" y="63.2" font-size="5.45">7-IN-CGE</text>
<rect x="545.8" y="66.6" width="5.2" height="5.2" fill="#8b995b" stroke="#8a8a8a" stroke-width="0.35"/>
<text x="551.9" y="71.1" font-size="5.45">8-RG</text>
<rect x="545.8" y="74.5" width="5.2" height="5.2" fill="#f19e9f" stroke="#8a8a8a" stroke-width="0.35"/>
<text x="551.9" y="79.0" font-size="5.45">9-RG</text>
<rect x="545.8" y="82.4" width="5.2" height="5.2" fill="#e65a68" stroke="#8a8a8a" stroke-width="0.35"/>
<text x="551.9" y="87.0" font-size="5.45">10-Pericytes</text>
<rect x="545.8" y="90.3" width="5.2" height="5.2" fill="#e51f25" stroke="#8a8a8a" stroke-width="0.35"/>
<text x="551.9" y="94.9" font-size="5.45">11-ENs-Non IT</text>
<rect x="545.8" y="98.2" width="5.2" height="5.2" fill="#e5452e" stroke="#8a8a8a" stroke-width="0.35"/>
<text x="551.9" y="102.8" font-size="5.45">12-EN-IT-3</text>
<rect x="545.8" y="106.2" width="5.2" height="5.2" fill="#ef8a55" stroke="#8a8a8a" stroke-width="0.35"/>
<text x="551.9" y="110.7" font-size="5.45">13-Astrocytes</text>
<rect x="545.8" y="114.1" width="5.2" height="5.2" fill="#f3b262" stroke="#8a8a8a" stroke-width="0.35"/>
<text x="551.9" y="118.6" font-size="5.45">14-Cajal Retzius cells</text>
<rect x="545.8" y="122.0" width="5.2" height="5.2" fill="#f49d36" stroke="#8a8a8a" stroke-width="0.35"/>
<text x="551.9" y="126.5" font-size="5.45">15-Unknown-2</text>
<rect x="545.8" y="129.9" width="5.2" height="5.2" fill="#f47f1f" stroke="#8a8a8a" stroke-width="0.35"/>
<text x="551.9" y="134.5" font-size="5.45">16-OPCs + IPC-Glia</text>
<rect x="545.8" y="137.8" width="5.2" height="5.2" fill="#e69068" stroke="#8a8a8a" stroke-width="0.35"/>
<text x="551.9" y="142.4" font-size="5.45">17-Microglia-1</text>
<rect x="545.8" y="145.8" width="5.2" height="5.2" fill="#d8b1d8" stroke="#8a8a8a" stroke-width="0.35"/>
<text x="551.9" y="150.3" font-size="5.45">18-EN-IT-4</text>
<rect x="545.8" y="153.7" width="5.2" height="5.2" fill="#a383d6" stroke="#8a8a8a" stroke-width="0.35"/>
<text x="551.9" y="158.2" font-size="5.45">19- ENs-IT-5</text>
<rect x="545.8" y="161.6" width="5.2" height="5.2" fill="#6437a8" stroke="#8a8a8a" stroke-width="0.35"/>
<text x="551.9" y="166.2" font-size="5.45">20-EN-Newborn</text>
<rect x="545.8" y="169.5" width="5.2" height="5.2" fill="#8661a6" stroke="#8a8a8a" stroke-width="0.35"/>
<text x="551.9" y="174.1" font-size="5.45">21-IPCs</text>
<rect x="545.8" y="177.4" width="5.2" height="5.2" fill="#d0c796" stroke="#8a8a8a" stroke-width="0.35"/>
<text x="551.9" y="182.0" font-size="5.45">22-RG</text>
<rect x="545.8" y="185.4" width="5.2" height="5.2" fill="#eef07c" stroke="#8a8a8a" stroke-width="0.35"/>
<text x="551.9" y="189.9" font-size="5.45">23-Microglia-2</text>
<rect x="545.8" y="193.3" width="5.2" height="5.2" fill="#cf9f52" stroke="#8a8a8a" stroke-width="0.35"/>
<text x="551.9" y="197.8" font-size="5.45">24-Endothelial cells-1</text>
<rect x="545.8" y="201.2" width="5.2" height="5.2" fill="#bf5b22" stroke="#8a8a8a" stroke-width="0.35"/>
<text x="551.9" y="205.8" font-size="5.45">25-Endothelial cells-2</text>
<rect x="6.6" y="220.7" width="5.2" height="5.2" fill="#a6d3e8" stroke="#8a8a8a" stroke-width="0.35"/>
<text x="12.7" y="225.2" font-size="5.45">0-Newborn Immature neurons</text>
<rect x="6.6" y="228.6" width="5.2" height="5.2" fill="#6aa7d6" stroke="#8a8a8a" stroke-width="0.35"/>
<text x="12.7" y="233.2" font-size="5.45">1-EN-IT-1</text>
<rect x="6.6" y="236.5" width="5.2" height="5.2" fill="#3677b8" stroke="#8a8a8a" stroke-width="0.35"/>
<text x="12.7" y="241.1" font-size="5.45">2-EN-IT-2</text>
<rect x="6.6" y="244.4" width="5.2" height="5.2" fill="#4d9aa1" stroke="#8a8a8a" stroke-width="0.35"/>
<text x="12.7" y="248.9" font-size="5.45">3-Dox</text>
<rect x="6.6" y="252.3" width="5.2" height="5.2" fill="#8ed192" stroke="#8a8a8a" stroke-width="0.35"/>
<text x="12.7" y="256.9" font-size="5.45">4-oRG</text>
<rect x="6.6" y="260.2" width="5.2" height="5.2" fill="#93de72" stroke="#8a8a8a" stroke-width="0.35"/>
<text x="12.7" y="264.8" font-size="5.45">5-IN-MGE</text>
<rect x="6.6" y="268.1" width="5.2" height="5.2" fill="#58bd42" stroke="#8a8a8a" stroke-width="0.35"/>
<text x="12.7" y="272.7" font-size="5.45">6-Newborn Immature neurons</text>
<rect x="6.6" y="276.0" width="5.2" height="5.2" fill="#3b9e31" stroke="#8a8a8a" stroke-width="0.35"/>
<text x="12.7" y="280.6" font-size="5.45">7-IN-CGE</text>
<rect x="6.6" y="283.9" width="5.2" height="5.2" fill="#8b995b" stroke="#8a8a8a" stroke-width="0.35"/>
<text x="12.7" y="288.4" font-size="5.45">8-RG</text>
<rect x="6.6" y="291.8" width="5.2" height="5.2" fill="#f19e9f" stroke="#8a8a8a" stroke-width="0.35"/>
<text x="12.7" y="296.4" font-size="5.45">9-RG</text>
<rect x="6.6" y="299.7" width="5.2" height="5.2" fill="#e65a68" stroke="#8a8a8a" stroke-width="0.35"/>
<text x="12.7" y="304.2" font-size="5.45">10-Pericytes</text>
<rect x="6.6" y="307.6" width="5.2" height="5.2" fill="#e51f25" stroke="#8a8a8a" stroke-width="0.35"/>
<text x="12.7" y="312.2" font-size="5.45">11-ENs-Non IT</text>
<rect x="6.6" y="315.5" width="5.2" height="5.2" fill="#e5452e" stroke="#8a8a8a" stroke-width="0.35"/>
<text x="12.7" y="320.1" font-size="5.45">12-EN-IT-3</text>
<rect x="6.6" y="323.4" width="5.2" height="5.2" fill="#ef8a55" stroke="#8a8a8a" stroke-width="0.35"/>
<text x="12.7" y="327.9" font-size="5.45">13-Astrocytes</text>
<rect x="6.6" y="331.3" width="5.2" height="5.2" fill="#f3b262" stroke="#8a8a8a" stroke-width="0.35"/>
<text x="12.7" y="335.9" font-size="5.45">14-Cajal Retzius cells</text>
<rect x="6.6" y="339.2" width="5.2" height="5.2" fill="#f49d36" stroke="#8a8a8a" stroke-width="0.35"/>
<text x="12.7" y="343.8" font-size="5.45">15-Dox</text>
<rect x="6.6" y="347.1" width="5.2" height="5.2" fill="#f47f1f" stroke="#8a8a8a" stroke-width="0.35"/>
<text x="12.7" y="351.7" font-size="5.45">16-OPCs + IPC-Glia</text>
<rect x="6.6" y="355.0" width="5.2" height="5.2" fill="#e69068" stroke="#8a8a8a" stroke-width="0.35"/>
<text x="12.7" y="359.6" font-size="5.45">17-Microglia-1</text>
<rect x="6.6" y="362.9" width="5.2" height="5.2" fill="#d8b1d8" stroke="#8a8a8a" stroke-width="0.35"/>
<text x="12.7" y="367.4" font-size="5.45">18-EN-IT-4</text>
<rect x="6.6" y="370.8" width="5.2" height="5.2" fill="#a383d6" stroke="#8a8a8a" stroke-width="0.35"/>
<text x="12.7" y="375.3" font-size="5.45">19- ENs-IT-5</text>
<rect x="6.6" y="378.7" width="5.2" height="5.2" fill="#6437a8" stroke="#8a8a8a" stroke-width="0.35"/>
<text x="12.7" y="383.2" font-size="5.45">20-EN-Newborn</text>
<rect x="6.6" y="386.6" width="5.2" height="5.2" fill="#8661a6" stroke="#8a8a8a" stroke-width="0.35"/>
<text x="12.7" y="391.2" font-size="5.45">21-IPCs</text>
<rect x="6.6" y="394.5" width="5.2" height="5.2" fill="#d0c796" stroke="#8a8a8a" stroke-width="0.35"/>
<text x="12.7" y="399.1" font-size="5.45">22-RG</text>
<rect x="6.6" y="402.4" width="5.2" height="5.2" fill="#eef07c" stroke="#8a8a8a" stroke-width="0.35"/>
<text x="12.7" y="406.9" font-size="5.45">23-Microglia-2</text>
<rect x="6.6" y="410.3" width="5.2" height="5.2" fill="#cf9f52" stroke="#8a8a8a" stroke-width="0.35"/>
<text x="12.7" y="414.9" font-size="5.45">24-Endothelial cells-1</text>
<rect x="6.6" y="418.2" width="5.2" height="5.2" fill="#bf5b22" stroke="#8a8a8a" stroke-width="0.35"/>
<text x="12.7" y="422.8" font-size="5.45">25-Endothelial cells-2</text>
<text x="26.9" y="248.6" font-size="5.45">Unknown-1</text>
<text x="29.9" y="342.3" font-size="5.45">Unknown-2</text>
<circle cx="133.0" cy="223.3" r="1.68" fill="#f08d72"/>
<circle cx="141.1" cy="223.3" r="2.23" fill="#ea5b43"/>
<circle cx="149.2" cy="223.3" r="1.68" fill="#f08d72"/>
<circle cx="157.4" cy="223.3" r="1.35" fill="#f6b7a2"/>
<circle cx="165.5" cy="223.3" r="3.66" fill="#a7191c"/>
<circle cx="214.2" cy="223.3" r="0.55" fill="#f6b7a2"/>
<circle cx="133.0" cy="231.2" r="1.35" fill="#f6b7a2"/>
<circle cx="141.1" cy="231.2" r="2.01" fill="#ea5b43"/>
<circle cx="149.2" cy="231.2" r="1.35" fill="#f08d72"/>
<circle cx="165.5" cy="231.2" r="3.88" fill="#6a0910"/>
<circle cx="214.2" cy="231.2" r="0.55" fill="#f6b7a2"/>
<circle cx="133.0" cy="239.1" r="1.57" fill="#f6b7a2"/>
<circle cx="141.1" cy="239.1" r="2.45" fill="#ea5b43"/>
<circle cx="149.2" cy="239.1" r="1.90" fill="#f08d72"/>
<circle cx="157.4" cy="239.1" r="1.35" fill="#f6b7a2"/>
<circle cx="165.5" cy="239.1" r="3.88" fill="#a7191c"/>
<circle cx="214.2" cy="239.1" r="0.55" fill="#f6b7a2"/>
<circle cx="92.4" cy="247.0" r="1.35" fill="#f6b7a2"/>
<circle cx="100.5" cy="247.0" r="1.02" fill="#f6b7a2"/>
<circle cx="124.9" cy="247.0" r="0.55" fill="#f6b7a2"/>
<circle cx="133.0" cy="247.0" r="2.45" fill="#f08d72"/>
<circle cx="141.1" cy="247.0" r="2.78" fill="#f08d72"/>
<circle cx="149.2" cy="247.0" r="2.12" fill="#f08d72"/>
<circle cx="157.4" cy="247.0" r="3.00" fill="#ea5b43"/>
<circle cx="165.5" cy="247.0" r="3.66" fill="#d42d25"/>
<circle cx="173.6" cy="247.0" r="1.08" fill="#f6b7a2"/>
<circle cx="181.7" cy="247.0" r="1.62" fill="#f08d72"/>
<circle cx="189.8" cy="247.0" r="0.50" fill="#fbe4dc"/>
<circle cx="214.2" cy="247.0" r="1.08" fill="#f6b7a2"/>
<circle cx="92.4" cy="254.9" r="2.45" fill="#ea5b43"/>
<circle cx="100.5" cy="254.9" r="2.18" fill="#f08d72"/>
<circle cx="108.6" cy="254.9" r="2.78" fill="#ea5b43"/>
<circle cx="124.9" cy="254.9" r="2.23" fill="#ea5b43"/>
<circle cx="133.0" cy="254.9" r="1.90" fill="#f6b7a2"/>
<circle cx="165.5" cy="254.9" r="1.35" fill="#f6b7a2"/>
<circle cx="198.0" cy="254.9" r="1.46" fill="#f08d72"/>
<circle cx="206.1" cy="254.9" r="2.78" fill="#d42d25"/>
<circle cx="214.2" cy="254.9" r="3.55" fill="#a7191c"/>
<circle cx="92.4" cy="262.8" r="1.08" fill="#f6b7a2"/>
<circle cx="133.0" cy="262.8" r="1.35" fill="#f6b7a2"/>
<circle cx="141.1" cy="262.8" r="1.08" fill="#f6b7a2"/>
<circle cx="157.4" cy="262.8" r="3.00" fill="#a7191c"/>
<circle cx="173.6" cy="262.8" r="1.08" fill="#f6b7a2"/>
<circle cx="181.7" cy="262.8" r="2.45" fill="#d42d25"/>
<circle cx="100.5" cy="270.7" r="0.55" fill="#fbe4dc"/>
<circle cx="133.0" cy="270.7" r="2.45" fill="#f08d72"/>
<circle cx="141.1" cy="270.7" r="3.33" fill="#ea5b43"/>
<circle cx="149.2" cy="270.7" r="2.67" fill="#f08d72"/>
<circle cx="157.4" cy="270.7" r="1.90" fill="#f6b7a2"/>
<circle cx="165.5" cy="270.7" r="3.88" fill="#a7191c"/>
<circle cx="214.2" cy="270.7" r="1.08" fill="#f6b7a2"/>
<circle cx="92.4" cy="278.6" r="1.13" fill="#f6b7a2"/>
<circle cx="100.5" cy="278.6" r="0.50" fill="#fbe4dc"/>
<circle cx="133.0" cy="278.6" r="1.08" fill="#f6b7a2"/>
<circle cx="157.4" cy="278.6" r="2.23" fill="#ea5b43"/>
<circle cx="173.6" cy="278.6" r="0.50" fill="#f6b7a2"/>
<circle cx="189.8" cy="278.6" r="0.55" fill="#f6b7a2"/>
<circle cx="92.4" cy="286.5" r="2.67" fill="#f08d72"/>
<circle cx="100.5" cy="286.5" r="2.67" fill="#f08d72"/>
<circle cx="108.6" cy="286.5" r="3.33" fill="#f08d72"/>
<circle cx="124.9" cy="286.5" r="2.67" fill="#f08d72"/>
<circle cx="133.0" cy="286.5" r="2.67" fill="#f08d72"/>
<circle cx="141.1" cy="286.5" r="2.78" fill="#f08d72"/>
<circle cx="149.2" cy="286.5" r="1.68" fill="#f6b7a2"/>
<circle cx="157.4" cy="286.5" r="2.23" fill="#f6b7a2"/>
<circle cx="165.5" cy="286.5" r="3.33" fill="#ea5b43"/>
<circle cx="198.0" cy="286.5" r="1.62" fill="#f08d72"/>
<circle cx="206.1" cy="286.5" r="3.00" fill="#d42d25"/>
<circle cx="214.2" cy="286.5" r="3.55" fill="#d42d25"/>
<circle cx="92.4" cy="294.4" r="2.73" fill="#f08d72"/>
<circle cx="100.5" cy="294.4" r="2.45" fill="#f08d72"/>
<circle cx="108.6" cy="294.4" r="2.23" fill="#f6b7a2"/>
<circle cx="124.9" cy="294.4" r="2.73" fill="#f08d72"/>
<circle cx="133.0" cy="294.4" r="3.55" fill="#f08d72"/>
<circle cx="141.1" cy="294.4" r="2.78" fill="#f08d72"/>
<circle cx="149.2" cy="294.4" r="2.12" fill="#f6b7a2"/>
<circle cx="157.4" cy="294.4" r="2.67" fill="#f08d72"/>
<circle cx="165.5" cy="294.4" r="3.55" fill="#ea5b43"/>
<circle cx="173.6" cy="294.4" r="0.50" fill="#f6b7a2"/>
<circle cx="181.7" cy="294.4" r="1.13" fill="#f6b7a2"/>
<circle cx="198.0" cy="294.4" r="1.08" fill="#f6b7a2"/>
<circle cx="206.1" cy="294.4" r="2.23" fill="#f08d72"/>
<circle cx="214.2" cy="294.4" r="3.00" fill="#ea5b43"/>
<circle cx="222.3" cy="294.4" r="0.50" fill="#f6b7a2"/>
<circle cx="100.5" cy="302.3" r="1.13" fill="#f08d72"/>
<circle cx="116.8" cy="302.3" r="1.35" fill="#ea5b43"/>
<circle cx="238.6" cy="302.3" r="0.50" fill="#f6b7a2"/>
<circle cx="100.5" cy="310.2" r="2.67" fill="#d42d25"/>
<circle cx="133.0" cy="310.2" r="1.08" fill="#f6b7a2"/>
<circle cx="141.1" cy="310.2" r="3.77" fill="#6a0910"/>
<circle cx="165.5" cy="310.2" r="1.68" fill="#f6b7a2"/>
<circle cx="108.6" cy="318.1" r="0.55" fill="#fbe4dc"/>
<circle cx="133.0" cy="318.1" r="1.68" fill="#f08d72"/>
<circle cx="141.1" cy="318.1" r="3.00" fill="#ea5b43"/>
<circle cx="149.2" cy="318.1" r="1.08" fill="#f6b7a2"/>
<circle cx="165.5" cy="318.1" r="3.88" fill="#a7191c"/>
<circle cx="92.4" cy="326.0" r="2.56" fill="#f08d72"/>
<circle cx="100.5" cy="326.0" r="0.55" fill="#f6b7a2"/>
<circle cx="108.6" cy="326.0" r="3.00" fill="#ea5b43"/>
<circle cx="124.9" cy="326.0" r="3.11" fill="#a7191c"/>
<circle cx="133.0" cy="326.0" r="1.35" fill="#f6b7a2"/>
<circle cx="165.5" cy="326.0" r="1.35" fill="#f6b7a2"/>
<circle cx="206.1" cy="326.0" r="3.00" fill="#a7191c"/>
<circle cx="214.2" cy="326.0" r="3.55" fill="#d42d25"/>
<circle cx="133.0" cy="333.9" r="0.55" fill="#f6b7a2"/>
<circle cx="141.1" cy="333.9" r="2.78" fill="#d42d25"/>
<circle cx="165.5" cy="333.9" r="0.55" fill="#f6b7a2"/>
<circle cx="92.4" cy="341.8" r="0.55" fill="#f6b7a2"/>
<circle cx="141.1" cy="341.8" r="1.68" fill="#f08d72"/>
<circle cx="149.2" cy="341.8" r="1.08" fill="#f6b7a2"/>
<circle cx="157.4" cy="341.8" r="1.08" fill="#f6b7a2"/>
<circle cx="165.5" cy="341.8" r="3.55" fill="#a7191c"/>
<circle cx="214.2" cy="341.8" r="1.08" fill="#f6b7a2"/>
<circle cx="92.4" cy="349.7" r="3.22" fill="#ea5b43"/>
<circle cx="100.5" cy="349.7" r="1.13" fill="#f6b7a2"/>
<circle cx="108.6" cy="349.7" r="0.55" fill="#f6b7a2"/>
<circle cx="124.9" cy="349.7" r="2.23" fill="#f08d72"/>
<circle cx="133.0" cy="349.7" r="2.78" fill="#f08d72"/>
<circle cx="141.1" cy="349.7" r="2.23" fill="#f6b7a2"/>
<circle cx="149.2" cy="349.7" r="1.90" fill="#f6b7a2"/>
<circle cx="157.4" cy="349.7" r="2.23" fill="#f6b7a2"/>
<circle cx="165.5" cy="349.7" r="2.78" fill="#f08d72"/>
<circle cx="181.7" cy="349.7" r="0.55" fill="#f6b7a2"/>
<circle cx="206.1" cy="349.7" r="0.55" fill="#f6b7a2"/>
<circle cx="214.2" cy="349.7" r="2.01" fill="#f6b7a2"/>
<circle cx="222.3" cy="349.7" r="1.68" fill="#ea5b43"/>
<circle cx="238.6" cy="349.7" r="2.23" fill="#ea5b43"/>
<circle cx="108.6" cy="357.6" r="1.90" fill="#f08d72"/>
<circle cx="133.0" cy="357.6" r="1.13" fill="#f6b7a2"/>
<circle cx="214.2" cy="357.6" r="3.22" fill="#ea5b43"/>
<circle cx="230.4" cy="357.6" r="2.45" fill="#a7191c"/>
<circle cx="238.6" cy="357.6" r="1.90" fill="#ea5b43"/>
<circle cx="133.0" cy="365.5" r="0.55" fill="#f6b7a2"/>
<circle cx="141.1" cy="365.5" r="1.35" fill="#f08d72"/>
<circle cx="149.2" cy="365.5" r="0.55" fill="#f6b7a2"/>
<circle cx="157.4" cy="365.5" r="0.55" fill="#f6b7a2"/>
<circle cx="165.5" cy="365.5" r="3.00" fill="#ea5b43"/>
<circle cx="133.0" cy="373.4" r="0.55" fill="#f6b7a2"/>
<circle cx="141.1" cy="373.4" r="2.23" fill="#f08d72"/>
<circle cx="149.2" cy="373.4" r="1.90" fill="#f08d72"/>
<circle cx="157.4" cy="373.4" r="2.45" fill="#ea5b43"/>
<circle cx="165.5" cy="373.4" r="3.00" fill="#ea5b43"/>
<circle cx="133.0" cy="381.3" r="1.68" fill="#f6b7a2"/>
<circle cx="141.1" cy="381.3" r="2.23" fill="#f08d72"/>
<circle cx="149.2" cy="381.3" r="1.90" fill="#f08d72"/>
<circle cx="157.4" cy="381.3" r="1.13" fill="#f6b7a2"/>
<circle cx="165.5" cy="381.3" r="3.55" fill="#d42d25"/>
<circle cx="100.5" cy="389.2" r="1.68" fill="#f08d72"/>
<circle cx="116.8" cy="389.2" r="1.90" fill="#d42d25"/>
<circle cx="133.0" cy="389.2" r="1.68" fill="#f08d72"/>
<circle cx="141.1" cy="389.2" r="1.90" fill="#f08d72"/>
<circle cx="149.2" cy="389.2" r="1.68" fill="#f08d72"/>
<circle cx="157.4" cy="389.2" r="2.23" fill="#ea5b43"/>
<circle cx="165.5" cy="389.2" r="1.35" fill="#f6b7a2"/>
<circle cx="214.2" cy="389.2" r="1.68" fill="#f08d72"/>
<circle cx="100.5" cy="397.1" r="2.45" fill="#d42d25"/>
<circle cx="108.6" cy="397.1" r="1.35" fill="#f6b7a2"/>
<circle cx="133.0" cy="397.1" r="1.13" fill="#f6b7a2"/>
<circle cx="141.1" cy="397.1" r="3.00" fill="#d42d25"/>
<circle cx="165.5" cy="397.1" r="0.55" fill="#f6b7a2"/>
<circle cx="214.2" cy="397.1" r="0.55" fill="#f6b7a2"/>
<circle cx="238.6" cy="397.1" r="0.55" fill="#f6b7a2"/>
<circle cx="92.4" cy="405.0" r="1.90" fill="#f6b7a2"/>
<circle cx="100.5" cy="405.0" r="1.90" fill="#f6b7a2"/>
<circle cx="108.6" cy="405.0" r="2.45" fill="#f6b7a2"/>
<circle cx="124.9" cy="405.0" r="1.90" fill="#f6b7a2"/>
<circle cx="133.0" cy="405.0" r="3.33" fill="#f08d72"/>
<circle cx="141.1" cy="405.0" r="2.23" fill="#f6b7a2"/>
<circle cx="149.2" cy="405.0" r="1.35" fill="#f6b7a2"/>
<circle cx="157.4" cy="405.0" r="2.45" fill="#f6b7a2"/>
<circle cx="165.5" cy="405.0" r="3.55" fill="#f08d72"/>
<circle cx="181.7" cy="405.0" r="1.35" fill="#f6b7a2"/>
<circle cx="206.1" cy="405.0" r="1.13" fill="#f6b7a2"/>
<circle cx="214.2" cy="405.0" r="3.55" fill="#ea5b43"/>
<circle cx="230.4" cy="405.0" r="2.45" fill="#d42d25"/>
<circle cx="238.6" cy="405.0" r="2.78" fill="#ea5b43"/>
<circle cx="133.0" cy="412.9" r="0.50" fill="#fbe4dc"/>
<circle cx="165.5" cy="412.9" r="0.50" fill="#fbe4dc"/>
<circle cx="108.6" cy="420.8" r="2.78" fill="#f08d72"/>
<circle cx="124.9" cy="420.8" r="2.23" fill="#f08d72"/>
<circle cx="133.0" cy="420.8" r="1.68" fill="#f6b7a2"/>
<circle cx="165.5" cy="420.8" r="1.68" fill="#f6b7a2"/>
<circle cx="214.2" cy="420.8" r="2.78" fill="#f08d72"/>
<path d="M92.4 223.3h0M100.5 223.3h0M108.6 223.3h0M116.8 223.3h0M124.9 223.3h0M173.6 223.3h0M181.7 223.3h0M189.8 223.3h0M198.0 223.3h0M206.1 223.3h0M222.3 223.3h0M230.4 223.3h0M238.6 223.3h0M92.4 231.2h0M100.5 231.2h0M108.6 231.2h0M116.8 231.2h0M124.9 231.2h0M157.4 231.2h0M173.6 231.2h0M181.7 231.2h0M189.8 231.2h0M198.0 231.2h0M206.1 231.2h0M222.3 231.2h0M230.4 231.2h0M238.6 231.2h0M92.4 239.1h0M100.5 239.1h0M108.6 239.1h0M116.8 239.1h0M124.9 239.1h0M173.6 239.1h0M181.7 239.1h0M189.8 239.1h0M198.0 239.1h0M206.1 239.1h0M222.3 239.1h0M230.4 239.1h0M238.6 239.1h0M108.6 247.0h0M116.8 247.0h0M198.0 247.0h0M206.1 247.0h0M222.3 247.0h0M230.4 247.0h0M238.6 247.0h0M116.8 254.9h0M141.1 254.9h0M149.2 254.9h0M157.4 254.9h0M173.6 254.9h0M181.7 254.9h0M189.8 254.9h0M222.3 254.9h0M230.4 254.9h0M238.6 254.9h0M100.5 262.8h0M108.6 262.8h0M116.8 262.8h0M124.9 262.8h0M149.2 262.8h0M165.5 262.8h0M189.8 262.8h0M198.0 262.8h0M206.1 262.8h0M214.2 262.8h0M222.3 262.8h0M230.4 262.8h0M238.6 262.8h0M92.4 270.7h0M108.6 270.7h0M116.8 270.7h0M124.9 270.7h0M173.6 270.7h0M181.7 270.7h0M189.8 270.7h0M198.0 270.7h0M206.1 270.7h0M222.3 270.7h0M230.4 270.7h0M238.6 270.7h0M108.6 278.6h0M116.8 278.6h0M124.9 278.6h0M141.1 278.6h0M149.2 278.6h0M165.5 278.6h0M181.7 278.6h0M198.0 278.6h0M206.1 278.6h0M214.2 278.6h0M222.3 278.6h0M230.4 278.6h0M238.6 278.6h0M116.8 286.5h0M173.6 286.5h0M181.7 286.5h0M189.8 286.5h0M222.3 286.5h0M230.4 286.5h0M238.6 286.5h0M116.8 294.4h0M189.8 294.4h0M230.4 294.4h0M238.6 294.4h0M92.4 302.3h0M108.6 302.3h0M124.9 302.3h0M133.0 302.3h0M141.1 302.3h0M149.2 302.3h0M157.4 302.3h0M165.5 302.3h0M173.6 302.3h0M181.7 302.3h0M189.8 302.3h0M198.0 302.3h0M206.1 302.3h0M214.2 302.3h0M222.3 302.3h0M230.4 302.3h0M92.4 310.2h0M108.6 310.2h0M116.8 310.2h0M124.9 310.2h0M149.2 310.2h0M157.4 310.2h0M173.6 310.2h0M181.7 310.2h0M189.8 310.2h0M198.0 310.2h0M206.1 310.2h0M214.2 310.2h0M222.3 310.2h0M230.4 310.2h0M238.6 310.2h0M92.4 318.1h0M100.5 318.1h0M116.8 318.1h0M124.9 318.1h0M157.4 318.1h0M173.6 318.1h0M181.7 318.1h0M189.8 318.1h0M198.0 318.1h0M206.1 318.1h0M214.2 318.1h0M222.3 318.1h0M230.4 318.1h0M238.6 318.1h0M116.8 326.0h0M141.1 326.0h0M149.2 326.0h0M157.4 326.0h0M173.6 326.0h0M181.7 326.0h0M189.8 326.0h0M198.0 326.0h0M222.3 326.0h0M230.4 326.0h0M238.6 326.0h0M92.4 333.9h0M100.5 333.9h0M108.6 333.9h0M116.8 333.9h0M124.9 333.9h0M149.2 333.9h0M157.4 333.9h0M173.6 333.9h0M181.7 333.9h0M189.8 333.9h0M198.0 333.9h0M206.1 333.9h0M214.2 333.9h0M222.3 333.9h0M230.4 333.9h0M238.6 333.9h0M100.5 341.8h0M108.6 341.8h0M116.8 341.8h0M124.9 341.8h0M133.0 341.8h0M173.6 341.8h0M181.7 341.8h0M189.8 341.8h0M198.0 341.8h0M206.1 341.8h0M222.3 341.8h0M230.4 341.8h0M238.6 341.8h0M116.8 349.7h0M173.6 349.7h0M189.8 349.7h0M198.0 349.7h0M230.4 349.7h0M92.4 357.6h0M100.5 357.6h0M116.8 357.6h0M124.9 357.6h0M141.1 357.6h0M149.2 357.6h0M157.4 357.6h0M165.5 357.6h0M173.6 357.6h0M181.7 357.6h0M189.8 357.6h0M198.0 357.6h0M206.1 357.6h0M222.3 357.6h0M92.4 365.5h0M100.5 365.5h0M108.6 365.5h0M116.8 365.5h0M124.9 365.5h0M173.6 365.5h0M181.7 365.5h0M189.8 365.5h0M198.0 365.5h0M206.1 365.5h0M214.2 365.5h0M222.3 365.5h0M230.4 365.5h0M238.6 365.5h0M92.4 373.4h0M100.5 373.4h0M108.6 373.4h0M116.8 373.4h0M124.9 373.4h0M173.6 373.4h0M181.7 373.4h0M189.8 373.4h0M198.0 373.4h0M206.1 373.4h0M214.2 373.4h0M222.3 373.4h0M230.4 373.4h0M238.6 373.4h0M92.4 381.3h0M100.5 381.3h0M108.6 381.3h0M116.8 381.3h0M124.9 381.3h0M173.6 381.3h0M181.7 381.3h0M189.8 381.3h0M198.0 381.3h0M206.1 381.3h0M214.2 381.3h0M222.3 381.3h0M230.4 381.3h0M238.6 381.3h0M92.4 389.2h0M108.6 389.2h0M124.9 389.2h0M173.6 389.2h0M181.7 389.2h0M189.8 389.2h0M198.0 389.2h0M206.1 389.2h0M222.3 389.2h0M230.4 389.2h0M238.6 389.2h0M92.4 397.1h0M116.8 397.1h0M124.9 397.1h0M149.2 397.1h0M157.4 397.1h0M173.6 397.1h0M181.7 397.1h0M189.8 397.1h0M198.0 397.1h0M206.1 397.1h0M222.3 397.1h0M230.4 397.1h0M116.8 405.0h0M173.6 405.0h0M189.8 405.0h0M198.0 405.0h0M222.3 405.0h0M92.4 412.9h0M100.5 412.9h0M108.6 412.9h0M116.8 412.9h0M124.9 412.9h0M141.1 412.9h0M149.2 412.9h0M157.4 412.9h0M173.6 412.9h0M181.7 412.9h0M189.8 412.9h0M198.0 412.9h0M206.1 412.9h0M214.2 412.9h0M222.3 412.9h0M230.4 412.9h0M238.6 412.9h0M92.4 420.8h0M100.5 420.8h0M116.8 420.8h0M141.1 420.8h0M149.2 420.8h0M157.4 420.8h0M173.6 420.8h0M181.7 420.8h0M189.8 420.8h0M198.0 420.8h0M206.1 420.8h0M222.3 420.8h0M230.4 420.8h0M238.6 420.8h0" stroke="#f9e2da" stroke-width="0.9" stroke-linecap="round"/>
<text transform="translate(95.6 425.9) rotate(-90)" font-size="5.4" text-anchor="end">SOX2</text>
<text transform="translate(103.7 425.9) rotate(-90)" font-size="5.4" text-anchor="end">PAX6</text>
<text transform="translate(111.8 425.9) rotate(-90)" font-size="5.4" text-anchor="end">VIM</text>
<text transform="translate(120.0 425.9) rotate(-90)" font-size="5.4" text-anchor="end">EOMES</text>
<text transform="translate(128.1 425.9) rotate(-90)" font-size="5.4" text-anchor="end">NES</text>
<text transform="translate(136.2 425.9) rotate(-90)" font-size="5.4" text-anchor="end">TUBB</text>
<text transform="translate(144.3 425.9) rotate(-90)" font-size="5.4" text-anchor="end">RBFOX3</text>
<text transform="translate(152.4 425.9) rotate(-90)" font-size="5.4" text-anchor="end">TBR1</text>
<text transform="translate(160.6 425.9) rotate(-90)" font-size="5.4" text-anchor="end">BCL11B</text>
<text transform="translate(168.7 425.9) rotate(-90)" font-size="5.4" text-anchor="end">SATB2</text>
<text transform="translate(176.8 425.9) rotate(-90)" font-size="5.4" text-anchor="end">DLX5</text>
<text transform="translate(184.9 425.9) rotate(-90)" font-size="5.4" text-anchor="end">LHX6</text>
<text transform="translate(193.0 425.9) rotate(-90)" font-size="5.4" text-anchor="end">SCGN</text>
<text transform="translate(201.2 425.9) rotate(-90)" font-size="5.4" text-anchor="end">HOPX</text>
<text transform="translate(209.3 425.9) rotate(-90)" font-size="5.4" text-anchor="end">GFAP</text>
<text transform="translate(217.4 425.9) rotate(-90)" font-size="5.4" text-anchor="end">SLC1A3</text>
<text transform="translate(225.5 425.9) rotate(-90)" font-size="5.4" text-anchor="end">OLIG2</text>
<text transform="translate(233.6 425.9) rotate(-90)" font-size="5.4" text-anchor="end">PECAM1</text>
<text transform="translate(241.8 425.9) rotate(-90)" font-size="5.4" text-anchor="end">MBP</text>
<defs><linearGradient id="cb" x1="0" x2="1"><stop offset="0" stop-color="#fff5f0"/><stop offset="0.35" stop-color="#f8a488"/><stop offset="0.65" stop-color="#e2281f"/><stop offset="1" stop-color="#67000d"/></linearGradient>
<linearGradient id="adj" x1="0" y1="0" x2="0" y2="1"><stop offset="0" stop-color="#f5f55a"/><stop offset="0.5" stop-color="#f0a030"/><stop offset="1" stop-color="#f01818"/></linearGradient></defs>
<rect x="43.1" y="426.5" width="46" height="3" fill="url(#cb)"/>
<text x="43.4" y="433.6" font-size="4.2">0.0</text>
<text x="84.4" y="433.6" font-size="4.2">1.8</text>
<circle cx="46.3" cy="440.2" r="0.4" fill="#231f20"/>
<circle cx="54.7" cy="440.2" r="0.7" fill="none" stroke="#231f20" stroke-width="0.35"/>
<circle cx="63" cy="440.2" r="1.2" fill="none" stroke="#231f20" stroke-width="0.35"/>
<circle cx="71.4" cy="440.2" r="1.7" fill="none" stroke="#231f20" stroke-width="0.35"/>
<circle cx="79.8" cy="440.2" r="2.3" fill="none" stroke="#231f20" stroke-width="0.35"/>
<text x="46.3" y="446.2" font-size="4.2" text-anchor="middle">0</text>
<text x="54.7" y="446.2" font-size="4.2" text-anchor="middle">25</text>
<text x="63.0" y="446.2" font-size="4.2" text-anchor="middle">50</text>
<text x="71.4" y="446.2" font-size="4.2" text-anchor="middle">75</text>
<text x="79.8" y="446.2" font-size="4.2" text-anchor="middle">100</text>
<text x="372.0" y="239.8" font-size="7.7" text-anchor="middle" font-weight="bold" font-style="italic" fill="#111">GW15-16_Cluster 9&#8722;RG_Nicotine_vs_UT</text>
<rect x="276.3" y="242.8" width="189.3" height="175.2" fill="none" stroke="#5c5c5c" stroke-width="0.85"/>
<line x1="274.1" y1="410.1" x2="276.3" y2="410.1" stroke="#333" stroke-width="0.5"/>
<text x="273.3" y="412.5" font-size="6.8" text-anchor="end" fill="#4d4d4d" stroke="#4d4d4d" stroke-width="0.12">0</text>
<line x1="274.1" y1="362.9" x2="276.3" y2="362.9" stroke="#333" stroke-width="0.5"/>
<text x="273.3" y="365.3" font-size="6.8" text-anchor="end" fill="#4d4d4d" stroke="#4d4d4d" stroke-width="0.12">2</text>
<line x1="274.1" y1="315.7" x2="276.3" y2="315.7" stroke="#333" stroke-width="0.5"/>
<text x="273.3" y="318.1" font-size="6.8" text-anchor="end" fill="#4d4d4d" stroke="#4d4d4d" stroke-width="0.12">4</text>
<line x1="274.1" y1="268.5" x2="276.3" y2="268.5" stroke="#333" stroke-width="0.5"/>
<text x="273.3" y="270.9" font-size="6.8" text-anchor="end" fill="#4d4d4d" stroke="#4d4d4d" stroke-width="0.12">6</text>
<line x1="282.3" y1="418.0" x2="282.3" y2="420.2" stroke="#333" stroke-width="0.5"/>
<text x="282.3" y="426.4" font-size="6.8" text-anchor="middle" fill="#4d4d4d" stroke="#4d4d4d" stroke-width="0.12">&#8722;1.0</text>
<line x1="337.0" y1="418.0" x2="337.0" y2="420.2" stroke="#333" stroke-width="0.5"/>
<text x="337.0" y="426.4" font-size="6.8" text-anchor="middle" fill="#4d4d4d" stroke="#4d4d4d" stroke-width="0.12">&#8722;0.5</text>
<line x1="391.7" y1="418.0" x2="391.7" y2="420.2" stroke="#333" stroke-width="0.5"/>
<text x="391.7" y="426.4" font-size="6.8" text-anchor="middle" fill="#4d4d4d" stroke="#4d4d4d" stroke-width="0.12">0.0</text>
<line x1="446.9" y1="418.0" x2="446.9" y2="420.2" stroke="#333" stroke-width="0.5"/>
<text x="446.9" y="426.4" font-size="6.8" text-anchor="middle" fill="#4d4d4d" stroke="#4d4d4d" stroke-width="0.12">0.5</text>
<text x="372.5" y="434.4" font-size="7.7" text-anchor="middle" fill="#1a1a1a" stroke="#1a1a1a" stroke-width="0.12">Log2FoldChange</text>
<text transform="translate(269.0 329.6) rotate(-90)" font-size="7.8" text-anchor="middle" fill="#1a1a1a" stroke="#1a1a1a" stroke-width="0.12">-log10FDR</text>
<line x1="337.3" y1="410.1" x2="445.5" y2="410.1" stroke="#909090" stroke-width="2.3" stroke-linecap="round"/>
<path d="M330.1 410.1h0M328.3 410.1h0M327.5 410.1h0M336.5 410.1h0M332.4 410.1h0M333.8 410.1h0M446.6 410.1h0M310.5 399.0h0M312.0 401.5h0M314.5 403.0h0M316.8 405.0h0M318.9 384.2h0M332.0 404.0h0M333.5 402.0h0M349.5 386.6h0M343.0 391.1h0M351.3 401.6h0M354.1 388.0h0M345.6 386.7h0M341.9 397.6h0M338.5 390.6h0M349.7 398.5h0M342.0 399.6h0M352.6 386.1h0M352.5 402.1h0M344.1 389.6h0M355.2 393.7h0M339.7 388.2h0M353.3 399.9h0M352.5 402.8h0M347.7 408.4h0M344.8 398.7h0M352.9 400.2h0M353.5 399.3h0M350.7 387.1h0M342.1 392.7h0M339.4 391.4h0M339.8 392.4h0M349.4 394.4h0M344.7 390.8h0M342.8 407.5h0M349.7 400.0h0M341.1 402.8h0M340.9 394.7h0M355.8 400.7h0M348.0 401.7h0M353.2 403.8h0M342.1 386.7h0M343.7 392.2h0M341.8 407.7h0M353.8 393.2h0M349.8 395.1h0M354.5 396.6h0M342.8 391.7h0M401.7 398.4h0M403.4 390.2h0M412.4 401.8h0M408.7 391.4h0M401.3 389.1h0M407.3 403.8h0M410.3 400.4h0M408.4 380.2h0M415.5 402.7h0M407.4 377.4h0M409.7 391.4h0M414.1 394.9h0M409.6 394.1h0M407.4 375.7h0M402.0 407.0h0M415.3 384.4h0M416.1 392.3h0M402.8 403.9h0M410.9 406.6h0M412.5 377.3h0M411.6 401.5h0M416.3 385.6h0M410.0 398.5h0M403.8 403.7h0M414.3 375.8h0M411.1 386.9h0M404.2 395.2h0M417.5 393.3h0M402.9 391.3h0M414.2 407.4h0M413.2 375.4h0M417.4 395.1h0M402.4 378.5h0M402.5 397.3h0M403.6 402.3h0M402.9 392.7h0M408.5 375.3h0M401.0 405.6h0M417.6 378.4h0M413.5 408.6h0M416.4 405.0h0M406.7 399.1h0M409.5 406.8h0M413.0 403.5h0M415.6 387.5h0M413.1 377.3h0M404.5 406.8h0M407.9 398.0h0M410.8 383.1h0M411.0 405.9h0M406.6 386.1h0M404.2 380.2h0M415.1 398.7h0M417.4 397.4h0M417.3 381.8h0M404.2 381.6h0M407.5 408.6h0M404.8 390.0h0M402.0 375.0h0M410.3 395.5h0M409.7 406.0h0M415.6 407.3h0M410.8 383.2h0M403.2 400.7h0M403.6 374.2h0M412.9 378.4h0M411.6 381.0h0M408.2 374.5h0M407.4 385.5h0M405.4 378.7h0M420.5 400.0h0M423.0 398.0h0M425.0 399.5h0M418.0 392.0h0M396.0 406.0h0M399.0 403.0h0" stroke="#9a9a9a" stroke-width="2.60" stroke-linecap="round" fill="none"/>
<path d="M322.4 251.1h0M321.2 279.2h0M327.8 290.3h0M335.3 308.7h0M338.0 308.7h0M326.0 318.3h0M336.5 320.5h0M322.8 324.7h0M333.0 325.5h0M334.8 331.5h0M332.5 340.2h0M343.7 342.5h0M328.9 344.8h0M332.9 343.8h0M347.5 353.5h0M341.9 357.1h0M345.5 356.8h0M329.9 359.9h0M336.3 359.9h0M337.0 364.7h0M340.0 363.5h0M342.9 363.7h0M347.7 366.8h0M340.9 372.4h0M341.9 373.4h0M340.9 377.0h0M343.7 377.8h0M350.3 378.5h0M338.8 379.0h0M338.3 383.1h0M284.8 361.0h0M339.5 375.0h0M341.0 370.5h0" stroke="#2f74b8" stroke-width="2.30" stroke-linecap="round" fill="none"/>
<text x="320.5" y="255.2" font-size="3.6" text-anchor="middle" fill="#2f74b8">LRRC4</text>
<text x="327.5" y="276.6" font-size="3.6" text-anchor="middle" fill="#2f74b8">TMEM059</text>
<text x="325.2" y="294.3" font-size="3.6" text-anchor="middle" fill="#2f74b8">CELSR3</text>
<text x="327.4" y="310.6" font-size="3.6" text-anchor="middle" fill="#2f74b8">L1CAM</text>
<text x="343.8" y="305.6" font-size="3.6" text-anchor="middle" fill="#2f74b8">FLNA</text>
<text x="320.5" y="315.4" font-size="3.6" text-anchor="middle" fill="#2f74b8">B4GALNT1</text>
<text x="341.5" y="317.9" font-size="3.6" text-anchor="middle" fill="#2f74b8">CIC</text>
<text x="313.5" y="321.9" font-size="3.6" text-anchor="middle" fill="#2f74b8">FLNDC3A</text>
<text x="341.6" y="324.0" font-size="3.6" text-anchor="middle" fill="#2f74b8">AGRN</text>
<text x="341.8" y="329.9" font-size="3.6" text-anchor="middle" fill="#2f74b8">CKD</text>
<text x="330.7" y="337.7" font-size="3.6" text-anchor="middle" fill="#2f74b8">RAB11B</text>
<text x="348.5" y="339.7" font-size="3.6" text-anchor="middle" fill="#2f74b8">FNDN</text>
<text x="325.0" y="348.9" font-size="3.6" text-anchor="middle" fill="#2f74b8">NACAD</text>
<text x="336.8" y="347.9" font-size="3.6" text-anchor="middle" fill="#2f74b8">DDR1</text>
<text x="352.6" y="349.4" font-size="3.6" text-anchor="middle" fill="#2f74b8">ACAP3</text>
<text x="339.6" y="354.0" font-size="3.6" text-anchor="middle" fill="#2f74b8">PLXNB1</text>
<text x="353.1" y="355.2" font-size="3.6" text-anchor="middle" fill="#2f74b8">FLNB</text>
<text x="348.0" y="360.9" font-size="3.6" text-anchor="middle" fill="#2f74b8">BCAR1</text>
<text x="315.1" y="358.6" font-size="3.6" text-anchor="middle" fill="#2f74b8">TRAF7</text>
<text x="327.1" y="357.1" font-size="3.6" text-anchor="middle" fill="#2f74b8">ARC</text>
<text x="328.9" y="364.2" font-size="3.6" text-anchor="middle" fill="#2f74b8">ADAMTS7</text>
<text x="360.3" y="364.0" font-size="3.6" text-anchor="middle" fill="#2f74b8">PLXNB2</text>
<text x="342.4" y="369.3" font-size="3.6" text-anchor="middle" fill="#2f74b8">PRRX1</text>
<text x="354.2" y="369.9" font-size="3.6" text-anchor="middle" fill="#2f74b8">NRXN2</text>
<text x="333.7" y="375.0" font-size="3.6" text-anchor="middle" fill="#2f74b8">MED12</text>
<text x="349.0" y="375.2" font-size="3.6" text-anchor="middle" fill="#2f74b8">FLRT1</text>
<text x="333.7" y="380.6" font-size="3.6" text-anchor="middle" fill="#2f74b8">INTS1</text>
<text x="348.0" y="381.6" font-size="3.6" text-anchor="middle" fill="#2f74b8">NDUFA4</text>
<text x="358.8" y="380.8" font-size="3.6" text-anchor="middle" fill="#2f74b8">ACAT2</text>
<text x="331.7" y="386.0" font-size="3.6" text-anchor="middle" fill="#2f74b8">CARMIL</text>
<text x="289.5" y="357.7" font-size="3.6" text-anchor="middle" fill="#2f74b8">H3C3</text>
<path d="M347.5 348.1L347.5 353.5M320.5 357.3L329.9 359.9M330.3 355.8L336.3 359.9M353.8 362.7L347.7 366.8M348.8 368.6L341.0 370.5" stroke="#2f74b8" stroke-width="0.5" fill="none"/>
<path d="M407.3 345.6h0M405.7 340.8h0M405.6 330.4h0M407.4 333.8h0M407.6 353.8h0M405.3 350.0h0M406.1 355.4h0M411.3 336.8h0M412.2 353.0h0M405.6 343.1h0M411.0 359.5h0M406.5 338.1h0M411.6 360.8h0M405.8 332.9h0M411.4 340.1h0M408.3 358.0h0M411.3 351.1h0M412.4 353.4h0M411.9 350.6h0M410.0 331.9h0M412.7 359.2h0M408.0 350.0h0M405.1 346.0h0M410.3 339.4h0M408.5 356.7h0M406.2 344.6h0M405.7 342.3h0M412.5 349.6h0M405.2 357.5h0M410.6 346.7h0M407.5 339.6h0M406.6 349.9h0M405.4 360.2h0M405.9 350.0h0M409.9 341.6h0M407.4 344.1h0M407.8 361.1h0M410.5 346.6h0M410.6 345.8h0M406.3 330.7h0M413.2 357.0h0M405.8 349.5h0M411.7 358.6h0M405.5 334.2h0M408.3 349.3h0M416.3 370.8h0M411.8 383.2h0M406.4 373.9h0M411.8 385.6h0M403.5 361.9h0M407.8 382.3h0M415.6 363.7h0M416.8 374.2h0M417.5 385.2h0M404.4 386.3h0M410.2 364.2h0M410.0 362.0h0M414.2 374.7h0M404.6 366.1h0M410.6 381.0h0M407.1 362.9h0M408.3 361.9h0M408.0 383.5h0M405.8 368.1h0M414.6 365.5h0M404.7 366.7h0M412.2 379.2h0M413.2 361.7h0M407.3 363.1h0M411.4 369.9h0M414.3 375.4h0M411.7 364.6h0M411.1 361.8h0M404.5 383.2h0M405.6 360.0h0M413.7 365.0h0M407.5 375.5h0M417.1 360.6h0M412.7 360.9h0M414.6 369.9h0M404.3 370.6h0M412.8 363.7h0M408.7 381.1h0M415.3 379.7h0M410.1 379.0h0M405.2 370.4h0M407.7 363.6h0M403.6 361.4h0M417.6 370.2h0M407.8 377.7h0M413.9 384.2h0M416.7 361.5h0M406.7 370.5h0M407.6 375.0h0M406.6 384.3h0M407.9 384.1h0M416.9 377.8h0M407.1 361.5h0M417.9 384.9h0M410.3 361.7h0M414.4 367.9h0M409.6 386.5h0M416.8 382.9h0M404.1 377.6h0M412.1 379.3h0M421.0 352.0h0M424.0 357.0h0M419.0 366.0h0M422.0 372.0h0M409.0 280.0h0M415.3 281.8h0M420.5 301.4h0M414.1 302.2h0M408.0 306.3h0M416.8 306.8h0M419.9 306.3h0M411.5 308.0h0M409.5 315.7h0M409.3 319.6h0M409.3 321.6h0M423.0 326.7h0M424.0 326.7h0M456.7 328.0h0M409.2 328.0h0M410.6 330.6h0M412.0 334.0h0M436.0 360.0h0M433.0 372.0h0M426.5 375.4h0" stroke="#d3621b" stroke-width="2.30" stroke-linecap="round" fill="none"/>
<text x="406.7" y="276.9" font-size="3.8" text-anchor="middle" fill="#d3621b">NFIB</text>
<text x="421.7" y="285.8" font-size="3.8" text-anchor="middle" fill="#d3621b">HNRNPA2B1</text>
<text x="425.6" y="298.1" font-size="3.8" text-anchor="middle" fill="#d3621b">ZNF148</text>
<text x="412.5" y="298.8" font-size="3.8" text-anchor="middle" fill="#d3621b">SYNE2</text>
<text x="402.1" y="304.5" font-size="3.8" text-anchor="middle" fill="#d3621b">SOX5</text>
<text x="430.2" y="304.5" font-size="3.8" text-anchor="middle" fill="#d3621b">HNRNPU</text>
<text x="406.4" y="310.2" font-size="3.8" text-anchor="middle" fill="#d3621b">NSELA</text>
<text x="423.3" y="310.2" font-size="3.8" text-anchor="middle" fill="#d3621b">HSP90AA1</text>
<text x="390.3" y="313.7" font-size="3.8" text-anchor="middle" fill="#d3621b">ADGRB3</text>
<text x="427.9" y="316.0" font-size="3.8" text-anchor="middle" fill="#d3621b">PMBP1L</text>
<text x="401.8" y="318.8" font-size="3.8" text-anchor="middle" fill="#d3621b">EPHB6</text>
<text x="417.5" y="318.3" font-size="3.8" text-anchor="middle" fill="#d3621b">ATRX</text>
<text x="404.1" y="324.4" font-size="3.8" text-anchor="middle" fill="#d3621b">JMJD1C</text>
<text x="419.4" y="321.8" font-size="3.8" text-anchor="middle" fill="#d3621b">ASH1L</text>
<text x="435.9" y="321.4" font-size="3.8" text-anchor="middle" fill="#d3621b">HNRNPD</text>
<text x="429.7" y="327.5" font-size="3.8" text-anchor="middle" fill="#d3621b">NCL</text>
<text x="460.9" y="324.4" font-size="3.8" text-anchor="middle" fill="#d3621b">ABCA1</text>
<text x="391.4" y="329.5" font-size="3.8" text-anchor="middle" fill="#d3621b">RTN4</text>
<text x="400.6" y="329.8" font-size="3.8" text-anchor="middle" fill="#d3621b">CACNB1</text>
<text x="414.1" y="327.0" font-size="3.8" text-anchor="middle" fill="#d3621b">NPTX1</text>
<text x="420.2" y="332.9" font-size="3.8" text-anchor="middle" fill="#d3621b">SNAP91</text>
<text x="391.8" y="335.6" font-size="3.8" text-anchor="middle" fill="#d3621b">NFIA</text>
<text x="401.8" y="336.3" font-size="3.8" text-anchor="middle" fill="#d3621b">CDON</text>
<text x="416.4" y="338.3" font-size="3.8" text-anchor="middle" fill="#d3621b">POU3F3</text>
<text x="427.9" y="338.7" font-size="3.8" text-anchor="middle" fill="#d3621b">GSK3B</text>
<text x="386.5" y="341.3" font-size="3.8" text-anchor="middle" fill="#d3621b">AUTS2</text>
<text x="398.0" y="340.9" font-size="3.8" text-anchor="middle" fill="#d3621b">NRXN1</text>
<text x="381.1" y="347.2" font-size="3.8" text-anchor="middle" fill="#d3621b">MALAT1</text>
<text x="394.1" y="347.5" font-size="3.8" text-anchor="middle" fill="#d3621b">TNRC6</text>
<text x="374.5" y="352.3" font-size="3.8" text-anchor="middle" fill="#d3621b">PTPRZ1</text>
<text x="391.1" y="353.6" font-size="3.8" text-anchor="middle" fill="#d3621b">ROBO2</text>
<text x="434.0" y="350.7" font-size="3.8" text-anchor="middle" fill="#d3621b">LRRC7</text>
<text x="437.1" y="355.8" font-size="3.8" text-anchor="middle" fill="#d3621b">CLASP1</text>
<text x="366.5" y="358.4" font-size="3.8" text-anchor="middle" fill="#d3621b">PTCB</text>
<text x="380.3" y="359.2" font-size="3.8" text-anchor="middle" fill="#d3621b">EXOC4</text>
<text x="391.8" y="359.2" font-size="3.8" text-anchor="middle" fill="#d3621b">ARHGEF</text>
<text x="424.0" y="356.1" font-size="3.8" text-anchor="middle" fill="#d3621b">DCLK1</text>
<text x="445.5" y="361.8" font-size="3.8" text-anchor="middle" fill="#d3621b">PRRM1</text>
<text x="371.9" y="364.8" font-size="3.8" text-anchor="middle" fill="#d3621b">SETBP1</text>
<text x="384.9" y="364.8" font-size="3.8" text-anchor="middle" fill="#d3621b">PPP1R12A</text>
<text x="399.5" y="364.8" font-size="3.8" text-anchor="middle" fill="#d3621b">RNF11</text>
<text x="446.3" y="367.6" font-size="3.8" text-anchor="middle" fill="#d3621b">PUM2</text>
<text x="418.7" y="368.4" font-size="3.8" text-anchor="middle" fill="#d3621b">SOX11</text>
<text x="432.5" y="369.9" font-size="3.8" text-anchor="middle" fill="#d3621b">TCF4</text>
<text x="380.3" y="370.7" font-size="3.8" text-anchor="middle" fill="#d3621b">FOXO3</text>
<text x="394.1" y="370.7" font-size="3.8" text-anchor="middle" fill="#d3621b">MEIS2</text>
<text x="443.2" y="375.6" font-size="3.8" text-anchor="middle" fill="#d3621b">POU3F2</text>
<text x="429.4" y="375.3" font-size="3.8" text-anchor="middle" fill="#d3621b">ZEB1</text>
<text x="386.5" y="376.3" font-size="3.8" text-anchor="middle" fill="#d3621b">CLASP2</text>
<text x="397.2" y="376.3" font-size="3.8" text-anchor="middle" fill="#d3621b">DCX</text>
<text x="391.8" y="381.7" font-size="3.8" text-anchor="middle" fill="#d3621b">NEGR1</text>
<text x="427.9" y="381.4" font-size="3.8" text-anchor="middle" fill="#d3621b">SPRY2</text>
<text x="399.5" y="387.9" font-size="3.8" text-anchor="middle" fill="#d3621b">NNAT</text>
<text x="429.4" y="387.2" font-size="3.8" text-anchor="middle" fill="#d3621b">MAP2</text>
<text x="417.1" y="385.7" font-size="3.8" text-anchor="middle" fill="#d3621b">GLI3</text>
<path d="M397.1 312.4L409.5 316.0M409.2 323.1L409.2 328.0M407.4 328.5L410.6 330.6M413.4 331.6L408.9 332.1M396.4 334.3L410.0 333.7M406.4 335.0L410.6 335.0M409.6 337.0L405.4 337.3M422.2 337.4L405.3 333.9M392.2 340.0L407.9 346.9M403.7 339.6L410.3 341.5M387.9 345.9L415.1 352.0M399.8 346.2L411.2 344.3M381.3 351.0L410.8 350.6M396.8 352.3L415.5 348.0M428.3 349.4L409.1 353.0M430.3 354.5L411.6 356.5M371.1 357.1L413.4 355.3M386.0 357.9L414.2 364.2M398.6 357.9L405.4 357.2M418.3 354.8L409.0 354.7M439.8 360.5L410.9 358.8M378.7 363.5L412.1 369.4M394.0 363.5L415.2 368.9M405.2 363.5L407.4 367.7M441.7 366.3L413.5 368.9M427.9 368.6L413.5 366.8M386.0 369.4L411.1 367.8M399.8 369.4L410.9 365.2M436.4 374.3L408.4 379.0M424.8 374.0L407.9 378.1M393.3 375.0L413.8 377.6M400.6 375.0L411.9 372.8M397.5 380.4L410.3 385.0M422.2 380.1L415.8 382.1M404.1 386.6L409.9 385.0M424.8 385.9L411.0 385.0M412.5 384.4L405.9 382.9" stroke="#d3621b" stroke-width="0.5" fill="none"/>
<text x="353.7" y="250.3" font-size="6.8" fill="#1a1a1a" stroke="#1a1a1a" stroke-width="0.12">DE</text>
<circle cx="346.8" cy="259.0" r="1.25" fill="#2f74b8"/>
<text x="353.7" y="261.0" font-size="6.8" fill="#1a1a1a" stroke="#1a1a1a" stroke-width="0.12">down</text>
<circle cx="346.8" cy="267.3" r="1.25" fill="#9a9a9a"/>
<text x="353.7" y="269.3" font-size="6.8" fill="#1a1a1a" stroke="#1a1a1a" stroke-width="0.12">no change</text>
<circle cx="346.8" cy="275.6" r="1.25" fill="#d3621b"/>
<text x="353.7" y="277.6" font-size="6.8" fill="#1a1a1a" stroke="#1a1a1a" stroke-width="0.12">up</text>
<text x="157.7" y="476.3" font-size="7.7" text-anchor="middle" font-weight="bold" font-style="italic" fill="#111">GW15-16_Cluster 9&#8722;RG_Nicotine_vs_UT</text>
<path d="M147.3 484.1H258.6M147.3 493.2H258.6M147.3 502.3H258.6M147.3 511.4H258.6M147.3 520.5H258.6M147.3 529.6H258.6M147.3 538.7H258.6M147.3 547.8H258.6M147.3 556.9H258.6M147.3 566.0H258.6M147.3 575.1H258.6M147.3 584.2H258.6M147.3 593.3H258.6M147.3 602.4H258.6M147.3 611.5H258.6M147.3 620.6H258.6M147.3 629.7H258.6M147.3 638.8H258.6M147.3 647.9H258.6M147.3 657.0H258.6" stroke="#d4d4d4" stroke-width="0.55" stroke-dasharray="4.7 4.65" fill="none"/>
<text x="142.7" y="486.3" font-size="6.5" text-anchor="end" fill="#1a1a1a" stroke="#1a1a1a" stroke-width="0.12">semaphorin&#8722;plexin signaling in axon guidance</text>
<line x1="145" y1="484.1" x2="146.5" y2="484.1" stroke="#333" stroke-width="0.5"/>
<circle cx="254" cy="484.1" r="4.1" fill="#f7241a"/>
<text x="142.7" y="495.4" font-size="6.5" text-anchor="end" fill="#1a1a1a" stroke="#1a1a1a" stroke-width="0.12">semaphorin&#8722;plexin signaling in neuron projection</text>
<line x1="145" y1="493.2" x2="146.5" y2="493.2" stroke="#333" stroke-width="0.5"/>
<circle cx="211.5" cy="493.2" r="3.5" fill="#f5281a"/>
<text x="142.7" y="504.5" font-size="6.5" text-anchor="end" fill="#1a1a1a" stroke="#1a1a1a" stroke-width="0.12">epiboly involved in wound healing</text>
<line x1="145" y1="502.3" x2="146.5" y2="502.3" stroke="#333" stroke-width="0.5"/>
<circle cx="177.2" cy="502.3" r="3.0" fill="#ece53a"/>
<text x="142.7" y="513.6" font-size="6.5" text-anchor="end" fill="#1a1a1a" stroke="#1a1a1a" stroke-width="0.12">semaphorin&#8722;plexin signaling pathway</text>
<line x1="145" y1="511.4" x2="146.5" y2="511.4" stroke="#333" stroke-width="0.5"/>
<circle cx="176" cy="511.4" r="2.7" fill="#f3261a"/>
<text x="142.7" y="522.7" font-size="6.5" text-anchor="end" fill="#1a1a1a" stroke="#1a1a1a" stroke-width="0.12">positive regulation of axonogenesis</text>
<line x1="145" y1="520.5" x2="146.5" y2="520.5" stroke="#333" stroke-width="0.5"/>
<circle cx="170.1" cy="520.5" r="2.6" fill="#f52a18"/>
<text x="142.7" y="531.8" font-size="6.5" text-anchor="end" fill="#1a1a1a" stroke="#1a1a1a" stroke-width="0.12">regulation of axonogenesis</text>
<line x1="145" y1="529.6" x2="146.5" y2="529.6" stroke="#333" stroke-width="0.5"/>
<circle cx="160.9" cy="529.6" r="2.2" fill="#eb9a2e"/>
<text x="142.7" y="540.9" font-size="6.5" text-anchor="end" fill="#1a1a1a" stroke="#1a1a1a" stroke-width="0.12">positive regulation of neurogenesis</text>
<line x1="145" y1="538.7" x2="146.5" y2="538.7" stroke="#333" stroke-width="0.5"/>
<circle cx="160.4" cy="538.7" r="2.2" fill="#f52c16"/>
<text x="142.7" y="550.0" font-size="6.5" text-anchor="end" fill="#1a1a1a" stroke="#1a1a1a" stroke-width="0.12">homophilic cell adhesion via plasma membrane</text>
<line x1="145" y1="547.8" x2="146.5" y2="547.8" stroke="#333" stroke-width="0.5"/>
<circle cx="158.7" cy="547.8" r="2.1" fill="#e8b234"/>
<text x="142.7" y="559.1" font-size="6.5" text-anchor="end" fill="#1a1a1a" stroke="#1a1a1a" stroke-width="0.12">positive regulation of cell projection organization</text>
<line x1="145" y1="556.9" x2="146.5" y2="556.9" stroke="#333" stroke-width="0.5"/>
<circle cx="157.7" cy="556.9" r="2.0" fill="#f52218"/>
<text x="142.7" y="568.2" font-size="6.5" text-anchor="end" fill="#1a1a1a" stroke="#1a1a1a" stroke-width="0.12">synapse assembly</text>
<line x1="145" y1="566.0" x2="146.5" y2="566.0" stroke="#333" stroke-width="0.5"/>
<circle cx="157.3" cy="566.0" r="2.0" fill="#ecd932"/>
<text x="142.7" y="577.3" font-size="6.5" text-anchor="end" fill="#1a1a1a" stroke="#1a1a1a" stroke-width="0.12">cell junction organization</text>
<line x1="145" y1="575.1" x2="146.5" y2="575.1" stroke="#333" stroke-width="0.5"/>
<circle cx="157" cy="575.1" r="2.0" fill="#ecd932"/>
<text x="142.7" y="586.4" font-size="6.5" text-anchor="end" fill="#1a1a1a" stroke="#1a1a1a" stroke-width="0.12">regulation of hydrolase activity</text>
<line x1="145" y1="584.2" x2="146.5" y2="584.2" stroke="#333" stroke-width="0.5"/>
<circle cx="156.9" cy="584.2" r="2.0" fill="#ecd932"/>
<text x="142.7" y="595.5" font-size="6.5" text-anchor="end" fill="#1a1a1a" stroke="#1a1a1a" stroke-width="0.12">negative regulation of cell adhesion</text>
<line x1="145" y1="593.3" x2="146.5" y2="593.3" stroke="#333" stroke-width="0.5"/>
<circle cx="156.9" cy="593.3" r="2.0" fill="#ecd932"/>
<text x="142.7" y="604.6" font-size="6.5" text-anchor="end" fill="#1a1a1a" stroke="#1a1a1a" stroke-width="0.12">positive regulation of cellular amide metabolism</text>
<line x1="145" y1="602.4" x2="146.5" y2="602.4" stroke="#333" stroke-width="0.5"/>
<circle cx="155.8" cy="602.4" r="2.0" fill="#ebd932"/>
<text x="142.7" y="613.7" font-size="6.5" text-anchor="end" fill="#1a1a1a" stroke="#1a1a1a" stroke-width="0.12">regulation of cell motility</text>
<line x1="145" y1="611.5" x2="146.5" y2="611.5" stroke="#333" stroke-width="0.5"/>
<circle cx="154.3" cy="611.5" r="1.8" fill="#ea8a28"/>
<text x="142.7" y="622.8" font-size="6.5" text-anchor="end" fill="#1a1a1a" stroke="#1a1a1a" stroke-width="0.12">regulation of cell adhesion</text>
<line x1="145" y1="620.6" x2="146.5" y2="620.6" stroke="#333" stroke-width="0.5"/>
<circle cx="154.5" cy="620.6" r="1.8" fill="#ea8c28"/>
<text x="142.7" y="631.9" font-size="6.5" text-anchor="end" fill="#1a1a1a" stroke="#1a1a1a" stroke-width="0.12">brain development</text>
<line x1="145" y1="629.7" x2="146.5" y2="629.7" stroke="#333" stroke-width="0.5"/>
<circle cx="153.5" cy="629.7" r="1.6" fill="#ecae34"/>
<text x="142.7" y="641.0" font-size="6.5" text-anchor="end" fill="#1a1a1a" stroke="#1a1a1a" stroke-width="0.12">regulation of GTPase activity</text>
<line x1="145" y1="638.8" x2="146.5" y2="638.8" stroke="#333" stroke-width="0.5"/>
<circle cx="152.3" cy="638.8" r="1.5" fill="#ecd932"/>
<text x="142.7" y="650.1" font-size="6.5" text-anchor="end" fill="#1a1a1a" stroke="#1a1a1a" stroke-width="0.12">axon guidance</text>
<line x1="145" y1="647.9" x2="146.5" y2="647.9" stroke="#333" stroke-width="0.5"/>
<circle cx="152" cy="647.9" r="1.5" fill="#ecd932"/>
<text x="142.7" y="659.2" font-size="6.5" text-anchor="end" fill="#1a1a1a" stroke="#1a1a1a" stroke-width="0.12">extracellular matrix organization</text>
<line x1="145" y1="657.0" x2="146.5" y2="657.0" stroke="#333" stroke-width="0.5"/>
<circle cx="151.2" cy="657.0" r="1.1" fill="#eab83a"/>
<rect x="146.5" y="478.4" width="112.7" height="183.4" fill="none" stroke="#3a3a3a" stroke-width="0.7"/>
<line x1="147.4" y1="661.8" x2="147.4" y2="663.5" stroke="#333" stroke-width="0.5"/>
<text x="147.4" y="668.6" font-size="5.8" text-anchor="middle" fill="#4d4d4d">0</text>
<line x1="185.2" y1="661.8" x2="185.2" y2="663.5" stroke="#333" stroke-width="0.5"/>
<text x="185.2" y="668.6" font-size="5.8" text-anchor="middle" fill="#4d4d4d">100</text>
<line x1="222.6" y1="661.8" x2="222.6" y2="663.5" stroke="#333" stroke-width="0.5"/>
<text x="222.6" y="668.6" font-size="5.8" text-anchor="middle" fill="#4d4d4d">200</text>
<text x="205.6" y="675.2" font-size="6.5" text-anchor="middle" fill="#1a1a1a" stroke="#1a1a1a" stroke-width="0.12">Enrichment Score</text>
<text x="4.0" y="507.8" font-size="5.3" fill="#1a1a1a">ratio</text>
<circle cx="8.4" cy="514.7" r="2.5" fill="#000"/>
<text x="13.9" y="516.5" font-size="4.8" fill="#333">0.1</text>
<circle cx="8.4" cy="523.0" r="2.9" fill="#000"/>
<text x="13.9" y="524.8" font-size="4.8" fill="#333">0.2</text>
<circle cx="8.4" cy="531.3" r="3.35" fill="#000"/>
<text x="13.9" y="533.1" font-size="4.8" fill="#333">0.3</text>
<text x="2.8" y="614.8" font-size="5.4" fill="#1a1a1a">Adjusted.P.</text>
<text x="2.8" y="621.0" font-size="5.4" fill="#1a1a1a">value</text>
<rect x="3.1" y="623.3" width="8.8" height="42.4" fill="url(#adj)"/>
<line x1="3.1" y1="637.0" x2="4.6" y2="637.0" stroke="#fff" stroke-width="0.4"/><line x1="10.4" y1="637.0" x2="11.9" y2="637.0" stroke="#fff" stroke-width="0.4"/>
<text x="13.6" y="638.6" font-size="4.3" fill="#333">0.010</text>
<line x1="3.1" y1="651.2" x2="4.6" y2="651.2" stroke="#fff" stroke-width="0.4"/><line x1="10.4" y1="651.2" x2="11.9" y2="651.2" stroke="#fff" stroke-width="0.4"/>
<text x="13.6" y="652.8" font-size="4.3" fill="#333">0.005</text>
<line x1="3.1" y1="665.4" x2="4.6" y2="665.4" stroke="#fff" stroke-width="0.4"/><line x1="10.4" y1="665.4" x2="11.9" y2="665.4" stroke="#fff" stroke-width="0.4"/>
<text x="13.6" y="667.0" font-size="4.3" fill="#333">0.000</text>
<line x1="53.5" y1="612.6" x2="55" y2="612.6" stroke="#555" stroke-width="0.4"/>
<text x="582.7" y="239.8" font-size="7.7" text-anchor="middle" font-weight="bold" font-style="italic" fill="#111">GW15-16_Newborn Immature Neurons_NIC_vs_UT</text>
<rect x="490.2" y="242.7" width="186.3" height="175.5" fill="none" stroke="#5c5c5c" stroke-width="0.85"/>
<line x1="488.0" y1="410.6" x2="490.2" y2="410.6" stroke="#333" stroke-width="0.5"/>
<text x="487.2" y="413.0" font-size="6.8" text-anchor="end" fill="#4d4d4d" stroke="#4d4d4d" stroke-width="0.12">0</text>
<line x1="488.0" y1="360.2" x2="490.2" y2="360.2" stroke="#333" stroke-width="0.5"/>
<text x="487.2" y="362.6" font-size="6.8" text-anchor="end" fill="#4d4d4d" stroke="#4d4d4d" stroke-width="0.12">5</text>
<line x1="488.0" y1="309.8" x2="490.2" y2="309.8" stroke="#333" stroke-width="0.5"/>
<text x="487.2" y="312.2" font-size="6.8" text-anchor="end" fill="#4d4d4d" stroke="#4d4d4d" stroke-width="0.12">10</text>
<line x1="488.0" y1="259.2" x2="490.2" y2="259.2" stroke="#333" stroke-width="0.5"/>
<text x="487.2" y="261.6" font-size="6.8" text-anchor="end" fill="#4d4d4d" stroke="#4d4d4d" stroke-width="0.12">15</text>
<line x1="499.5" y1="418.2" x2="499.5" y2="420.4" stroke="#333" stroke-width="0.5"/>
<text x="499.5" y="426.6" font-size="6.8" text-anchor="middle" fill="#4d4d4d" stroke="#4d4d4d" stroke-width="0.12">&#8722;0.6</text>
<line x1="541.4" y1="418.2" x2="541.4" y2="420.4" stroke="#333" stroke-width="0.5"/>
<text x="541.4" y="426.6" font-size="6.8" text-anchor="middle" fill="#4d4d4d" stroke="#4d4d4d" stroke-width="0.12">&#8722;0.3</text>
<line x1="583.3" y1="418.2" x2="583.3" y2="420.4" stroke="#333" stroke-width="0.5"/>
<text x="583.3" y="426.6" font-size="6.8" text-anchor="middle" fill="#4d4d4d" stroke="#4d4d4d" stroke-width="0.12">0.0</text>
<line x1="625.2" y1="418.2" x2="625.2" y2="420.4" stroke="#333" stroke-width="0.5"/>
<text x="625.2" y="426.6" font-size="6.8" text-anchor="middle" fill="#4d4d4d" stroke="#4d4d4d" stroke-width="0.12">0.3</text>
<line x1="667.1" y1="418.2" x2="667.1" y2="420.4" stroke="#333" stroke-width="0.5"/>
<text x="667.1" y="426.6" font-size="6.8" text-anchor="middle" fill="#4d4d4d" stroke="#4d4d4d" stroke-width="0.12">0.6</text>
<text x="583.2" y="434.2" font-size="7.15" text-anchor="middle" fill="#1a1a1a" stroke="#1a1a1a" stroke-width="0.12">Log2FoldChange</text>
<text transform="translate(477.2 328.6) rotate(-90)" font-size="8.0" text-anchor="middle" fill="#1a1a1a" stroke="#1a1a1a" stroke-width="0.12">&#8722;log10FDR</text>
<line x1="535.3" y1="410.3" x2="629.6" y2="410.3" stroke="#909090" stroke-width="2.3" stroke-linecap="round"/>
<path d="M535.6 403.5h0M533.4 407.0h0M535.2 404.1h0M554.0 402.4h0M555.1 406.0h0M543.8 404.9h0M544.8 402.0h0M555.9 402.4h0M555.6 407.4h0M529.8 400.8h0M541.9 407.0h0M533.8 404.8h0M538.9 406.6h0M554.0 406.4h0M534.2 406.4h0M540.8 407.2h0M541.7 408.0h0M555.6 407.1h0M551.3 407.0h0M545.0 399.9h0M555.6 403.1h0M529.4 402.8h0M540.2 400.2h0M554.9 399.2h0M553.4 404.0h0M533.8 401.9h0M541.2 399.3h0M549.6 405.2h0M555.5 407.1h0M550.2 409.0h0M554.2 405.1h0M543.6 403.8h0M551.0 408.2h0M551.4 407.2h0M529.7 402.6h0M531.4 404.4h0M544.7 404.2h0M552.2 400.5h0M548.7 404.5h0M534.8 408.8h0M530.4 403.1h0M543.5 404.6h0M555.5 404.1h0M552.9 401.2h0M542.0 399.6h0M546.3 402.6h0M550.2 399.2h0M541.5 408.5h0M529.3 405.3h0M547.3 406.0h0M544.0 403.5h0M554.9 401.1h0M548.0 405.4h0M548.7 403.3h0M529.5 406.5h0M536.5 406.6h0M555.7 406.5h0M539.9 407.4h0M539.4 401.5h0M544.4 405.2h0M535.1 396.0h0M537.6 400.9h0M537.0 397.2h0M549.1 396.0h0M543.6 401.5h0M538.8 395.7h0M534.4 401.4h0M540.8 395.8h0M533.7 402.0h0M547.7 402.9h0M544.7 401.3h0M544.4 398.0h0M534.6 395.6h0M534.4 397.3h0M540.3 397.0h0M543.5 399.2h0M546.6 402.9h0M535.3 397.8h0M549.5 395.9h0M533.3 401.2h0M611.6 398.6h0M606.8 403.3h0M610.9 402.5h0M610.5 399.8h0M611.9 402.5h0M596.5 401.8h0M605.0 398.4h0M600.4 398.1h0M594.3 399.9h0M597.4 401.0h0M607.8 402.6h0M609.3 407.9h0M610.0 408.4h0M603.9 405.4h0M609.7 404.0h0M595.7 403.7h0M603.1 400.0h0M594.8 400.0h0M606.3 406.9h0M605.5 402.7h0M593.5 398.0h0M605.4 403.8h0M601.7 399.9h0M595.3 400.0h0M595.4 404.6h0M598.8 404.1h0M601.2 404.0h0M607.1 406.6h0M595.8 408.6h0M609.2 407.0h0M601.6 408.5h0M608.4 400.6h0M606.1 407.3h0M607.3 407.9h0M603.1 405.4h0M563.0 397.5h0M573.0 408.0h0M640.0 402.0h0M645.0 401.0h0M620.0 406.0h0M628.0 404.0h0" stroke="#9a9a9a" stroke-width="2.60" stroke-linecap="round" fill="none"/>
<path d="M508.7 334.8h0M510.2 334.0h0M517.5 333.6h0M520.8 331.8h0M519.8 334.0h0M523.5 335.5h0M527.6 343.6h0M523.5 346.6h0M510.2 345.8h0M515.3 347.3h0M519.8 351.8h0M523.5 351.0h0M524.2 354.0h0M525.7 356.9h0M527.9 359.9h0M530.1 361.4h0M525.7 364.3h0M523.5 367.3h0M519.0 370.2h0M519.8 373.2h0M524.9 376.1h0M532.3 371.7h0M535.3 370.2h0M533.8 376.1h0M536.0 380.6h0M530.8 382.0h0M539.7 380.6h0M523.5 383.5h0M525.7 386.5h0M532.3 383.5h0M538.2 385.0h0M541.2 386.5h0M544.1 385.0h0M545.6 382.0h0M547.1 381.3h0M530.8 390.9h0M533.8 392.4h0M536.7 389.4h0M539.7 390.9h0M541.2 393.9h0M542.7 389.4h0M550.0 393.1h0M529.4 396.8h0M532.3 395.3h0M536.7 396.8h0M539.7 396.1h0M542.7 396.8h0M531.6 393.9h0M539.0 387.9h0M535.3 386.5h0M533.1 387.9h0M530.1 392.4h0M527.1 393.9h0M539.0 393.1h0M544.3 382.5h0M537.1 388.7h0M545.2 386.8h0M534.9 390.4h0M533.6 396.4h0M543.6 393.0h0M527.1 397.8h0M537.0 390.8h0M536.8 389.3h0M544.6 384.9h0M528.8 398.0h0M531.2 385.0h0M534.8 396.2h0M533.5 380.2h0M531.3 384.1h0M526.4 396.1h0M540.7 382.5h0M530.9 397.7h0M540.0 388.0h0M537.6 397.7h0M530.8 391.4h0M526.3 388.7h0M530.7 386.1h0M533.9 387.7h0M543.9 386.6h0M526.4 395.1h0M544.5 395.2h0M531.9 386.4h0M541.3 381.5h0M527.2 389.1h0M524.3 366.7h0M521.7 359.4h0M524.2 366.6h0M521.1 356.4h0M528.8 375.6h0M520.2 377.0h0M527.2 357.7h0M527.8 373.1h0M531.0 360.5h0M527.1 374.6h0M498.3 250.3h0M522.7 315.0h0M511.0 331.0h0M515.0 328.0h0M517.5 329.5h0M520.0 333.0h0M507.0 338.0h0M508.5 341.0h0M512.0 345.0h0M519.0 347.0h0M521.0 349.0h0M524.0 350.5h0M528.0 352.0h0" stroke="#2f74b8" stroke-width="2.30" stroke-linecap="round" fill="none"/>
<text x="498.3" y="254.0" font-size="3.4" text-anchor="middle" fill="#2f74b8">LRRC4</text>
<text x="521.5" y="313.1" font-size="6.6" fill="#2f74b8" textLength="18.5" lengthAdjust="spacingAndGlyphs">DCHS1</text>
<text x="501.6" y="325.6" font-size="3.5" text-anchor="middle" fill="#2f74b8">TMEM050</text>
<text x="523.5" y="327.1" font-size="3.5" text-anchor="middle" fill="#2f74b8">FASN</text>
<text x="510.9" y="331.1" font-size="3.5" text-anchor="middle" fill="#2f74b8">PLXNB2</text>
<text x="530.1" y="332.6" font-size="3.5" text-anchor="middle" fill="#2f74b8">ACAP3</text>
<text x="499.8" y="336.2" font-size="3.5" text-anchor="middle" fill="#2f74b8">RAB11B</text>
<text x="518.3" y="338.0" font-size="3.5" text-anchor="middle" fill="#2f74b8">PLXNA1</text>
<text x="536.0" y="338.0" font-size="3.5" text-anchor="middle" fill="#2f74b8">CELSR3</text>
<text x="498.3" y="343.6" font-size="3.5" text-anchor="middle" fill="#2f74b8">NFIBP</text>
<text x="518.7" y="343.3" font-size="3.5" text-anchor="middle" fill="#2f74b8">NLGN3</text>
<text x="544.1" y="344.4" font-size="3.5" text-anchor="middle" fill="#2f74b8">CELSR2</text>
<text x="503.5" y="348.8" font-size="3.5" text-anchor="middle" fill="#2f74b8">TRAF7</text>
<text x="514.6" y="350.3" font-size="3.5" text-anchor="middle" fill="#2f74b8">BAIAP2</text>
<text x="527.9" y="349.8" font-size="3.5" text-anchor="middle" fill="#2f74b8">LARP1</text>
<text x="537.5" y="350.3" font-size="3.5" text-anchor="middle" fill="#2f74b8">DDR1</text>
<text x="502.8" y="354.3" font-size="3.5" text-anchor="middle" fill="#2f74b8">SHANK3</text>
<text x="520.5" y="356.2" font-size="3.5" text-anchor="middle" fill="#2f74b8">CKB</text>
<text x="532.3" y="356.2" font-size="3.5" text-anchor="middle" fill="#2f74b8">CELSR1</text>
<text x="561.9" y="356.2" font-size="3.5" text-anchor="middle" fill="#2f74b8">MAP7D1</text>
<text x="546.3" y="356.2" font-size="3.5" text-anchor="middle" fill="#2f74b8">AGRN</text>
<text x="497.6" y="360.6" font-size="3.5" text-anchor="middle" fill="#2f74b8">ABCA2</text>
<text x="506.5" y="360.6" font-size="3.5" text-anchor="middle" fill="#2f74b8">PLXND1</text>
<text x="564.8" y="360.6" font-size="3.5" text-anchor="middle" fill="#2f74b8">TTYH3</text>
<text x="547.1" y="361.7" font-size="3.5" text-anchor="middle" fill="#2f74b8">PLXNB1</text>
<text x="497.6" y="368.0" font-size="3.5" text-anchor="middle" fill="#2f74b8">B4GALNT1</text>
<text x="563.6" y="367.3" font-size="3.5" text-anchor="middle" fill="#2f74b8">DNMT3A</text>
<text x="554.5" y="367.6" font-size="3.5" text-anchor="middle" fill="#2f74b8">NRXN2</text>
<text x="502.0" y="371.4" font-size="3.5" text-anchor="middle" fill="#2f74b8">CAMKV</text>
<text x="553.0" y="372.4" font-size="3.5" text-anchor="middle" fill="#2f74b8">FGFR1</text>
<text x="496.1" y="376.9" font-size="3.5" text-anchor="middle" fill="#2f74b8">EPHB2</text>
<text x="511.6" y="376.9" font-size="3.5" text-anchor="middle" fill="#2f74b8">TAGLN</text>
<text x="567.8" y="376.6" font-size="3.5" text-anchor="middle" fill="#2f74b8">KIF1A</text>
<text x="495.4" y="381.7" font-size="3.5" text-anchor="middle" fill="#2f74b8">AKT1</text>
<text x="506.5" y="381.7" font-size="3.5" text-anchor="middle" fill="#2f74b8">MSI1</text>
<text x="516.0" y="381.7" font-size="3.5" text-anchor="middle" fill="#2f74b8">SOX4</text>
<text x="557.4" y="381.7" font-size="3.5" text-anchor="middle" fill="#2f74b8">LRP1</text>
<text x="504.2" y="388.2" font-size="3.5" text-anchor="middle" fill="#2f74b8">SOX9</text>
<text x="514.6" y="388.2" font-size="3.5" text-anchor="middle" fill="#2f74b8">INPP</text>
<text x="527.9" y="388.2" font-size="3.5" text-anchor="middle" fill="#2f74b8">NRP1</text>
<text x="564.1" y="388.2" font-size="3.5" text-anchor="middle" fill="#2f74b8">APC2</text>
<text x="550.0" y="388.0" font-size="3.5" text-anchor="middle" fill="#2f74b8">DLL3</text>
<text x="511.6" y="393.6" font-size="3.5" text-anchor="middle" fill="#2f74b8">FOXO1</text>
<text x="522.7" y="393.6" font-size="3.5" text-anchor="middle" fill="#2f74b8">ANK2</text>
<text x="555.2" y="393.3" font-size="3.5" text-anchor="middle" fill="#2f74b8">DNMT3B</text>
<text x="519.8" y="399.3" font-size="3.5" text-anchor="middle" fill="#2f74b8">ARHGAP</text>
<text x="541.2" y="404.9" font-size="3.5" text-anchor="middle" fill="#2f74b8">NCAM1</text>
<path d="M509.0 324.4L510.2 334.0M520.8 325.9L520.8 331.8M508.7 329.9L508.7 334.8M527.6 331.4L527.6 343.6M506.1 335.0L508.7 334.8M524.6 336.8L527.6 343.6M529.7 336.8L523.5 335.5M503.6 342.4L510.2 345.8M524.0 342.1L527.6 343.6M537.8 343.2L523.5 351.0M508.8 347.6L524.2 354.0M520.9 349.1L524.2 354.0M525.7 348.6L525.7 356.9M533.3 349.1L525.7 356.9M509.1 353.1L525.7 364.3M523.6 355.0L525.7 356.9M530.1 355.0L530.1 361.4M555.6 355.0L530.1 361.4M542.1 355.0L530.1 361.4M502.9 359.4L519.0 370.2M512.8 359.4L523.5 367.3M559.5 359.4L535.3 370.2M540.8 360.5L530.1 361.4M506.0 366.8L523.5 367.3M557.3 366.1L535.3 370.2M549.2 366.4L533.8 376.1M507.2 370.2L523.5 383.5M547.8 371.2L547.1 381.3M501.4 375.7L523.5 383.5M516.9 375.7L523.5 383.5M562.5 375.4L547.1 381.3M499.6 380.5L523.5 383.5M510.7 380.5L523.5 383.5M520.2 380.5L523.5 383.5M553.2 380.5L544.1 385.0M508.4 387.0L525.7 386.5M518.8 387.0L525.7 386.5M530.8 387.0L530.8 390.9M559.9 387.0L550.0 393.1M550.0 386.8L550.0 393.1M516.9 392.4L529.4 396.8M526.9 392.4L530.8 390.9M526.1 398.1L529.4 396.8M542.7 403.7L542.7 396.8" stroke="#2f74b8" stroke-width="0.5" fill="none"/>
<path d="M607.6 382.2h0M601.7 380.5h0M605.2 401.5h0M601.0 367.4h0M600.5 360.0h0M603.7 401.7h0M598.5 391.2h0M598.5 398.8h0M602.7 374.3h0M596.4 364.0h0M606.8 365.4h0M603.4 382.1h0M601.3 389.1h0M597.5 387.2h0M596.8 366.7h0M604.1 365.6h0M597.6 379.4h0M603.7 357.2h0M604.1 383.3h0M596.0 382.6h0M596.0 382.0h0M603.3 374.3h0M600.3 392.7h0M598.3 377.9h0M602.0 359.0h0M606.8 365.1h0M605.5 378.0h0M596.1 370.6h0M603.0 377.7h0M606.9 358.3h0M606.0 395.8h0M598.0 379.9h0M596.6 383.1h0M604.3 370.0h0M605.4 368.0h0M596.7 378.7h0M604.9 370.5h0M598.6 386.5h0M604.0 363.0h0M598.0 385.0h0M605.5 363.5h0M603.7 386.7h0M596.5 387.7h0M601.8 361.8h0M597.6 368.5h0M604.5 363.7h0M603.0 396.0h0M602.8 388.1h0M597.4 400.2h0M607.4 395.7h0M598.8 383.6h0M605.0 363.0h0M597.6 397.5h0M602.7 398.5h0M601.0 399.2h0M604.6 365.7h0M598.9 399.1h0M597.3 400.4h0M603.7 399.3h0M598.3 359.0h0M607.2 381.1h0M599.4 384.2h0M597.7 388.5h0M603.6 386.5h0M600.5 375.1h0M598.9 359.8h0M602.1 371.8h0M600.5 362.5h0M605.2 382.9h0M597.2 377.4h0M601.2 394.6h0M600.3 370.9h0M602.4 395.0h0M596.3 399.9h0M597.0 358.3h0M599.1 388.3h0M606.7 375.4h0M597.6 374.8h0M599.8 381.0h0M597.3 389.5h0M606.3 368.5h0M601.4 401.6h0M598.7 357.3h0M604.1 377.9h0M601.1 368.0h0M622.0 380.1h0M620.6 373.6h0M604.5 357.2h0M612.0 366.0h0M615.0 372.0h0M616.0 385.0h0M668.5 289.3h0M662.7 303.8h0M643.2 324.0h0M645.0 328.9h0M650.0 330.6h0M640.3 342.5h0M639.5 352.0h0" stroke="#d3621b" stroke-width="2.30" stroke-linecap="round" fill="none"/>
<text x="670.0" y="286.2" font-size="3.9" text-anchor="middle" fill="#d3621b">PRRT1</text>
<text x="665.2" y="300.6" font-size="3.9" text-anchor="middle" fill="#d3621b">ABCA1</text>
<text x="641.0" y="321.0" font-size="3.9" text-anchor="middle" fill="#d3621b">KTY</text>
<text x="639.5" y="327.4" font-size="3.9" text-anchor="middle" fill="#d3621b">USP9Y</text>
<text x="655.5" y="334.2" font-size="3.9" text-anchor="middle" fill="#d3621b">TTTY14</text>
<text x="638.1" y="346.6" font-size="3.9" text-anchor="middle" fill="#d3621b">NLGN4Y</text>
<text x="638.1" y="355.8" font-size="3.9" text-anchor="middle" fill="#d3621b">ANKS1B</text>
<text x="612.8" y="354.2" font-size="3.6" text-anchor="middle" fill="#d3621b">CADM2</text>
<text x="583.4" y="359.0" font-size="3.6" text-anchor="middle" fill="#d3621b">AFF3</text>
<text x="593.6" y="359.5" font-size="3.6" text-anchor="middle" fill="#d3621b">ZEB2</text>
<text x="614.3" y="359.0" font-size="3.6" text-anchor="middle" fill="#d3621b">SNHG14</text>
<text x="627.2" y="360.0" font-size="3.6" text-anchor="middle" fill="#d3621b">AKAP9</text>
<text x="577.5" y="364.1" font-size="3.6" text-anchor="middle" fill="#d3621b">ADGRB3</text>
<text x="590.7" y="364.1" font-size="3.6" text-anchor="middle" fill="#d3621b">PCDH9</text>
<text x="603.8" y="364.5" font-size="3.6" text-anchor="middle" fill="#d3621b">NRXN3</text>
<text x="615.5" y="366.0" font-size="3.6" text-anchor="middle" fill="#d3621b">LINC00</text>
<text x="635.9" y="366.0" font-size="3.6" text-anchor="middle" fill="#d3621b">HNRNPA2B1</text>
<text x="589.2" y="371.0" font-size="3.6" text-anchor="middle" fill="#d3621b">CTNND2</text>
<text x="610.4" y="371.0" font-size="3.6" text-anchor="middle" fill="#d3621b">TCF4</text>
<text x="627.2" y="371.0" font-size="3.6" text-anchor="middle" fill="#d3621b">GRIA2</text>
<text x="582.6" y="376.2" font-size="3.6" text-anchor="middle" fill="#d3621b">PSD3</text>
<text x="595.0" y="376.2" font-size="3.6" text-anchor="middle" fill="#d3621b">AUTS2</text>
<text x="615.5" y="376.5" font-size="3.6" text-anchor="middle" fill="#d3621b">MEF2C</text>
<text x="629.8" y="376.5" font-size="3.6" text-anchor="middle" fill="#d3621b">NRXN1</text>
<text x="580.4" y="382.3" font-size="3.6" text-anchor="middle" fill="#d3621b">RMST</text>
<text x="589.9" y="382.3" font-size="3.6" text-anchor="middle" fill="#d3621b">CNTN1</text>
<text x="614.0" y="381.9" font-size="3.6" text-anchor="middle" fill="#d3621b">DCC</text>
<text x="635.2" y="382.6" font-size="3.6" text-anchor="middle" fill="#d3621b">SOX5</text>
<text x="583.4" y="387.4" font-size="3.6" text-anchor="middle" fill="#d3621b">ROBO2</text>
<text x="594.3" y="387.4" font-size="3.6" text-anchor="middle" fill="#d3621b">MALAT1</text>
<text x="619.9" y="387.4" font-size="3.6" text-anchor="middle" fill="#d3621b">NFIA</text>
<text x="588.5" y="393.3" font-size="3.6" text-anchor="middle" fill="#d3621b">FOXP2</text>
<text x="612.6" y="393.3" font-size="3.6" text-anchor="middle" fill="#d3621b">NEGR1</text>
<text x="625.7" y="393.3" font-size="3.6" text-anchor="middle" fill="#d3621b">SATB2</text>
<text x="593.6" y="399.1" font-size="3.6" text-anchor="middle" fill="#d3621b">TENM2</text>
<text x="608.2" y="399.1" font-size="3.6" text-anchor="middle" fill="#d3621b">PTPRD</text>
<text x="621.3" y="399.1" font-size="3.6" text-anchor="middle" fill="#d3621b">LSAMP</text>
<path d="M607.4 352.9L602.8 358.0M587.7 357.7L603.4 364.6M597.4 358.2L597.4 361.1M607.8 357.7L600.5 359.3M621.8 358.7L605.8 365.7M584.0 362.8L605.0 365.5M596.1 362.8L605.7 362.9M601.9 363.2L601.9 366.3M609.0 364.7L597.7 368.4M626.2 364.7L600.8 366.9M595.7 369.7L598.0 374.3M606.1 369.7L598.3 369.3M621.8 369.7L605.7 371.5M586.9 374.9L603.1 380.0M600.4 374.9L604.6 381.5M610.1 375.2L598.6 378.1M624.4 375.2L598.3 380.3M584.7 381.0L599.3 382.4M595.3 381.0L599.5 386.1M610.8 380.6L601.8 386.5M630.9 381.3L602.9 385.3M588.8 386.1L603.7 388.1M615.6 386.1L599.0 392.6M593.9 392.0L603.1 394.9M607.2 392.0L603.2 392.7M620.3 392.0L605.8 395.2M599.0 397.8L600.0 401.0M602.8 397.8L601.9 401.0M615.9 397.8L598.3 401.0" stroke="#d3621b" stroke-width="0.5" fill="none"/>
<text x="570.0" y="250.0" font-size="6.8" fill="#1a1a1a" stroke="#1a1a1a" stroke-width="0.12">DE</text>
<circle cx="563.1" cy="258.7" r="1.25" fill="#2f74b8"/>
<text x="570.0" y="260.7" font-size="6.8" fill="#1a1a1a" stroke="#1a1a1a" stroke-width="0.12">down</text>
<circle cx="563.1" cy="267.0" r="1.25" fill="#9a9a9a"/>
<text x="570.0" y="269.0" font-size="6.8" fill="#1a1a1a" stroke="#1a1a1a" stroke-width="0.12">no change</text>
<circle cx="563.1" cy="275.3" r="1.25" fill="#d3621b"/>
<text x="570.0" y="277.3" font-size="6.8" fill="#1a1a1a" stroke="#1a1a1a" stroke-width="0.12">up</text>
<text x="271.4" y="476.0" font-size="7.7" font-weight="bold" font-style="italic" fill="#111">GW15-16_Cluster 4&#8722;oRG_shCHRNA7_vs_shCONTROL</text>
<rect x="278.0" y="479.4" width="189.3" height="175.4" fill="none" stroke="#5c5c5c" stroke-width="0.85"/>
<line x1="276.0" y1="647.6" x2="278.2" y2="647.6" stroke="#333" stroke-width="0.5"/>
<text x="275.2" y="650.0" font-size="6.8" text-anchor="end" fill="#4d4d4d" stroke="#4d4d4d" stroke-width="0.12">0</text>
<line x1="276.0" y1="592.7" x2="278.2" y2="592.7" stroke="#333" stroke-width="0.5"/>
<text x="275.2" y="595.1" font-size="6.8" text-anchor="end" fill="#4d4d4d" stroke="#4d4d4d" stroke-width="0.12">1</text>
<line x1="276.0" y1="537.8" x2="278.2" y2="537.8" stroke="#333" stroke-width="0.5"/>
<text x="275.2" y="540.2" font-size="6.8" text-anchor="end" fill="#4d4d4d" stroke="#4d4d4d" stroke-width="0.12">2</text>
<line x1="276.0" y1="482.9" x2="278.2" y2="482.9" stroke="#333" stroke-width="0.5"/>
<text x="275.2" y="485.3" font-size="6.8" text-anchor="end" fill="#4d4d4d" stroke="#4d4d4d" stroke-width="0.12">3</text>
<line x1="285.4" y1="654.8" x2="285.4" y2="657.0" stroke="#333" stroke-width="0.5"/>
<text x="285.4" y="663.2" font-size="6.8" text-anchor="middle" fill="#4d4d4d" stroke="#4d4d4d" stroke-width="0.12">&#8722;1.0</text>
<line x1="322.8" y1="654.8" x2="322.8" y2="657.0" stroke="#333" stroke-width="0.5"/>
<text x="322.8" y="663.2" font-size="6.8" text-anchor="middle" fill="#4d4d4d" stroke="#4d4d4d" stroke-width="0.12">&#8722;0.5</text>
<line x1="359.6" y1="654.8" x2="359.6" y2="657.0" stroke="#333" stroke-width="0.5"/>
<text x="359.6" y="663.2" font-size="6.8" text-anchor="middle" fill="#4d4d4d" stroke="#4d4d4d" stroke-width="0.12">0.0</text>
<line x1="396.8" y1="654.8" x2="396.8" y2="657.0" stroke="#333" stroke-width="0.5"/>
<text x="396.8" y="663.2" font-size="6.8" text-anchor="middle" fill="#4d4d4d" stroke="#4d4d4d" stroke-width="0.12">0.5</text>
<line x1="434.0" y1="654.8" x2="434.0" y2="657.0" stroke="#333" stroke-width="0.5"/>
<text x="434.0" y="663.2" font-size="6.8" text-anchor="middle" fill="#4d4d4d" stroke="#4d4d4d" stroke-width="0.12">1.0</text>
<text x="373.7" y="672.0" font-size="7.7" text-anchor="middle" fill="#1a1a1a" stroke="#1a1a1a" stroke-width="0.12">Log2FoldChange</text>
<text transform="translate(269.0 567.0) rotate(-90)" font-size="7.8" text-anchor="middle" fill="#1a1a1a" stroke="#1a1a1a" stroke-width="0.12">-log10FDR</text>
<line x1="296.2" y1="647.6" x2="416" y2="647.6" stroke="#909090" stroke-width="2.3" stroke-linecap="round"/>
<path d="M285.2 647.6h0M291.2 647.6h0M422.0 647.6h0M424.0 647.6h0M436.5 647.6h0M409.3 577.5h0M391.8 601.6h0M301.0 603.5h0M301.5 604.5h0M377.4 618.7h0M400.9 615.0h0M404.2 613.7h0M396.5 631.8h0M299.6 635.2h0M301.9 632.8h0M375.7 635.5h0M381.4 635.0h0M376.4 642.2h0M384.1 642.3h0M404.2 638.5h0M458.6 630.5h0M380.1 645.6h0" stroke="#9a9a9a" stroke-width="2.60" stroke-linecap="round" fill="none"/>
<path d="M301.3 573.4h0" stroke="#2f74b8" stroke-width="2.30" stroke-linecap="round" fill="none"/>
<text x="299.5" y="578.0" font-size="3.6" text-anchor="middle" fill="#2f74b8">UTY</text>
<path d="M407.6 487.9h0M440.1 501.0h0M391.8 529.8h0M413.6 537.9h0M413.6 568.4h0M424.4 567.4h0" stroke="#d3621b" stroke-width="2.30" stroke-linecap="round" fill="none"/>
<text x="412.5" y="484.3" font-size="3.6" text-anchor="middle" fill="#d3621b">RTN4</text>
<text x="437.0" y="504.6" font-size="3.6" text-anchor="middle" fill="#d3621b">KIT</text>
<text x="418.0" y="535.6" font-size="3.6" text-anchor="middle" fill="#d3621b">FGN2</text>
<text x="411.0" y="573.0" font-size="3.6" text-anchor="middle" fill="#d3621b">SEL1L3</text>
<text x="429.0" y="565.6" font-size="3.6" text-anchor="middle" fill="#d3621b">PCDH7</text>
<text x="398.7" y="527.4" font-size="5.2" text-anchor="middle" font-weight="bold" fill="#d3621b">FAT3</text>
<text x="340.8" y="489.5" font-size="6.8" font-weight="bold" fill="#1a1a1a">DE</text>
<circle cx="333.6" cy="498.3" r="1.25" fill="#2f74b8"/>
<text x="340.8" y="500.4" font-size="6.5" fill="#1a1a1a" stroke="#1a1a1a" stroke-width="0.12">down</text>
<circle cx="333.6" cy="506.5" r="1.25" fill="#9a9a9a"/>
<text x="340.8" y="508.6" font-size="6.5" fill="#1a1a1a" stroke="#1a1a1a" stroke-width="0.12">no change</text>
<circle cx="333.6" cy="514.7" r="1.25" fill="#d3621b"/>
<text x="340.8" y="516.8" font-size="6.5" fill="#1a1a1a" stroke="#1a1a1a" stroke-width="0.12">up</text>
<text x="473.4" y="476.0" font-size="7.7" font-weight="bold" font-style="italic" fill="#111">GW15-16_Cluster 4&#8722;oRG_shCHRFAM7A_vs_shCONTROL</text>
<rect x="485.6" y="479.4" width="193.2" height="176.2" fill="none" stroke="#5c5c5c" stroke-width="0.85"/>
<line x1="484.6" y1="648.6" x2="486.8" y2="648.6" stroke="#333" stroke-width="0.5"/>
<text x="483.8" y="651.0" font-size="6.8" text-anchor="end" fill="#4d4d4d" stroke="#4d4d4d" stroke-width="0.12">0</text>
<line x1="484.6" y1="594.2" x2="486.8" y2="594.2" stroke="#333" stroke-width="0.5"/>
<text x="483.8" y="596.6" font-size="6.8" text-anchor="end" fill="#4d4d4d" stroke="#4d4d4d" stroke-width="0.12">2</text>
<line x1="484.6" y1="539.6" x2="486.8" y2="539.6" stroke="#333" stroke-width="0.5"/>
<text x="483.8" y="542.0" font-size="6.8" text-anchor="end" fill="#4d4d4d" stroke="#4d4d4d" stroke-width="0.12">4</text>
<line x1="484.6" y1="484.9" x2="486.8" y2="484.9" stroke="#333" stroke-width="0.5"/>
<text x="483.8" y="487.3" font-size="6.8" text-anchor="end" fill="#4d4d4d" stroke="#4d4d4d" stroke-width="0.12">6</text>
<line x1="506.3" y1="655.6" x2="506.3" y2="657.8000000000001" stroke="#333" stroke-width="0.5"/>
<text x="506.3" y="664.0" font-size="6.8" text-anchor="middle" fill="#4d4d4d" stroke="#4d4d4d" stroke-width="0.12">&#8722;1</text>
<line x1="570.9" y1="655.6" x2="570.9" y2="657.8000000000001" stroke="#333" stroke-width="0.5"/>
<text x="570.9" y="664.0" font-size="6.8" text-anchor="middle" fill="#4d4d4d" stroke="#4d4d4d" stroke-width="0.12">0</text>
<line x1="636.6" y1="655.6" x2="636.6" y2="657.8000000000001" stroke="#333" stroke-width="0.5"/>
<text x="636.6" y="664.0" font-size="6.8" text-anchor="middle" fill="#4d4d4d" stroke="#4d4d4d" stroke-width="0.12">1</text>
<text x="583.4" y="672.5" font-size="7.7" text-anchor="middle" fill="#1a1a1a" stroke="#1a1a1a" stroke-width="0.12">Log2FoldChange</text>
<text transform="translate(477.0 568.0) rotate(-90)" font-size="7.8" text-anchor="middle" fill="#1a1a1a" stroke="#1a1a1a" stroke-width="0.12">-log10FDR</text>
<line x1="518.6" y1="648.6" x2="627.7" y2="648.6" stroke="#909090" stroke-width="2.3" stroke-linecap="round"/>
<path d="M632.0 648.6h0M640.0 648.6h0M522.3 633.6h0M536.4 627.0h0M514.4 637.4h0M521.9 628.1h0M518.2 627.2h0M507.5 635.7h0M540.2 637.3h0M528.6 627.5h0M519.5 622.0h0M532.8 626.3h0M513.1 645.5h0M515.3 645.4h0M527.8 639.3h0M528.3 623.0h0M532.1 625.2h0M518.3 621.7h0M502.6 628.3h0M500.6 628.8h0M538.3 646.0h0M519.0 621.0h0M515.6 619.8h0M509.8 635.4h0M527.8 618.9h0M521.9 629.8h0M517.9 621.8h0M517.7 620.9h0M530.9 636.2h0M528.3 629.4h0M615.3 622.8h0M616.9 624.7h0M597.7 643.1h0M593.5 632.2h0M586.1 644.9h0M617.4 622.8h0M584.7 631.2h0M599.7 639.7h0M593.0 634.5h0M586.1 624.0h0M583.0 633.3h0M601.4 635.3h0M615.6 626.6h0M593.0 631.0h0M615.9 626.6h0M591.0 629.9h0M606.2 625.8h0M586.6 638.5h0M601.9 634.2h0M580.5 625.0h0M583.9 628.2h0M614.4 645.7h0M561.0 640.0h0M566.0 636.0h0M625.0 620.0h0M630.0 622.0h0M637.0 624.0h0" stroke="#9a9a9a" stroke-width="2.60" stroke-linecap="round" fill="none"/>
<path d="M495.8 487.9h0M494.2 520.4h0M504.2 542.3h0M505.9 558.0h0M513.6 559.0h0M499.5 568.1h0M526.0 556.7h0M513.6 588.2h0M524.3 596.0h0M505.9 600.0h0M509.6 602.6h0M523.7 605.0h0M525.4 605.5h0M520.3 609.3h0M505.2 612.7h0M514.3 611.7h0M528.7 613.7h0" stroke="#2f74b8" stroke-width="2.30" stroke-linecap="round" fill="none"/>
<text x="500.0" y="484.6" font-size="3.6" text-anchor="middle" fill="#2f74b8">MAPT4</text>
<text x="498.0" y="517.0" font-size="3.6" text-anchor="middle" fill="#2f74b8">NR1</text>
<text x="502.0" y="546.0" font-size="3.6" text-anchor="middle" fill="#2f74b8">FLB-A</text>
<text x="502.5" y="554.2" font-size="3.6" text-anchor="middle" fill="#2f74b8">RPTN1</text>
<text x="519.0" y="562.0" font-size="3.6" text-anchor="middle" fill="#2f74b8">ELOVL4</text>
<text x="505.0" y="565.2" font-size="3.6" text-anchor="middle" fill="#2f74b8">CMS3</text>
<text x="531.0" y="553.2" font-size="3.6" text-anchor="middle" fill="#2f74b8">DHM3</text>
<text x="511.0" y="592.0" font-size="3.6" text-anchor="middle" fill="#2f74b8">PRR1</text>
<text x="530.0" y="589.2" font-size="3.6" text-anchor="middle" fill="#2f74b8">MAP7D1</text>
<text x="502.0" y="598.0" font-size="3.6" text-anchor="middle" fill="#2f74b8">NLRD5</text>
<text x="529.5" y="602.0" font-size="3.6" text-anchor="middle" fill="#2f74b8">ATY</text>
<text x="511.0" y="606.2" font-size="3.6" text-anchor="middle" fill="#2f74b8">USBL</text>
<text x="531.5" y="609.4" font-size="3.6" text-anchor="middle" fill="#2f74b8">GAP43</text>
<text x="503.0" y="616.4" font-size="3.6" text-anchor="middle" fill="#2f74b8">EPHB1</text>
<text x="516.0" y="615.8" font-size="3.6" text-anchor="middle" fill="#2f74b8">EPHA</text>
<text x="525.0" y="614.6" font-size="3.6" text-anchor="middle" fill="#2f74b8">CDH8</text>
<path d="M595.6 497.3h0M597.4 497.7h0M602.0 507.7h0M591.9 518.3h0M602.3 516.0h0M590.1 525.6h0M656.7 496.1h0M617.1 525.6h0M590.5 533.7h0M591.5 533.0h0M592.8 539.7h0M593.4 545.1h0M595.2 555.2h0M589.2 561.0h0M589.0 562.0h0M587.5 565.5h0M593.0 565.0h0M605.5 565.5h0M585.2 568.0h0M587.4 577.0h0M595.6 580.5h0M595.0 578.0h0M659.5 588.2h0M653.8 597.0h0M670.3 606.0h0M623.6 612.7h0M626.0 602.6h0M588.0 561.0h0M588.5 562.0h0M592.0 564.5h0M605.5 565.5h0M585.0 568.0h0M587.0 566.0h0M589.0 580.0h0M594.0 578.5h0M596.0 581.0h0M599.0 578.0h0M602.5 584.0h0M605.0 584.0h0M609.0 588.0h0M608.0 587.0h0M617.0 588.0h0M612.0 591.0h0M611.0 594.0h0M594.0 592.0h0M595.0 593.5h0M599.5 595.0h0M609.0 599.0h0M600.0 602.0h0M594.0 602.0h0M586.0 606.0h0M585.0 607.0h0M592.0 610.0h0M594.0 611.0h0M585.5 612.0h0M626.0 601.0h0M623.0 610.5h0M645.0 605.0h0M590.0 585.0h0M597.0 587.0h0M603.0 590.0h0M588.0 596.0h0M604.0 606.0h0M581.0 599.0h0M598.0 598.0h0" stroke="#d3621b" stroke-width="2.30" stroke-linecap="round" fill="none"/>
<text x="591.5" y="494.0" font-size="3.6" text-anchor="middle" fill="#d3621b">WNL-HG</text>
<text x="612.0" y="499.6" font-size="3.6" text-anchor="middle" fill="#d3621b">TMEM132B</text>
<text x="592.0" y="515.0" font-size="3.6" text-anchor="middle" fill="#d3621b">ADGRB3</text>
<text x="607.5" y="513.4" font-size="3.6" text-anchor="middle" fill="#d3621b">ZFHX4</text>
<text x="586.5" y="523.2" font-size="3.6" text-anchor="middle" fill="#d3621b">NRG1</text>
<text x="661.0" y="493.0" font-size="3.6" text-anchor="middle" fill="#d3621b">KIT</text>
<text x="614.5" y="529.3" font-size="3.6" text-anchor="middle" fill="#d3621b">RTN1</text>
<text x="596.5" y="530.2" font-size="3.6" text-anchor="middle" fill="#d3621b">GPC6</text>
<text x="585.0" y="538.0" font-size="3.6" text-anchor="middle" fill="#d3621b">KAZN</text>
<text x="600.0" y="542.4" font-size="3.6" text-anchor="middle" fill="#d3621b">ANTXR</text>
<text x="588.5" y="549.3" font-size="3.6" text-anchor="middle" fill="#d3621b">FBXL7</text>
<text x="606.0" y="553.0" font-size="3.6" text-anchor="middle" fill="#d3621b">DHDDS</text>
<text x="583.5" y="557.2" font-size="3.6" text-anchor="middle" fill="#d3621b">LDAMP</text>
<text x="599.3" y="561.8" font-size="3.6" text-anchor="middle" fill="#d3621b">CTNND2</text>
<text x="616.0" y="562.6" font-size="3.6" text-anchor="middle" fill="#d3621b">CACNB2</text>
<text x="582.5" y="563.0" font-size="3.6" text-anchor="middle" fill="#d3621b">NRXN1</text>
<text x="577.8" y="569.4" font-size="3.6" text-anchor="middle" fill="#d3621b">SLC1A3</text>
<text x="598.5" y="568.6" font-size="3.6" text-anchor="middle" fill="#d3621b">GLI3</text>
<text x="578.7" y="575.0" font-size="3.6" text-anchor="middle" fill="#d3621b">PTPRZ</text>
<text x="593.9" y="573.4" font-size="3.6" text-anchor="middle" fill="#d3621b">PCSK6</text>
<text x="604.3" y="574.4" font-size="3.6" text-anchor="middle" fill="#d3621b">NAAT</text>
<text x="617.6" y="577.8" font-size="3.6" text-anchor="middle" fill="#d3621b">ESPCH</text>
<text x="583.5" y="580.6" font-size="3.6" text-anchor="middle" fill="#d3621b">MAML2</text>
<text x="599.6" y="580.0" font-size="3.6" text-anchor="middle" fill="#d3621b">TAGLN</text>
<text x="575.9" y="586.3" font-size="3.6" text-anchor="middle" fill="#d3621b">SKIDA</text>
<text x="615.7" y="583.8" font-size="3.6" text-anchor="middle" fill="#d3621b">ATRX</text>
<text x="596.7" y="590.1" font-size="3.6" text-anchor="middle" fill="#d3621b">PTPRG</text>
<text x="605.3" y="589.2" font-size="3.6" text-anchor="middle" fill="#d3621b">FUT9</text>
<text x="628.0" y="587.6" font-size="3.6" text-anchor="middle" fill="#d3621b">FBN1</text>
<text x="581.6" y="592.6" font-size="3.6" text-anchor="middle" fill="#d3621b">SHROOM3</text>
<text x="617.6" y="593.0" font-size="3.6" text-anchor="middle" fill="#d3621b">LAMA4</text>
<text x="582.5" y="598.3" font-size="3.6" text-anchor="middle" fill="#d3621b">NRP2</text>
<text x="605.3" y="596.4" font-size="3.6" text-anchor="middle" fill="#d3621b">PEG3</text>
<text x="617.6" y="599.0" font-size="3.6" text-anchor="middle" fill="#d3621b">EDH1</text>
<text x="580.6" y="604.0" font-size="3.6" text-anchor="middle" fill="#d3621b">NFIA</text>
<text x="591.0" y="604.7" font-size="3.6" text-anchor="middle" fill="#d3621b">MAG1</text>
<text x="607.2" y="604.3" font-size="3.6" text-anchor="middle" fill="#d3621b">PTPRM</text>
<text x="632.8" y="604.0" font-size="3.6" text-anchor="middle" fill="#d3621b">SASH1</text>
<text x="579.7" y="610.0" font-size="3.6" text-anchor="middle" fill="#d3621b">EDIL3</text>
<text x="600.5" y="610.0" font-size="3.6" text-anchor="middle" fill="#d3621b">SEMA5A</text>
<text x="626.7" y="609.5" font-size="3.6" text-anchor="middle" fill="#d3621b">MMRN1</text>
<text x="585.4" y="615.3" font-size="3.6" text-anchor="middle" fill="#d3621b">CA10</text>
<text x="595.8" y="616.1" font-size="3.6" text-anchor="middle" fill="#d3621b">NAV3</text>
<text x="652.0" y="592.0" font-size="3.6" text-anchor="middle" fill="#d3621b">ENSG000001</text>
<text x="648.0" y="600.8" font-size="3.6" text-anchor="middle" fill="#d3621b">NRG3</text>
<text x="668.0" y="610.5" font-size="3.6" text-anchor="middle" fill="#d3621b">CNBD1</text>
<path d="M592.0 572.1L592.0 578.5M602.0 573.1L602.0 584.0M612.2 576.5L605.0 584.0M588.9 579.3L594.0 578.5M581.3 585.0L590.0 585.0M611.4 582.5L609.0 588.0M623.7 586.3L617.0 588.0M589.2 591.3L594.0 592.0M612.2 591.7L611.0 594.0M586.8 597.0L595.0 598.0M613.3 597.7L609.0 599.0" stroke="#d3621b" stroke-width="0.5" fill="none"/>
<text x="593.4" y="506.5" font-size="5.5" text-anchor="middle" font-weight="bold" fill="#d3621b">FAT3</text>
<text x="534.4" y="489.5" font-size="6.8" font-weight="bold" fill="#1a1a1a">DE</text>
<circle cx="527.2" cy="498.3" r="1.25" fill="#2f74b8"/>
<text x="534.4" y="500.4" font-size="6.5" fill="#1a1a1a" stroke="#1a1a1a" stroke-width="0.12">down</text>
<circle cx="527.2" cy="506.5" r="1.25" fill="#9a9a9a"/>
<text x="534.4" y="508.6" font-size="6.5" fill="#1a1a1a" stroke="#1a1a1a" stroke-width="0.12">no change</text>
<circle cx="527.2" cy="514.7" r="1.25" fill="#d3621b"/>
<text x="534.4" y="516.8" font-size="6.5" fill="#1a1a1a" stroke="#1a1a1a" stroke-width="0.12">up</text>
</svg></body></html>
